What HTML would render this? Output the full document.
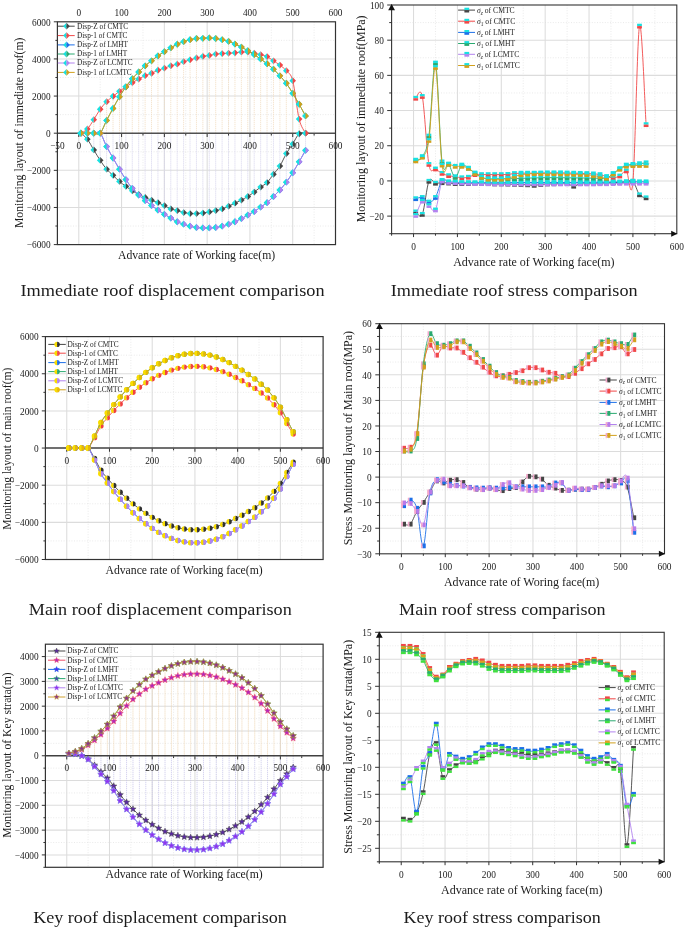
<!DOCTYPE html>
<html><head><meta charset="utf-8"><style>
html,body{margin:0;padding:0;background:#fff;}
svg{display:block;filter:blur(0.35px);}
text{font-family:"Liberation Serif",serif;fill:#1c1c1c;}
</style></head><body>
<svg width="685" height="929" viewBox="0 0 685 929">
<rect width="685" height="929" fill="#fff"/>
<line x1="100.18" y1="21.8" x2="100.18" y2="244.6" stroke="#e4e4e4" stroke-width="0.8" stroke-dasharray="1 1.6"/>
<line x1="142.97" y1="21.8" x2="142.97" y2="244.6" stroke="#e4e4e4" stroke-width="0.8" stroke-dasharray="1 1.6"/>
<line x1="185.75" y1="21.8" x2="185.75" y2="244.6" stroke="#e4e4e4" stroke-width="0.8" stroke-dasharray="1 1.6"/>
<line x1="228.54" y1="21.8" x2="228.54" y2="244.6" stroke="#e4e4e4" stroke-width="0.8" stroke-dasharray="1 1.6"/>
<line x1="271.32" y1="21.8" x2="271.32" y2="244.6" stroke="#e4e4e4" stroke-width="0.8" stroke-dasharray="1 1.6"/>
<line x1="314.11" y1="21.8" x2="314.11" y2="244.6" stroke="#e4e4e4" stroke-width="0.8" stroke-dasharray="1 1.6"/>
<line x1="57.4" y1="226.03" x2="335.5" y2="226.03" stroke="#e4e4e4" stroke-width="0.8" stroke-dasharray="1 1.6"/>
<line x1="57.4" y1="188.9" x2="335.5" y2="188.9" stroke="#e4e4e4" stroke-width="0.8" stroke-dasharray="1 1.6"/>
<line x1="57.4" y1="151.77" x2="335.5" y2="151.77" stroke="#e4e4e4" stroke-width="0.8" stroke-dasharray="1 1.6"/>
<line x1="57.4" y1="114.63" x2="335.5" y2="114.63" stroke="#e4e4e4" stroke-width="0.8" stroke-dasharray="1 1.6"/>
<line x1="57.4" y1="77.5" x2="335.5" y2="77.5" stroke="#e4e4e4" stroke-width="0.8" stroke-dasharray="1 1.6"/>
<line x1="57.4" y1="40.37" x2="335.5" y2="40.37" stroke="#e4e4e4" stroke-width="0.8" stroke-dasharray="1 1.6"/>
<line x1="78.79" y1="21.8" x2="78.79" y2="244.6" stroke="#dcdcdc" stroke-width="1.05"/>
<line x1="121.58" y1="21.8" x2="121.58" y2="244.6" stroke="#dcdcdc" stroke-width="1.05"/>
<line x1="164.36" y1="21.8" x2="164.36" y2="244.6" stroke="#dcdcdc" stroke-width="1.05"/>
<line x1="207.15" y1="21.8" x2="207.15" y2="244.6" stroke="#dcdcdc" stroke-width="1.05"/>
<line x1="249.93" y1="21.8" x2="249.93" y2="244.6" stroke="#dcdcdc" stroke-width="1.05"/>
<line x1="292.72" y1="21.8" x2="292.72" y2="244.6" stroke="#dcdcdc" stroke-width="1.05"/>
<line x1="57.4" y1="207.47" x2="335.5" y2="207.47" stroke="#dcdcdc" stroke-width="1.05"/>
<line x1="57.4" y1="170.33" x2="335.5" y2="170.33" stroke="#dcdcdc" stroke-width="1.05"/>
<line x1="57.4" y1="96.07" x2="335.5" y2="96.07" stroke="#dcdcdc" stroke-width="1.05"/>
<line x1="57.4" y1="58.93" x2="335.5" y2="58.93" stroke="#dcdcdc" stroke-width="1.05"/>
<path d="M80.93,133.2V133.2M87.35,133.2V129.02M93.77,133.2V119.65M100.18,133.2V109.25M106.6,133.2V101.73M113.02,133.2V96.25M119.44,133.2V91.33M125.86,133.2V86.78M132.27,133.2V78.71M138.69,133.2V72.02M145.11,133.2V65.8M151.53,133.2V60.79M157.94,133.2V55.78M164.36,133.2V51.69M170.78,133.2V47.79M177.2,133.2V44.27M183.61,133.2V41.67M190.03,133.2V39.72M196.45,133.2V38.51M202.87,133.2V38.32M209.29,133.2V37.95M215.7,133.2V38.51M222.12,133.2V39.72M228.54,133.2V41.3M234.96,133.2V44.08M241.37,133.2V47.05M247.79,133.2V50.76M254.21,133.2V53.18M260.63,133.2V54.66M267.04,133.2V56.61M273.46,133.2V60.79M279.88,133.2V65.06M286.3,133.2V70.72M292.72,133.2V80.66M299.13,133.2V104.24M305.55,133.2V115.93" stroke="#f2dcc0" stroke-width="0.75" stroke-dasharray="1.3 0.7" fill="none"/>
<path d="M80.93,133.2V133.2M87.35,133.2V139.2M93.77,133.2V149.91M100.18,133.2V160.31M106.6,133.2V169.22M113.02,133.2V175.35M119.44,133.2V181.47M125.86,133.2V186.3M132.27,133.2V190.76M138.69,133.2V195.03M145.11,133.2V200.6M151.53,133.2V205.61M157.94,133.2V210.07M164.36,133.2V214.34M170.78,133.2V218.05M177.2,133.2V221.76M183.61,133.2V224.18M190.03,133.2V226.22M196.45,133.2V227.52M202.87,133.2V227.89M209.29,133.2V227.89M215.7,133.2V227.52M222.12,133.2V226.22M228.54,133.2V224.18M234.96,133.2V221.76M241.37,133.2V218.61M247.79,133.2V215.08M254.21,133.2V211.55M260.63,133.2V207.1M267.04,133.2V202.64M273.46,133.2V196.51M279.88,133.2V190.01M286.3,133.2V182.22M292.72,133.2V172.75M299.13,133.2V161.79M305.55,133.2V150.28" stroke="#d4d2ec" stroke-width="0.75" stroke-dasharray="1.3 0.7" fill="none"/>
<line x1="57.4" y1="133.2" x2="335.5" y2="133.2" stroke="#505050" stroke-width="1.6"/>
<path d="M78.79,133.8V137M121.58,133.8V137M164.36,133.8V137M207.15,133.8V137M249.93,133.8V137M292.72,133.8V137M100.18,133.8V135.6M142.97,133.8V135.6M185.75,133.8V135.6M228.54,133.8V135.6M271.32,133.8V135.6M314.11,133.8V135.6" stroke="#333333" stroke-width="1"/>
<rect x="57.4" y="21.8" width="278.1" height="222.8" fill="none" stroke="#333333" stroke-width="1.2"/>
<path d="M53.8,244.6H57.4M53.8,207.47H57.4M53.8,170.33H57.4M53.8,133.2H57.4M53.8,96.07H57.4M53.8,58.93H57.4M53.8,21.8H57.4M55.4,226.03H57.4M55.4,188.9H57.4M55.4,151.77H57.4M55.4,114.63H57.4M55.4,77.5H57.4M55.4,40.37H57.4" stroke="#333333" stroke-width="1"/>
<text x="50.6" y="248.32" font-size="9.3" text-anchor="end">−6000</text>
<text x="50.6" y="211.19" font-size="9.3" text-anchor="end">−4000</text>
<text x="50.6" y="174.05" font-size="9.3" text-anchor="end">−2000</text>
<text x="50.6" y="136.92" font-size="9.3" text-anchor="end">0</text>
<text x="50.6" y="99.79" font-size="9.3" text-anchor="end">2000</text>
<text x="50.6" y="62.65" font-size="9.3" text-anchor="end">4000</text>
<text x="50.6" y="25.52" font-size="9.3" text-anchor="end">6000</text>
<text x="78.79" y="16" font-size="9.3" text-anchor="middle">0</text>
<text x="121.58" y="16" font-size="9.3" text-anchor="middle">100</text>
<text x="164.36" y="16" font-size="9.3" text-anchor="middle">200</text>
<text x="207.15" y="16" font-size="9.3" text-anchor="middle">300</text>
<text x="249.93" y="16" font-size="9.3" text-anchor="middle">400</text>
<text x="292.72" y="16" font-size="9.3" text-anchor="middle">500</text>
<text x="335.5" y="16" font-size="9.3" text-anchor="middle">600</text>
<text x="57.4" y="148.6" font-size="9.3" text-anchor="middle">−50</text>
<text x="78.79" y="148.6" font-size="9.3" text-anchor="middle">0</text>
<text x="121.58" y="148.6" font-size="9.3" text-anchor="middle">100</text>
<text x="164.36" y="148.6" font-size="9.3" text-anchor="middle">200</text>
<text x="207.15" y="148.6" font-size="9.3" text-anchor="middle">300</text>
<text x="249.93" y="148.6" font-size="9.3" text-anchor="middle">400</text>
<text x="292.72" y="148.6" font-size="9.3" text-anchor="middle">500</text>
<text x="335.5" y="148.6" font-size="9.3" text-anchor="middle">600</text>
<path d="M80.93,133.2C82,134.2 85.21,136.41 87.35,139.2C89.49,141.98 91.63,146.39 93.77,149.91C95.91,153.43 98.05,157.09 100.18,160.31C102.32,163.53 104.46,166.71 106.6,169.22C108.74,171.73 110.88,173.3 113.02,175.35C115.16,177.39 117.3,179.65 119.44,181.47C121.58,183.3 123.72,184.75 125.86,186.3C127.99,187.85 130.13,189.4 132.27,190.76C134.41,192.12 136.55,193.36 138.69,194.47C140.83,195.58 142.97,196.48 145.11,197.44C147.25,198.4 149.39,199.36 151.53,200.23C153.67,201.09 155.8,201.74 157.94,202.64C160.08,203.54 162.22,204.57 164.36,205.61C166.5,206.65 168.64,208.04 170.78,208.88C172.92,209.71 175.06,210.01 177.2,210.62C179.34,211.24 181.48,212.08 183.61,212.57C185.75,213.07 187.89,213.42 190.03,213.59C192.17,213.76 194.31,213.69 196.45,213.59C198.59,213.5 200.73,213.32 202.87,213.04C205.01,212.76 207.15,212.32 209.29,211.92C211.42,211.52 213.56,211.12 215.7,210.62C217.84,210.13 219.98,209.69 222.12,208.95C224.26,208.21 226.4,207.13 228.54,206.17C230.68,205.21 232.82,204.22 234.96,203.2C237.1,202.18 239.23,201.15 241.37,200.04C243.51,198.93 245.65,197.84 247.79,196.51C249.93,195.18 252.07,193.63 254.21,192.06C256.35,190.48 258.49,188.62 260.63,187.04C262.77,185.47 264.91,184.72 267.04,182.59C269.18,180.45 271.32,176.99 273.46,174.23C275.6,171.48 277.74,169.5 279.88,166.06C282.02,162.63 284.16,157.32 286.3,153.62C288.44,149.93 290.58,147.19 292.72,143.88C294.85,140.56 296.99,135.54 299.13,133.76C301.27,131.98 304.48,133.29 305.55,133.2" fill="none" stroke="#454545" stroke-width="0.9" stroke-linejoin="round"/>
<path d="M80.93,129.8L77.63,133.2L80.93,136.6Z" fill="#19e0e0"/><path d="M80.93,129.8L84.23,133.2L80.93,136.6Z" fill="#454545"/><path d="M87.35,135.8L84.05,139.2L87.35,142.6Z" fill="#19e0e0"/><path d="M87.35,135.8L90.65,139.2L87.35,142.6Z" fill="#454545"/><path d="M93.77,146.51L90.47,149.91L93.77,153.31Z" fill="#19e0e0"/><path d="M93.77,146.51L97.07,149.91L93.77,153.31Z" fill="#454545"/><path d="M100.18,156.91L96.88,160.31L100.18,163.71Z" fill="#19e0e0"/><path d="M100.18,156.91L103.48,160.31L100.18,163.71Z" fill="#454545"/><path d="M106.6,165.82L103.3,169.22L106.6,172.62Z" fill="#19e0e0"/><path d="M106.6,165.82L109.9,169.22L106.6,172.62Z" fill="#454545"/><path d="M113.02,171.95L109.72,175.35L113.02,178.75Z" fill="#19e0e0"/><path d="M113.02,171.95L116.32,175.35L113.02,178.75Z" fill="#454545"/><path d="M119.44,178.07L116.14,181.47L119.44,184.87Z" fill="#19e0e0"/><path d="M119.44,178.07L122.74,181.47L119.44,184.87Z" fill="#454545"/><path d="M125.86,182.9L122.56,186.3L125.86,189.7Z" fill="#19e0e0"/><path d="M125.86,182.9L129.16,186.3L125.86,189.7Z" fill="#454545"/><path d="M132.27,187.36L128.97,190.76L132.27,194.16Z" fill="#19e0e0"/><path d="M132.27,187.36L135.57,190.76L132.27,194.16Z" fill="#454545"/><path d="M138.69,191.07L135.39,194.47L138.69,197.87Z" fill="#19e0e0"/><path d="M138.69,191.07L141.99,194.47L138.69,197.87Z" fill="#454545"/><path d="M145.11,194.04L141.81,197.44L145.11,200.84Z" fill="#19e0e0"/><path d="M145.11,194.04L148.41,197.44L145.11,200.84Z" fill="#454545"/><path d="M151.53,196.83L148.23,200.23L151.53,203.63Z" fill="#19e0e0"/><path d="M151.53,196.83L154.83,200.23L151.53,203.63Z" fill="#454545"/><path d="M157.94,199.24L154.64,202.64L157.94,206.04Z" fill="#19e0e0"/><path d="M157.94,199.24L161.24,202.64L157.94,206.04Z" fill="#454545"/><path d="M164.36,202.21L161.06,205.61L164.36,209.01Z" fill="#19e0e0"/><path d="M164.36,202.21L167.66,205.61L164.36,209.01Z" fill="#454545"/><path d="M170.78,205.48L167.48,208.88L170.78,212.28Z" fill="#19e0e0"/><path d="M170.78,205.48L174.08,208.88L170.78,212.28Z" fill="#454545"/><path d="M177.2,207.22L173.9,210.62L177.2,214.02Z" fill="#19e0e0"/><path d="M177.2,207.22L180.5,210.62L177.2,214.02Z" fill="#454545"/><path d="M183.61,209.17L180.31,212.57L183.61,215.97Z" fill="#19e0e0"/><path d="M183.61,209.17L186.91,212.57L183.61,215.97Z" fill="#454545"/><path d="M190.03,210.19L186.73,213.59L190.03,216.99Z" fill="#19e0e0"/><path d="M190.03,210.19L193.33,213.59L190.03,216.99Z" fill="#454545"/><path d="M196.45,210.19L193.15,213.59L196.45,216.99Z" fill="#19e0e0"/><path d="M196.45,210.19L199.75,213.59L196.45,216.99Z" fill="#454545"/><path d="M202.87,209.64L199.57,213.04L202.87,216.44Z" fill="#19e0e0"/><path d="M202.87,209.64L206.17,213.04L202.87,216.44Z" fill="#454545"/><path d="M209.29,208.52L205.99,211.92L209.29,215.32Z" fill="#19e0e0"/><path d="M209.29,208.52L212.59,211.92L209.29,215.32Z" fill="#454545"/><path d="M215.7,207.22L212.4,210.62L215.7,214.02Z" fill="#19e0e0"/><path d="M215.7,207.22L219,210.62L215.7,214.02Z" fill="#454545"/><path d="M222.12,205.55L218.82,208.95L222.12,212.35Z" fill="#19e0e0"/><path d="M222.12,205.55L225.42,208.95L222.12,212.35Z" fill="#454545"/><path d="M228.54,202.77L225.24,206.17L228.54,209.57Z" fill="#19e0e0"/><path d="M228.54,202.77L231.84,206.17L228.54,209.57Z" fill="#454545"/><path d="M234.96,199.8L231.66,203.2L234.96,206.6Z" fill="#19e0e0"/><path d="M234.96,199.8L238.26,203.2L234.96,206.6Z" fill="#454545"/><path d="M241.37,196.64L238.07,200.04L241.37,203.44Z" fill="#19e0e0"/><path d="M241.37,196.64L244.67,200.04L241.37,203.44Z" fill="#454545"/><path d="M247.79,193.11L244.49,196.51L247.79,199.91Z" fill="#19e0e0"/><path d="M247.79,193.11L251.09,196.51L247.79,199.91Z" fill="#454545"/><path d="M254.21,188.66L250.91,192.06L254.21,195.46Z" fill="#19e0e0"/><path d="M254.21,188.66L257.51,192.06L254.21,195.46Z" fill="#454545"/><path d="M260.63,183.64L257.33,187.04L260.63,190.44Z" fill="#19e0e0"/><path d="M260.63,183.64L263.93,187.04L260.63,190.44Z" fill="#454545"/><path d="M267.04,179.19L263.74,182.59L267.04,185.99Z" fill="#19e0e0"/><path d="M267.04,179.19L270.34,182.59L267.04,185.99Z" fill="#454545"/><path d="M273.46,170.83L270.16,174.23L273.46,177.63Z" fill="#19e0e0"/><path d="M273.46,170.83L276.76,174.23L273.46,177.63Z" fill="#454545"/><path d="M279.88,162.66L276.58,166.06L279.88,169.46Z" fill="#19e0e0"/><path d="M279.88,162.66L283.18,166.06L279.88,169.46Z" fill="#454545"/><path d="M286.3,150.22L283,153.62L286.3,157.02Z" fill="#19e0e0"/><path d="M286.3,150.22L289.6,153.62L286.3,157.02Z" fill="#454545"/><path d="M292.72,140.48L289.42,143.88L292.72,147.28Z" fill="#19e0e0"/><path d="M292.72,140.48L296.02,143.88L292.72,147.28Z" fill="#454545"/><path d="M299.13,130.36L295.83,133.76L299.13,137.16Z" fill="#19e0e0"/><path d="M299.13,130.36L302.43,133.76L299.13,137.16Z" fill="#454545"/><path d="M305.55,129.8L302.25,133.2L305.55,136.6Z" fill="#19e0e0"/><path d="M305.55,129.8L308.85,133.2L305.55,136.6Z" fill="#454545"/>
<path d="M80.93,133.2C82,132.5 85.21,131.28 87.35,129.02C89.49,126.76 91.63,122.94 93.77,119.65C95.91,116.35 98.05,112.24 100.18,109.25C102.32,106.26 104.46,103.9 106.6,101.73C108.74,99.56 110.88,97.99 113.02,96.25C115.16,94.52 117.3,92.91 119.44,91.33C121.58,89.75 123.72,88.22 125.86,86.78C127.99,85.34 130.13,84 132.27,82.7C134.41,81.4 136.55,80.16 138.69,78.99C140.83,77.81 142.97,76.6 145.11,75.64C147.25,74.68 149.39,74.13 151.53,73.23C153.67,72.33 155.8,71.09 157.94,70.26C160.08,69.42 162.22,68.96 164.36,68.22C166.5,67.47 168.64,66.48 170.78,65.8C172.92,65.12 175.06,64.81 177.2,64.13C179.34,63.45 181.48,62.43 183.61,61.72C185.75,61.01 187.89,60.48 190.03,59.86C192.17,59.24 194.31,58.59 196.45,58C198.59,57.42 200.73,56.77 202.87,56.33C205.01,55.9 207.15,55.78 209.29,55.41C211.42,55.03 213.56,54.42 215.7,54.11C217.84,53.8 219.98,53.7 222.12,53.55C224.26,53.39 226.4,53.3 228.54,53.18C230.68,53.05 232.82,52.99 234.96,52.81C237.1,52.62 239.23,52.19 241.37,52.06C243.51,51.94 245.65,51.88 247.79,52.06C249.93,52.25 252.07,52.74 254.21,53.18C256.35,53.61 258.49,54.09 260.63,54.66C262.77,55.24 264.91,55.59 267.04,56.61C269.18,57.63 271.32,59.38 273.46,60.79C275.6,62.2 277.74,63.4 279.88,65.06C282.02,66.72 284.16,68.12 286.3,70.72C288.44,73.32 290.58,72.6 292.72,80.66C294.85,88.72 296.99,110.33 299.13,119.09C301.27,127.85 304.48,130.85 305.55,133.2" fill="none" stroke="#f04848" stroke-width="0.9" stroke-linejoin="round"/>
<path d="M80.93,129.8L77.63,133.2L80.93,136.6Z" fill="#19e0e0"/><path d="M80.93,129.8L84.23,133.2L80.93,136.6Z" fill="#f04848"/><path d="M87.35,125.62L84.05,129.02L87.35,132.42Z" fill="#19e0e0"/><path d="M87.35,125.62L90.65,129.02L87.35,132.42Z" fill="#f04848"/><path d="M93.77,116.25L90.47,119.65L93.77,123.05Z" fill="#19e0e0"/><path d="M93.77,116.25L97.07,119.65L93.77,123.05Z" fill="#f04848"/><path d="M100.18,105.85L96.88,109.25L100.18,112.65Z" fill="#19e0e0"/><path d="M100.18,105.85L103.48,109.25L100.18,112.65Z" fill="#f04848"/><path d="M106.6,98.33L103.3,101.73L106.6,105.13Z" fill="#19e0e0"/><path d="M106.6,98.33L109.9,101.73L106.6,105.13Z" fill="#f04848"/><path d="M113.02,92.85L109.72,96.25L113.02,99.65Z" fill="#19e0e0"/><path d="M113.02,92.85L116.32,96.25L113.02,99.65Z" fill="#f04848"/><path d="M119.44,87.93L116.14,91.33L119.44,94.73Z" fill="#19e0e0"/><path d="M119.44,87.93L122.74,91.33L119.44,94.73Z" fill="#f04848"/><path d="M125.86,83.38L122.56,86.78L125.86,90.18Z" fill="#19e0e0"/><path d="M125.86,83.38L129.16,86.78L125.86,90.18Z" fill="#f04848"/><path d="M132.27,79.3L128.97,82.7L132.27,86.1Z" fill="#19e0e0"/><path d="M132.27,79.3L135.57,82.7L132.27,86.1Z" fill="#f04848"/><path d="M138.69,75.59L135.39,78.99L138.69,82.39Z" fill="#19e0e0"/><path d="M138.69,75.59L141.99,78.99L138.69,82.39Z" fill="#f04848"/><path d="M145.11,72.24L141.81,75.64L145.11,79.04Z" fill="#19e0e0"/><path d="M145.11,72.24L148.41,75.64L145.11,79.04Z" fill="#f04848"/><path d="M151.53,69.83L148.23,73.23L151.53,76.63Z" fill="#19e0e0"/><path d="M151.53,69.83L154.83,73.23L151.53,76.63Z" fill="#f04848"/><path d="M157.94,66.86L154.64,70.26L157.94,73.66Z" fill="#19e0e0"/><path d="M157.94,66.86L161.24,70.26L157.94,73.66Z" fill="#f04848"/><path d="M164.36,64.82L161.06,68.22L164.36,71.62Z" fill="#19e0e0"/><path d="M164.36,64.82L167.66,68.22L164.36,71.62Z" fill="#f04848"/><path d="M170.78,62.4L167.48,65.8L170.78,69.2Z" fill="#19e0e0"/><path d="M170.78,62.4L174.08,65.8L170.78,69.2Z" fill="#f04848"/><path d="M177.2,60.73L173.9,64.13L177.2,67.53Z" fill="#19e0e0"/><path d="M177.2,60.73L180.5,64.13L177.2,67.53Z" fill="#f04848"/><path d="M183.61,58.32L180.31,61.72L183.61,65.12Z" fill="#19e0e0"/><path d="M183.61,58.32L186.91,61.72L183.61,65.12Z" fill="#f04848"/><path d="M190.03,56.46L186.73,59.86L190.03,63.26Z" fill="#19e0e0"/><path d="M190.03,56.46L193.33,59.86L190.03,63.26Z" fill="#f04848"/><path d="M196.45,54.6L193.15,58L196.45,61.4Z" fill="#19e0e0"/><path d="M196.45,54.6L199.75,58L196.45,61.4Z" fill="#f04848"/><path d="M202.87,52.93L199.57,56.33L202.87,59.73Z" fill="#19e0e0"/><path d="M202.87,52.93L206.17,56.33L202.87,59.73Z" fill="#f04848"/><path d="M209.29,52.01L205.99,55.41L209.29,58.81Z" fill="#19e0e0"/><path d="M209.29,52.01L212.59,55.41L209.29,58.81Z" fill="#f04848"/><path d="M215.7,50.71L212.4,54.11L215.7,57.51Z" fill="#19e0e0"/><path d="M215.7,50.71L219,54.11L215.7,57.51Z" fill="#f04848"/><path d="M222.12,50.15L218.82,53.55L222.12,56.95Z" fill="#19e0e0"/><path d="M222.12,50.15L225.42,53.55L222.12,56.95Z" fill="#f04848"/><path d="M228.54,49.78L225.24,53.18L228.54,56.58Z" fill="#19e0e0"/><path d="M228.54,49.78L231.84,53.18L228.54,56.58Z" fill="#f04848"/><path d="M234.96,49.41L231.66,52.81L234.96,56.21Z" fill="#19e0e0"/><path d="M234.96,49.41L238.26,52.81L234.96,56.21Z" fill="#f04848"/><path d="M241.37,48.66L238.07,52.06L241.37,55.46Z" fill="#19e0e0"/><path d="M241.37,48.66L244.67,52.06L241.37,55.46Z" fill="#f04848"/><path d="M247.79,48.66L244.49,52.06L247.79,55.46Z" fill="#19e0e0"/><path d="M247.79,48.66L251.09,52.06L247.79,55.46Z" fill="#f04848"/><path d="M254.21,49.78L250.91,53.18L254.21,56.58Z" fill="#19e0e0"/><path d="M254.21,49.78L257.51,53.18L254.21,56.58Z" fill="#f04848"/><path d="M260.63,51.26L257.33,54.66L260.63,58.06Z" fill="#19e0e0"/><path d="M260.63,51.26L263.93,54.66L260.63,58.06Z" fill="#f04848"/><path d="M267.04,53.21L263.74,56.61L267.04,60.01Z" fill="#19e0e0"/><path d="M267.04,53.21L270.34,56.61L267.04,60.01Z" fill="#f04848"/><path d="M273.46,57.39L270.16,60.79L273.46,64.19Z" fill="#19e0e0"/><path d="M273.46,57.39L276.76,60.79L273.46,64.19Z" fill="#f04848"/><path d="M279.88,61.66L276.58,65.06L279.88,68.46Z" fill="#19e0e0"/><path d="M279.88,61.66L283.18,65.06L279.88,68.46Z" fill="#f04848"/><path d="M286.3,67.32L283,70.72L286.3,74.12Z" fill="#19e0e0"/><path d="M286.3,67.32L289.6,70.72L286.3,74.12Z" fill="#f04848"/><path d="M292.72,77.26L289.42,80.66L292.72,84.06Z" fill="#19e0e0"/><path d="M292.72,77.26L296.02,80.66L292.72,84.06Z" fill="#f04848"/><path d="M299.13,115.69L295.83,119.09L299.13,122.49Z" fill="#19e0e0"/><path d="M299.13,115.69L302.43,119.09L299.13,122.49Z" fill="#f04848"/><path d="M305.55,129.8L302.25,133.2L305.55,136.6Z" fill="#19e0e0"/><path d="M305.55,129.8L308.85,133.2L305.55,136.6Z" fill="#f04848"/>
<path d="M80.93,133.2C82,133.2 85.21,133.2 87.35,133.2C89.49,133.2 91.63,133.2 93.77,133.2C95.91,133.2 98.05,130.97 100.18,133.2C102.32,135.43 104.46,142.44 106.6,146.57C108.74,150.7 110.88,154.21 113.02,157.99C115.16,161.76 117.3,165.61 119.44,169.22C121.58,172.82 123.72,176.43 125.86,179.62C127.99,182.8 130.13,185.77 132.27,188.34C134.41,190.91 136.55,192.98 138.69,195.03C140.83,197.07 142.97,198.83 145.11,200.6C147.25,202.36 149.39,204.03 151.53,205.61C153.67,207.19 155.8,208.61 157.94,210.07C160.08,211.52 162.22,213.01 164.36,214.34C166.5,215.67 168.64,216.81 170.78,218.05C172.92,219.29 175.06,220.74 177.2,221.76C179.34,222.78 181.48,223.43 183.61,224.18C185.75,224.92 187.89,225.66 190.03,226.22C192.17,226.78 194.31,227.24 196.45,227.52C198.59,227.8 200.73,227.83 202.87,227.89C205.01,227.95 207.15,227.95 209.29,227.89C211.42,227.83 213.56,227.8 215.7,227.52C217.84,227.24 219.98,226.78 222.12,226.22C224.26,225.66 226.4,224.92 228.54,224.18C230.68,223.43 232.82,222.69 234.96,221.76C237.1,220.83 239.23,219.72 241.37,218.61C243.51,217.49 245.65,216.25 247.79,215.08C249.93,213.9 252.07,212.88 254.21,211.55C256.35,210.22 258.49,208.58 260.63,207.1C262.77,205.61 264.91,204.4 267.04,202.64C269.18,200.88 271.32,198.62 273.46,196.51C275.6,194.41 277.74,192.4 279.88,190.01C282.02,187.63 284.16,185.09 286.3,182.22C288.44,179.34 290.58,176.15 292.72,172.75C294.85,169.34 296.99,165.54 299.13,161.79C301.27,158.05 304.48,152.2 305.55,150.28" fill="none" stroke="#1c6fe8" stroke-width="0.9" stroke-linejoin="round"/>
<path d="M80.93,129.8L77.63,133.2L80.93,136.6Z" fill="#19e0e0"/><path d="M80.93,129.8L84.23,133.2L80.93,136.6Z" fill="#1c6fe8"/><path d="M87.35,129.8L84.05,133.2L87.35,136.6Z" fill="#19e0e0"/><path d="M87.35,129.8L90.65,133.2L87.35,136.6Z" fill="#1c6fe8"/><path d="M93.77,129.8L90.47,133.2L93.77,136.6Z" fill="#19e0e0"/><path d="M93.77,129.8L97.07,133.2L93.77,136.6Z" fill="#1c6fe8"/><path d="M100.18,129.8L96.88,133.2L100.18,136.6Z" fill="#19e0e0"/><path d="M100.18,129.8L103.48,133.2L100.18,136.6Z" fill="#1c6fe8"/><path d="M106.6,143.17L103.3,146.57L106.6,149.97Z" fill="#19e0e0"/><path d="M106.6,143.17L109.9,146.57L106.6,149.97Z" fill="#1c6fe8"/><path d="M113.02,154.59L109.72,157.99L113.02,161.39Z" fill="#19e0e0"/><path d="M113.02,154.59L116.32,157.99L113.02,161.39Z" fill="#1c6fe8"/><path d="M119.44,165.82L116.14,169.22L119.44,172.62Z" fill="#19e0e0"/><path d="M119.44,165.82L122.74,169.22L119.44,172.62Z" fill="#1c6fe8"/><path d="M125.86,176.22L122.56,179.62L125.86,183.02Z" fill="#19e0e0"/><path d="M125.86,176.22L129.16,179.62L125.86,183.02Z" fill="#1c6fe8"/><path d="M132.27,184.94L128.97,188.34L132.27,191.74Z" fill="#19e0e0"/><path d="M132.27,184.94L135.57,188.34L132.27,191.74Z" fill="#1c6fe8"/><path d="M138.69,191.63L135.39,195.03L138.69,198.43Z" fill="#19e0e0"/><path d="M138.69,191.63L141.99,195.03L138.69,198.43Z" fill="#1c6fe8"/><path d="M145.11,197.2L141.81,200.6L145.11,204Z" fill="#19e0e0"/><path d="M145.11,197.2L148.41,200.6L145.11,204Z" fill="#1c6fe8"/><path d="M151.53,202.21L148.23,205.61L151.53,209.01Z" fill="#19e0e0"/><path d="M151.53,202.21L154.83,205.61L151.53,209.01Z" fill="#1c6fe8"/><path d="M157.94,206.67L154.64,210.07L157.94,213.47Z" fill="#19e0e0"/><path d="M157.94,206.67L161.24,210.07L157.94,213.47Z" fill="#1c6fe8"/><path d="M164.36,210.94L161.06,214.34L164.36,217.74Z" fill="#19e0e0"/><path d="M164.36,210.94L167.66,214.34L164.36,217.74Z" fill="#1c6fe8"/><path d="M170.78,214.65L167.48,218.05L170.78,221.45Z" fill="#19e0e0"/><path d="M170.78,214.65L174.08,218.05L170.78,221.45Z" fill="#1c6fe8"/><path d="M177.2,218.36L173.9,221.76L177.2,225.16Z" fill="#19e0e0"/><path d="M177.2,218.36L180.5,221.76L177.2,225.16Z" fill="#1c6fe8"/><path d="M183.61,220.78L180.31,224.18L183.61,227.58Z" fill="#19e0e0"/><path d="M183.61,220.78L186.91,224.18L183.61,227.58Z" fill="#1c6fe8"/><path d="M190.03,222.82L186.73,226.22L190.03,229.62Z" fill="#19e0e0"/><path d="M190.03,222.82L193.33,226.22L190.03,229.62Z" fill="#1c6fe8"/><path d="M196.45,224.12L193.15,227.52L196.45,230.92Z" fill="#19e0e0"/><path d="M196.45,224.12L199.75,227.52L196.45,230.92Z" fill="#1c6fe8"/><path d="M202.87,224.49L199.57,227.89L202.87,231.29Z" fill="#19e0e0"/><path d="M202.87,224.49L206.17,227.89L202.87,231.29Z" fill="#1c6fe8"/><path d="M209.29,224.49L205.99,227.89L209.29,231.29Z" fill="#19e0e0"/><path d="M209.29,224.49L212.59,227.89L209.29,231.29Z" fill="#1c6fe8"/><path d="M215.7,224.12L212.4,227.52L215.7,230.92Z" fill="#19e0e0"/><path d="M215.7,224.12L219,227.52L215.7,230.92Z" fill="#1c6fe8"/><path d="M222.12,222.82L218.82,226.22L222.12,229.62Z" fill="#19e0e0"/><path d="M222.12,222.82L225.42,226.22L222.12,229.62Z" fill="#1c6fe8"/><path d="M228.54,220.78L225.24,224.18L228.54,227.58Z" fill="#19e0e0"/><path d="M228.54,220.78L231.84,224.18L228.54,227.58Z" fill="#1c6fe8"/><path d="M234.96,218.36L231.66,221.76L234.96,225.16Z" fill="#19e0e0"/><path d="M234.96,218.36L238.26,221.76L234.96,225.16Z" fill="#1c6fe8"/><path d="M241.37,215.21L238.07,218.61L241.37,222.01Z" fill="#19e0e0"/><path d="M241.37,215.21L244.67,218.61L241.37,222.01Z" fill="#1c6fe8"/><path d="M247.79,211.68L244.49,215.08L247.79,218.48Z" fill="#19e0e0"/><path d="M247.79,211.68L251.09,215.08L247.79,218.48Z" fill="#1c6fe8"/><path d="M254.21,208.15L250.91,211.55L254.21,214.95Z" fill="#19e0e0"/><path d="M254.21,208.15L257.51,211.55L254.21,214.95Z" fill="#1c6fe8"/><path d="M260.63,203.7L257.33,207.1L260.63,210.5Z" fill="#19e0e0"/><path d="M260.63,203.7L263.93,207.1L260.63,210.5Z" fill="#1c6fe8"/><path d="M267.04,199.24L263.74,202.64L267.04,206.04Z" fill="#19e0e0"/><path d="M267.04,199.24L270.34,202.64L267.04,206.04Z" fill="#1c6fe8"/><path d="M273.46,193.11L270.16,196.51L273.46,199.91Z" fill="#19e0e0"/><path d="M273.46,193.11L276.76,196.51L273.46,199.91Z" fill="#1c6fe8"/><path d="M279.88,186.61L276.58,190.01L279.88,193.41Z" fill="#19e0e0"/><path d="M279.88,186.61L283.18,190.01L279.88,193.41Z" fill="#1c6fe8"/><path d="M286.3,178.82L283,182.22L286.3,185.62Z" fill="#19e0e0"/><path d="M286.3,178.82L289.6,182.22L286.3,185.62Z" fill="#1c6fe8"/><path d="M292.72,169.35L289.42,172.75L292.72,176.15Z" fill="#19e0e0"/><path d="M292.72,169.35L296.02,172.75L292.72,176.15Z" fill="#1c6fe8"/><path d="M299.13,158.39L295.83,161.79L299.13,165.19Z" fill="#19e0e0"/><path d="M299.13,158.39L302.43,161.79L299.13,165.19Z" fill="#1c6fe8"/><path d="M305.55,146.88L302.25,150.28L305.55,153.68Z" fill="#19e0e0"/><path d="M305.55,146.88L308.85,150.28L305.55,153.68Z" fill="#1c6fe8"/>
<path d="M80.93,133.2C82,133.2 85.21,133.2 87.35,133.2C89.49,133.2 91.63,133.2 93.77,133.2C95.91,133.2 98.05,135.34 100.18,133.2C102.32,131.06 104.46,124.52 106.6,120.39C108.74,116.26 110.88,112.34 113.02,108.41C115.16,104.48 117.3,100.41 119.44,96.81C121.58,93.2 123.72,89.8 125.86,86.78C127.99,83.77 130.13,81.17 132.27,78.71C134.41,76.25 136.55,74.17 138.69,72.02C140.83,69.87 142.97,67.68 145.11,65.8C147.25,63.93 149.39,62.46 151.53,60.79C153.67,59.12 155.8,57.29 157.94,55.78C160.08,54.26 162.22,53.02 164.36,51.69C166.5,50.36 168.64,49.03 170.78,47.79C172.92,46.56 175.06,45.29 177.2,44.27C179.34,43.24 181.48,42.42 183.61,41.67C185.75,40.91 187.89,40.24 190.03,39.72C192.17,39.19 194.31,38.74 196.45,38.51C198.59,38.28 200.73,38.42 202.87,38.32C205.01,38.23 207.15,37.92 209.29,37.95C211.42,37.98 213.56,38.22 215.7,38.51C217.84,38.8 219.98,39.25 222.12,39.72C224.26,40.18 226.4,40.57 228.54,41.3C230.68,42.02 232.82,43.12 234.96,44.08C237.1,45.04 239.23,45.94 241.37,47.05C243.51,48.16 245.65,49.5 247.79,50.76C249.93,52.03 252.07,53.3 254.21,54.66C256.35,56.02 258.49,57.42 260.63,58.93C262.77,60.45 264.91,62.06 267.04,63.76C269.18,65.46 271.32,67.13 273.46,69.15C275.6,71.16 277.74,73.48 279.88,75.83C282.02,78.18 284.16,80.35 286.3,83.26C288.44,86.16 290.58,89.78 292.72,93.28C294.85,96.78 296.99,100.46 299.13,104.24C301.27,108.01 304.48,113.98 305.55,115.93" fill="none" stroke="#2aaa70" stroke-width="0.9" stroke-linejoin="round"/>
<path d="M80.93,129.8L77.63,133.2L80.93,136.6Z" fill="#19e0e0"/><path d="M80.93,129.8L84.23,133.2L80.93,136.6Z" fill="#2aaa70"/><path d="M87.35,129.8L84.05,133.2L87.35,136.6Z" fill="#19e0e0"/><path d="M87.35,129.8L90.65,133.2L87.35,136.6Z" fill="#2aaa70"/><path d="M93.77,129.8L90.47,133.2L93.77,136.6Z" fill="#19e0e0"/><path d="M93.77,129.8L97.07,133.2L93.77,136.6Z" fill="#2aaa70"/><path d="M100.18,129.8L96.88,133.2L100.18,136.6Z" fill="#19e0e0"/><path d="M100.18,129.8L103.48,133.2L100.18,136.6Z" fill="#2aaa70"/><path d="M106.6,116.99L103.3,120.39L106.6,123.79Z" fill="#19e0e0"/><path d="M106.6,116.99L109.9,120.39L106.6,123.79Z" fill="#2aaa70"/><path d="M113.02,105.01L109.72,108.41L113.02,111.81Z" fill="#19e0e0"/><path d="M113.02,105.01L116.32,108.41L113.02,111.81Z" fill="#2aaa70"/><path d="M119.44,93.41L116.14,96.81L119.44,100.21Z" fill="#19e0e0"/><path d="M119.44,93.41L122.74,96.81L119.44,100.21Z" fill="#2aaa70"/><path d="M125.86,83.38L122.56,86.78L125.86,90.18Z" fill="#19e0e0"/><path d="M125.86,83.38L129.16,86.78L125.86,90.18Z" fill="#2aaa70"/><path d="M132.27,75.31L128.97,78.71L132.27,82.11Z" fill="#19e0e0"/><path d="M132.27,75.31L135.57,78.71L132.27,82.11Z" fill="#2aaa70"/><path d="M138.69,68.62L135.39,72.02L138.69,75.42Z" fill="#19e0e0"/><path d="M138.69,68.62L141.99,72.02L138.69,75.42Z" fill="#2aaa70"/><path d="M145.11,62.4L141.81,65.8L145.11,69.2Z" fill="#19e0e0"/><path d="M145.11,62.4L148.41,65.8L145.11,69.2Z" fill="#2aaa70"/><path d="M151.53,57.39L148.23,60.79L151.53,64.19Z" fill="#19e0e0"/><path d="M151.53,57.39L154.83,60.79L151.53,64.19Z" fill="#2aaa70"/><path d="M157.94,52.38L154.64,55.78L157.94,59.18Z" fill="#19e0e0"/><path d="M157.94,52.38L161.24,55.78L157.94,59.18Z" fill="#2aaa70"/><path d="M164.36,48.29L161.06,51.69L164.36,55.09Z" fill="#19e0e0"/><path d="M164.36,48.29L167.66,51.69L164.36,55.09Z" fill="#2aaa70"/><path d="M170.78,44.39L167.48,47.79L170.78,51.19Z" fill="#19e0e0"/><path d="M170.78,44.39L174.08,47.79L170.78,51.19Z" fill="#2aaa70"/><path d="M177.2,40.87L173.9,44.27L177.2,47.67Z" fill="#19e0e0"/><path d="M177.2,40.87L180.5,44.27L177.2,47.67Z" fill="#2aaa70"/><path d="M183.61,38.27L180.31,41.67L183.61,45.07Z" fill="#19e0e0"/><path d="M183.61,38.27L186.91,41.67L183.61,45.07Z" fill="#2aaa70"/><path d="M190.03,36.32L186.73,39.72L190.03,43.12Z" fill="#19e0e0"/><path d="M190.03,36.32L193.33,39.72L190.03,43.12Z" fill="#2aaa70"/><path d="M196.45,35.11L193.15,38.51L196.45,41.91Z" fill="#19e0e0"/><path d="M196.45,35.11L199.75,38.51L196.45,41.91Z" fill="#2aaa70"/><path d="M202.87,34.92L199.57,38.32L202.87,41.72Z" fill="#19e0e0"/><path d="M202.87,34.92L206.17,38.32L202.87,41.72Z" fill="#2aaa70"/><path d="M209.29,34.55L205.99,37.95L209.29,41.35Z" fill="#19e0e0"/><path d="M209.29,34.55L212.59,37.95L209.29,41.35Z" fill="#2aaa70"/><path d="M215.7,35.11L212.4,38.51L215.7,41.91Z" fill="#19e0e0"/><path d="M215.7,35.11L219,38.51L215.7,41.91Z" fill="#2aaa70"/><path d="M222.12,36.32L218.82,39.72L222.12,43.12Z" fill="#19e0e0"/><path d="M222.12,36.32L225.42,39.72L222.12,43.12Z" fill="#2aaa70"/><path d="M228.54,37.9L225.24,41.3L228.54,44.7Z" fill="#19e0e0"/><path d="M228.54,37.9L231.84,41.3L228.54,44.7Z" fill="#2aaa70"/><path d="M234.96,40.68L231.66,44.08L234.96,47.48Z" fill="#19e0e0"/><path d="M234.96,40.68L238.26,44.08L234.96,47.48Z" fill="#2aaa70"/><path d="M241.37,43.65L238.07,47.05L241.37,50.45Z" fill="#19e0e0"/><path d="M241.37,43.65L244.67,47.05L241.37,50.45Z" fill="#2aaa70"/><path d="M247.79,47.36L244.49,50.76L247.79,54.16Z" fill="#19e0e0"/><path d="M247.79,47.36L251.09,50.76L247.79,54.16Z" fill="#2aaa70"/><path d="M254.21,51.26L250.91,54.66L254.21,58.06Z" fill="#19e0e0"/><path d="M254.21,51.26L257.51,54.66L254.21,58.06Z" fill="#2aaa70"/><path d="M260.63,55.53L257.33,58.93L260.63,62.33Z" fill="#19e0e0"/><path d="M260.63,55.53L263.93,58.93L260.63,62.33Z" fill="#2aaa70"/><path d="M267.04,60.36L263.74,63.76L267.04,67.16Z" fill="#19e0e0"/><path d="M267.04,60.36L270.34,63.76L267.04,67.16Z" fill="#2aaa70"/><path d="M273.46,65.75L270.16,69.15L273.46,72.55Z" fill="#19e0e0"/><path d="M273.46,65.75L276.76,69.15L273.46,72.55Z" fill="#2aaa70"/><path d="M279.88,72.43L276.58,75.83L279.88,79.23Z" fill="#19e0e0"/><path d="M279.88,72.43L283.18,75.83L279.88,79.23Z" fill="#2aaa70"/><path d="M286.3,79.86L283,83.26L286.3,86.66Z" fill="#19e0e0"/><path d="M286.3,79.86L289.6,83.26L286.3,86.66Z" fill="#2aaa70"/><path d="M292.72,89.88L289.42,93.28L292.72,96.68Z" fill="#19e0e0"/><path d="M292.72,89.88L296.02,93.28L292.72,96.68Z" fill="#2aaa70"/><path d="M299.13,100.84L295.83,104.24L299.13,107.64Z" fill="#19e0e0"/><path d="M299.13,100.84L302.43,104.24L299.13,107.64Z" fill="#2aaa70"/><path d="M305.55,112.53L302.25,115.93L305.55,119.33Z" fill="#19e0e0"/><path d="M305.55,112.53L308.85,115.93L305.55,119.33Z" fill="#2aaa70"/>
<path d="M80.93,133.2C82,133.2 85.21,133.2 87.35,133.2C89.49,133.2 91.63,133.2 93.77,133.2C95.91,133.2 98.05,130.97 100.18,133.2C102.32,135.43 104.46,142.44 106.6,146.57C108.74,150.7 110.88,154.21 113.02,157.99C115.16,161.76 117.3,165.61 119.44,169.22C121.58,172.82 123.72,176.43 125.86,179.62C127.99,182.8 130.13,185.77 132.27,188.34C134.41,190.91 136.55,192.98 138.69,195.03C140.83,197.07 142.97,198.83 145.11,200.6C147.25,202.36 149.39,204.03 151.53,205.61C153.67,207.19 155.8,208.61 157.94,210.07C160.08,211.52 162.22,213.01 164.36,214.34C166.5,215.67 168.64,216.81 170.78,218.05C172.92,219.29 175.06,220.74 177.2,221.76C179.34,222.78 181.48,223.43 183.61,224.18C185.75,224.92 187.89,225.66 190.03,226.22C192.17,226.78 194.31,227.24 196.45,227.52C198.59,227.8 200.73,227.83 202.87,227.89C205.01,227.95 207.15,227.95 209.29,227.89C211.42,227.83 213.56,227.8 215.7,227.52C217.84,227.24 219.98,226.78 222.12,226.22C224.26,225.66 226.4,224.92 228.54,224.18C230.68,223.43 232.82,222.69 234.96,221.76C237.1,220.83 239.23,219.72 241.37,218.61C243.51,217.49 245.65,216.25 247.79,215.08C249.93,213.9 252.07,212.88 254.21,211.55C256.35,210.22 258.49,208.58 260.63,207.1C262.77,205.61 264.91,204.4 267.04,202.64C269.18,200.88 271.32,198.62 273.46,196.51C275.6,194.41 277.74,192.4 279.88,190.01C282.02,187.63 284.16,185.09 286.3,182.22C288.44,179.34 290.58,176.15 292.72,172.75C294.85,169.34 296.99,165.54 299.13,161.79C301.27,158.05 304.48,152.2 305.55,150.28" fill="none" stroke="#b283ee" stroke-width="0.9" stroke-linejoin="round"/>
<path d="M80.93,129.8L77.63,133.2L80.93,136.6Z" fill="#19e0e0"/><path d="M80.93,129.8L84.23,133.2L80.93,136.6Z" fill="#b283ee"/><path d="M87.35,129.8L84.05,133.2L87.35,136.6Z" fill="#19e0e0"/><path d="M87.35,129.8L90.65,133.2L87.35,136.6Z" fill="#b283ee"/><path d="M93.77,129.8L90.47,133.2L93.77,136.6Z" fill="#19e0e0"/><path d="M93.77,129.8L97.07,133.2L93.77,136.6Z" fill="#b283ee"/><path d="M100.18,129.8L96.88,133.2L100.18,136.6Z" fill="#19e0e0"/><path d="M100.18,129.8L103.48,133.2L100.18,136.6Z" fill="#b283ee"/><path d="M106.6,143.17L103.3,146.57L106.6,149.97Z" fill="#19e0e0"/><path d="M106.6,143.17L109.9,146.57L106.6,149.97Z" fill="#b283ee"/><path d="M113.02,154.59L109.72,157.99L113.02,161.39Z" fill="#19e0e0"/><path d="M113.02,154.59L116.32,157.99L113.02,161.39Z" fill="#b283ee"/><path d="M119.44,165.82L116.14,169.22L119.44,172.62Z" fill="#19e0e0"/><path d="M119.44,165.82L122.74,169.22L119.44,172.62Z" fill="#b283ee"/><path d="M125.86,176.22L122.56,179.62L125.86,183.02Z" fill="#19e0e0"/><path d="M125.86,176.22L129.16,179.62L125.86,183.02Z" fill="#b283ee"/><path d="M132.27,184.94L128.97,188.34L132.27,191.74Z" fill="#19e0e0"/><path d="M132.27,184.94L135.57,188.34L132.27,191.74Z" fill="#b283ee"/><path d="M138.69,191.63L135.39,195.03L138.69,198.43Z" fill="#19e0e0"/><path d="M138.69,191.63L141.99,195.03L138.69,198.43Z" fill="#b283ee"/><path d="M145.11,197.2L141.81,200.6L145.11,204Z" fill="#19e0e0"/><path d="M145.11,197.2L148.41,200.6L145.11,204Z" fill="#b283ee"/><path d="M151.53,202.21L148.23,205.61L151.53,209.01Z" fill="#19e0e0"/><path d="M151.53,202.21L154.83,205.61L151.53,209.01Z" fill="#b283ee"/><path d="M157.94,206.67L154.64,210.07L157.94,213.47Z" fill="#19e0e0"/><path d="M157.94,206.67L161.24,210.07L157.94,213.47Z" fill="#b283ee"/><path d="M164.36,210.94L161.06,214.34L164.36,217.74Z" fill="#19e0e0"/><path d="M164.36,210.94L167.66,214.34L164.36,217.74Z" fill="#b283ee"/><path d="M170.78,214.65L167.48,218.05L170.78,221.45Z" fill="#19e0e0"/><path d="M170.78,214.65L174.08,218.05L170.78,221.45Z" fill="#b283ee"/><path d="M177.2,218.36L173.9,221.76L177.2,225.16Z" fill="#19e0e0"/><path d="M177.2,218.36L180.5,221.76L177.2,225.16Z" fill="#b283ee"/><path d="M183.61,220.78L180.31,224.18L183.61,227.58Z" fill="#19e0e0"/><path d="M183.61,220.78L186.91,224.18L183.61,227.58Z" fill="#b283ee"/><path d="M190.03,222.82L186.73,226.22L190.03,229.62Z" fill="#19e0e0"/><path d="M190.03,222.82L193.33,226.22L190.03,229.62Z" fill="#b283ee"/><path d="M196.45,224.12L193.15,227.52L196.45,230.92Z" fill="#19e0e0"/><path d="M196.45,224.12L199.75,227.52L196.45,230.92Z" fill="#b283ee"/><path d="M202.87,224.49L199.57,227.89L202.87,231.29Z" fill="#19e0e0"/><path d="M202.87,224.49L206.17,227.89L202.87,231.29Z" fill="#b283ee"/><path d="M209.29,224.49L205.99,227.89L209.29,231.29Z" fill="#19e0e0"/><path d="M209.29,224.49L212.59,227.89L209.29,231.29Z" fill="#b283ee"/><path d="M215.7,224.12L212.4,227.52L215.7,230.92Z" fill="#19e0e0"/><path d="M215.7,224.12L219,227.52L215.7,230.92Z" fill="#b283ee"/><path d="M222.12,222.82L218.82,226.22L222.12,229.62Z" fill="#19e0e0"/><path d="M222.12,222.82L225.42,226.22L222.12,229.62Z" fill="#b283ee"/><path d="M228.54,220.78L225.24,224.18L228.54,227.58Z" fill="#19e0e0"/><path d="M228.54,220.78L231.84,224.18L228.54,227.58Z" fill="#b283ee"/><path d="M234.96,218.36L231.66,221.76L234.96,225.16Z" fill="#19e0e0"/><path d="M234.96,218.36L238.26,221.76L234.96,225.16Z" fill="#b283ee"/><path d="M241.37,215.21L238.07,218.61L241.37,222.01Z" fill="#19e0e0"/><path d="M241.37,215.21L244.67,218.61L241.37,222.01Z" fill="#b283ee"/><path d="M247.79,211.68L244.49,215.08L247.79,218.48Z" fill="#19e0e0"/><path d="M247.79,211.68L251.09,215.08L247.79,218.48Z" fill="#b283ee"/><path d="M254.21,208.15L250.91,211.55L254.21,214.95Z" fill="#19e0e0"/><path d="M254.21,208.15L257.51,211.55L254.21,214.95Z" fill="#b283ee"/><path d="M260.63,203.7L257.33,207.1L260.63,210.5Z" fill="#19e0e0"/><path d="M260.63,203.7L263.93,207.1L260.63,210.5Z" fill="#b283ee"/><path d="M267.04,199.24L263.74,202.64L267.04,206.04Z" fill="#19e0e0"/><path d="M267.04,199.24L270.34,202.64L267.04,206.04Z" fill="#b283ee"/><path d="M273.46,193.11L270.16,196.51L273.46,199.91Z" fill="#19e0e0"/><path d="M273.46,193.11L276.76,196.51L273.46,199.91Z" fill="#b283ee"/><path d="M279.88,186.61L276.58,190.01L279.88,193.41Z" fill="#19e0e0"/><path d="M279.88,186.61L283.18,190.01L279.88,193.41Z" fill="#b283ee"/><path d="M286.3,178.82L283,182.22L286.3,185.62Z" fill="#19e0e0"/><path d="M286.3,178.82L289.6,182.22L286.3,185.62Z" fill="#b283ee"/><path d="M292.72,169.35L289.42,172.75L292.72,176.15Z" fill="#19e0e0"/><path d="M292.72,169.35L296.02,172.75L292.72,176.15Z" fill="#b283ee"/><path d="M299.13,158.39L295.83,161.79L299.13,165.19Z" fill="#19e0e0"/><path d="M299.13,158.39L302.43,161.79L299.13,165.19Z" fill="#b283ee"/><path d="M305.55,146.88L302.25,150.28L305.55,153.68Z" fill="#19e0e0"/><path d="M305.55,146.88L308.85,150.28L305.55,153.68Z" fill="#b283ee"/>
<path d="M80.93,133.2C82,133.2 85.21,133.2 87.35,133.2C89.49,133.2 91.63,133.2 93.77,133.2C95.91,133.2 98.05,135.34 100.18,133.2C102.32,131.06 104.46,124.52 106.6,120.39C108.74,116.26 110.88,112.34 113.02,108.41C115.16,104.48 117.3,100.41 119.44,96.81C121.58,93.2 123.72,89.8 125.86,86.78C127.99,83.77 130.13,81.17 132.27,78.71C134.41,76.25 136.55,74.17 138.69,72.02C140.83,69.87 142.97,67.68 145.11,65.8C147.25,63.93 149.39,62.46 151.53,60.79C153.67,59.12 155.8,57.29 157.94,55.78C160.08,54.26 162.22,53.02 164.36,51.69C166.5,50.36 168.64,49.03 170.78,47.79C172.92,46.56 175.06,45.29 177.2,44.27C179.34,43.24 181.48,42.42 183.61,41.67C185.75,40.91 187.89,40.24 190.03,39.72C192.17,39.19 194.31,38.74 196.45,38.51C198.59,38.28 200.73,38.42 202.87,38.32C205.01,38.23 207.15,37.92 209.29,37.95C211.42,37.98 213.56,38.22 215.7,38.51C217.84,38.8 219.98,39.25 222.12,39.72C224.26,40.18 226.4,40.57 228.54,41.3C230.68,42.02 232.82,43.12 234.96,44.08C237.1,45.04 239.23,45.94 241.37,47.05C243.51,48.16 245.65,49.5 247.79,50.76C249.93,52.03 252.07,53.3 254.21,54.66C256.35,56.02 258.49,57.42 260.63,58.93C262.77,60.45 264.91,62.06 267.04,63.76C269.18,65.46 271.32,67.13 273.46,69.15C275.6,71.16 277.74,73.48 279.88,75.83C282.02,78.18 284.16,80.35 286.3,83.26C288.44,86.16 290.58,89.78 292.72,93.28C294.85,96.78 296.99,100.46 299.13,104.24C301.27,108.01 304.48,113.98 305.55,115.93" fill="none" stroke="#d2a01c" stroke-width="0.9" stroke-linejoin="round"/>
<path d="M80.93,129.8L77.63,133.2L80.93,136.6Z" fill="#19e0e0"/><path d="M80.93,129.8L84.23,133.2L80.93,136.6Z" fill="#d2a01c"/><path d="M87.35,129.8L84.05,133.2L87.35,136.6Z" fill="#19e0e0"/><path d="M87.35,129.8L90.65,133.2L87.35,136.6Z" fill="#d2a01c"/><path d="M93.77,129.8L90.47,133.2L93.77,136.6Z" fill="#19e0e0"/><path d="M93.77,129.8L97.07,133.2L93.77,136.6Z" fill="#d2a01c"/><path d="M100.18,129.8L96.88,133.2L100.18,136.6Z" fill="#19e0e0"/><path d="M100.18,129.8L103.48,133.2L100.18,136.6Z" fill="#d2a01c"/><path d="M106.6,116.99L103.3,120.39L106.6,123.79Z" fill="#19e0e0"/><path d="M106.6,116.99L109.9,120.39L106.6,123.79Z" fill="#d2a01c"/><path d="M113.02,105.01L109.72,108.41L113.02,111.81Z" fill="#19e0e0"/><path d="M113.02,105.01L116.32,108.41L113.02,111.81Z" fill="#d2a01c"/><path d="M119.44,93.41L116.14,96.81L119.44,100.21Z" fill="#19e0e0"/><path d="M119.44,93.41L122.74,96.81L119.44,100.21Z" fill="#d2a01c"/><path d="M125.86,83.38L122.56,86.78L125.86,90.18Z" fill="#19e0e0"/><path d="M125.86,83.38L129.16,86.78L125.86,90.18Z" fill="#d2a01c"/><path d="M132.27,75.31L128.97,78.71L132.27,82.11Z" fill="#19e0e0"/><path d="M132.27,75.31L135.57,78.71L132.27,82.11Z" fill="#d2a01c"/><path d="M138.69,68.62L135.39,72.02L138.69,75.42Z" fill="#19e0e0"/><path d="M138.69,68.62L141.99,72.02L138.69,75.42Z" fill="#d2a01c"/><path d="M145.11,62.4L141.81,65.8L145.11,69.2Z" fill="#19e0e0"/><path d="M145.11,62.4L148.41,65.8L145.11,69.2Z" fill="#d2a01c"/><path d="M151.53,57.39L148.23,60.79L151.53,64.19Z" fill="#19e0e0"/><path d="M151.53,57.39L154.83,60.79L151.53,64.19Z" fill="#d2a01c"/><path d="M157.94,52.38L154.64,55.78L157.94,59.18Z" fill="#19e0e0"/><path d="M157.94,52.38L161.24,55.78L157.94,59.18Z" fill="#d2a01c"/><path d="M164.36,48.29L161.06,51.69L164.36,55.09Z" fill="#19e0e0"/><path d="M164.36,48.29L167.66,51.69L164.36,55.09Z" fill="#d2a01c"/><path d="M170.78,44.39L167.48,47.79L170.78,51.19Z" fill="#19e0e0"/><path d="M170.78,44.39L174.08,47.79L170.78,51.19Z" fill="#d2a01c"/><path d="M177.2,40.87L173.9,44.27L177.2,47.67Z" fill="#19e0e0"/><path d="M177.2,40.87L180.5,44.27L177.2,47.67Z" fill="#d2a01c"/><path d="M183.61,38.27L180.31,41.67L183.61,45.07Z" fill="#19e0e0"/><path d="M183.61,38.27L186.91,41.67L183.61,45.07Z" fill="#d2a01c"/><path d="M190.03,36.32L186.73,39.72L190.03,43.12Z" fill="#19e0e0"/><path d="M190.03,36.32L193.33,39.72L190.03,43.12Z" fill="#d2a01c"/><path d="M196.45,35.11L193.15,38.51L196.45,41.91Z" fill="#19e0e0"/><path d="M196.45,35.11L199.75,38.51L196.45,41.91Z" fill="#d2a01c"/><path d="M202.87,34.92L199.57,38.32L202.87,41.72Z" fill="#19e0e0"/><path d="M202.87,34.92L206.17,38.32L202.87,41.72Z" fill="#d2a01c"/><path d="M209.29,34.55L205.99,37.95L209.29,41.35Z" fill="#19e0e0"/><path d="M209.29,34.55L212.59,37.95L209.29,41.35Z" fill="#d2a01c"/><path d="M215.7,35.11L212.4,38.51L215.7,41.91Z" fill="#19e0e0"/><path d="M215.7,35.11L219,38.51L215.7,41.91Z" fill="#d2a01c"/><path d="M222.12,36.32L218.82,39.72L222.12,43.12Z" fill="#19e0e0"/><path d="M222.12,36.32L225.42,39.72L222.12,43.12Z" fill="#d2a01c"/><path d="M228.54,37.9L225.24,41.3L228.54,44.7Z" fill="#19e0e0"/><path d="M228.54,37.9L231.84,41.3L228.54,44.7Z" fill="#d2a01c"/><path d="M234.96,40.68L231.66,44.08L234.96,47.48Z" fill="#19e0e0"/><path d="M234.96,40.68L238.26,44.08L234.96,47.48Z" fill="#d2a01c"/><path d="M241.37,43.65L238.07,47.05L241.37,50.45Z" fill="#19e0e0"/><path d="M241.37,43.65L244.67,47.05L241.37,50.45Z" fill="#d2a01c"/><path d="M247.79,47.36L244.49,50.76L247.79,54.16Z" fill="#19e0e0"/><path d="M247.79,47.36L251.09,50.76L247.79,54.16Z" fill="#d2a01c"/><path d="M254.21,51.26L250.91,54.66L254.21,58.06Z" fill="#19e0e0"/><path d="M254.21,51.26L257.51,54.66L254.21,58.06Z" fill="#d2a01c"/><path d="M260.63,55.53L257.33,58.93L260.63,62.33Z" fill="#19e0e0"/><path d="M260.63,55.53L263.93,58.93L260.63,62.33Z" fill="#d2a01c"/><path d="M267.04,60.36L263.74,63.76L267.04,67.16Z" fill="#19e0e0"/><path d="M267.04,60.36L270.34,63.76L267.04,67.16Z" fill="#d2a01c"/><path d="M273.46,65.75L270.16,69.15L273.46,72.55Z" fill="#19e0e0"/><path d="M273.46,65.75L276.76,69.15L273.46,72.55Z" fill="#d2a01c"/><path d="M279.88,72.43L276.58,75.83L279.88,79.23Z" fill="#19e0e0"/><path d="M279.88,72.43L283.18,75.83L279.88,79.23Z" fill="#d2a01c"/><path d="M286.3,79.86L283,83.26L286.3,86.66Z" fill="#19e0e0"/><path d="M286.3,79.86L289.6,83.26L286.3,86.66Z" fill="#d2a01c"/><path d="M292.72,89.88L289.42,93.28L292.72,96.68Z" fill="#19e0e0"/><path d="M292.72,89.88L296.02,93.28L292.72,96.68Z" fill="#d2a01c"/><path d="M299.13,100.84L295.83,104.24L299.13,107.64Z" fill="#19e0e0"/><path d="M299.13,100.84L302.43,104.24L299.13,107.64Z" fill="#d2a01c"/><path d="M305.55,112.53L302.25,115.93L305.55,119.33Z" fill="#19e0e0"/><path d="M305.55,112.53L308.85,115.93L305.55,119.33Z" fill="#d2a01c"/>
<line x1="57.8" y1="26.2" x2="74.7" y2="26.2" stroke="#454545" stroke-width="1.0"/>
<path d="M66.5,22.8L63.2,26.2L66.5,29.6Z" fill="#19e0e0"/><path d="M66.5,22.8L69.8,26.2L66.5,29.6Z" fill="#454545"/>
<text x="77" y="28.68" font-size="7.3">Disp-Z of CMTC</text>
<line x1="57.8" y1="35.6" x2="74.7" y2="35.6" stroke="#f04848" stroke-width="1.0"/>
<path d="M66.5,32.2L63.2,35.6L66.5,39Z" fill="#19e0e0"/><path d="M66.5,32.2L69.8,35.6L66.5,39Z" fill="#f04848"/>
<text x="77" y="38.08" font-size="7.3">Disp-1 of CMTC</text>
<line x1="57.8" y1="44.9" x2="74.7" y2="44.9" stroke="#1c6fe8" stroke-width="1.0"/>
<path d="M66.5,41.5L63.2,44.9L66.5,48.3Z" fill="#19e0e0"/><path d="M66.5,41.5L69.8,44.9L66.5,48.3Z" fill="#1c6fe8"/>
<text x="77" y="47.38" font-size="7.3">Disp-Z of LMHT</text>
<line x1="57.8" y1="54" x2="74.7" y2="54" stroke="#2aaa70" stroke-width="1.0"/>
<path d="M66.5,50.6L63.2,54L66.5,57.4Z" fill="#19e0e0"/><path d="M66.5,50.6L69.8,54L66.5,57.4Z" fill="#2aaa70"/>
<text x="77" y="56.48" font-size="7.3">Disp-1 of LMHT</text>
<line x1="57.8" y1="63" x2="74.7" y2="63" stroke="#b283ee" stroke-width="1.0"/>
<path d="M66.5,59.6L63.2,63L66.5,66.4Z" fill="#19e0e0"/><path d="M66.5,59.6L69.8,63L66.5,66.4Z" fill="#b283ee"/>
<text x="77" y="65.48" font-size="7.3">Disp-Z of LCMTC</text>
<line x1="57.8" y1="72.4" x2="74.7" y2="72.4" stroke="#d2a01c" stroke-width="1.0"/>
<path d="M66.5,69L63.2,72.4L66.5,75.8Z" fill="#19e0e0"/><path d="M66.5,69L69.8,72.4L66.5,75.8Z" fill="#d2a01c"/>
<text x="77" y="74.88" font-size="7.3">Disp-1 of LCMTC</text>
<text x="196.6" y="259.3" font-size="11.7" text-anchor="middle" >Advance rate of Working face(m)</text>
<text transform="translate(22.6,132.8) rotate(-90)" font-size="11.75" text-anchor="middle">Monitoring layout of immediate roof(m)</text>
<text x="20.5" y="295.6" font-size="17.3" textLength="304.1" lengthAdjust="spacingAndGlyphs" fill="#000">Immediate roof displacement comparison</text>
<line x1="435.48" y1="5" x2="435.48" y2="233.7" stroke="#e4e4e4" stroke-width="0.8" stroke-dasharray="1 1.6"/>
<line x1="479.35" y1="5" x2="479.35" y2="233.7" stroke="#e4e4e4" stroke-width="0.8" stroke-dasharray="1 1.6"/>
<line x1="523.23" y1="5" x2="523.23" y2="233.7" stroke="#e4e4e4" stroke-width="0.8" stroke-dasharray="1 1.6"/>
<line x1="567.11" y1="5" x2="567.11" y2="233.7" stroke="#e4e4e4" stroke-width="0.8" stroke-dasharray="1 1.6"/>
<line x1="610.98" y1="5" x2="610.98" y2="233.7" stroke="#e4e4e4" stroke-width="0.8" stroke-dasharray="1 1.6"/>
<line x1="654.86" y1="5" x2="654.86" y2="233.7" stroke="#e4e4e4" stroke-width="0.8" stroke-dasharray="1 1.6"/>
<line x1="391.6" y1="198.52" x2="676.8" y2="198.52" stroke="#e4e4e4" stroke-width="0.8" stroke-dasharray="1 1.6"/>
<line x1="391.6" y1="163.33" x2="676.8" y2="163.33" stroke="#e4e4e4" stroke-width="0.8" stroke-dasharray="1 1.6"/>
<line x1="391.6" y1="128.15" x2="676.8" y2="128.15" stroke="#e4e4e4" stroke-width="0.8" stroke-dasharray="1 1.6"/>
<line x1="391.6" y1="92.96" x2="676.8" y2="92.96" stroke="#e4e4e4" stroke-width="0.8" stroke-dasharray="1 1.6"/>
<line x1="391.6" y1="57.78" x2="676.8" y2="57.78" stroke="#e4e4e4" stroke-width="0.8" stroke-dasharray="1 1.6"/>
<line x1="391.6" y1="22.59" x2="676.8" y2="22.59" stroke="#e4e4e4" stroke-width="0.8" stroke-dasharray="1 1.6"/>
<line x1="413.54" y1="5" x2="413.54" y2="233.7" stroke="#dcdcdc" stroke-width="1.05"/>
<line x1="457.42" y1="5" x2="457.42" y2="233.7" stroke="#dcdcdc" stroke-width="1.05"/>
<line x1="501.29" y1="5" x2="501.29" y2="233.7" stroke="#dcdcdc" stroke-width="1.05"/>
<line x1="545.17" y1="5" x2="545.17" y2="233.7" stroke="#dcdcdc" stroke-width="1.05"/>
<line x1="589.05" y1="5" x2="589.05" y2="233.7" stroke="#dcdcdc" stroke-width="1.05"/>
<line x1="632.92" y1="5" x2="632.92" y2="233.7" stroke="#dcdcdc" stroke-width="1.05"/>
<line x1="391.6" y1="216.11" x2="676.8" y2="216.11" stroke="#dcdcdc" stroke-width="1.05"/>
<line x1="391.6" y1="180.92" x2="676.8" y2="180.92" stroke="#dcdcdc" stroke-width="1.05"/>
<line x1="391.6" y1="145.74" x2="676.8" y2="145.74" stroke="#dcdcdc" stroke-width="1.05"/>
<line x1="391.6" y1="110.55" x2="676.8" y2="110.55" stroke="#dcdcdc" stroke-width="1.05"/>
<line x1="391.6" y1="75.37" x2="676.8" y2="75.37" stroke="#dcdcdc" stroke-width="1.05"/>
<line x1="391.6" y1="40.18" x2="676.8" y2="40.18" stroke="#dcdcdc" stroke-width="1.05"/>
<rect x="391.6" y="5" width="285.2" height="228.7" fill="none" stroke="#333333" stroke-width="1.1"/>
<path d="M387.2,216.11H391.6M387.2,180.92H391.6M387.2,145.74H391.6M387.2,110.55H391.6M387.2,75.37H391.6M387.2,40.18H391.6M387.2,5H391.6M389.2,233.7H391.6M389.2,198.52H391.6M389.2,163.33H391.6M389.2,128.15H391.6M389.2,92.96H391.6M389.2,57.78H391.6M389.2,22.59H391.6" stroke="#333333" stroke-width="1"/>
<text x="383.9" y="219.83" font-size="9.3" text-anchor="end">−20</text>
<text x="383.9" y="184.64" font-size="9.3" text-anchor="end">0</text>
<text x="383.9" y="149.46" font-size="9.3" text-anchor="end">20</text>
<text x="383.9" y="114.27" font-size="9.3" text-anchor="end">40</text>
<text x="383.9" y="79.09" font-size="9.3" text-anchor="end">60</text>
<text x="383.9" y="43.9" font-size="9.3" text-anchor="end">80</text>
<text x="383.9" y="8.72" font-size="9.3" text-anchor="end">100</text>
<path d="M413.54,233.7V237.1M457.42,233.7V237.1M501.29,233.7V237.1M545.17,233.7V237.1M589.05,233.7V237.1M632.92,233.7V237.1M391.6,233.7V235.7M435.48,233.7V235.7M479.35,233.7V235.7M523.23,233.7V235.7M567.11,233.7V235.7M610.98,233.7V235.7M654.86,233.7V235.7" stroke="#333333" stroke-width="1"/>
<path d="M391.6,4 L388.2,10.2 L395,10.2Z" fill="#111"/>
<path d="M677.4,233.7 L671.2,230.7 L671.2,236.7Z" fill="#111"/>
<text x="413.54" y="249.8" font-size="9.4" text-anchor="middle">0</text>
<text x="457.42" y="249.8" font-size="9.4" text-anchor="middle">100</text>
<text x="501.29" y="249.8" font-size="9.4" text-anchor="middle">200</text>
<text x="545.17" y="249.8" font-size="9.4" text-anchor="middle">300</text>
<text x="589.05" y="249.8" font-size="9.4" text-anchor="middle">400</text>
<text x="632.92" y="249.8" font-size="9.4" text-anchor="middle">500</text>
<text x="676.8" y="249.8" font-size="9.4" text-anchor="middle">600</text>
<path d="M415.73,211.89C416.83,212.3 420.12,219.45 422.31,214.35C424.51,209.25 426.7,186.46 428.9,181.27C431.09,176.09 433.28,182.98 435.48,183.21C437.67,183.44 439.86,182.71 442.06,182.68C444.25,182.65 446.45,182.89 448.64,183.03C450.83,183.18 453.03,183.47 455.22,183.56C457.42,183.65 459.61,183.56 461.8,183.56C464,183.56 466.19,183.56 468.38,183.56C470.58,183.56 472.77,183.56 474.97,183.56C477.16,183.56 479.35,183.56 481.55,183.56C483.74,183.56 485.94,183.5 488.13,183.56C490.32,183.62 492.52,183.86 494.71,183.91C496.9,183.97 499.1,183.88 501.29,183.91C503.49,183.94 505.68,184.03 507.87,184.09C510.07,184.15 512.26,184.21 514.46,184.27C516.65,184.32 518.84,184.35 521.04,184.44C523.23,184.53 525.42,184.65 527.62,184.79C529.81,184.94 532.01,185.38 534.2,185.32C536.39,185.26 538.59,184.68 540.78,184.44C542.98,184.21 545.17,184.03 547.36,183.91C549.56,183.8 551.75,183.8 553.94,183.74C556.14,183.68 558.33,183.59 560.53,183.56C562.72,183.53 564.91,183.12 567.11,183.56C569.3,184 571.5,186.2 573.69,186.2C575.88,186.2 578.08,184.06 580.27,183.56C582.46,183.06 584.66,183.27 586.85,183.21C589.05,183.15 591.24,183.21 593.43,183.21C595.63,183.21 597.82,183.24 600.02,183.21C602.21,183.18 604.4,183.12 606.6,183.03C608.79,182.95 610.98,182.8 613.18,182.68C615.37,182.57 617.57,182.45 619.76,182.33C621.95,182.21 624.15,182.18 626.34,181.98C628.54,181.77 630.73,178.96 632.92,181.1C635.12,183.24 637.31,192.04 639.5,194.82C641.7,197.61 644.99,197.31 646.09,197.81" fill="none" stroke="#454545" stroke-width="0.9" stroke-linejoin="round"/>
<rect x="413.33" y="209.49" width="4.8" height="2.4" fill="#19e0e0"/><rect x="413.33" y="211.89" width="4.8" height="2.4" fill="#454545"/><rect x="419.91" y="211.95" width="4.8" height="2.4" fill="#19e0e0"/><rect x="419.91" y="214.35" width="4.8" height="2.4" fill="#454545"/><rect x="426.5" y="178.87" width="4.8" height="2.4" fill="#19e0e0"/><rect x="426.5" y="181.27" width="4.8" height="2.4" fill="#454545"/><rect x="433.08" y="180.81" width="4.8" height="2.4" fill="#19e0e0"/><rect x="433.08" y="183.21" width="4.8" height="2.4" fill="#454545"/><rect x="439.66" y="180.28" width="4.8" height="2.4" fill="#19e0e0"/><rect x="439.66" y="182.68" width="4.8" height="2.4" fill="#454545"/><rect x="446.24" y="180.63" width="4.8" height="2.4" fill="#19e0e0"/><rect x="446.24" y="183.03" width="4.8" height="2.4" fill="#454545"/><rect x="452.82" y="181.16" width="4.8" height="2.4" fill="#19e0e0"/><rect x="452.82" y="183.56" width="4.8" height="2.4" fill="#454545"/><rect x="459.4" y="181.16" width="4.8" height="2.4" fill="#19e0e0"/><rect x="459.4" y="183.56" width="4.8" height="2.4" fill="#454545"/><rect x="465.98" y="181.16" width="4.8" height="2.4" fill="#19e0e0"/><rect x="465.98" y="183.56" width="4.8" height="2.4" fill="#454545"/><rect x="472.57" y="181.16" width="4.8" height="2.4" fill="#19e0e0"/><rect x="472.57" y="183.56" width="4.8" height="2.4" fill="#454545"/><rect x="479.15" y="181.16" width="4.8" height="2.4" fill="#19e0e0"/><rect x="479.15" y="183.56" width="4.8" height="2.4" fill="#454545"/><rect x="485.73" y="181.16" width="4.8" height="2.4" fill="#19e0e0"/><rect x="485.73" y="183.56" width="4.8" height="2.4" fill="#454545"/><rect x="492.31" y="181.51" width="4.8" height="2.4" fill="#19e0e0"/><rect x="492.31" y="183.91" width="4.8" height="2.4" fill="#454545"/><rect x="498.89" y="181.51" width="4.8" height="2.4" fill="#19e0e0"/><rect x="498.89" y="183.91" width="4.8" height="2.4" fill="#454545"/><rect x="505.47" y="181.69" width="4.8" height="2.4" fill="#19e0e0"/><rect x="505.47" y="184.09" width="4.8" height="2.4" fill="#454545"/><rect x="512.06" y="181.87" width="4.8" height="2.4" fill="#19e0e0"/><rect x="512.06" y="184.27" width="4.8" height="2.4" fill="#454545"/><rect x="518.64" y="182.04" width="4.8" height="2.4" fill="#19e0e0"/><rect x="518.64" y="184.44" width="4.8" height="2.4" fill="#454545"/><rect x="525.22" y="182.39" width="4.8" height="2.4" fill="#19e0e0"/><rect x="525.22" y="184.79" width="4.8" height="2.4" fill="#454545"/><rect x="531.8" y="182.92" width="4.8" height="2.4" fill="#19e0e0"/><rect x="531.8" y="185.32" width="4.8" height="2.4" fill="#454545"/><rect x="538.38" y="182.04" width="4.8" height="2.4" fill="#19e0e0"/><rect x="538.38" y="184.44" width="4.8" height="2.4" fill="#454545"/><rect x="544.96" y="181.51" width="4.8" height="2.4" fill="#19e0e0"/><rect x="544.96" y="183.91" width="4.8" height="2.4" fill="#454545"/><rect x="551.54" y="181.34" width="4.8" height="2.4" fill="#19e0e0"/><rect x="551.54" y="183.74" width="4.8" height="2.4" fill="#454545"/><rect x="558.13" y="181.16" width="4.8" height="2.4" fill="#19e0e0"/><rect x="558.13" y="183.56" width="4.8" height="2.4" fill="#454545"/><rect x="564.71" y="181.16" width="4.8" height="2.4" fill="#19e0e0"/><rect x="564.71" y="183.56" width="4.8" height="2.4" fill="#454545"/><rect x="571.29" y="183.8" width="4.8" height="2.4" fill="#19e0e0"/><rect x="571.29" y="186.2" width="4.8" height="2.4" fill="#454545"/><rect x="577.87" y="181.16" width="4.8" height="2.4" fill="#19e0e0"/><rect x="577.87" y="183.56" width="4.8" height="2.4" fill="#454545"/><rect x="584.45" y="180.81" width="4.8" height="2.4" fill="#19e0e0"/><rect x="584.45" y="183.21" width="4.8" height="2.4" fill="#454545"/><rect x="591.03" y="180.81" width="4.8" height="2.4" fill="#19e0e0"/><rect x="591.03" y="183.21" width="4.8" height="2.4" fill="#454545"/><rect x="597.62" y="180.81" width="4.8" height="2.4" fill="#19e0e0"/><rect x="597.62" y="183.21" width="4.8" height="2.4" fill="#454545"/><rect x="604.2" y="180.63" width="4.8" height="2.4" fill="#19e0e0"/><rect x="604.2" y="183.03" width="4.8" height="2.4" fill="#454545"/><rect x="610.78" y="180.28" width="4.8" height="2.4" fill="#19e0e0"/><rect x="610.78" y="182.68" width="4.8" height="2.4" fill="#454545"/><rect x="617.36" y="179.93" width="4.8" height="2.4" fill="#19e0e0"/><rect x="617.36" y="182.33" width="4.8" height="2.4" fill="#454545"/><rect x="623.94" y="179.58" width="4.8" height="2.4" fill="#19e0e0"/><rect x="623.94" y="181.98" width="4.8" height="2.4" fill="#454545"/><rect x="630.52" y="178.7" width="4.8" height="2.4" fill="#19e0e0"/><rect x="630.52" y="181.1" width="4.8" height="2.4" fill="#454545"/><rect x="637.1" y="192.42" width="4.8" height="2.4" fill="#19e0e0"/><rect x="637.1" y="194.82" width="4.8" height="2.4" fill="#454545"/><rect x="643.69" y="195.41" width="4.8" height="2.4" fill="#19e0e0"/><rect x="643.69" y="197.81" width="4.8" height="2.4" fill="#454545"/>
<path d="M415.73,98.24C416.83,97.95 420.12,85.46 422.31,96.48C424.51,107.5 426.7,152.31 428.9,164.39C431.09,176.47 433.28,167.46 435.48,168.96C437.67,170.46 439.86,172.24 442.06,173.36C444.25,174.47 446.45,175.09 448.64,175.65C450.83,176.2 453.03,176.35 455.22,176.7C457.42,177.05 459.61,177.67 461.8,177.76C464,177.84 466.19,177.76 468.38,177.23C470.58,176.7 472.77,175.03 474.97,174.59C477.16,174.15 479.35,174.59 481.55,174.59C483.74,174.59 485.94,174.59 488.13,174.59C490.32,174.59 492.52,174.59 494.71,174.59C496.9,174.59 499.1,174.62 501.29,174.59C503.49,174.56 505.68,174.59 507.87,174.41C510.07,174.24 512.26,173.74 514.46,173.53C516.65,173.33 518.84,173.24 521.04,173.18C523.23,173.12 525.42,173.18 527.62,173.18C529.81,173.18 532.01,173.21 534.2,173.18C536.39,173.15 538.59,173.07 540.78,173.01C542.98,172.95 545.17,172.86 547.36,172.83C549.56,172.8 551.75,172.83 553.94,172.83C556.14,172.83 558.33,172.8 560.53,172.83C562.72,172.86 564.91,172.95 567.11,173.01C569.3,173.07 571.5,173.12 573.69,173.18C575.88,173.24 578.08,173.3 580.27,173.36C582.46,173.42 584.66,173.45 586.85,173.53C589.05,173.62 591.24,173.71 593.43,173.89C595.63,174.06 597.82,174.15 600.02,174.59C602.21,175.03 604.4,176 606.6,176.52C608.79,177.05 610.98,177.84 613.18,177.76C615.37,177.67 617.57,177.14 619.76,176C621.95,174.85 624.15,169.99 626.34,170.9C628.54,171.8 630.73,205.58 632.92,181.45C635.12,157.32 637.31,35.58 639.5,26.11C641.7,16.64 644.99,108.21 646.09,124.63" fill="none" stroke="#f04848" stroke-width="0.9" stroke-linejoin="round"/>
<rect x="413.33" y="95.84" width="4.8" height="2.4" fill="#19e0e0"/><rect x="413.33" y="98.24" width="4.8" height="2.4" fill="#f04848"/><rect x="419.91" y="94.08" width="4.8" height="2.4" fill="#19e0e0"/><rect x="419.91" y="96.48" width="4.8" height="2.4" fill="#f04848"/><rect x="426.5" y="161.99" width="4.8" height="2.4" fill="#19e0e0"/><rect x="426.5" y="164.39" width="4.8" height="2.4" fill="#f04848"/><rect x="433.08" y="166.56" width="4.8" height="2.4" fill="#19e0e0"/><rect x="433.08" y="168.96" width="4.8" height="2.4" fill="#f04848"/><rect x="439.66" y="170.96" width="4.8" height="2.4" fill="#19e0e0"/><rect x="439.66" y="173.36" width="4.8" height="2.4" fill="#f04848"/><rect x="446.24" y="173.25" width="4.8" height="2.4" fill="#19e0e0"/><rect x="446.24" y="175.65" width="4.8" height="2.4" fill="#f04848"/><rect x="452.82" y="174.3" width="4.8" height="2.4" fill="#19e0e0"/><rect x="452.82" y="176.7" width="4.8" height="2.4" fill="#f04848"/><rect x="459.4" y="175.36" width="4.8" height="2.4" fill="#19e0e0"/><rect x="459.4" y="177.76" width="4.8" height="2.4" fill="#f04848"/><rect x="465.98" y="174.83" width="4.8" height="2.4" fill="#19e0e0"/><rect x="465.98" y="177.23" width="4.8" height="2.4" fill="#f04848"/><rect x="472.57" y="172.19" width="4.8" height="2.4" fill="#19e0e0"/><rect x="472.57" y="174.59" width="4.8" height="2.4" fill="#f04848"/><rect x="479.15" y="172.19" width="4.8" height="2.4" fill="#19e0e0"/><rect x="479.15" y="174.59" width="4.8" height="2.4" fill="#f04848"/><rect x="485.73" y="172.19" width="4.8" height="2.4" fill="#19e0e0"/><rect x="485.73" y="174.59" width="4.8" height="2.4" fill="#f04848"/><rect x="492.31" y="172.19" width="4.8" height="2.4" fill="#19e0e0"/><rect x="492.31" y="174.59" width="4.8" height="2.4" fill="#f04848"/><rect x="498.89" y="172.19" width="4.8" height="2.4" fill="#19e0e0"/><rect x="498.89" y="174.59" width="4.8" height="2.4" fill="#f04848"/><rect x="505.47" y="172.01" width="4.8" height="2.4" fill="#19e0e0"/><rect x="505.47" y="174.41" width="4.8" height="2.4" fill="#f04848"/><rect x="512.06" y="171.13" width="4.8" height="2.4" fill="#19e0e0"/><rect x="512.06" y="173.53" width="4.8" height="2.4" fill="#f04848"/><rect x="518.64" y="170.78" width="4.8" height="2.4" fill="#19e0e0"/><rect x="518.64" y="173.18" width="4.8" height="2.4" fill="#f04848"/><rect x="525.22" y="170.78" width="4.8" height="2.4" fill="#19e0e0"/><rect x="525.22" y="173.18" width="4.8" height="2.4" fill="#f04848"/><rect x="531.8" y="170.78" width="4.8" height="2.4" fill="#19e0e0"/><rect x="531.8" y="173.18" width="4.8" height="2.4" fill="#f04848"/><rect x="538.38" y="170.61" width="4.8" height="2.4" fill="#19e0e0"/><rect x="538.38" y="173.01" width="4.8" height="2.4" fill="#f04848"/><rect x="544.96" y="170.43" width="4.8" height="2.4" fill="#19e0e0"/><rect x="544.96" y="172.83" width="4.8" height="2.4" fill="#f04848"/><rect x="551.54" y="170.43" width="4.8" height="2.4" fill="#19e0e0"/><rect x="551.54" y="172.83" width="4.8" height="2.4" fill="#f04848"/><rect x="558.13" y="170.43" width="4.8" height="2.4" fill="#19e0e0"/><rect x="558.13" y="172.83" width="4.8" height="2.4" fill="#f04848"/><rect x="564.71" y="170.61" width="4.8" height="2.4" fill="#19e0e0"/><rect x="564.71" y="173.01" width="4.8" height="2.4" fill="#f04848"/><rect x="571.29" y="170.78" width="4.8" height="2.4" fill="#19e0e0"/><rect x="571.29" y="173.18" width="4.8" height="2.4" fill="#f04848"/><rect x="577.87" y="170.96" width="4.8" height="2.4" fill="#19e0e0"/><rect x="577.87" y="173.36" width="4.8" height="2.4" fill="#f04848"/><rect x="584.45" y="171.13" width="4.8" height="2.4" fill="#19e0e0"/><rect x="584.45" y="173.53" width="4.8" height="2.4" fill="#f04848"/><rect x="591.03" y="171.49" width="4.8" height="2.4" fill="#19e0e0"/><rect x="591.03" y="173.89" width="4.8" height="2.4" fill="#f04848"/><rect x="597.62" y="172.19" width="4.8" height="2.4" fill="#19e0e0"/><rect x="597.62" y="174.59" width="4.8" height="2.4" fill="#f04848"/><rect x="604.2" y="174.12" width="4.8" height="2.4" fill="#19e0e0"/><rect x="604.2" y="176.52" width="4.8" height="2.4" fill="#f04848"/><rect x="610.78" y="175.36" width="4.8" height="2.4" fill="#19e0e0"/><rect x="610.78" y="177.76" width="4.8" height="2.4" fill="#f04848"/><rect x="617.36" y="173.6" width="4.8" height="2.4" fill="#19e0e0"/><rect x="617.36" y="176" width="4.8" height="2.4" fill="#f04848"/><rect x="623.94" y="168.5" width="4.8" height="2.4" fill="#19e0e0"/><rect x="623.94" y="170.9" width="4.8" height="2.4" fill="#f04848"/><rect x="630.52" y="179.05" width="4.8" height="2.4" fill="#19e0e0"/><rect x="630.52" y="181.45" width="4.8" height="2.4" fill="#f04848"/><rect x="637.1" y="23.71" width="4.8" height="2.4" fill="#19e0e0"/><rect x="637.1" y="26.11" width="4.8" height="2.4" fill="#f04848"/><rect x="643.69" y="122.23" width="4.8" height="2.4" fill="#19e0e0"/><rect x="643.69" y="124.63" width="4.8" height="2.4" fill="#f04848"/>
<path d="M415.73,198.69C416.83,198.49 420.12,196.9 422.31,197.46C424.51,198.02 426.7,202.03 428.9,202.03C431.09,202.03 433.28,201.07 435.48,197.46C437.67,193.85 439.86,183 442.06,180.4C444.25,177.79 446.45,181.48 448.64,181.8C450.83,182.13 453.03,182.18 455.22,182.33C457.42,182.48 459.61,182.62 461.8,182.68C464,182.74 466.19,182.68 468.38,182.68C470.58,182.68 472.77,182.68 474.97,182.68C477.16,182.68 479.35,182.68 481.55,182.68C483.74,182.68 485.94,182.68 488.13,182.68C490.32,182.68 492.52,182.68 494.71,182.68C496.9,182.68 499.1,182.68 501.29,182.68C503.49,182.68 505.68,182.71 507.87,182.68C510.07,182.65 512.26,182.54 514.46,182.51C516.65,182.48 518.84,182.51 521.04,182.51C523.23,182.51 525.42,182.51 527.62,182.51C529.81,182.51 532.01,182.51 534.2,182.51C536.39,182.51 538.59,182.51 540.78,182.51C542.98,182.51 545.17,182.51 547.36,182.51C549.56,182.51 551.75,182.51 553.94,182.51C556.14,182.51 558.33,182.51 560.53,182.51C562.72,182.51 564.91,182.51 567.11,182.51C569.3,182.51 571.5,182.54 573.69,182.51C575.88,182.48 578.08,182.36 580.27,182.33C582.46,182.3 584.66,182.33 586.85,182.33C589.05,182.33 591.24,182.36 593.43,182.33C595.63,182.3 597.82,182.18 600.02,182.15C602.21,182.13 604.4,182.18 606.6,182.15C608.79,182.13 610.98,182.01 613.18,181.98C615.37,181.95 617.57,182.01 619.76,181.98C621.95,181.95 624.15,181.83 626.34,181.8C628.54,181.77 630.73,181.8 632.92,181.8C635.12,181.8 637.31,181.8 639.5,181.8C641.7,181.8 644.99,181.8 646.09,181.8" fill="none" stroke="#1c6fe8" stroke-width="0.9" stroke-linejoin="round"/>
<rect x="413.33" y="196.29" width="4.8" height="2.4" fill="#19e0e0"/><rect x="413.33" y="198.69" width="4.8" height="2.4" fill="#1c6fe8"/><rect x="419.91" y="195.06" width="4.8" height="2.4" fill="#19e0e0"/><rect x="419.91" y="197.46" width="4.8" height="2.4" fill="#1c6fe8"/><rect x="426.5" y="199.63" width="4.8" height="2.4" fill="#19e0e0"/><rect x="426.5" y="202.03" width="4.8" height="2.4" fill="#1c6fe8"/><rect x="433.08" y="195.06" width="4.8" height="2.4" fill="#19e0e0"/><rect x="433.08" y="197.46" width="4.8" height="2.4" fill="#1c6fe8"/><rect x="439.66" y="178" width="4.8" height="2.4" fill="#19e0e0"/><rect x="439.66" y="180.4" width="4.8" height="2.4" fill="#1c6fe8"/><rect x="446.24" y="179.4" width="4.8" height="2.4" fill="#19e0e0"/><rect x="446.24" y="181.8" width="4.8" height="2.4" fill="#1c6fe8"/><rect x="452.82" y="179.93" width="4.8" height="2.4" fill="#19e0e0"/><rect x="452.82" y="182.33" width="4.8" height="2.4" fill="#1c6fe8"/><rect x="459.4" y="180.28" width="4.8" height="2.4" fill="#19e0e0"/><rect x="459.4" y="182.68" width="4.8" height="2.4" fill="#1c6fe8"/><rect x="465.98" y="180.28" width="4.8" height="2.4" fill="#19e0e0"/><rect x="465.98" y="182.68" width="4.8" height="2.4" fill="#1c6fe8"/><rect x="472.57" y="180.28" width="4.8" height="2.4" fill="#19e0e0"/><rect x="472.57" y="182.68" width="4.8" height="2.4" fill="#1c6fe8"/><rect x="479.15" y="180.28" width="4.8" height="2.4" fill="#19e0e0"/><rect x="479.15" y="182.68" width="4.8" height="2.4" fill="#1c6fe8"/><rect x="485.73" y="180.28" width="4.8" height="2.4" fill="#19e0e0"/><rect x="485.73" y="182.68" width="4.8" height="2.4" fill="#1c6fe8"/><rect x="492.31" y="180.28" width="4.8" height="2.4" fill="#19e0e0"/><rect x="492.31" y="182.68" width="4.8" height="2.4" fill="#1c6fe8"/><rect x="498.89" y="180.28" width="4.8" height="2.4" fill="#19e0e0"/><rect x="498.89" y="182.68" width="4.8" height="2.4" fill="#1c6fe8"/><rect x="505.47" y="180.28" width="4.8" height="2.4" fill="#19e0e0"/><rect x="505.47" y="182.68" width="4.8" height="2.4" fill="#1c6fe8"/><rect x="512.06" y="180.11" width="4.8" height="2.4" fill="#19e0e0"/><rect x="512.06" y="182.51" width="4.8" height="2.4" fill="#1c6fe8"/><rect x="518.64" y="180.11" width="4.8" height="2.4" fill="#19e0e0"/><rect x="518.64" y="182.51" width="4.8" height="2.4" fill="#1c6fe8"/><rect x="525.22" y="180.11" width="4.8" height="2.4" fill="#19e0e0"/><rect x="525.22" y="182.51" width="4.8" height="2.4" fill="#1c6fe8"/><rect x="531.8" y="180.11" width="4.8" height="2.4" fill="#19e0e0"/><rect x="531.8" y="182.51" width="4.8" height="2.4" fill="#1c6fe8"/><rect x="538.38" y="180.11" width="4.8" height="2.4" fill="#19e0e0"/><rect x="538.38" y="182.51" width="4.8" height="2.4" fill="#1c6fe8"/><rect x="544.96" y="180.11" width="4.8" height="2.4" fill="#19e0e0"/><rect x="544.96" y="182.51" width="4.8" height="2.4" fill="#1c6fe8"/><rect x="551.54" y="180.11" width="4.8" height="2.4" fill="#19e0e0"/><rect x="551.54" y="182.51" width="4.8" height="2.4" fill="#1c6fe8"/><rect x="558.13" y="180.11" width="4.8" height="2.4" fill="#19e0e0"/><rect x="558.13" y="182.51" width="4.8" height="2.4" fill="#1c6fe8"/><rect x="564.71" y="180.11" width="4.8" height="2.4" fill="#19e0e0"/><rect x="564.71" y="182.51" width="4.8" height="2.4" fill="#1c6fe8"/><rect x="571.29" y="180.11" width="4.8" height="2.4" fill="#19e0e0"/><rect x="571.29" y="182.51" width="4.8" height="2.4" fill="#1c6fe8"/><rect x="577.87" y="179.93" width="4.8" height="2.4" fill="#19e0e0"/><rect x="577.87" y="182.33" width="4.8" height="2.4" fill="#1c6fe8"/><rect x="584.45" y="179.93" width="4.8" height="2.4" fill="#19e0e0"/><rect x="584.45" y="182.33" width="4.8" height="2.4" fill="#1c6fe8"/><rect x="591.03" y="179.93" width="4.8" height="2.4" fill="#19e0e0"/><rect x="591.03" y="182.33" width="4.8" height="2.4" fill="#1c6fe8"/><rect x="597.62" y="179.75" width="4.8" height="2.4" fill="#19e0e0"/><rect x="597.62" y="182.15" width="4.8" height="2.4" fill="#1c6fe8"/><rect x="604.2" y="179.75" width="4.8" height="2.4" fill="#19e0e0"/><rect x="604.2" y="182.15" width="4.8" height="2.4" fill="#1c6fe8"/><rect x="610.78" y="179.58" width="4.8" height="2.4" fill="#19e0e0"/><rect x="610.78" y="181.98" width="4.8" height="2.4" fill="#1c6fe8"/><rect x="617.36" y="179.58" width="4.8" height="2.4" fill="#19e0e0"/><rect x="617.36" y="181.98" width="4.8" height="2.4" fill="#1c6fe8"/><rect x="623.94" y="179.4" width="4.8" height="2.4" fill="#19e0e0"/><rect x="623.94" y="181.8" width="4.8" height="2.4" fill="#1c6fe8"/><rect x="630.52" y="179.4" width="4.8" height="2.4" fill="#19e0e0"/><rect x="630.52" y="181.8" width="4.8" height="2.4" fill="#1c6fe8"/><rect x="637.1" y="179.4" width="4.8" height="2.4" fill="#19e0e0"/><rect x="637.1" y="181.8" width="4.8" height="2.4" fill="#1c6fe8"/><rect x="643.69" y="179.4" width="4.8" height="2.4" fill="#19e0e0"/><rect x="643.69" y="181.8" width="4.8" height="2.4" fill="#1c6fe8"/>
<path d="M415.73,160.16C416.83,159.58 420.12,160.66 422.31,156.65C424.51,152.63 426.7,151.66 428.9,136.06C431.09,120.46 433.28,58.74 435.48,63.05C437.67,67.36 439.86,145.06 442.06,161.92C444.25,178.78 446.45,161.63 448.64,164.21C450.83,166.79 453.03,177.26 455.22,177.4C457.42,177.55 459.61,166.61 461.8,165.09C464,163.57 466.19,166.94 468.38,168.26C470.58,169.58 472.77,171.48 474.97,173.01C477.16,174.53 479.35,176.44 481.55,177.4C483.74,178.37 485.94,178.58 488.13,178.81C490.32,179.05 492.52,178.81 494.71,178.81C496.9,178.81 499.1,178.81 501.29,178.81C503.49,178.81 505.68,178.84 507.87,178.81C510.07,178.78 512.26,178.69 514.46,178.64C516.65,178.58 518.84,178.55 521.04,178.46C523.23,178.37 525.42,178.2 527.62,178.11C529.81,178.02 532.01,177.99 534.2,177.93C536.39,177.87 538.59,177.8 540.78,177.76C542.98,177.71 545.17,177.68 547.36,177.67C549.56,177.65 551.75,177.65 553.94,177.67C556.14,177.68 558.33,177.74 560.53,177.76C562.72,177.77 564.91,177.73 567.11,177.76C569.3,177.79 571.5,177.9 573.69,177.93C575.88,177.96 578.08,177.9 580.27,177.93C582.46,177.96 584.66,178.08 586.85,178.11C589.05,178.14 591.24,178.08 593.43,178.11C595.63,178.14 597.82,178.25 600.02,178.28C602.21,178.31 604.4,179.08 606.6,178.28C608.79,177.49 610.98,175.15 613.18,173.53C615.37,171.92 617.57,170.02 619.76,168.61C621.95,167.2 624.15,165.79 626.34,165.09C628.54,164.39 630.73,164.62 632.92,164.39C635.12,164.15 637.31,163.95 639.5,163.68C641.7,163.42 644.99,162.95 646.09,162.8" fill="none" stroke="#2aaa70" stroke-width="0.9" stroke-linejoin="round"/>
<rect x="413.33" y="157.76" width="4.8" height="2.4" fill="#19e0e0"/><rect x="413.33" y="160.16" width="4.8" height="2.4" fill="#2aaa70"/><rect x="419.91" y="154.25" width="4.8" height="2.4" fill="#19e0e0"/><rect x="419.91" y="156.65" width="4.8" height="2.4" fill="#2aaa70"/><rect x="426.5" y="133.66" width="4.8" height="2.4" fill="#19e0e0"/><rect x="426.5" y="136.06" width="4.8" height="2.4" fill="#2aaa70"/><rect x="433.08" y="60.65" width="4.8" height="2.4" fill="#19e0e0"/><rect x="433.08" y="63.05" width="4.8" height="2.4" fill="#2aaa70"/><rect x="439.66" y="159.52" width="4.8" height="2.4" fill="#19e0e0"/><rect x="439.66" y="161.92" width="4.8" height="2.4" fill="#2aaa70"/><rect x="446.24" y="161.81" width="4.8" height="2.4" fill="#19e0e0"/><rect x="446.24" y="164.21" width="4.8" height="2.4" fill="#2aaa70"/><rect x="452.82" y="175" width="4.8" height="2.4" fill="#19e0e0"/><rect x="452.82" y="177.4" width="4.8" height="2.4" fill="#2aaa70"/><rect x="459.4" y="162.69" width="4.8" height="2.4" fill="#19e0e0"/><rect x="459.4" y="165.09" width="4.8" height="2.4" fill="#2aaa70"/><rect x="465.98" y="165.86" width="4.8" height="2.4" fill="#19e0e0"/><rect x="465.98" y="168.26" width="4.8" height="2.4" fill="#2aaa70"/><rect x="472.57" y="170.61" width="4.8" height="2.4" fill="#19e0e0"/><rect x="472.57" y="173.01" width="4.8" height="2.4" fill="#2aaa70"/><rect x="479.15" y="175" width="4.8" height="2.4" fill="#19e0e0"/><rect x="479.15" y="177.4" width="4.8" height="2.4" fill="#2aaa70"/><rect x="485.73" y="176.41" width="4.8" height="2.4" fill="#19e0e0"/><rect x="485.73" y="178.81" width="4.8" height="2.4" fill="#2aaa70"/><rect x="492.31" y="176.41" width="4.8" height="2.4" fill="#19e0e0"/><rect x="492.31" y="178.81" width="4.8" height="2.4" fill="#2aaa70"/><rect x="498.89" y="176.41" width="4.8" height="2.4" fill="#19e0e0"/><rect x="498.89" y="178.81" width="4.8" height="2.4" fill="#2aaa70"/><rect x="505.47" y="176.41" width="4.8" height="2.4" fill="#19e0e0"/><rect x="505.47" y="178.81" width="4.8" height="2.4" fill="#2aaa70"/><rect x="512.06" y="176.24" width="4.8" height="2.4" fill="#19e0e0"/><rect x="512.06" y="178.64" width="4.8" height="2.4" fill="#2aaa70"/><rect x="518.64" y="176.06" width="4.8" height="2.4" fill="#19e0e0"/><rect x="518.64" y="178.46" width="4.8" height="2.4" fill="#2aaa70"/><rect x="525.22" y="175.71" width="4.8" height="2.4" fill="#19e0e0"/><rect x="525.22" y="178.11" width="4.8" height="2.4" fill="#2aaa70"/><rect x="531.8" y="175.53" width="4.8" height="2.4" fill="#19e0e0"/><rect x="531.8" y="177.93" width="4.8" height="2.4" fill="#2aaa70"/><rect x="538.38" y="175.36" width="4.8" height="2.4" fill="#19e0e0"/><rect x="538.38" y="177.76" width="4.8" height="2.4" fill="#2aaa70"/><rect x="544.96" y="175.27" width="4.8" height="2.4" fill="#19e0e0"/><rect x="544.96" y="177.67" width="4.8" height="2.4" fill="#2aaa70"/><rect x="551.54" y="175.27" width="4.8" height="2.4" fill="#19e0e0"/><rect x="551.54" y="177.67" width="4.8" height="2.4" fill="#2aaa70"/><rect x="558.13" y="175.36" width="4.8" height="2.4" fill="#19e0e0"/><rect x="558.13" y="177.76" width="4.8" height="2.4" fill="#2aaa70"/><rect x="564.71" y="175.36" width="4.8" height="2.4" fill="#19e0e0"/><rect x="564.71" y="177.76" width="4.8" height="2.4" fill="#2aaa70"/><rect x="571.29" y="175.53" width="4.8" height="2.4" fill="#19e0e0"/><rect x="571.29" y="177.93" width="4.8" height="2.4" fill="#2aaa70"/><rect x="577.87" y="175.53" width="4.8" height="2.4" fill="#19e0e0"/><rect x="577.87" y="177.93" width="4.8" height="2.4" fill="#2aaa70"/><rect x="584.45" y="175.71" width="4.8" height="2.4" fill="#19e0e0"/><rect x="584.45" y="178.11" width="4.8" height="2.4" fill="#2aaa70"/><rect x="591.03" y="175.71" width="4.8" height="2.4" fill="#19e0e0"/><rect x="591.03" y="178.11" width="4.8" height="2.4" fill="#2aaa70"/><rect x="597.62" y="175.88" width="4.8" height="2.4" fill="#19e0e0"/><rect x="597.62" y="178.28" width="4.8" height="2.4" fill="#2aaa70"/><rect x="604.2" y="175.88" width="4.8" height="2.4" fill="#19e0e0"/><rect x="604.2" y="178.28" width="4.8" height="2.4" fill="#2aaa70"/><rect x="610.78" y="171.13" width="4.8" height="2.4" fill="#19e0e0"/><rect x="610.78" y="173.53" width="4.8" height="2.4" fill="#2aaa70"/><rect x="617.36" y="166.21" width="4.8" height="2.4" fill="#19e0e0"/><rect x="617.36" y="168.61" width="4.8" height="2.4" fill="#2aaa70"/><rect x="623.94" y="162.69" width="4.8" height="2.4" fill="#19e0e0"/><rect x="623.94" y="165.09" width="4.8" height="2.4" fill="#2aaa70"/><rect x="630.52" y="161.99" width="4.8" height="2.4" fill="#19e0e0"/><rect x="630.52" y="164.39" width="4.8" height="2.4" fill="#2aaa70"/><rect x="637.1" y="161.28" width="4.8" height="2.4" fill="#19e0e0"/><rect x="637.1" y="163.68" width="4.8" height="2.4" fill="#2aaa70"/><rect x="643.69" y="160.4" width="4.8" height="2.4" fill="#19e0e0"/><rect x="643.69" y="162.8" width="4.8" height="2.4" fill="#2aaa70"/>
<path d="M415.73,215.4C416.83,213.03 420.12,202.8 422.31,201.15C424.51,199.51 426.7,204.09 428.9,205.55C431.09,207.02 433.28,214.06 435.48,209.95C437.67,205.85 439.86,185.53 442.06,180.92C444.25,176.32 446.45,182.04 448.64,182.33C450.83,182.62 453.03,182.57 455.22,182.68C457.42,182.8 459.61,182.95 461.8,183.03C464,183.12 466.19,183.12 468.38,183.21C470.58,183.3 472.77,183.5 474.97,183.56C477.16,183.62 479.35,183.53 481.55,183.56C483.74,183.59 485.94,183.68 488.13,183.74C490.32,183.8 492.52,183.88 494.71,183.91C496.9,183.94 499.1,183.91 501.29,183.91C503.49,183.91 505.68,183.91 507.87,183.91C510.07,183.91 512.26,183.91 514.46,183.91C516.65,183.91 518.84,183.91 521.04,183.91C523.23,183.91 525.42,183.91 527.62,183.91C529.81,183.91 532.01,183.91 534.2,183.91C536.39,183.91 538.59,183.91 540.78,183.91C542.98,183.91 545.17,183.91 547.36,183.91C549.56,183.91 551.75,183.91 553.94,183.91C556.14,183.91 558.33,183.91 560.53,183.91C562.72,183.91 564.91,183.91 567.11,183.91C569.3,183.91 571.5,183.91 573.69,183.91C575.88,183.91 578.08,183.91 580.27,183.91C582.46,183.91 584.66,183.91 586.85,183.91C589.05,183.91 591.24,183.94 593.43,183.91C595.63,183.88 597.82,183.77 600.02,183.74C602.21,183.71 604.4,183.77 606.6,183.74C608.79,183.71 610.98,183.62 613.18,183.56C615.37,183.5 617.57,183.44 619.76,183.39C621.95,183.33 624.15,183.24 626.34,183.21C628.54,183.18 630.73,183.21 632.92,183.21C635.12,183.21 637.31,183.21 639.5,183.21C641.7,183.21 644.99,183.21 646.09,183.21" fill="none" stroke="#b283ee" stroke-width="0.9" stroke-linejoin="round"/>
<rect x="413.33" y="213" width="4.8" height="2.4" fill="#19e0e0"/><rect x="413.33" y="215.4" width="4.8" height="2.4" fill="#b283ee"/><rect x="419.91" y="198.75" width="4.8" height="2.4" fill="#19e0e0"/><rect x="419.91" y="201.15" width="4.8" height="2.4" fill="#b283ee"/><rect x="426.5" y="203.15" width="4.8" height="2.4" fill="#19e0e0"/><rect x="426.5" y="205.55" width="4.8" height="2.4" fill="#b283ee"/><rect x="433.08" y="207.55" width="4.8" height="2.4" fill="#19e0e0"/><rect x="433.08" y="209.95" width="4.8" height="2.4" fill="#b283ee"/><rect x="439.66" y="178.52" width="4.8" height="2.4" fill="#19e0e0"/><rect x="439.66" y="180.92" width="4.8" height="2.4" fill="#b283ee"/><rect x="446.24" y="179.93" width="4.8" height="2.4" fill="#19e0e0"/><rect x="446.24" y="182.33" width="4.8" height="2.4" fill="#b283ee"/><rect x="452.82" y="180.28" width="4.8" height="2.4" fill="#19e0e0"/><rect x="452.82" y="182.68" width="4.8" height="2.4" fill="#b283ee"/><rect x="459.4" y="180.63" width="4.8" height="2.4" fill="#19e0e0"/><rect x="459.4" y="183.03" width="4.8" height="2.4" fill="#b283ee"/><rect x="465.98" y="180.81" width="4.8" height="2.4" fill="#19e0e0"/><rect x="465.98" y="183.21" width="4.8" height="2.4" fill="#b283ee"/><rect x="472.57" y="181.16" width="4.8" height="2.4" fill="#19e0e0"/><rect x="472.57" y="183.56" width="4.8" height="2.4" fill="#b283ee"/><rect x="479.15" y="181.16" width="4.8" height="2.4" fill="#19e0e0"/><rect x="479.15" y="183.56" width="4.8" height="2.4" fill="#b283ee"/><rect x="485.73" y="181.34" width="4.8" height="2.4" fill="#19e0e0"/><rect x="485.73" y="183.74" width="4.8" height="2.4" fill="#b283ee"/><rect x="492.31" y="181.51" width="4.8" height="2.4" fill="#19e0e0"/><rect x="492.31" y="183.91" width="4.8" height="2.4" fill="#b283ee"/><rect x="498.89" y="181.51" width="4.8" height="2.4" fill="#19e0e0"/><rect x="498.89" y="183.91" width="4.8" height="2.4" fill="#b283ee"/><rect x="505.47" y="181.51" width="4.8" height="2.4" fill="#19e0e0"/><rect x="505.47" y="183.91" width="4.8" height="2.4" fill="#b283ee"/><rect x="512.06" y="181.51" width="4.8" height="2.4" fill="#19e0e0"/><rect x="512.06" y="183.91" width="4.8" height="2.4" fill="#b283ee"/><rect x="518.64" y="181.51" width="4.8" height="2.4" fill="#19e0e0"/><rect x="518.64" y="183.91" width="4.8" height="2.4" fill="#b283ee"/><rect x="525.22" y="181.51" width="4.8" height="2.4" fill="#19e0e0"/><rect x="525.22" y="183.91" width="4.8" height="2.4" fill="#b283ee"/><rect x="531.8" y="181.51" width="4.8" height="2.4" fill="#19e0e0"/><rect x="531.8" y="183.91" width="4.8" height="2.4" fill="#b283ee"/><rect x="538.38" y="181.51" width="4.8" height="2.4" fill="#19e0e0"/><rect x="538.38" y="183.91" width="4.8" height="2.4" fill="#b283ee"/><rect x="544.96" y="181.51" width="4.8" height="2.4" fill="#19e0e0"/><rect x="544.96" y="183.91" width="4.8" height="2.4" fill="#b283ee"/><rect x="551.54" y="181.51" width="4.8" height="2.4" fill="#19e0e0"/><rect x="551.54" y="183.91" width="4.8" height="2.4" fill="#b283ee"/><rect x="558.13" y="181.51" width="4.8" height="2.4" fill="#19e0e0"/><rect x="558.13" y="183.91" width="4.8" height="2.4" fill="#b283ee"/><rect x="564.71" y="181.51" width="4.8" height="2.4" fill="#19e0e0"/><rect x="564.71" y="183.91" width="4.8" height="2.4" fill="#b283ee"/><rect x="571.29" y="181.51" width="4.8" height="2.4" fill="#19e0e0"/><rect x="571.29" y="183.91" width="4.8" height="2.4" fill="#b283ee"/><rect x="577.87" y="181.51" width="4.8" height="2.4" fill="#19e0e0"/><rect x="577.87" y="183.91" width="4.8" height="2.4" fill="#b283ee"/><rect x="584.45" y="181.51" width="4.8" height="2.4" fill="#19e0e0"/><rect x="584.45" y="183.91" width="4.8" height="2.4" fill="#b283ee"/><rect x="591.03" y="181.51" width="4.8" height="2.4" fill="#19e0e0"/><rect x="591.03" y="183.91" width="4.8" height="2.4" fill="#b283ee"/><rect x="597.62" y="181.34" width="4.8" height="2.4" fill="#19e0e0"/><rect x="597.62" y="183.74" width="4.8" height="2.4" fill="#b283ee"/><rect x="604.2" y="181.34" width="4.8" height="2.4" fill="#19e0e0"/><rect x="604.2" y="183.74" width="4.8" height="2.4" fill="#b283ee"/><rect x="610.78" y="181.16" width="4.8" height="2.4" fill="#19e0e0"/><rect x="610.78" y="183.56" width="4.8" height="2.4" fill="#b283ee"/><rect x="617.36" y="180.99" width="4.8" height="2.4" fill="#19e0e0"/><rect x="617.36" y="183.39" width="4.8" height="2.4" fill="#b283ee"/><rect x="623.94" y="180.81" width="4.8" height="2.4" fill="#19e0e0"/><rect x="623.94" y="183.21" width="4.8" height="2.4" fill="#b283ee"/><rect x="630.52" y="180.81" width="4.8" height="2.4" fill="#19e0e0"/><rect x="630.52" y="183.21" width="4.8" height="2.4" fill="#b283ee"/><rect x="637.1" y="180.81" width="4.8" height="2.4" fill="#19e0e0"/><rect x="637.1" y="183.21" width="4.8" height="2.4" fill="#b283ee"/><rect x="643.69" y="180.81" width="4.8" height="2.4" fill="#19e0e0"/><rect x="643.69" y="183.21" width="4.8" height="2.4" fill="#b283ee"/>
<path d="M415.73,160.87C416.83,160.25 420.12,160.57 422.31,157.17C424.51,153.77 426.7,155.41 428.9,140.46C431.09,125.51 433.28,63.35 435.48,67.45C437.67,71.56 439.86,148.96 442.06,165.09C444.25,181.22 446.45,164.01 448.64,164.21C450.83,164.42 453.03,165.97 455.22,166.32C457.42,166.67 459.61,166 461.8,166.32C464,166.64 466.19,167.05 468.38,168.26C470.58,169.46 472.77,172.04 474.97,173.53C477.16,175.03 479.35,176.29 481.55,177.23C483.74,178.17 485.94,178.84 488.13,179.16C490.32,179.49 492.52,179.16 494.71,179.16C496.9,179.16 499.1,179.34 501.29,179.16C503.49,178.99 505.68,178.58 507.87,178.11C510.07,177.64 512.26,176.91 514.46,176.35C516.65,175.79 518.84,175.18 521.04,174.77C523.23,174.36 525.42,174.09 527.62,173.89C529.81,173.68 532.01,173.59 534.2,173.53C536.39,173.48 538.59,173.5 540.78,173.53C542.98,173.56 545.17,173.68 547.36,173.71C549.56,173.74 551.75,173.68 553.94,173.71C556.14,173.74 558.33,173.86 560.53,173.89C562.72,173.92 564.91,173.83 567.11,173.89C569.3,173.94 571.5,174.15 573.69,174.24C575.88,174.33 578.08,174.36 580.27,174.41C582.46,174.47 584.66,174.38 586.85,174.59C589.05,174.8 591.24,175.32 593.43,175.65C595.63,175.97 597.82,176.11 600.02,176.52C602.21,176.94 604.4,178.52 606.6,178.11C608.79,177.7 610.98,175.53 613.18,174.06C615.37,172.6 617.57,170.63 619.76,169.31C621.95,167.99 624.15,166.76 626.34,166.15C628.54,165.53 630.73,165.74 632.92,165.62C635.12,165.5 637.31,165.47 639.5,165.44C641.7,165.41 644.99,165.44 646.09,165.44" fill="none" stroke="#d2a01c" stroke-width="0.9" stroke-linejoin="round"/>
<rect x="413.33" y="158.47" width="4.8" height="2.4" fill="#19e0e0"/><rect x="413.33" y="160.87" width="4.8" height="2.4" fill="#d2a01c"/><rect x="419.91" y="154.77" width="4.8" height="2.4" fill="#19e0e0"/><rect x="419.91" y="157.17" width="4.8" height="2.4" fill="#d2a01c"/><rect x="426.5" y="138.06" width="4.8" height="2.4" fill="#19e0e0"/><rect x="426.5" y="140.46" width="4.8" height="2.4" fill="#d2a01c"/><rect x="433.08" y="65.05" width="4.8" height="2.4" fill="#19e0e0"/><rect x="433.08" y="67.45" width="4.8" height="2.4" fill="#d2a01c"/><rect x="439.66" y="162.69" width="4.8" height="2.4" fill="#19e0e0"/><rect x="439.66" y="165.09" width="4.8" height="2.4" fill="#d2a01c"/><rect x="446.24" y="161.81" width="4.8" height="2.4" fill="#19e0e0"/><rect x="446.24" y="164.21" width="4.8" height="2.4" fill="#d2a01c"/><rect x="452.82" y="163.92" width="4.8" height="2.4" fill="#19e0e0"/><rect x="452.82" y="166.32" width="4.8" height="2.4" fill="#d2a01c"/><rect x="459.4" y="163.92" width="4.8" height="2.4" fill="#19e0e0"/><rect x="459.4" y="166.32" width="4.8" height="2.4" fill="#d2a01c"/><rect x="465.98" y="165.86" width="4.8" height="2.4" fill="#19e0e0"/><rect x="465.98" y="168.26" width="4.8" height="2.4" fill="#d2a01c"/><rect x="472.57" y="171.13" width="4.8" height="2.4" fill="#19e0e0"/><rect x="472.57" y="173.53" width="4.8" height="2.4" fill="#d2a01c"/><rect x="479.15" y="174.83" width="4.8" height="2.4" fill="#19e0e0"/><rect x="479.15" y="177.23" width="4.8" height="2.4" fill="#d2a01c"/><rect x="485.73" y="176.76" width="4.8" height="2.4" fill="#19e0e0"/><rect x="485.73" y="179.16" width="4.8" height="2.4" fill="#d2a01c"/><rect x="492.31" y="176.76" width="4.8" height="2.4" fill="#19e0e0"/><rect x="492.31" y="179.16" width="4.8" height="2.4" fill="#d2a01c"/><rect x="498.89" y="176.76" width="4.8" height="2.4" fill="#19e0e0"/><rect x="498.89" y="179.16" width="4.8" height="2.4" fill="#d2a01c"/><rect x="505.47" y="175.71" width="4.8" height="2.4" fill="#19e0e0"/><rect x="505.47" y="178.11" width="4.8" height="2.4" fill="#d2a01c"/><rect x="512.06" y="173.95" width="4.8" height="2.4" fill="#19e0e0"/><rect x="512.06" y="176.35" width="4.8" height="2.4" fill="#d2a01c"/><rect x="518.64" y="172.37" width="4.8" height="2.4" fill="#19e0e0"/><rect x="518.64" y="174.77" width="4.8" height="2.4" fill="#d2a01c"/><rect x="525.22" y="171.49" width="4.8" height="2.4" fill="#19e0e0"/><rect x="525.22" y="173.89" width="4.8" height="2.4" fill="#d2a01c"/><rect x="531.8" y="171.13" width="4.8" height="2.4" fill="#19e0e0"/><rect x="531.8" y="173.53" width="4.8" height="2.4" fill="#d2a01c"/><rect x="538.38" y="171.13" width="4.8" height="2.4" fill="#19e0e0"/><rect x="538.38" y="173.53" width="4.8" height="2.4" fill="#d2a01c"/><rect x="544.96" y="171.31" width="4.8" height="2.4" fill="#19e0e0"/><rect x="544.96" y="173.71" width="4.8" height="2.4" fill="#d2a01c"/><rect x="551.54" y="171.31" width="4.8" height="2.4" fill="#19e0e0"/><rect x="551.54" y="173.71" width="4.8" height="2.4" fill="#d2a01c"/><rect x="558.13" y="171.49" width="4.8" height="2.4" fill="#19e0e0"/><rect x="558.13" y="173.89" width="4.8" height="2.4" fill="#d2a01c"/><rect x="564.71" y="171.49" width="4.8" height="2.4" fill="#19e0e0"/><rect x="564.71" y="173.89" width="4.8" height="2.4" fill="#d2a01c"/><rect x="571.29" y="171.84" width="4.8" height="2.4" fill="#19e0e0"/><rect x="571.29" y="174.24" width="4.8" height="2.4" fill="#d2a01c"/><rect x="577.87" y="172.01" width="4.8" height="2.4" fill="#19e0e0"/><rect x="577.87" y="174.41" width="4.8" height="2.4" fill="#d2a01c"/><rect x="584.45" y="172.19" width="4.8" height="2.4" fill="#19e0e0"/><rect x="584.45" y="174.59" width="4.8" height="2.4" fill="#d2a01c"/><rect x="591.03" y="173.25" width="4.8" height="2.4" fill="#19e0e0"/><rect x="591.03" y="175.65" width="4.8" height="2.4" fill="#d2a01c"/><rect x="597.62" y="174.12" width="4.8" height="2.4" fill="#19e0e0"/><rect x="597.62" y="176.52" width="4.8" height="2.4" fill="#d2a01c"/><rect x="604.2" y="175.71" width="4.8" height="2.4" fill="#19e0e0"/><rect x="604.2" y="178.11" width="4.8" height="2.4" fill="#d2a01c"/><rect x="610.78" y="171.66" width="4.8" height="2.4" fill="#19e0e0"/><rect x="610.78" y="174.06" width="4.8" height="2.4" fill="#d2a01c"/><rect x="617.36" y="166.91" width="4.8" height="2.4" fill="#19e0e0"/><rect x="617.36" y="169.31" width="4.8" height="2.4" fill="#d2a01c"/><rect x="623.94" y="163.75" width="4.8" height="2.4" fill="#19e0e0"/><rect x="623.94" y="166.15" width="4.8" height="2.4" fill="#d2a01c"/><rect x="630.52" y="163.22" width="4.8" height="2.4" fill="#19e0e0"/><rect x="630.52" y="165.62" width="4.8" height="2.4" fill="#d2a01c"/><rect x="637.1" y="163.04" width="4.8" height="2.4" fill="#19e0e0"/><rect x="637.1" y="165.44" width="4.8" height="2.4" fill="#d2a01c"/><rect x="643.69" y="163.04" width="4.8" height="2.4" fill="#19e0e0"/><rect x="643.69" y="165.44" width="4.8" height="2.4" fill="#d2a01c"/>
<line x1="458.1" y1="10.1" x2="475" y2="10.1" stroke="#454545" stroke-width="1.0"/>
<rect x="464.4" y="7.7" width="4.8" height="2.4" fill="#19e0e0"/><rect x="464.4" y="10.1" width="4.8" height="2.4" fill="#454545"/>
<text x="477" y="12.7" font-size="7.65"><tspan font-style="italic">σ</tspan><tspan font-size="70%" dy="1.8" font-style="italic">z</tspan><tspan dy="-1.8"> of CMTC</tspan></text>
<line x1="458.1" y1="21.2" x2="475" y2="21.2" stroke="#f04848" stroke-width="1.0"/>
<rect x="464.4" y="18.8" width="4.8" height="2.4" fill="#19e0e0"/><rect x="464.4" y="21.2" width="4.8" height="2.4" fill="#f04848"/>
<text x="477" y="23.8" font-size="7.65"><tspan font-style="italic">σ</tspan><tspan font-size="70%" dy="1.8">1</tspan><tspan dy="-1.8"> of CMTC</tspan></text>
<line x1="458.1" y1="32.4" x2="475" y2="32.4" stroke="#1c6fe8" stroke-width="1.0"/>
<rect x="464.4" y="30" width="4.8" height="2.4" fill="#19e0e0"/><rect x="464.4" y="32.4" width="4.8" height="2.4" fill="#1c6fe8"/>
<text x="477" y="35" font-size="7.65"><tspan font-style="italic">σ</tspan><tspan font-size="70%" dy="1.8" font-style="italic">z</tspan><tspan dy="-1.8"> of LMHT</tspan></text>
<line x1="458.1" y1="43.5" x2="475" y2="43.5" stroke="#2aaa70" stroke-width="1.0"/>
<rect x="464.4" y="41.1" width="4.8" height="2.4" fill="#19e0e0"/><rect x="464.4" y="43.5" width="4.8" height="2.4" fill="#2aaa70"/>
<text x="477" y="46.1" font-size="7.65"><tspan font-style="italic">σ</tspan><tspan font-size="70%" dy="1.8">1</tspan><tspan dy="-1.8"> of LMHT</tspan></text>
<line x1="458.1" y1="54.3" x2="475" y2="54.3" stroke="#b283ee" stroke-width="1.0"/>
<rect x="464.4" y="51.9" width="4.8" height="2.4" fill="#19e0e0"/><rect x="464.4" y="54.3" width="4.8" height="2.4" fill="#b283ee"/>
<text x="477" y="56.9" font-size="7.65"><tspan font-style="italic">σ</tspan><tspan font-size="70%" dy="1.8" font-style="italic">z</tspan><tspan dy="-1.8"> of LCMTC</tspan></text>
<line x1="458.1" y1="65.5" x2="475" y2="65.5" stroke="#d2a01c" stroke-width="1.0"/>
<rect x="464.4" y="63.1" width="4.8" height="2.4" fill="#19e0e0"/><rect x="464.4" y="65.5" width="4.8" height="2.4" fill="#d2a01c"/>
<text x="477" y="68.1" font-size="7.65"><tspan font-style="italic">σ</tspan><tspan font-size="70%" dy="1.8">1</tspan><tspan dy="-1.8"> of LCMTC</tspan></text>
<text x="533.9" y="266" font-size="12.0" text-anchor="middle" >Advance rate of Working face(m)</text>
<text transform="translate(365,118.9) rotate(-90)" font-size="11.95" text-anchor="middle">Monitoring layout of immediate roof(MPa)</text>
<text x="390.8" y="295.5" font-size="17.3" textLength="246.8" lengthAdjust="spacingAndGlyphs" fill="#000">Immediate roof stress comparison</text>
<line x1="88.12" y1="336.6" x2="88.12" y2="559.5" stroke="#e4e4e4" stroke-width="0.8" stroke-dasharray="1 1.6"/>
<line x1="130.85" y1="336.6" x2="130.85" y2="559.5" stroke="#e4e4e4" stroke-width="0.8" stroke-dasharray="1 1.6"/>
<line x1="173.57" y1="336.6" x2="173.57" y2="559.5" stroke="#e4e4e4" stroke-width="0.8" stroke-dasharray="1 1.6"/>
<line x1="216.29" y1="336.6" x2="216.29" y2="559.5" stroke="#e4e4e4" stroke-width="0.8" stroke-dasharray="1 1.6"/>
<line x1="259.02" y1="336.6" x2="259.02" y2="559.5" stroke="#e4e4e4" stroke-width="0.8" stroke-dasharray="1 1.6"/>
<line x1="301.74" y1="336.6" x2="301.74" y2="559.5" stroke="#e4e4e4" stroke-width="0.8" stroke-dasharray="1 1.6"/>
<line x1="45.4" y1="540.92" x2="323.1" y2="540.92" stroke="#e4e4e4" stroke-width="0.8" stroke-dasharray="1 1.6"/>
<line x1="45.4" y1="503.77" x2="323.1" y2="503.77" stroke="#e4e4e4" stroke-width="0.8" stroke-dasharray="1 1.6"/>
<line x1="45.4" y1="466.62" x2="323.1" y2="466.62" stroke="#e4e4e4" stroke-width="0.8" stroke-dasharray="1 1.6"/>
<line x1="45.4" y1="429.48" x2="323.1" y2="429.48" stroke="#e4e4e4" stroke-width="0.8" stroke-dasharray="1 1.6"/>
<line x1="45.4" y1="392.33" x2="323.1" y2="392.33" stroke="#e4e4e4" stroke-width="0.8" stroke-dasharray="1 1.6"/>
<line x1="45.4" y1="355.18" x2="323.1" y2="355.18" stroke="#e4e4e4" stroke-width="0.8" stroke-dasharray="1 1.6"/>
<line x1="66.76" y1="336.6" x2="66.76" y2="559.5" stroke="#dcdcdc" stroke-width="1.05"/>
<line x1="109.48" y1="336.6" x2="109.48" y2="559.5" stroke="#dcdcdc" stroke-width="1.05"/>
<line x1="152.21" y1="336.6" x2="152.21" y2="559.5" stroke="#dcdcdc" stroke-width="1.05"/>
<line x1="194.93" y1="336.6" x2="194.93" y2="559.5" stroke="#dcdcdc" stroke-width="1.05"/>
<line x1="237.65" y1="336.6" x2="237.65" y2="559.5" stroke="#dcdcdc" stroke-width="1.05"/>
<line x1="280.38" y1="336.6" x2="280.38" y2="559.5" stroke="#dcdcdc" stroke-width="1.05"/>
<line x1="45.4" y1="522.35" x2="323.1" y2="522.35" stroke="#dcdcdc" stroke-width="1.05"/>
<line x1="45.4" y1="485.2" x2="323.1" y2="485.2" stroke="#dcdcdc" stroke-width="1.05"/>
<line x1="45.4" y1="410.9" x2="323.1" y2="410.9" stroke="#dcdcdc" stroke-width="1.05"/>
<line x1="45.4" y1="373.75" x2="323.1" y2="373.75" stroke="#dcdcdc" stroke-width="1.05"/>
<line x1="45.4" y1="448.05" x2="323.1" y2="448.05" stroke="#404040" stroke-width="1.4"/>
<path d="M66.76,448.55V451.75M109.48,448.55V451.75M152.21,448.55V451.75M194.93,448.55V451.75M237.65,448.55V451.75M280.38,448.55V451.75M88.12,448.55V450.35M130.85,448.55V450.35M173.57,448.55V450.35M216.29,448.55V450.35M259.02,448.55V450.35M301.74,448.55V450.35" stroke="#333333" stroke-width="1"/>
<rect x="45.4" y="336.6" width="277.7" height="222.9" fill="none" stroke="#333333" stroke-width="1.2"/>
<path d="M41.8,559.5H45.4M41.8,522.35H45.4M41.8,485.2H45.4M41.8,448.05H45.4M41.8,410.9H45.4M41.8,373.75H45.4M41.8,336.6H45.4M43.4,540.92H45.4M43.4,503.77H45.4M43.4,466.62H45.4M43.4,429.48H45.4M43.4,392.33H45.4M43.4,355.18H45.4" stroke="#333333" stroke-width="1"/>
<text x="38.6" y="563.22" font-size="9.3" text-anchor="end">−6000</text>
<text x="38.6" y="526.07" font-size="9.3" text-anchor="end">−4000</text>
<text x="38.6" y="488.92" font-size="9.3" text-anchor="end">−2000</text>
<text x="38.6" y="451.77" font-size="9.3" text-anchor="end">0</text>
<text x="38.6" y="414.62" font-size="9.3" text-anchor="end">2000</text>
<text x="38.6" y="377.47" font-size="9.3" text-anchor="end">4000</text>
<text x="38.6" y="340.32" font-size="9.3" text-anchor="end">6000</text>
<text x="66.76" y="463.6" font-size="9.3" text-anchor="middle">0</text>
<text x="109.48" y="463.6" font-size="9.3" text-anchor="middle">100</text>
<text x="152.21" y="463.6" font-size="9.3" text-anchor="middle">200</text>
<text x="194.93" y="463.6" font-size="9.3" text-anchor="middle">300</text>
<text x="237.65" y="463.6" font-size="9.3" text-anchor="middle">400</text>
<text x="280.38" y="463.6" font-size="9.3" text-anchor="middle">500</text>
<text x="323.1" y="463.6" font-size="9.3" text-anchor="middle">600</text>
<path d="M68.9,448.05C69.97,448.05 73.17,448.05 75.31,448.05C77.44,448.05 79.58,448.05 81.71,448.05C83.85,448.05 85.99,446.32 88.12,448.05C90.26,449.78 92.4,454.74 94.53,458.43C96.67,462.12 98.8,466.88 100.94,470.19C103.08,473.49 105.21,475.69 107.35,478.25C109.48,480.8 111.62,483.21 113.76,485.53C115.89,487.86 118.03,490.07 120.17,492.19C122.3,494.32 124.44,496.35 126.57,498.29C128.71,500.23 130.85,502.08 132.98,503.84C135.12,505.6 137.25,507.28 139.39,508.86C141.53,510.45 143.66,511.95 145.8,513.36C147.94,514.77 150.07,516.09 152.21,517.33C154.34,518.56 156.48,519.7 158.62,520.76C160.75,521.81 162.89,522.78 165.02,523.65C167.16,524.52 169.3,525.3 171.43,525.99C173.57,526.67 175.71,527.27 177.84,527.77C179.98,528.27 182.11,528.68 184.25,528.99C186.39,529.31 188.52,529.53 190.66,529.65C192.79,529.78 194.93,529.81 197.07,529.75C199.2,529.69 201.34,529.53 203.48,529.28C205.61,529.03 207.75,528.68 209.88,528.24C212.02,527.8 214.16,527.27 216.29,526.64C218.43,526.02 220.56,525.3 222.7,524.49C224.84,523.68 226.97,522.77 229.11,521.78C231.25,520.79 233.38,519.61 235.52,518.53C237.65,517.45 239.79,516.49 241.93,515.31C244.06,514.14 246.2,512.74 248.33,511.47C250.47,510.21 252.61,509.12 254.74,507.71C256.88,506.31 259.02,504.66 261.15,503.05C263.29,501.45 265.42,500.02 267.56,498.07C269.7,496.12 271.83,493.82 273.97,491.37C276.1,488.91 278.24,486.49 280.38,483.36C282.51,480.22 284.65,476.11 286.79,472.57C288.92,469.03 292.13,463.85 293.19,462.11" fill="none" stroke="#454545" stroke-width="0.9" stroke-linejoin="round"/>
<path d="M68.9,445.35A2.7,2.7 0 0 0 68.9,450.75Z" fill="#f8dc00"/><path d="M68.9,445.35A2.7,2.7 0 0 1 68.9,450.75Z" fill="#303030"/><path d="M75.31,445.35A2.7,2.7 0 0 0 75.31,450.75Z" fill="#f8dc00"/><path d="M75.31,445.35A2.7,2.7 0 0 1 75.31,450.75Z" fill="#303030"/><path d="M81.71,445.35A2.7,2.7 0 0 0 81.71,450.75Z" fill="#f8dc00"/><path d="M81.71,445.35A2.7,2.7 0 0 1 81.71,450.75Z" fill="#303030"/><path d="M88.12,445.35A2.7,2.7 0 0 0 88.12,450.75Z" fill="#f8dc00"/><path d="M88.12,445.35A2.7,2.7 0 0 1 88.12,450.75Z" fill="#303030"/><path d="M94.53,455.73A2.7,2.7 0 0 0 94.53,461.13Z" fill="#f8dc00"/><path d="M94.53,455.73A2.7,2.7 0 0 1 94.53,461.13Z" fill="#303030"/><path d="M100.94,467.49A2.7,2.7 0 0 0 100.94,472.89Z" fill="#f8dc00"/><path d="M100.94,467.49A2.7,2.7 0 0 1 100.94,472.89Z" fill="#303030"/><path d="M107.35,475.55A2.7,2.7 0 0 0 107.35,480.95Z" fill="#f8dc00"/><path d="M107.35,475.55A2.7,2.7 0 0 1 107.35,480.95Z" fill="#303030"/><path d="M113.76,482.83A2.7,2.7 0 0 0 113.76,488.23Z" fill="#f8dc00"/><path d="M113.76,482.83A2.7,2.7 0 0 1 113.76,488.23Z" fill="#303030"/><path d="M120.17,489.49A2.7,2.7 0 0 0 120.17,494.89Z" fill="#f8dc00"/><path d="M120.17,489.49A2.7,2.7 0 0 1 120.17,494.89Z" fill="#303030"/><path d="M126.57,495.59A2.7,2.7 0 0 0 126.57,500.99Z" fill="#f8dc00"/><path d="M126.57,495.59A2.7,2.7 0 0 1 126.57,500.99Z" fill="#303030"/><path d="M132.98,501.14A2.7,2.7 0 0 0 132.98,506.54Z" fill="#f8dc00"/><path d="M132.98,501.14A2.7,2.7 0 0 1 132.98,506.54Z" fill="#303030"/><path d="M139.39,506.16A2.7,2.7 0 0 0 139.39,511.56Z" fill="#f8dc00"/><path d="M139.39,506.16A2.7,2.7 0 0 1 139.39,511.56Z" fill="#303030"/><path d="M145.8,510.66A2.7,2.7 0 0 0 145.8,516.06Z" fill="#f8dc00"/><path d="M145.8,510.66A2.7,2.7 0 0 1 145.8,516.06Z" fill="#303030"/><path d="M152.21,514.63A2.7,2.7 0 0 0 152.21,520.03Z" fill="#f8dc00"/><path d="M152.21,514.63A2.7,2.7 0 0 1 152.21,520.03Z" fill="#303030"/><path d="M158.62,518.06A2.7,2.7 0 0 0 158.62,523.46Z" fill="#f8dc00"/><path d="M158.62,518.06A2.7,2.7 0 0 1 158.62,523.46Z" fill="#303030"/><path d="M165.02,520.95A2.7,2.7 0 0 0 165.02,526.35Z" fill="#f8dc00"/><path d="M165.02,520.95A2.7,2.7 0 0 1 165.02,526.35Z" fill="#303030"/><path d="M171.43,523.29A2.7,2.7 0 0 0 171.43,528.69Z" fill="#f8dc00"/><path d="M171.43,523.29A2.7,2.7 0 0 1 171.43,528.69Z" fill="#303030"/><path d="M177.84,525.07A2.7,2.7 0 0 0 177.84,530.47Z" fill="#f8dc00"/><path d="M177.84,525.07A2.7,2.7 0 0 1 177.84,530.47Z" fill="#303030"/><path d="M184.25,526.29A2.7,2.7 0 0 0 184.25,531.69Z" fill="#f8dc00"/><path d="M184.25,526.29A2.7,2.7 0 0 1 184.25,531.69Z" fill="#303030"/><path d="M190.66,526.95A2.7,2.7 0 0 0 190.66,532.35Z" fill="#f8dc00"/><path d="M190.66,526.95A2.7,2.7 0 0 1 190.66,532.35Z" fill="#303030"/><path d="M197.07,527.05A2.7,2.7 0 0 0 197.07,532.45Z" fill="#f8dc00"/><path d="M197.07,527.05A2.7,2.7 0 0 1 197.07,532.45Z" fill="#303030"/><path d="M203.48,526.58A2.7,2.7 0 0 0 203.48,531.98Z" fill="#f8dc00"/><path d="M203.48,526.58A2.7,2.7 0 0 1 203.48,531.98Z" fill="#303030"/><path d="M209.88,525.54A2.7,2.7 0 0 0 209.88,530.94Z" fill="#f8dc00"/><path d="M209.88,525.54A2.7,2.7 0 0 1 209.88,530.94Z" fill="#303030"/><path d="M216.29,523.94A2.7,2.7 0 0 0 216.29,529.34Z" fill="#f8dc00"/><path d="M216.29,523.94A2.7,2.7 0 0 1 216.29,529.34Z" fill="#303030"/><path d="M222.7,521.79A2.7,2.7 0 0 0 222.7,527.19Z" fill="#f8dc00"/><path d="M222.7,521.79A2.7,2.7 0 0 1 222.7,527.19Z" fill="#303030"/><path d="M229.11,519.08A2.7,2.7 0 0 0 229.11,524.48Z" fill="#f8dc00"/><path d="M229.11,519.08A2.7,2.7 0 0 1 229.11,524.48Z" fill="#303030"/><path d="M235.52,515.83A2.7,2.7 0 0 0 235.52,521.23Z" fill="#f8dc00"/><path d="M235.52,515.83A2.7,2.7 0 0 1 235.52,521.23Z" fill="#303030"/><path d="M241.93,512.61A2.7,2.7 0 0 0 241.93,518.01Z" fill="#f8dc00"/><path d="M241.93,512.61A2.7,2.7 0 0 1 241.93,518.01Z" fill="#303030"/><path d="M248.33,508.77A2.7,2.7 0 0 0 248.33,514.17Z" fill="#f8dc00"/><path d="M248.33,508.77A2.7,2.7 0 0 1 248.33,514.17Z" fill="#303030"/><path d="M254.74,505.01A2.7,2.7 0 0 0 254.74,510.41Z" fill="#f8dc00"/><path d="M254.74,505.01A2.7,2.7 0 0 1 254.74,510.41Z" fill="#303030"/><path d="M261.15,500.35A2.7,2.7 0 0 0 261.15,505.75Z" fill="#f8dc00"/><path d="M261.15,500.35A2.7,2.7 0 0 1 261.15,505.75Z" fill="#303030"/><path d="M267.56,495.37A2.7,2.7 0 0 0 267.56,500.77Z" fill="#f8dc00"/><path d="M267.56,495.37A2.7,2.7 0 0 1 267.56,500.77Z" fill="#303030"/><path d="M273.97,488.67A2.7,2.7 0 0 0 273.97,494.07Z" fill="#f8dc00"/><path d="M273.97,488.67A2.7,2.7 0 0 1 273.97,494.07Z" fill="#303030"/><path d="M280.38,480.66A2.7,2.7 0 0 0 280.38,486.06Z" fill="#f8dc00"/><path d="M280.38,480.66A2.7,2.7 0 0 1 280.38,486.06Z" fill="#303030"/><path d="M286.79,469.87A2.7,2.7 0 0 0 286.79,475.27Z" fill="#f8dc00"/><path d="M286.79,469.87A2.7,2.7 0 0 1 286.79,475.27Z" fill="#303030"/><path d="M293.19,459.41A2.7,2.7 0 0 0 293.19,464.81Z" fill="#f8dc00"/><path d="M293.19,459.41A2.7,2.7 0 0 1 293.19,464.81Z" fill="#303030"/>
<path d="M68.9,448.05C69.97,448.05 73.17,448.05 75.31,448.05C77.44,448.05 79.58,448.05 81.71,448.05C83.85,448.05 85.99,449.78 88.12,448.05C90.26,446.32 92.4,441.36 94.53,437.67C96.67,433.98 98.8,429.22 100.94,425.91C103.08,422.61 105.21,420.41 107.35,417.85C109.48,415.3 111.62,412.89 113.76,410.57C115.89,408.24 118.03,406.03 120.17,403.91C122.3,401.78 124.44,399.75 126.57,397.81C128.71,395.87 130.85,394.02 132.98,392.26C135.12,390.5 137.25,388.82 139.39,387.24C141.53,385.65 143.66,384.15 145.8,382.74C147.94,381.33 150.07,380.01 152.21,378.77C154.34,377.54 156.48,376.4 158.62,375.34C160.75,374.29 162.89,373.32 165.02,372.45C167.16,371.58 169.3,370.8 171.43,370.11C173.57,369.43 175.71,368.83 177.84,368.33C179.98,367.83 182.11,367.42 184.25,367.11C186.39,366.79 188.52,366.57 190.66,366.45C192.79,366.32 194.93,366.29 197.07,366.35C199.2,366.41 201.34,366.57 203.48,366.82C205.61,367.07 207.75,367.42 209.88,367.86C212.02,368.3 214.16,368.83 216.29,369.46C218.43,370.08 220.56,370.8 222.7,371.61C224.84,372.42 226.97,373.33 229.11,374.32C231.25,375.31 233.38,376.49 235.52,377.57C237.65,378.65 239.79,379.61 241.93,380.79C244.06,381.96 246.2,383.36 248.33,384.63C250.47,385.89 252.61,386.98 254.74,388.39C256.88,389.79 259.02,391.44 261.15,393.05C263.29,394.65 265.42,396.08 267.56,398.03C269.7,399.98 271.83,402.28 273.97,404.73C276.1,407.19 278.24,409.61 280.38,412.74C282.51,415.88 284.65,419.99 286.79,423.53C288.92,427.07 292.13,432.25 293.19,433.99" fill="none" stroke="#f04848" stroke-width="0.9" stroke-linejoin="round"/>
<path d="M68.9,445.35A2.7,2.7 0 0 0 68.9,450.75Z" fill="#f8dc00"/><path d="M68.9,445.35A2.7,2.7 0 0 1 68.9,450.75Z" fill="#f04040"/><path d="M75.31,445.35A2.7,2.7 0 0 0 75.31,450.75Z" fill="#f8dc00"/><path d="M75.31,445.35A2.7,2.7 0 0 1 75.31,450.75Z" fill="#f04040"/><path d="M81.71,445.35A2.7,2.7 0 0 0 81.71,450.75Z" fill="#f8dc00"/><path d="M81.71,445.35A2.7,2.7 0 0 1 81.71,450.75Z" fill="#f04040"/><path d="M88.12,445.35A2.7,2.7 0 0 0 88.12,450.75Z" fill="#f8dc00"/><path d="M88.12,445.35A2.7,2.7 0 0 1 88.12,450.75Z" fill="#f04040"/><path d="M94.53,434.97A2.7,2.7 0 0 0 94.53,440.37Z" fill="#f8dc00"/><path d="M94.53,434.97A2.7,2.7 0 0 1 94.53,440.37Z" fill="#f04040"/><path d="M100.94,423.21A2.7,2.7 0 0 0 100.94,428.61Z" fill="#f8dc00"/><path d="M100.94,423.21A2.7,2.7 0 0 1 100.94,428.61Z" fill="#f04040"/><path d="M107.35,415.15A2.7,2.7 0 0 0 107.35,420.55Z" fill="#f8dc00"/><path d="M107.35,415.15A2.7,2.7 0 0 1 107.35,420.55Z" fill="#f04040"/><path d="M113.76,407.87A2.7,2.7 0 0 0 113.76,413.27Z" fill="#f8dc00"/><path d="M113.76,407.87A2.7,2.7 0 0 1 113.76,413.27Z" fill="#f04040"/><path d="M120.17,401.21A2.7,2.7 0 0 0 120.17,406.61Z" fill="#f8dc00"/><path d="M120.17,401.21A2.7,2.7 0 0 1 120.17,406.61Z" fill="#f04040"/><path d="M126.57,395.11A2.7,2.7 0 0 0 126.57,400.51Z" fill="#f8dc00"/><path d="M126.57,395.11A2.7,2.7 0 0 1 126.57,400.51Z" fill="#f04040"/><path d="M132.98,389.56A2.7,2.7 0 0 0 132.98,394.96Z" fill="#f8dc00"/><path d="M132.98,389.56A2.7,2.7 0 0 1 132.98,394.96Z" fill="#f04040"/><path d="M139.39,384.54A2.7,2.7 0 0 0 139.39,389.94Z" fill="#f8dc00"/><path d="M139.39,384.54A2.7,2.7 0 0 1 139.39,389.94Z" fill="#f04040"/><path d="M145.8,380.04A2.7,2.7 0 0 0 145.8,385.44Z" fill="#f8dc00"/><path d="M145.8,380.04A2.7,2.7 0 0 1 145.8,385.44Z" fill="#f04040"/><path d="M152.21,376.07A2.7,2.7 0 0 0 152.21,381.47Z" fill="#f8dc00"/><path d="M152.21,376.07A2.7,2.7 0 0 1 152.21,381.47Z" fill="#f04040"/><path d="M158.62,372.64A2.7,2.7 0 0 0 158.62,378.04Z" fill="#f8dc00"/><path d="M158.62,372.64A2.7,2.7 0 0 1 158.62,378.04Z" fill="#f04040"/><path d="M165.02,369.75A2.7,2.7 0 0 0 165.02,375.15Z" fill="#f8dc00"/><path d="M165.02,369.75A2.7,2.7 0 0 1 165.02,375.15Z" fill="#f04040"/><path d="M171.43,367.41A2.7,2.7 0 0 0 171.43,372.81Z" fill="#f8dc00"/><path d="M171.43,367.41A2.7,2.7 0 0 1 171.43,372.81Z" fill="#f04040"/><path d="M177.84,365.63A2.7,2.7 0 0 0 177.84,371.03Z" fill="#f8dc00"/><path d="M177.84,365.63A2.7,2.7 0 0 1 177.84,371.03Z" fill="#f04040"/><path d="M184.25,364.41A2.7,2.7 0 0 0 184.25,369.81Z" fill="#f8dc00"/><path d="M184.25,364.41A2.7,2.7 0 0 1 184.25,369.81Z" fill="#f04040"/><path d="M190.66,363.75A2.7,2.7 0 0 0 190.66,369.15Z" fill="#f8dc00"/><path d="M190.66,363.75A2.7,2.7 0 0 1 190.66,369.15Z" fill="#f04040"/><path d="M197.07,363.65A2.7,2.7 0 0 0 197.07,369.05Z" fill="#f8dc00"/><path d="M197.07,363.65A2.7,2.7 0 0 1 197.07,369.05Z" fill="#f04040"/><path d="M203.48,364.12A2.7,2.7 0 0 0 203.48,369.52Z" fill="#f8dc00"/><path d="M203.48,364.12A2.7,2.7 0 0 1 203.48,369.52Z" fill="#f04040"/><path d="M209.88,365.16A2.7,2.7 0 0 0 209.88,370.56Z" fill="#f8dc00"/><path d="M209.88,365.16A2.7,2.7 0 0 1 209.88,370.56Z" fill="#f04040"/><path d="M216.29,366.76A2.7,2.7 0 0 0 216.29,372.16Z" fill="#f8dc00"/><path d="M216.29,366.76A2.7,2.7 0 0 1 216.29,372.16Z" fill="#f04040"/><path d="M222.7,368.91A2.7,2.7 0 0 0 222.7,374.31Z" fill="#f8dc00"/><path d="M222.7,368.91A2.7,2.7 0 0 1 222.7,374.31Z" fill="#f04040"/><path d="M229.11,371.62A2.7,2.7 0 0 0 229.11,377.02Z" fill="#f8dc00"/><path d="M229.11,371.62A2.7,2.7 0 0 1 229.11,377.02Z" fill="#f04040"/><path d="M235.52,374.87A2.7,2.7 0 0 0 235.52,380.27Z" fill="#f8dc00"/><path d="M235.52,374.87A2.7,2.7 0 0 1 235.52,380.27Z" fill="#f04040"/><path d="M241.93,378.09A2.7,2.7 0 0 0 241.93,383.49Z" fill="#f8dc00"/><path d="M241.93,378.09A2.7,2.7 0 0 1 241.93,383.49Z" fill="#f04040"/><path d="M248.33,381.93A2.7,2.7 0 0 0 248.33,387.33Z" fill="#f8dc00"/><path d="M248.33,381.93A2.7,2.7 0 0 1 248.33,387.33Z" fill="#f04040"/><path d="M254.74,385.69A2.7,2.7 0 0 0 254.74,391.09Z" fill="#f8dc00"/><path d="M254.74,385.69A2.7,2.7 0 0 1 254.74,391.09Z" fill="#f04040"/><path d="M261.15,390.35A2.7,2.7 0 0 0 261.15,395.75Z" fill="#f8dc00"/><path d="M261.15,390.35A2.7,2.7 0 0 1 261.15,395.75Z" fill="#f04040"/><path d="M267.56,395.33A2.7,2.7 0 0 0 267.56,400.73Z" fill="#f8dc00"/><path d="M267.56,395.33A2.7,2.7 0 0 1 267.56,400.73Z" fill="#f04040"/><path d="M273.97,402.03A2.7,2.7 0 0 0 273.97,407.43Z" fill="#f8dc00"/><path d="M273.97,402.03A2.7,2.7 0 0 1 273.97,407.43Z" fill="#f04040"/><path d="M280.38,410.04A2.7,2.7 0 0 0 280.38,415.44Z" fill="#f8dc00"/><path d="M280.38,410.04A2.7,2.7 0 0 1 280.38,415.44Z" fill="#f04040"/><path d="M286.79,420.83A2.7,2.7 0 0 0 286.79,426.23Z" fill="#f8dc00"/><path d="M286.79,420.83A2.7,2.7 0 0 1 286.79,426.23Z" fill="#f04040"/><path d="M293.19,431.29A2.7,2.7 0 0 0 293.19,436.69Z" fill="#f8dc00"/><path d="M293.19,431.29A2.7,2.7 0 0 1 293.19,436.69Z" fill="#f04040"/>
<path d="M68.9,448.05C69.97,448.05 73.17,448.05 75.31,448.05C77.44,448.05 79.58,448.05 81.71,448.05C83.85,448.05 85.99,446.04 88.12,448.05C90.26,450.06 92.4,455.8 94.53,460.08C96.67,464.36 98.8,469.88 100.94,473.71C103.08,477.54 105.21,480.08 107.35,483.05C109.48,486.01 111.62,488.8 113.76,491.5C115.89,494.19 118.03,496.75 120.17,499.22C122.3,501.68 124.44,504.03 126.57,506.28C128.71,508.53 130.85,510.67 132.98,512.71C135.12,514.76 137.25,516.7 139.39,518.54C141.53,520.38 143.66,522.12 145.8,523.75C147.94,525.39 150.07,526.92 152.21,528.35C154.34,529.78 156.48,531.1 158.62,532.33C160.75,533.55 162.89,534.66 165.02,535.67C167.16,536.68 169.3,537.59 171.43,538.38C173.57,539.18 175.71,539.87 177.84,540.45C179.98,541.03 182.11,541.51 184.25,541.87C186.39,542.24 188.52,542.49 190.66,542.64C192.79,542.78 194.93,542.82 197.07,542.75C199.2,542.67 201.34,542.49 203.48,542.2C205.61,541.91 207.75,541.51 209.88,541C212.02,540.49 214.16,539.87 216.29,539.15C218.43,538.42 220.56,537.59 222.7,536.65C224.84,535.71 226.97,534.66 229.11,533.51C231.25,532.36 233.38,530.99 235.52,529.74C237.65,528.49 239.79,527.38 241.93,526.01C244.06,524.65 246.2,523.03 248.33,521.56C250.47,520.09 252.61,518.83 254.74,517.2C256.88,515.58 259.02,513.67 261.15,511.8C263.29,509.94 265.42,508.28 267.56,506.03C269.7,503.77 271.83,501.1 273.97,498.26C276.1,495.42 278.24,492.61 280.38,488.97C282.51,485.34 284.65,480.57 286.79,476.47C288.92,472.36 292.13,466.36 293.19,464.34" fill="none" stroke="#1c6fe8" stroke-width="0.9" stroke-linejoin="round"/>
<path d="M68.9,445.35A2.7,2.7 0 0 0 68.9,450.75Z" fill="#f8dc00"/><path d="M68.9,445.35A2.7,2.7 0 0 1 68.9,450.75Z" fill="#1c6fe8"/><path d="M75.31,445.35A2.7,2.7 0 0 0 75.31,450.75Z" fill="#f8dc00"/><path d="M75.31,445.35A2.7,2.7 0 0 1 75.31,450.75Z" fill="#1c6fe8"/><path d="M81.71,445.35A2.7,2.7 0 0 0 81.71,450.75Z" fill="#f8dc00"/><path d="M81.71,445.35A2.7,2.7 0 0 1 81.71,450.75Z" fill="#1c6fe8"/><path d="M88.12,445.35A2.7,2.7 0 0 0 88.12,450.75Z" fill="#f8dc00"/><path d="M88.12,445.35A2.7,2.7 0 0 1 88.12,450.75Z" fill="#1c6fe8"/><path d="M94.53,457.38A2.7,2.7 0 0 0 94.53,462.78Z" fill="#f8dc00"/><path d="M94.53,457.38A2.7,2.7 0 0 1 94.53,462.78Z" fill="#1c6fe8"/><path d="M100.94,471.01A2.7,2.7 0 0 0 100.94,476.41Z" fill="#f8dc00"/><path d="M100.94,471.01A2.7,2.7 0 0 1 100.94,476.41Z" fill="#1c6fe8"/><path d="M107.35,480.35A2.7,2.7 0 0 0 107.35,485.75Z" fill="#f8dc00"/><path d="M107.35,480.35A2.7,2.7 0 0 1 107.35,485.75Z" fill="#1c6fe8"/><path d="M113.76,488.8A2.7,2.7 0 0 0 113.76,494.2Z" fill="#f8dc00"/><path d="M113.76,488.8A2.7,2.7 0 0 1 113.76,494.2Z" fill="#1c6fe8"/><path d="M120.17,496.52A2.7,2.7 0 0 0 120.17,501.92Z" fill="#f8dc00"/><path d="M120.17,496.52A2.7,2.7 0 0 1 120.17,501.92Z" fill="#1c6fe8"/><path d="M126.57,503.58A2.7,2.7 0 0 0 126.57,508.98Z" fill="#f8dc00"/><path d="M126.57,503.58A2.7,2.7 0 0 1 126.57,508.98Z" fill="#1c6fe8"/><path d="M132.98,510.01A2.7,2.7 0 0 0 132.98,515.41Z" fill="#f8dc00"/><path d="M132.98,510.01A2.7,2.7 0 0 1 132.98,515.41Z" fill="#1c6fe8"/><path d="M139.39,515.84A2.7,2.7 0 0 0 139.39,521.24Z" fill="#f8dc00"/><path d="M139.39,515.84A2.7,2.7 0 0 1 139.39,521.24Z" fill="#1c6fe8"/><path d="M145.8,521.05A2.7,2.7 0 0 0 145.8,526.45Z" fill="#f8dc00"/><path d="M145.8,521.05A2.7,2.7 0 0 1 145.8,526.45Z" fill="#1c6fe8"/><path d="M152.21,525.65A2.7,2.7 0 0 0 152.21,531.05Z" fill="#f8dc00"/><path d="M152.21,525.65A2.7,2.7 0 0 1 152.21,531.05Z" fill="#1c6fe8"/><path d="M158.62,529.63A2.7,2.7 0 0 0 158.62,535.03Z" fill="#f8dc00"/><path d="M158.62,529.63A2.7,2.7 0 0 1 158.62,535.03Z" fill="#1c6fe8"/><path d="M165.02,532.97A2.7,2.7 0 0 0 165.02,538.37Z" fill="#f8dc00"/><path d="M165.02,532.97A2.7,2.7 0 0 1 165.02,538.37Z" fill="#1c6fe8"/><path d="M171.43,535.68A2.7,2.7 0 0 0 171.43,541.08Z" fill="#f8dc00"/><path d="M171.43,535.68A2.7,2.7 0 0 1 171.43,541.08Z" fill="#1c6fe8"/><path d="M177.84,537.75A2.7,2.7 0 0 0 177.84,543.15Z" fill="#f8dc00"/><path d="M177.84,537.75A2.7,2.7 0 0 1 177.84,543.15Z" fill="#1c6fe8"/><path d="M184.25,539.17A2.7,2.7 0 0 0 184.25,544.57Z" fill="#f8dc00"/><path d="M184.25,539.17A2.7,2.7 0 0 1 184.25,544.57Z" fill="#1c6fe8"/><path d="M190.66,539.94A2.7,2.7 0 0 0 190.66,545.34Z" fill="#f8dc00"/><path d="M190.66,539.94A2.7,2.7 0 0 1 190.66,545.34Z" fill="#1c6fe8"/><path d="M197.07,540.05A2.7,2.7 0 0 0 197.07,545.45Z" fill="#f8dc00"/><path d="M197.07,540.05A2.7,2.7 0 0 1 197.07,545.45Z" fill="#1c6fe8"/><path d="M203.48,539.5A2.7,2.7 0 0 0 203.48,544.9Z" fill="#f8dc00"/><path d="M203.48,539.5A2.7,2.7 0 0 1 203.48,544.9Z" fill="#1c6fe8"/><path d="M209.88,538.3A2.7,2.7 0 0 0 209.88,543.7Z" fill="#f8dc00"/><path d="M209.88,538.3A2.7,2.7 0 0 1 209.88,543.7Z" fill="#1c6fe8"/><path d="M216.29,536.45A2.7,2.7 0 0 0 216.29,541.85Z" fill="#f8dc00"/><path d="M216.29,536.45A2.7,2.7 0 0 1 216.29,541.85Z" fill="#1c6fe8"/><path d="M222.7,533.95A2.7,2.7 0 0 0 222.7,539.35Z" fill="#f8dc00"/><path d="M222.7,533.95A2.7,2.7 0 0 1 222.7,539.35Z" fill="#1c6fe8"/><path d="M229.11,530.81A2.7,2.7 0 0 0 229.11,536.21Z" fill="#f8dc00"/><path d="M229.11,530.81A2.7,2.7 0 0 1 229.11,536.21Z" fill="#1c6fe8"/><path d="M235.52,527.04A2.7,2.7 0 0 0 235.52,532.44Z" fill="#f8dc00"/><path d="M235.52,527.04A2.7,2.7 0 0 1 235.52,532.44Z" fill="#1c6fe8"/><path d="M241.93,523.31A2.7,2.7 0 0 0 241.93,528.71Z" fill="#f8dc00"/><path d="M241.93,523.31A2.7,2.7 0 0 1 241.93,528.71Z" fill="#1c6fe8"/><path d="M248.33,518.86A2.7,2.7 0 0 0 248.33,524.26Z" fill="#f8dc00"/><path d="M248.33,518.86A2.7,2.7 0 0 1 248.33,524.26Z" fill="#1c6fe8"/><path d="M254.74,514.5A2.7,2.7 0 0 0 254.74,519.9Z" fill="#f8dc00"/><path d="M254.74,514.5A2.7,2.7 0 0 1 254.74,519.9Z" fill="#1c6fe8"/><path d="M261.15,509.1A2.7,2.7 0 0 0 261.15,514.5Z" fill="#f8dc00"/><path d="M261.15,509.1A2.7,2.7 0 0 1 261.15,514.5Z" fill="#1c6fe8"/><path d="M267.56,503.33A2.7,2.7 0 0 0 267.56,508.73Z" fill="#f8dc00"/><path d="M267.56,503.33A2.7,2.7 0 0 1 267.56,508.73Z" fill="#1c6fe8"/><path d="M273.97,495.56A2.7,2.7 0 0 0 273.97,500.96Z" fill="#f8dc00"/><path d="M273.97,495.56A2.7,2.7 0 0 1 273.97,500.96Z" fill="#1c6fe8"/><path d="M280.38,486.27A2.7,2.7 0 0 0 280.38,491.67Z" fill="#f8dc00"/><path d="M280.38,486.27A2.7,2.7 0 0 1 280.38,491.67Z" fill="#1c6fe8"/><path d="M286.79,473.77A2.7,2.7 0 0 0 286.79,479.17Z" fill="#f8dc00"/><path d="M286.79,473.77A2.7,2.7 0 0 1 286.79,479.17Z" fill="#1c6fe8"/><path d="M293.19,461.64A2.7,2.7 0 0 0 293.19,467.04Z" fill="#f8dc00"/><path d="M293.19,461.64A2.7,2.7 0 0 1 293.19,467.04Z" fill="#1c6fe8"/>
<path d="M68.9,448.05C69.97,448.05 73.17,448.05 75.31,448.05C77.44,448.05 79.58,448.05 81.71,448.05C83.85,448.05 85.99,450.06 88.12,448.05C90.26,446.04 92.4,440.3 94.53,436.02C96.67,431.74 98.8,426.22 100.94,422.39C103.08,418.56 105.21,416.02 107.35,413.05C109.48,410.09 111.62,407.3 113.76,404.6C115.89,401.91 118.03,399.35 120.17,396.88C122.3,394.42 124.44,392.07 126.57,389.82C128.71,387.57 130.85,385.43 132.98,383.39C135.12,381.34 137.25,379.4 139.39,377.56C141.53,375.72 143.66,373.98 145.8,372.35C147.94,370.71 150.07,369.18 152.21,367.75C154.34,366.32 156.48,365 158.62,363.77C160.75,362.55 162.89,361.44 165.02,360.43C167.16,359.42 169.3,358.51 171.43,357.72C173.57,356.92 175.71,356.23 177.84,355.65C179.98,355.07 182.11,354.59 184.25,354.23C186.39,353.86 188.52,353.61 190.66,353.46C192.79,353.32 194.93,353.28 197.07,353.35C199.2,353.43 201.34,353.61 203.48,353.9C205.61,354.19 207.75,354.59 209.88,355.1C212.02,355.61 214.16,356.23 216.29,356.95C218.43,357.68 220.56,358.51 222.7,359.45C224.84,360.39 226.97,361.44 229.11,362.59C231.25,363.74 233.38,365.11 235.52,366.36C237.65,367.61 239.79,368.72 241.93,370.09C244.06,371.45 246.2,373.07 248.33,374.54C250.47,376.01 252.61,377.27 254.74,378.9C256.88,380.52 259.02,382.43 261.15,384.3C263.29,386.16 265.42,387.82 267.56,390.07C269.7,392.33 271.83,395 273.97,397.84C276.1,400.68 278.24,403.49 280.38,407.13C282.51,410.76 284.65,415.53 286.79,419.63C288.92,423.74 292.13,429.74 293.19,431.76" fill="none" stroke="#2aaa70" stroke-width="0.9" stroke-linejoin="round"/>
<path d="M68.9,445.35A2.7,2.7 0 0 0 68.9,450.75Z" fill="#f8dc00"/><path d="M68.9,445.35A2.7,2.7 0 0 1 68.9,450.75Z" fill="#2aaa70"/><path d="M75.31,445.35A2.7,2.7 0 0 0 75.31,450.75Z" fill="#f8dc00"/><path d="M75.31,445.35A2.7,2.7 0 0 1 75.31,450.75Z" fill="#2aaa70"/><path d="M81.71,445.35A2.7,2.7 0 0 0 81.71,450.75Z" fill="#f8dc00"/><path d="M81.71,445.35A2.7,2.7 0 0 1 81.71,450.75Z" fill="#2aaa70"/><path d="M88.12,445.35A2.7,2.7 0 0 0 88.12,450.75Z" fill="#f8dc00"/><path d="M88.12,445.35A2.7,2.7 0 0 1 88.12,450.75Z" fill="#2aaa70"/><path d="M94.53,433.32A2.7,2.7 0 0 0 94.53,438.72Z" fill="#f8dc00"/><path d="M94.53,433.32A2.7,2.7 0 0 1 94.53,438.72Z" fill="#2aaa70"/><path d="M100.94,419.69A2.7,2.7 0 0 0 100.94,425.09Z" fill="#f8dc00"/><path d="M100.94,419.69A2.7,2.7 0 0 1 100.94,425.09Z" fill="#2aaa70"/><path d="M107.35,410.35A2.7,2.7 0 0 0 107.35,415.75Z" fill="#f8dc00"/><path d="M107.35,410.35A2.7,2.7 0 0 1 107.35,415.75Z" fill="#2aaa70"/><path d="M113.76,401.9A2.7,2.7 0 0 0 113.76,407.3Z" fill="#f8dc00"/><path d="M113.76,401.9A2.7,2.7 0 0 1 113.76,407.3Z" fill="#2aaa70"/><path d="M120.17,394.18A2.7,2.7 0 0 0 120.17,399.58Z" fill="#f8dc00"/><path d="M120.17,394.18A2.7,2.7 0 0 1 120.17,399.58Z" fill="#2aaa70"/><path d="M126.57,387.12A2.7,2.7 0 0 0 126.57,392.52Z" fill="#f8dc00"/><path d="M126.57,387.12A2.7,2.7 0 0 1 126.57,392.52Z" fill="#2aaa70"/><path d="M132.98,380.69A2.7,2.7 0 0 0 132.98,386.09Z" fill="#f8dc00"/><path d="M132.98,380.69A2.7,2.7 0 0 1 132.98,386.09Z" fill="#2aaa70"/><path d="M139.39,374.86A2.7,2.7 0 0 0 139.39,380.26Z" fill="#f8dc00"/><path d="M139.39,374.86A2.7,2.7 0 0 1 139.39,380.26Z" fill="#2aaa70"/><path d="M145.8,369.65A2.7,2.7 0 0 0 145.8,375.05Z" fill="#f8dc00"/><path d="M145.8,369.65A2.7,2.7 0 0 1 145.8,375.05Z" fill="#2aaa70"/><path d="M152.21,365.05A2.7,2.7 0 0 0 152.21,370.45Z" fill="#f8dc00"/><path d="M152.21,365.05A2.7,2.7 0 0 1 152.21,370.45Z" fill="#2aaa70"/><path d="M158.62,361.07A2.7,2.7 0 0 0 158.62,366.47Z" fill="#f8dc00"/><path d="M158.62,361.07A2.7,2.7 0 0 1 158.62,366.47Z" fill="#2aaa70"/><path d="M165.02,357.73A2.7,2.7 0 0 0 165.02,363.13Z" fill="#f8dc00"/><path d="M165.02,357.73A2.7,2.7 0 0 1 165.02,363.13Z" fill="#2aaa70"/><path d="M171.43,355.02A2.7,2.7 0 0 0 171.43,360.42Z" fill="#f8dc00"/><path d="M171.43,355.02A2.7,2.7 0 0 1 171.43,360.42Z" fill="#2aaa70"/><path d="M177.84,352.95A2.7,2.7 0 0 0 177.84,358.35Z" fill="#f8dc00"/><path d="M177.84,352.95A2.7,2.7 0 0 1 177.84,358.35Z" fill="#2aaa70"/><path d="M184.25,351.53A2.7,2.7 0 0 0 184.25,356.93Z" fill="#f8dc00"/><path d="M184.25,351.53A2.7,2.7 0 0 1 184.25,356.93Z" fill="#2aaa70"/><path d="M190.66,350.76A2.7,2.7 0 0 0 190.66,356.16Z" fill="#f8dc00"/><path d="M190.66,350.76A2.7,2.7 0 0 1 190.66,356.16Z" fill="#2aaa70"/><path d="M197.07,350.65A2.7,2.7 0 0 0 197.07,356.05Z" fill="#f8dc00"/><path d="M197.07,350.65A2.7,2.7 0 0 1 197.07,356.05Z" fill="#2aaa70"/><path d="M203.48,351.2A2.7,2.7 0 0 0 203.48,356.6Z" fill="#f8dc00"/><path d="M203.48,351.2A2.7,2.7 0 0 1 203.48,356.6Z" fill="#2aaa70"/><path d="M209.88,352.4A2.7,2.7 0 0 0 209.88,357.8Z" fill="#f8dc00"/><path d="M209.88,352.4A2.7,2.7 0 0 1 209.88,357.8Z" fill="#2aaa70"/><path d="M216.29,354.25A2.7,2.7 0 0 0 216.29,359.65Z" fill="#f8dc00"/><path d="M216.29,354.25A2.7,2.7 0 0 1 216.29,359.65Z" fill="#2aaa70"/><path d="M222.7,356.75A2.7,2.7 0 0 0 222.7,362.15Z" fill="#f8dc00"/><path d="M222.7,356.75A2.7,2.7 0 0 1 222.7,362.15Z" fill="#2aaa70"/><path d="M229.11,359.89A2.7,2.7 0 0 0 229.11,365.29Z" fill="#f8dc00"/><path d="M229.11,359.89A2.7,2.7 0 0 1 229.11,365.29Z" fill="#2aaa70"/><path d="M235.52,363.66A2.7,2.7 0 0 0 235.52,369.06Z" fill="#f8dc00"/><path d="M235.52,363.66A2.7,2.7 0 0 1 235.52,369.06Z" fill="#2aaa70"/><path d="M241.93,367.39A2.7,2.7 0 0 0 241.93,372.79Z" fill="#f8dc00"/><path d="M241.93,367.39A2.7,2.7 0 0 1 241.93,372.79Z" fill="#2aaa70"/><path d="M248.33,371.84A2.7,2.7 0 0 0 248.33,377.24Z" fill="#f8dc00"/><path d="M248.33,371.84A2.7,2.7 0 0 1 248.33,377.24Z" fill="#2aaa70"/><path d="M254.74,376.2A2.7,2.7 0 0 0 254.74,381.6Z" fill="#f8dc00"/><path d="M254.74,376.2A2.7,2.7 0 0 1 254.74,381.6Z" fill="#2aaa70"/><path d="M261.15,381.6A2.7,2.7 0 0 0 261.15,387Z" fill="#f8dc00"/><path d="M261.15,381.6A2.7,2.7 0 0 1 261.15,387Z" fill="#2aaa70"/><path d="M267.56,387.37A2.7,2.7 0 0 0 267.56,392.77Z" fill="#f8dc00"/><path d="M267.56,387.37A2.7,2.7 0 0 1 267.56,392.77Z" fill="#2aaa70"/><path d="M273.97,395.14A2.7,2.7 0 0 0 273.97,400.54Z" fill="#f8dc00"/><path d="M273.97,395.14A2.7,2.7 0 0 1 273.97,400.54Z" fill="#2aaa70"/><path d="M280.38,404.43A2.7,2.7 0 0 0 280.38,409.83Z" fill="#f8dc00"/><path d="M280.38,404.43A2.7,2.7 0 0 1 280.38,409.83Z" fill="#2aaa70"/><path d="M286.79,416.93A2.7,2.7 0 0 0 286.79,422.33Z" fill="#f8dc00"/><path d="M286.79,416.93A2.7,2.7 0 0 1 286.79,422.33Z" fill="#2aaa70"/><path d="M293.19,429.06A2.7,2.7 0 0 0 293.19,434.46Z" fill="#f8dc00"/><path d="M293.19,429.06A2.7,2.7 0 0 1 293.19,434.46Z" fill="#2aaa70"/>
<path d="M68.9,448.05C69.97,448.05 73.17,448.05 75.31,448.05C77.44,448.05 79.58,448.05 81.71,448.05C83.85,448.05 85.99,446.04 88.12,448.05C90.26,450.06 92.4,455.8 94.53,460.08C96.67,464.36 98.8,469.88 100.94,473.71C103.08,477.54 105.21,480.08 107.35,483.05C109.48,486.01 111.62,488.8 113.76,491.5C115.89,494.19 118.03,496.75 120.17,499.22C122.3,501.68 124.44,504.03 126.57,506.28C128.71,508.53 130.85,510.67 132.98,512.71C135.12,514.76 137.25,516.7 139.39,518.54C141.53,520.38 143.66,522.12 145.8,523.75C147.94,525.39 150.07,526.92 152.21,528.35C154.34,529.78 156.48,531.1 158.62,532.33C160.75,533.55 162.89,534.66 165.02,535.67C167.16,536.68 169.3,537.59 171.43,538.38C173.57,539.18 175.71,539.87 177.84,540.45C179.98,541.03 182.11,541.51 184.25,541.87C186.39,542.24 188.52,542.49 190.66,542.64C192.79,542.78 194.93,542.82 197.07,542.75C199.2,542.67 201.34,542.49 203.48,542.2C205.61,541.91 207.75,541.51 209.88,541C212.02,540.49 214.16,539.87 216.29,539.15C218.43,538.42 220.56,537.59 222.7,536.65C224.84,535.71 226.97,534.66 229.11,533.51C231.25,532.36 233.38,530.99 235.52,529.74C237.65,528.49 239.79,527.38 241.93,526.01C244.06,524.65 246.2,523.03 248.33,521.56C250.47,520.09 252.61,518.83 254.74,517.2C256.88,515.58 259.02,513.67 261.15,511.8C263.29,509.94 265.42,508.28 267.56,506.03C269.7,503.77 271.83,501.1 273.97,498.26C276.1,495.42 278.24,492.61 280.38,488.97C282.51,485.34 284.65,480.57 286.79,476.47C288.92,472.36 292.13,466.36 293.19,464.34" fill="none" stroke="#b283ee" stroke-width="0.9" stroke-linejoin="round"/>
<path d="M68.9,445.35A2.7,2.7 0 0 0 68.9,450.75Z" fill="#f8dc00"/><path d="M68.9,445.35A2.7,2.7 0 0 1 68.9,450.75Z" fill="#b283ee"/><path d="M75.31,445.35A2.7,2.7 0 0 0 75.31,450.75Z" fill="#f8dc00"/><path d="M75.31,445.35A2.7,2.7 0 0 1 75.31,450.75Z" fill="#b283ee"/><path d="M81.71,445.35A2.7,2.7 0 0 0 81.71,450.75Z" fill="#f8dc00"/><path d="M81.71,445.35A2.7,2.7 0 0 1 81.71,450.75Z" fill="#b283ee"/><path d="M88.12,445.35A2.7,2.7 0 0 0 88.12,450.75Z" fill="#f8dc00"/><path d="M88.12,445.35A2.7,2.7 0 0 1 88.12,450.75Z" fill="#b283ee"/><path d="M94.53,457.38A2.7,2.7 0 0 0 94.53,462.78Z" fill="#f8dc00"/><path d="M94.53,457.38A2.7,2.7 0 0 1 94.53,462.78Z" fill="#b283ee"/><path d="M100.94,471.01A2.7,2.7 0 0 0 100.94,476.41Z" fill="#f8dc00"/><path d="M100.94,471.01A2.7,2.7 0 0 1 100.94,476.41Z" fill="#b283ee"/><path d="M107.35,480.35A2.7,2.7 0 0 0 107.35,485.75Z" fill="#f8dc00"/><path d="M107.35,480.35A2.7,2.7 0 0 1 107.35,485.75Z" fill="#b283ee"/><path d="M113.76,488.8A2.7,2.7 0 0 0 113.76,494.2Z" fill="#f8dc00"/><path d="M113.76,488.8A2.7,2.7 0 0 1 113.76,494.2Z" fill="#b283ee"/><path d="M120.17,496.52A2.7,2.7 0 0 0 120.17,501.92Z" fill="#f8dc00"/><path d="M120.17,496.52A2.7,2.7 0 0 1 120.17,501.92Z" fill="#b283ee"/><path d="M126.57,503.58A2.7,2.7 0 0 0 126.57,508.98Z" fill="#f8dc00"/><path d="M126.57,503.58A2.7,2.7 0 0 1 126.57,508.98Z" fill="#b283ee"/><path d="M132.98,510.01A2.7,2.7 0 0 0 132.98,515.41Z" fill="#f8dc00"/><path d="M132.98,510.01A2.7,2.7 0 0 1 132.98,515.41Z" fill="#b283ee"/><path d="M139.39,515.84A2.7,2.7 0 0 0 139.39,521.24Z" fill="#f8dc00"/><path d="M139.39,515.84A2.7,2.7 0 0 1 139.39,521.24Z" fill="#b283ee"/><path d="M145.8,521.05A2.7,2.7 0 0 0 145.8,526.45Z" fill="#f8dc00"/><path d="M145.8,521.05A2.7,2.7 0 0 1 145.8,526.45Z" fill="#b283ee"/><path d="M152.21,525.65A2.7,2.7 0 0 0 152.21,531.05Z" fill="#f8dc00"/><path d="M152.21,525.65A2.7,2.7 0 0 1 152.21,531.05Z" fill="#b283ee"/><path d="M158.62,529.63A2.7,2.7 0 0 0 158.62,535.03Z" fill="#f8dc00"/><path d="M158.62,529.63A2.7,2.7 0 0 1 158.62,535.03Z" fill="#b283ee"/><path d="M165.02,532.97A2.7,2.7 0 0 0 165.02,538.37Z" fill="#f8dc00"/><path d="M165.02,532.97A2.7,2.7 0 0 1 165.02,538.37Z" fill="#b283ee"/><path d="M171.43,535.68A2.7,2.7 0 0 0 171.43,541.08Z" fill="#f8dc00"/><path d="M171.43,535.68A2.7,2.7 0 0 1 171.43,541.08Z" fill="#b283ee"/><path d="M177.84,537.75A2.7,2.7 0 0 0 177.84,543.15Z" fill="#f8dc00"/><path d="M177.84,537.75A2.7,2.7 0 0 1 177.84,543.15Z" fill="#b283ee"/><path d="M184.25,539.17A2.7,2.7 0 0 0 184.25,544.57Z" fill="#f8dc00"/><path d="M184.25,539.17A2.7,2.7 0 0 1 184.25,544.57Z" fill="#b283ee"/><path d="M190.66,539.94A2.7,2.7 0 0 0 190.66,545.34Z" fill="#f8dc00"/><path d="M190.66,539.94A2.7,2.7 0 0 1 190.66,545.34Z" fill="#b283ee"/><path d="M197.07,540.05A2.7,2.7 0 0 0 197.07,545.45Z" fill="#f8dc00"/><path d="M197.07,540.05A2.7,2.7 0 0 1 197.07,545.45Z" fill="#b283ee"/><path d="M203.48,539.5A2.7,2.7 0 0 0 203.48,544.9Z" fill="#f8dc00"/><path d="M203.48,539.5A2.7,2.7 0 0 1 203.48,544.9Z" fill="#b283ee"/><path d="M209.88,538.3A2.7,2.7 0 0 0 209.88,543.7Z" fill="#f8dc00"/><path d="M209.88,538.3A2.7,2.7 0 0 1 209.88,543.7Z" fill="#b283ee"/><path d="M216.29,536.45A2.7,2.7 0 0 0 216.29,541.85Z" fill="#f8dc00"/><path d="M216.29,536.45A2.7,2.7 0 0 1 216.29,541.85Z" fill="#b283ee"/><path d="M222.7,533.95A2.7,2.7 0 0 0 222.7,539.35Z" fill="#f8dc00"/><path d="M222.7,533.95A2.7,2.7 0 0 1 222.7,539.35Z" fill="#b283ee"/><path d="M229.11,530.81A2.7,2.7 0 0 0 229.11,536.21Z" fill="#f8dc00"/><path d="M229.11,530.81A2.7,2.7 0 0 1 229.11,536.21Z" fill="#b283ee"/><path d="M235.52,527.04A2.7,2.7 0 0 0 235.52,532.44Z" fill="#f8dc00"/><path d="M235.52,527.04A2.7,2.7 0 0 1 235.52,532.44Z" fill="#b283ee"/><path d="M241.93,523.31A2.7,2.7 0 0 0 241.93,528.71Z" fill="#f8dc00"/><path d="M241.93,523.31A2.7,2.7 0 0 1 241.93,528.71Z" fill="#b283ee"/><path d="M248.33,518.86A2.7,2.7 0 0 0 248.33,524.26Z" fill="#f8dc00"/><path d="M248.33,518.86A2.7,2.7 0 0 1 248.33,524.26Z" fill="#b283ee"/><path d="M254.74,514.5A2.7,2.7 0 0 0 254.74,519.9Z" fill="#f8dc00"/><path d="M254.74,514.5A2.7,2.7 0 0 1 254.74,519.9Z" fill="#b283ee"/><path d="M261.15,509.1A2.7,2.7 0 0 0 261.15,514.5Z" fill="#f8dc00"/><path d="M261.15,509.1A2.7,2.7 0 0 1 261.15,514.5Z" fill="#b283ee"/><path d="M267.56,503.33A2.7,2.7 0 0 0 267.56,508.73Z" fill="#f8dc00"/><path d="M267.56,503.33A2.7,2.7 0 0 1 267.56,508.73Z" fill="#b283ee"/><path d="M273.97,495.56A2.7,2.7 0 0 0 273.97,500.96Z" fill="#f8dc00"/><path d="M273.97,495.56A2.7,2.7 0 0 1 273.97,500.96Z" fill="#b283ee"/><path d="M280.38,486.27A2.7,2.7 0 0 0 280.38,491.67Z" fill="#f8dc00"/><path d="M280.38,486.27A2.7,2.7 0 0 1 280.38,491.67Z" fill="#b283ee"/><path d="M286.79,473.77A2.7,2.7 0 0 0 286.79,479.17Z" fill="#f8dc00"/><path d="M286.79,473.77A2.7,2.7 0 0 1 286.79,479.17Z" fill="#b283ee"/><path d="M293.19,461.64A2.7,2.7 0 0 0 293.19,467.04Z" fill="#f8dc00"/><path d="M293.19,461.64A2.7,2.7 0 0 1 293.19,467.04Z" fill="#b283ee"/>
<path d="M68.9,448.05C69.97,448.05 73.17,448.05 75.31,448.05C77.44,448.05 79.58,448.05 81.71,448.05C83.85,448.05 85.99,450.06 88.12,448.05C90.26,446.04 92.4,440.3 94.53,436.02C96.67,431.74 98.8,426.22 100.94,422.39C103.08,418.56 105.21,416.02 107.35,413.05C109.48,410.09 111.62,407.3 113.76,404.6C115.89,401.91 118.03,399.35 120.17,396.88C122.3,394.42 124.44,392.07 126.57,389.82C128.71,387.57 130.85,385.43 132.98,383.39C135.12,381.34 137.25,379.4 139.39,377.56C141.53,375.72 143.66,373.98 145.8,372.35C147.94,370.71 150.07,369.18 152.21,367.75C154.34,366.32 156.48,365 158.62,363.77C160.75,362.55 162.89,361.44 165.02,360.43C167.16,359.42 169.3,358.51 171.43,357.72C173.57,356.92 175.71,356.23 177.84,355.65C179.98,355.07 182.11,354.59 184.25,354.23C186.39,353.86 188.52,353.61 190.66,353.46C192.79,353.32 194.93,353.28 197.07,353.35C199.2,353.43 201.34,353.61 203.48,353.9C205.61,354.19 207.75,354.59 209.88,355.1C212.02,355.61 214.16,356.23 216.29,356.95C218.43,357.68 220.56,358.51 222.7,359.45C224.84,360.39 226.97,361.44 229.11,362.59C231.25,363.74 233.38,365.11 235.52,366.36C237.65,367.61 239.79,368.72 241.93,370.09C244.06,371.45 246.2,373.07 248.33,374.54C250.47,376.01 252.61,377.27 254.74,378.9C256.88,380.52 259.02,382.43 261.15,384.3C263.29,386.16 265.42,387.82 267.56,390.07C269.7,392.33 271.83,395 273.97,397.84C276.1,400.68 278.24,403.49 280.38,407.13C282.51,410.76 284.65,415.53 286.79,419.63C288.92,423.74 292.13,429.74 293.19,431.76" fill="none" stroke="#d2a01c" stroke-width="0.9" stroke-linejoin="round"/>
<path d="M68.9,445.35A2.7,2.7 0 0 0 68.9,450.75Z" fill="#f8dc00"/><path d="M68.9,445.35A2.7,2.7 0 0 1 68.9,450.75Z" fill="#e8b800"/><path d="M75.31,445.35A2.7,2.7 0 0 0 75.31,450.75Z" fill="#f8dc00"/><path d="M75.31,445.35A2.7,2.7 0 0 1 75.31,450.75Z" fill="#e8b800"/><path d="M81.71,445.35A2.7,2.7 0 0 0 81.71,450.75Z" fill="#f8dc00"/><path d="M81.71,445.35A2.7,2.7 0 0 1 81.71,450.75Z" fill="#e8b800"/><path d="M88.12,445.35A2.7,2.7 0 0 0 88.12,450.75Z" fill="#f8dc00"/><path d="M88.12,445.35A2.7,2.7 0 0 1 88.12,450.75Z" fill="#e8b800"/><path d="M94.53,433.32A2.7,2.7 0 0 0 94.53,438.72Z" fill="#f8dc00"/><path d="M94.53,433.32A2.7,2.7 0 0 1 94.53,438.72Z" fill="#e8b800"/><path d="M100.94,419.69A2.7,2.7 0 0 0 100.94,425.09Z" fill="#f8dc00"/><path d="M100.94,419.69A2.7,2.7 0 0 1 100.94,425.09Z" fill="#e8b800"/><path d="M107.35,410.35A2.7,2.7 0 0 0 107.35,415.75Z" fill="#f8dc00"/><path d="M107.35,410.35A2.7,2.7 0 0 1 107.35,415.75Z" fill="#e8b800"/><path d="M113.76,401.9A2.7,2.7 0 0 0 113.76,407.3Z" fill="#f8dc00"/><path d="M113.76,401.9A2.7,2.7 0 0 1 113.76,407.3Z" fill="#e8b800"/><path d="M120.17,394.18A2.7,2.7 0 0 0 120.17,399.58Z" fill="#f8dc00"/><path d="M120.17,394.18A2.7,2.7 0 0 1 120.17,399.58Z" fill="#e8b800"/><path d="M126.57,387.12A2.7,2.7 0 0 0 126.57,392.52Z" fill="#f8dc00"/><path d="M126.57,387.12A2.7,2.7 0 0 1 126.57,392.52Z" fill="#e8b800"/><path d="M132.98,380.69A2.7,2.7 0 0 0 132.98,386.09Z" fill="#f8dc00"/><path d="M132.98,380.69A2.7,2.7 0 0 1 132.98,386.09Z" fill="#e8b800"/><path d="M139.39,374.86A2.7,2.7 0 0 0 139.39,380.26Z" fill="#f8dc00"/><path d="M139.39,374.86A2.7,2.7 0 0 1 139.39,380.26Z" fill="#e8b800"/><path d="M145.8,369.65A2.7,2.7 0 0 0 145.8,375.05Z" fill="#f8dc00"/><path d="M145.8,369.65A2.7,2.7 0 0 1 145.8,375.05Z" fill="#e8b800"/><path d="M152.21,365.05A2.7,2.7 0 0 0 152.21,370.45Z" fill="#f8dc00"/><path d="M152.21,365.05A2.7,2.7 0 0 1 152.21,370.45Z" fill="#e8b800"/><path d="M158.62,361.07A2.7,2.7 0 0 0 158.62,366.47Z" fill="#f8dc00"/><path d="M158.62,361.07A2.7,2.7 0 0 1 158.62,366.47Z" fill="#e8b800"/><path d="M165.02,357.73A2.7,2.7 0 0 0 165.02,363.13Z" fill="#f8dc00"/><path d="M165.02,357.73A2.7,2.7 0 0 1 165.02,363.13Z" fill="#e8b800"/><path d="M171.43,355.02A2.7,2.7 0 0 0 171.43,360.42Z" fill="#f8dc00"/><path d="M171.43,355.02A2.7,2.7 0 0 1 171.43,360.42Z" fill="#e8b800"/><path d="M177.84,352.95A2.7,2.7 0 0 0 177.84,358.35Z" fill="#f8dc00"/><path d="M177.84,352.95A2.7,2.7 0 0 1 177.84,358.35Z" fill="#e8b800"/><path d="M184.25,351.53A2.7,2.7 0 0 0 184.25,356.93Z" fill="#f8dc00"/><path d="M184.25,351.53A2.7,2.7 0 0 1 184.25,356.93Z" fill="#e8b800"/><path d="M190.66,350.76A2.7,2.7 0 0 0 190.66,356.16Z" fill="#f8dc00"/><path d="M190.66,350.76A2.7,2.7 0 0 1 190.66,356.16Z" fill="#e8b800"/><path d="M197.07,350.65A2.7,2.7 0 0 0 197.07,356.05Z" fill="#f8dc00"/><path d="M197.07,350.65A2.7,2.7 0 0 1 197.07,356.05Z" fill="#e8b800"/><path d="M203.48,351.2A2.7,2.7 0 0 0 203.48,356.6Z" fill="#f8dc00"/><path d="M203.48,351.2A2.7,2.7 0 0 1 203.48,356.6Z" fill="#e8b800"/><path d="M209.88,352.4A2.7,2.7 0 0 0 209.88,357.8Z" fill="#f8dc00"/><path d="M209.88,352.4A2.7,2.7 0 0 1 209.88,357.8Z" fill="#e8b800"/><path d="M216.29,354.25A2.7,2.7 0 0 0 216.29,359.65Z" fill="#f8dc00"/><path d="M216.29,354.25A2.7,2.7 0 0 1 216.29,359.65Z" fill="#e8b800"/><path d="M222.7,356.75A2.7,2.7 0 0 0 222.7,362.15Z" fill="#f8dc00"/><path d="M222.7,356.75A2.7,2.7 0 0 1 222.7,362.15Z" fill="#e8b800"/><path d="M229.11,359.89A2.7,2.7 0 0 0 229.11,365.29Z" fill="#f8dc00"/><path d="M229.11,359.89A2.7,2.7 0 0 1 229.11,365.29Z" fill="#e8b800"/><path d="M235.52,363.66A2.7,2.7 0 0 0 235.52,369.06Z" fill="#f8dc00"/><path d="M235.52,363.66A2.7,2.7 0 0 1 235.52,369.06Z" fill="#e8b800"/><path d="M241.93,367.39A2.7,2.7 0 0 0 241.93,372.79Z" fill="#f8dc00"/><path d="M241.93,367.39A2.7,2.7 0 0 1 241.93,372.79Z" fill="#e8b800"/><path d="M248.33,371.84A2.7,2.7 0 0 0 248.33,377.24Z" fill="#f8dc00"/><path d="M248.33,371.84A2.7,2.7 0 0 1 248.33,377.24Z" fill="#e8b800"/><path d="M254.74,376.2A2.7,2.7 0 0 0 254.74,381.6Z" fill="#f8dc00"/><path d="M254.74,376.2A2.7,2.7 0 0 1 254.74,381.6Z" fill="#e8b800"/><path d="M261.15,381.6A2.7,2.7 0 0 0 261.15,387Z" fill="#f8dc00"/><path d="M261.15,381.6A2.7,2.7 0 0 1 261.15,387Z" fill="#e8b800"/><path d="M267.56,387.37A2.7,2.7 0 0 0 267.56,392.77Z" fill="#f8dc00"/><path d="M267.56,387.37A2.7,2.7 0 0 1 267.56,392.77Z" fill="#e8b800"/><path d="M273.97,395.14A2.7,2.7 0 0 0 273.97,400.54Z" fill="#f8dc00"/><path d="M273.97,395.14A2.7,2.7 0 0 1 273.97,400.54Z" fill="#e8b800"/><path d="M280.38,404.43A2.7,2.7 0 0 0 280.38,409.83Z" fill="#f8dc00"/><path d="M280.38,404.43A2.7,2.7 0 0 1 280.38,409.83Z" fill="#e8b800"/><path d="M286.79,416.93A2.7,2.7 0 0 0 286.79,422.33Z" fill="#f8dc00"/><path d="M286.79,416.93A2.7,2.7 0 0 1 286.79,422.33Z" fill="#e8b800"/><path d="M293.19,429.06A2.7,2.7 0 0 0 293.19,434.46Z" fill="#f8dc00"/><path d="M293.19,429.06A2.7,2.7 0 0 1 293.19,434.46Z" fill="#e8b800"/>
<line x1="48.3" y1="344.4" x2="65.8" y2="344.4" stroke="#454545" stroke-width="1.0"/>
<path d="M57.1,341.7A2.7,2.7 0 0 0 57.1,347.1Z" fill="#f8dc00"/><path d="M57.1,341.7A2.7,2.7 0 0 1 57.1,347.1Z" fill="#303030"/>
<text x="67.6" y="346.88" font-size="7.3">Disp-Z of CMTC</text>
<line x1="48.3" y1="353.2" x2="65.8" y2="353.2" stroke="#f04848" stroke-width="1.0"/>
<path d="M57.1,350.5A2.7,2.7 0 0 0 57.1,355.9Z" fill="#f8dc00"/><path d="M57.1,350.5A2.7,2.7 0 0 1 57.1,355.9Z" fill="#f04848"/>
<text x="67.6" y="355.68" font-size="7.3">Disp-1 of CMTC</text>
<line x1="48.3" y1="362.6" x2="65.8" y2="362.6" stroke="#1c6fe8" stroke-width="1.0"/>
<path d="M57.1,359.9A2.7,2.7 0 0 0 57.1,365.3Z" fill="#f8dc00"/><path d="M57.1,359.9A2.7,2.7 0 0 1 57.1,365.3Z" fill="#1c6fe8"/>
<text x="67.6" y="365.08" font-size="7.3">Disp-Z of LMHT</text>
<line x1="48.3" y1="371.6" x2="65.8" y2="371.6" stroke="#2aaa70" stroke-width="1.0"/>
<path d="M57.1,368.9A2.7,2.7 0 0 0 57.1,374.3Z" fill="#f8dc00"/><path d="M57.1,368.9A2.7,2.7 0 0 1 57.1,374.3Z" fill="#2aaa70"/>
<text x="67.6" y="374.08" font-size="7.3">Disp-1 of LMHT</text>
<line x1="48.3" y1="380.8" x2="65.8" y2="380.8" stroke="#b283ee" stroke-width="1.0"/>
<path d="M57.1,378.1A2.7,2.7 0 0 0 57.1,383.5Z" fill="#f8dc00"/><path d="M57.1,378.1A2.7,2.7 0 0 1 57.1,383.5Z" fill="#b283ee"/>
<text x="67.6" y="383.28" font-size="7.3">Disp-Z of LCMTC</text>
<line x1="48.3" y1="389.8" x2="65.8" y2="389.8" stroke="#d2a01c" stroke-width="1.0"/>
<path d="M57.1,387.1A2.7,2.7 0 0 0 57.1,392.5Z" fill="#f8dc00"/><path d="M57.1,387.1A2.7,2.7 0 0 1 57.1,392.5Z" fill="#e8b800"/>
<text x="67.6" y="392.28" font-size="7.3">Disp-1 of LCMTC</text>
<text x="184.1" y="573.5" font-size="11.7" text-anchor="middle" >Advance rate of Working face(m)</text>
<text transform="translate(10.6,448.7) rotate(-90)" font-size="11.6" text-anchor="middle">Monitoring layout of main roof(m)</text>
<text x="28.8" y="614.9" font-size="17.3" textLength="263" lengthAdjust="spacingAndGlyphs" fill="#000">Main roof displacement comparison</text>
<line x1="423.35" y1="323.7" x2="423.35" y2="553.8" stroke="#e4e4e4" stroke-width="0.8" stroke-dasharray="1 1.6"/>
<line x1="467.19" y1="323.7" x2="467.19" y2="553.8" stroke="#e4e4e4" stroke-width="0.8" stroke-dasharray="1 1.6"/>
<line x1="511.04" y1="323.7" x2="511.04" y2="553.8" stroke="#e4e4e4" stroke-width="0.8" stroke-dasharray="1 1.6"/>
<line x1="554.88" y1="323.7" x2="554.88" y2="553.8" stroke="#e4e4e4" stroke-width="0.8" stroke-dasharray="1 1.6"/>
<line x1="598.73" y1="323.7" x2="598.73" y2="553.8" stroke="#e4e4e4" stroke-width="0.8" stroke-dasharray="1 1.6"/>
<line x1="642.58" y1="323.7" x2="642.58" y2="553.8" stroke="#e4e4e4" stroke-width="0.8" stroke-dasharray="1 1.6"/>
<line x1="379.5" y1="541.02" x2="664.5" y2="541.02" stroke="#e4e4e4" stroke-width="0.8" stroke-dasharray="1 1.6"/>
<line x1="379.5" y1="515.45" x2="664.5" y2="515.45" stroke="#e4e4e4" stroke-width="0.8" stroke-dasharray="1 1.6"/>
<line x1="379.5" y1="489.88" x2="664.5" y2="489.88" stroke="#e4e4e4" stroke-width="0.8" stroke-dasharray="1 1.6"/>
<line x1="379.5" y1="464.32" x2="664.5" y2="464.32" stroke="#e4e4e4" stroke-width="0.8" stroke-dasharray="1 1.6"/>
<line x1="379.5" y1="438.75" x2="664.5" y2="438.75" stroke="#e4e4e4" stroke-width="0.8" stroke-dasharray="1 1.6"/>
<line x1="379.5" y1="413.18" x2="664.5" y2="413.18" stroke="#e4e4e4" stroke-width="0.8" stroke-dasharray="1 1.6"/>
<line x1="379.5" y1="387.62" x2="664.5" y2="387.62" stroke="#e4e4e4" stroke-width="0.8" stroke-dasharray="1 1.6"/>
<line x1="379.5" y1="362.05" x2="664.5" y2="362.05" stroke="#e4e4e4" stroke-width="0.8" stroke-dasharray="1 1.6"/>
<line x1="379.5" y1="336.48" x2="664.5" y2="336.48" stroke="#e4e4e4" stroke-width="0.8" stroke-dasharray="1 1.6"/>
<line x1="401.42" y1="323.7" x2="401.42" y2="553.8" stroke="#dcdcdc" stroke-width="1.05"/>
<line x1="445.27" y1="323.7" x2="445.27" y2="553.8" stroke="#dcdcdc" stroke-width="1.05"/>
<line x1="489.12" y1="323.7" x2="489.12" y2="553.8" stroke="#dcdcdc" stroke-width="1.05"/>
<line x1="532.96" y1="323.7" x2="532.96" y2="553.8" stroke="#dcdcdc" stroke-width="1.05"/>
<line x1="576.81" y1="323.7" x2="576.81" y2="553.8" stroke="#dcdcdc" stroke-width="1.05"/>
<line x1="620.65" y1="323.7" x2="620.65" y2="553.8" stroke="#dcdcdc" stroke-width="1.05"/>
<line x1="379.5" y1="528.23" x2="664.5" y2="528.23" stroke="#dcdcdc" stroke-width="1.05"/>
<line x1="379.5" y1="502.67" x2="664.5" y2="502.67" stroke="#dcdcdc" stroke-width="1.05"/>
<line x1="379.5" y1="477.1" x2="664.5" y2="477.1" stroke="#dcdcdc" stroke-width="1.05"/>
<line x1="379.5" y1="451.53" x2="664.5" y2="451.53" stroke="#dcdcdc" stroke-width="1.05"/>
<line x1="379.5" y1="425.97" x2="664.5" y2="425.97" stroke="#dcdcdc" stroke-width="1.05"/>
<line x1="379.5" y1="400.4" x2="664.5" y2="400.4" stroke="#dcdcdc" stroke-width="1.05"/>
<line x1="379.5" y1="374.83" x2="664.5" y2="374.83" stroke="#dcdcdc" stroke-width="1.05"/>
<line x1="379.5" y1="349.27" x2="664.5" y2="349.27" stroke="#dcdcdc" stroke-width="1.05"/>
<rect x="379.5" y="323.7" width="285" height="230.1" fill="none" stroke="#333333" stroke-width="1.1"/>
<path d="M375.3,553.8H379.5M375.3,528.23H379.5M375.3,502.67H379.5M375.3,477.1H379.5M375.3,451.53H379.5M375.3,425.97H379.5M375.3,400.4H379.5M375.3,374.83H379.5M375.3,349.27H379.5M375.3,323.7H379.5M377.1,541.02H379.5M377.1,515.45H379.5M377.1,489.88H379.5M377.1,464.32H379.5M377.1,438.75H379.5M377.1,413.18H379.5M377.1,387.62H379.5M377.1,362.05H379.5M377.1,336.48H379.5" stroke="#333333" stroke-width="1"/>
<text x="371.6" y="557.52" font-size="9.3" text-anchor="end">−30</text>
<text x="371.6" y="531.95" font-size="9.3" text-anchor="end">−20</text>
<text x="371.6" y="506.39" font-size="9.3" text-anchor="end">−10</text>
<text x="371.6" y="480.82" font-size="9.3" text-anchor="end">0</text>
<text x="371.6" y="455.25" font-size="9.3" text-anchor="end">10</text>
<text x="371.6" y="429.69" font-size="9.3" text-anchor="end">20</text>
<text x="371.6" y="404.12" font-size="9.3" text-anchor="end">30</text>
<text x="371.6" y="378.55" font-size="9.3" text-anchor="end">40</text>
<text x="371.6" y="352.99" font-size="9.3" text-anchor="end">50</text>
<text x="371.6" y="327.42" font-size="9.3" text-anchor="end">60</text>
<path d="M401.42,553.8V557.2M445.27,553.8V557.2M489.12,553.8V557.2M532.96,553.8V557.2M576.81,553.8V557.2M620.65,553.8V557.2M379.5,553.8V555.8M423.35,553.8V555.8M467.19,553.8V555.8M511.04,553.8V555.8M554.88,553.8V555.8M598.73,553.8V555.8M642.58,553.8V555.8" stroke="#333333" stroke-width="1"/>
<path d="M379.5,322.9 L376.1,329.1 L382.9,329.1Z" fill="#111"/>
<path d="M665.1,553.8 L658.9,550.8 L658.9,556.8Z" fill="#111"/>
<text x="401.42" y="569.5" font-size="9.4" text-anchor="middle">0</text>
<text x="445.27" y="569.5" font-size="9.4" text-anchor="middle">100</text>
<text x="489.12" y="569.5" font-size="9.4" text-anchor="middle">200</text>
<text x="532.96" y="569.5" font-size="9.4" text-anchor="middle">300</text>
<text x="576.81" y="569.5" font-size="9.4" text-anchor="middle">400</text>
<text x="620.65" y="569.5" font-size="9.4" text-anchor="middle">500</text>
<text x="664.5" y="569.5" font-size="9.4" text-anchor="middle">600</text>
<path d="M403.62,524.14C404.71,524.14 408,526.23 410.19,524.14C412.38,522.05 414.58,515.24 416.77,511.61C418.96,507.99 421.15,505.69 423.35,502.41C425.54,499.13 427.73,495.51 429.92,491.93C432.12,488.35 434.31,482.43 436.5,480.93C438.69,479.44 440.88,483.11 443.08,482.98C445.27,482.85 447.46,480.72 449.65,480.17C451.85,479.61 454.04,479.27 456.23,479.66C458.42,480.04 460.62,481.15 462.81,482.47C465,483.79 467.19,486.47 469.38,487.58C471.58,488.69 473.77,488.78 475.96,489.12C478.15,489.46 480.35,489.8 482.54,489.63C484.73,489.46 486.92,488.09 489.12,488.09C491.31,488.09 493.5,489.2 495.69,489.63C497.88,490.05 500.08,490.82 502.27,490.65C504.46,490.48 506.65,489.12 508.85,488.6C511.04,488.09 513.23,488.69 515.42,487.58C517.62,486.47 519.81,483.83 522,481.96C524.19,480.08 526.38,477.19 528.58,476.33C530.77,475.48 532.96,476.38 535.15,476.84C537.35,477.31 539.54,477.74 541.73,479.15C543.92,480.55 546.12,483.79 548.31,485.28C550.5,486.77 552.69,487.24 554.88,488.09C557.08,488.95 559.27,490.05 561.46,490.39C563.65,490.74 565.85,490.35 568.04,490.14C570.23,489.93 572.42,489.29 574.62,489.12C576.81,488.95 579,489.12 581.19,489.12C583.38,489.12 585.58,489.37 587.77,489.12C589.96,488.86 592.15,488.39 594.35,487.58C596.54,486.77 598.73,485.37 600.92,484.26C603.12,483.15 605.31,481.7 607.5,480.93C609.69,480.17 611.88,479.74 614.08,479.66C616.27,479.57 618.46,479.19 620.65,480.42C622.85,481.66 625.04,480.85 627.23,487.07C629.42,493.29 632.71,512.64 633.81,517.75" fill="none" stroke="#454545" stroke-width="0.9" stroke-linejoin="round"/>
<rect x="401.22" y="521.74" width="1.73" height="4.8" fill="#f4a8cc"/><rect x="402.94" y="521.74" width="3.07" height="4.8" fill="#454545"/><rect x="407.79" y="521.74" width="1.73" height="4.8" fill="#f4a8cc"/><rect x="409.52" y="521.74" width="3.07" height="4.8" fill="#454545"/><rect x="414.37" y="509.21" width="1.73" height="4.8" fill="#f4a8cc"/><rect x="416.1" y="509.21" width="3.07" height="4.8" fill="#454545"/><rect x="420.95" y="500.01" width="1.73" height="4.8" fill="#f4a8cc"/><rect x="422.67" y="500.01" width="3.07" height="4.8" fill="#454545"/><rect x="427.52" y="489.53" width="1.73" height="4.8" fill="#f4a8cc"/><rect x="429.25" y="489.53" width="3.07" height="4.8" fill="#454545"/><rect x="434.1" y="478.53" width="1.73" height="4.8" fill="#f4a8cc"/><rect x="435.83" y="478.53" width="3.07" height="4.8" fill="#454545"/><rect x="440.68" y="480.58" width="1.73" height="4.8" fill="#f4a8cc"/><rect x="442.4" y="480.58" width="3.07" height="4.8" fill="#454545"/><rect x="447.25" y="477.77" width="1.73" height="4.8" fill="#f4a8cc"/><rect x="448.98" y="477.77" width="3.07" height="4.8" fill="#454545"/><rect x="453.83" y="477.26" width="1.73" height="4.8" fill="#f4a8cc"/><rect x="455.56" y="477.26" width="3.07" height="4.8" fill="#454545"/><rect x="460.41" y="480.07" width="1.73" height="4.8" fill="#f4a8cc"/><rect x="462.14" y="480.07" width="3.07" height="4.8" fill="#454545"/><rect x="466.98" y="485.18" width="1.73" height="4.8" fill="#f4a8cc"/><rect x="468.71" y="485.18" width="3.07" height="4.8" fill="#454545"/><rect x="473.56" y="486.72" width="1.73" height="4.8" fill="#f4a8cc"/><rect x="475.29" y="486.72" width="3.07" height="4.8" fill="#454545"/><rect x="480.14" y="487.23" width="1.73" height="4.8" fill="#f4a8cc"/><rect x="481.87" y="487.23" width="3.07" height="4.8" fill="#454545"/><rect x="486.72" y="485.69" width="1.73" height="4.8" fill="#f4a8cc"/><rect x="488.44" y="485.69" width="3.07" height="4.8" fill="#454545"/><rect x="493.29" y="487.23" width="1.73" height="4.8" fill="#f4a8cc"/><rect x="495.02" y="487.23" width="3.07" height="4.8" fill="#454545"/><rect x="499.87" y="488.25" width="1.73" height="4.8" fill="#f4a8cc"/><rect x="501.6" y="488.25" width="3.07" height="4.8" fill="#454545"/><rect x="506.45" y="486.2" width="1.73" height="4.8" fill="#f4a8cc"/><rect x="508.17" y="486.2" width="3.07" height="4.8" fill="#454545"/><rect x="513.02" y="485.18" width="1.73" height="4.8" fill="#f4a8cc"/><rect x="514.75" y="485.18" width="3.07" height="4.8" fill="#454545"/><rect x="519.6" y="479.56" width="1.73" height="4.8" fill="#f4a8cc"/><rect x="521.33" y="479.56" width="3.07" height="4.8" fill="#454545"/><rect x="526.18" y="473.93" width="1.73" height="4.8" fill="#f4a8cc"/><rect x="527.9" y="473.93" width="3.07" height="4.8" fill="#454545"/><rect x="532.75" y="474.44" width="1.73" height="4.8" fill="#f4a8cc"/><rect x="534.48" y="474.44" width="3.07" height="4.8" fill="#454545"/><rect x="539.33" y="476.75" width="1.73" height="4.8" fill="#f4a8cc"/><rect x="541.06" y="476.75" width="3.07" height="4.8" fill="#454545"/><rect x="545.91" y="482.88" width="1.73" height="4.8" fill="#f4a8cc"/><rect x="547.64" y="482.88" width="3.07" height="4.8" fill="#454545"/><rect x="552.48" y="485.69" width="1.73" height="4.8" fill="#f4a8cc"/><rect x="554.21" y="485.69" width="3.07" height="4.8" fill="#454545"/><rect x="559.06" y="487.99" width="1.73" height="4.8" fill="#f4a8cc"/><rect x="560.79" y="487.99" width="3.07" height="4.8" fill="#454545"/><rect x="565.64" y="487.74" width="1.73" height="4.8" fill="#f4a8cc"/><rect x="567.37" y="487.74" width="3.07" height="4.8" fill="#454545"/><rect x="572.22" y="486.72" width="1.73" height="4.8" fill="#f4a8cc"/><rect x="573.94" y="486.72" width="3.07" height="4.8" fill="#454545"/><rect x="578.79" y="486.72" width="1.73" height="4.8" fill="#f4a8cc"/><rect x="580.52" y="486.72" width="3.07" height="4.8" fill="#454545"/><rect x="585.37" y="486.72" width="1.73" height="4.8" fill="#f4a8cc"/><rect x="587.1" y="486.72" width="3.07" height="4.8" fill="#454545"/><rect x="591.95" y="485.18" width="1.73" height="4.8" fill="#f4a8cc"/><rect x="593.67" y="485.18" width="3.07" height="4.8" fill="#454545"/><rect x="598.52" y="481.86" width="1.73" height="4.8" fill="#f4a8cc"/><rect x="600.25" y="481.86" width="3.07" height="4.8" fill="#454545"/><rect x="605.1" y="478.53" width="1.73" height="4.8" fill="#f4a8cc"/><rect x="606.83" y="478.53" width="3.07" height="4.8" fill="#454545"/><rect x="611.68" y="477.26" width="1.73" height="4.8" fill="#f4a8cc"/><rect x="613.4" y="477.26" width="3.07" height="4.8" fill="#454545"/><rect x="618.25" y="478.02" width="1.73" height="4.8" fill="#f4a8cc"/><rect x="619.98" y="478.02" width="3.07" height="4.8" fill="#454545"/><rect x="624.83" y="484.67" width="1.73" height="4.8" fill="#f4a8cc"/><rect x="626.56" y="484.67" width="3.07" height="4.8" fill="#454545"/><rect x="631.41" y="515.35" width="1.73" height="4.8" fill="#f4a8cc"/><rect x="633.14" y="515.35" width="3.07" height="4.8" fill="#454545"/>
<path d="M403.62,448.21C404.71,448.04 408,449.57 410.19,447.19C412.38,444.8 414.58,447.4 416.77,433.89C418.96,420.38 421.15,380.93 423.35,366.14C425.54,351.35 427.73,347.01 429.92,345.18C432.12,343.34 434.31,354.98 436.5,355.15C438.69,355.32 440.88,347.39 443.08,346.2C445.27,345.01 447.46,347.69 449.65,347.99C451.85,348.29 454.04,347.26 456.23,347.99C458.42,348.71 460.62,350.72 462.81,352.33C465,353.95 467.19,356.04 469.38,357.7C471.58,359.37 473.77,360.73 475.96,362.31C478.15,363.88 480.35,365.5 482.54,367.16C484.73,368.83 486.92,370.83 489.12,372.28C491.31,373.73 493.5,375.26 495.69,375.86C497.88,376.45 500.08,376.11 502.27,375.86C504.46,375.6 506.65,374.88 508.85,374.32C511.04,373.77 513.23,373.13 515.42,372.53C517.62,371.94 519.81,371.55 522,370.74C524.19,369.93 526.38,368.19 528.58,367.67C530.77,367.16 532.96,367.29 535.15,367.67C537.35,368.06 539.54,369.21 541.73,369.98C543.92,370.74 546.12,371.72 548.31,372.28C550.5,372.83 552.69,372.53 554.88,373.3C557.08,374.07 559.27,376.32 561.46,376.88C563.65,377.43 565.85,377.22 568.04,376.62C570.23,376.03 572.42,374.62 574.62,373.3C576.81,371.98 579,370.27 581.19,368.7C583.38,367.12 585.58,365.37 587.77,363.84C589.96,362.31 592.15,361.16 594.35,359.49C596.54,357.83 598.73,355.7 600.92,353.87C603.12,352.04 605.31,349.52 607.5,348.5C609.69,347.48 611.88,348.03 614.08,347.73C616.27,347.43 618.46,345.69 620.65,346.71C622.85,347.73 625.04,353.4 627.23,353.87C629.42,354.34 632.71,350.25 633.81,349.52" fill="none" stroke="#f04848" stroke-width="0.9" stroke-linejoin="round"/>
<rect x="401.22" y="445.81" width="1.73" height="4.8" fill="#f4a8cc"/><rect x="402.94" y="445.81" width="3.07" height="4.8" fill="#f04848"/><rect x="407.79" y="444.79" width="1.73" height="4.8" fill="#f4a8cc"/><rect x="409.52" y="444.79" width="3.07" height="4.8" fill="#f04848"/><rect x="414.37" y="431.49" width="1.73" height="4.8" fill="#f4a8cc"/><rect x="416.1" y="431.49" width="3.07" height="4.8" fill="#f04848"/><rect x="420.95" y="363.74" width="1.73" height="4.8" fill="#f4a8cc"/><rect x="422.67" y="363.74" width="3.07" height="4.8" fill="#f04848"/><rect x="427.52" y="342.78" width="1.73" height="4.8" fill="#f4a8cc"/><rect x="429.25" y="342.78" width="3.07" height="4.8" fill="#f04848"/><rect x="434.1" y="352.75" width="1.73" height="4.8" fill="#f4a8cc"/><rect x="435.83" y="352.75" width="3.07" height="4.8" fill="#f04848"/><rect x="440.68" y="343.8" width="1.73" height="4.8" fill="#f4a8cc"/><rect x="442.4" y="343.8" width="3.07" height="4.8" fill="#f04848"/><rect x="447.25" y="345.59" width="1.73" height="4.8" fill="#f4a8cc"/><rect x="448.98" y="345.59" width="3.07" height="4.8" fill="#f04848"/><rect x="453.83" y="345.59" width="1.73" height="4.8" fill="#f4a8cc"/><rect x="455.56" y="345.59" width="3.07" height="4.8" fill="#f04848"/><rect x="460.41" y="349.93" width="1.73" height="4.8" fill="#f4a8cc"/><rect x="462.14" y="349.93" width="3.07" height="4.8" fill="#f04848"/><rect x="466.98" y="355.3" width="1.73" height="4.8" fill="#f4a8cc"/><rect x="468.71" y="355.3" width="3.07" height="4.8" fill="#f04848"/><rect x="473.56" y="359.91" width="1.73" height="4.8" fill="#f4a8cc"/><rect x="475.29" y="359.91" width="3.07" height="4.8" fill="#f04848"/><rect x="480.14" y="364.76" width="1.73" height="4.8" fill="#f4a8cc"/><rect x="481.87" y="364.76" width="3.07" height="4.8" fill="#f04848"/><rect x="486.72" y="369.88" width="1.73" height="4.8" fill="#f4a8cc"/><rect x="488.44" y="369.88" width="3.07" height="4.8" fill="#f04848"/><rect x="493.29" y="373.46" width="1.73" height="4.8" fill="#f4a8cc"/><rect x="495.02" y="373.46" width="3.07" height="4.8" fill="#f04848"/><rect x="499.87" y="373.46" width="1.73" height="4.8" fill="#f4a8cc"/><rect x="501.6" y="373.46" width="3.07" height="4.8" fill="#f04848"/><rect x="506.45" y="371.92" width="1.73" height="4.8" fill="#f4a8cc"/><rect x="508.17" y="371.92" width="3.07" height="4.8" fill="#f04848"/><rect x="513.02" y="370.13" width="1.73" height="4.8" fill="#f4a8cc"/><rect x="514.75" y="370.13" width="3.07" height="4.8" fill="#f04848"/><rect x="519.6" y="368.34" width="1.73" height="4.8" fill="#f4a8cc"/><rect x="521.33" y="368.34" width="3.07" height="4.8" fill="#f04848"/><rect x="526.18" y="365.27" width="1.73" height="4.8" fill="#f4a8cc"/><rect x="527.9" y="365.27" width="3.07" height="4.8" fill="#f04848"/><rect x="532.75" y="365.27" width="1.73" height="4.8" fill="#f4a8cc"/><rect x="534.48" y="365.27" width="3.07" height="4.8" fill="#f04848"/><rect x="539.33" y="367.58" width="1.73" height="4.8" fill="#f4a8cc"/><rect x="541.06" y="367.58" width="3.07" height="4.8" fill="#f04848"/><rect x="545.91" y="369.88" width="1.73" height="4.8" fill="#f4a8cc"/><rect x="547.64" y="369.88" width="3.07" height="4.8" fill="#f04848"/><rect x="552.48" y="370.9" width="1.73" height="4.8" fill="#f4a8cc"/><rect x="554.21" y="370.9" width="3.07" height="4.8" fill="#f04848"/><rect x="559.06" y="374.48" width="1.73" height="4.8" fill="#f4a8cc"/><rect x="560.79" y="374.48" width="3.07" height="4.8" fill="#f04848"/><rect x="565.64" y="374.22" width="1.73" height="4.8" fill="#f4a8cc"/><rect x="567.37" y="374.22" width="3.07" height="4.8" fill="#f04848"/><rect x="572.22" y="370.9" width="1.73" height="4.8" fill="#f4a8cc"/><rect x="573.94" y="370.9" width="3.07" height="4.8" fill="#f04848"/><rect x="578.79" y="366.3" width="1.73" height="4.8" fill="#f4a8cc"/><rect x="580.52" y="366.3" width="3.07" height="4.8" fill="#f04848"/><rect x="585.37" y="361.44" width="1.73" height="4.8" fill="#f4a8cc"/><rect x="587.1" y="361.44" width="3.07" height="4.8" fill="#f04848"/><rect x="591.95" y="357.09" width="1.73" height="4.8" fill="#f4a8cc"/><rect x="593.67" y="357.09" width="3.07" height="4.8" fill="#f04848"/><rect x="598.52" y="351.47" width="1.73" height="4.8" fill="#f4a8cc"/><rect x="600.25" y="351.47" width="3.07" height="4.8" fill="#f04848"/><rect x="605.1" y="346.1" width="1.73" height="4.8" fill="#f4a8cc"/><rect x="606.83" y="346.1" width="3.07" height="4.8" fill="#f04848"/><rect x="611.68" y="345.33" width="1.73" height="4.8" fill="#f4a8cc"/><rect x="613.4" y="345.33" width="3.07" height="4.8" fill="#f04848"/><rect x="618.25" y="344.31" width="1.73" height="4.8" fill="#f4a8cc"/><rect x="619.98" y="344.31" width="3.07" height="4.8" fill="#f04848"/><rect x="624.83" y="351.47" width="1.73" height="4.8" fill="#f4a8cc"/><rect x="626.56" y="351.47" width="3.07" height="4.8" fill="#f04848"/><rect x="631.41" y="347.12" width="1.73" height="4.8" fill="#f4a8cc"/><rect x="633.14" y="347.12" width="3.07" height="4.8" fill="#f04848"/>
<path d="M403.62,505.73C404.71,504.8 408,499.68 410.19,500.11C412.38,500.54 414.58,500.66 416.77,508.29C418.96,515.92 421.15,548.43 423.35,545.87C425.54,543.32 427.73,503.99 429.92,492.95C432.12,481.92 434.31,481.49 436.5,479.66C438.69,477.82 440.88,481.19 443.08,481.96C445.27,482.72 447.46,483.7 449.65,484.26C451.85,484.81 454.04,484.98 456.23,485.28C458.42,485.58 460.62,485.71 462.81,486.05C465,486.39 467.19,487.03 469.38,487.33C471.58,487.62 473.77,487.71 475.96,487.84C478.15,487.97 480.35,488.09 482.54,488.09C484.73,488.09 486.92,487.84 489.12,487.84C491.31,487.84 493.5,488.09 495.69,488.09C497.88,488.09 500.08,487.92 502.27,487.84C504.46,487.75 506.65,487.75 508.85,487.58C511.04,487.41 513.23,486.94 515.42,486.82C517.62,486.69 519.81,486.82 522,486.82C524.19,486.82 526.38,486.82 528.58,486.82C530.77,486.82 532.96,486.82 535.15,486.82C537.35,486.82 539.54,486.82 541.73,486.82C543.92,486.82 546.12,487.45 548.31,486.82C550.5,486.18 552.69,483.62 554.88,482.98C557.08,482.34 559.27,481.74 561.46,482.98C563.65,484.22 565.85,489.37 568.04,490.39C570.23,491.42 572.42,489.24 574.62,489.12C576.81,488.99 579,489.54 581.19,489.63C583.38,489.71 585.58,489.97 587.77,489.63C589.96,489.29 592.15,488.18 594.35,487.58C596.54,486.99 598.73,486.18 600.92,486.05C603.12,485.92 605.31,486.86 607.5,486.82C609.69,486.77 611.88,486.43 614.08,485.79C616.27,485.15 618.46,483.79 620.65,482.98C622.85,482.17 625.04,472.71 627.23,480.93C629.42,489.16 632.71,523.76 633.81,532.32" fill="none" stroke="#1c6fe8" stroke-width="0.9" stroke-linejoin="round"/>
<rect x="401.22" y="503.33" width="1.73" height="4.8" fill="#f4a8cc"/><rect x="402.94" y="503.33" width="3.07" height="4.8" fill="#1c6fe8"/><rect x="407.79" y="497.71" width="1.73" height="4.8" fill="#f4a8cc"/><rect x="409.52" y="497.71" width="3.07" height="4.8" fill="#1c6fe8"/><rect x="414.37" y="505.89" width="1.73" height="4.8" fill="#f4a8cc"/><rect x="416.1" y="505.89" width="3.07" height="4.8" fill="#1c6fe8"/><rect x="420.95" y="543.47" width="1.73" height="4.8" fill="#f4a8cc"/><rect x="422.67" y="543.47" width="3.07" height="4.8" fill="#1c6fe8"/><rect x="427.52" y="490.55" width="1.73" height="4.8" fill="#f4a8cc"/><rect x="429.25" y="490.55" width="3.07" height="4.8" fill="#1c6fe8"/><rect x="434.1" y="477.26" width="1.73" height="4.8" fill="#f4a8cc"/><rect x="435.83" y="477.26" width="3.07" height="4.8" fill="#1c6fe8"/><rect x="440.68" y="479.56" width="1.73" height="4.8" fill="#f4a8cc"/><rect x="442.4" y="479.56" width="3.07" height="4.8" fill="#1c6fe8"/><rect x="447.25" y="481.86" width="1.73" height="4.8" fill="#f4a8cc"/><rect x="448.98" y="481.86" width="3.07" height="4.8" fill="#1c6fe8"/><rect x="453.83" y="482.88" width="1.73" height="4.8" fill="#f4a8cc"/><rect x="455.56" y="482.88" width="3.07" height="4.8" fill="#1c6fe8"/><rect x="460.41" y="483.65" width="1.73" height="4.8" fill="#f4a8cc"/><rect x="462.14" y="483.65" width="3.07" height="4.8" fill="#1c6fe8"/><rect x="466.98" y="484.93" width="1.73" height="4.8" fill="#f4a8cc"/><rect x="468.71" y="484.93" width="3.07" height="4.8" fill="#1c6fe8"/><rect x="473.56" y="485.44" width="1.73" height="4.8" fill="#f4a8cc"/><rect x="475.29" y="485.44" width="3.07" height="4.8" fill="#1c6fe8"/><rect x="480.14" y="485.69" width="1.73" height="4.8" fill="#f4a8cc"/><rect x="481.87" y="485.69" width="3.07" height="4.8" fill="#1c6fe8"/><rect x="486.72" y="485.44" width="1.73" height="4.8" fill="#f4a8cc"/><rect x="488.44" y="485.44" width="3.07" height="4.8" fill="#1c6fe8"/><rect x="493.29" y="485.69" width="1.73" height="4.8" fill="#f4a8cc"/><rect x="495.02" y="485.69" width="3.07" height="4.8" fill="#1c6fe8"/><rect x="499.87" y="485.44" width="1.73" height="4.8" fill="#f4a8cc"/><rect x="501.6" y="485.44" width="3.07" height="4.8" fill="#1c6fe8"/><rect x="506.45" y="485.18" width="1.73" height="4.8" fill="#f4a8cc"/><rect x="508.17" y="485.18" width="3.07" height="4.8" fill="#1c6fe8"/><rect x="513.02" y="484.42" width="1.73" height="4.8" fill="#f4a8cc"/><rect x="514.75" y="484.42" width="3.07" height="4.8" fill="#1c6fe8"/><rect x="519.6" y="484.42" width="1.73" height="4.8" fill="#f4a8cc"/><rect x="521.33" y="484.42" width="3.07" height="4.8" fill="#1c6fe8"/><rect x="526.18" y="484.42" width="1.73" height="4.8" fill="#f4a8cc"/><rect x="527.9" y="484.42" width="3.07" height="4.8" fill="#1c6fe8"/><rect x="532.75" y="484.42" width="1.73" height="4.8" fill="#f4a8cc"/><rect x="534.48" y="484.42" width="3.07" height="4.8" fill="#1c6fe8"/><rect x="539.33" y="484.42" width="1.73" height="4.8" fill="#f4a8cc"/><rect x="541.06" y="484.42" width="3.07" height="4.8" fill="#1c6fe8"/><rect x="545.91" y="484.42" width="1.73" height="4.8" fill="#f4a8cc"/><rect x="547.64" y="484.42" width="3.07" height="4.8" fill="#1c6fe8"/><rect x="552.48" y="480.58" width="1.73" height="4.8" fill="#f4a8cc"/><rect x="554.21" y="480.58" width="3.07" height="4.8" fill="#1c6fe8"/><rect x="559.06" y="480.58" width="1.73" height="4.8" fill="#f4a8cc"/><rect x="560.79" y="480.58" width="3.07" height="4.8" fill="#1c6fe8"/><rect x="565.64" y="487.99" width="1.73" height="4.8" fill="#f4a8cc"/><rect x="567.37" y="487.99" width="3.07" height="4.8" fill="#1c6fe8"/><rect x="572.22" y="486.72" width="1.73" height="4.8" fill="#f4a8cc"/><rect x="573.94" y="486.72" width="3.07" height="4.8" fill="#1c6fe8"/><rect x="578.79" y="487.23" width="1.73" height="4.8" fill="#f4a8cc"/><rect x="580.52" y="487.23" width="3.07" height="4.8" fill="#1c6fe8"/><rect x="585.37" y="487.23" width="1.73" height="4.8" fill="#f4a8cc"/><rect x="587.1" y="487.23" width="3.07" height="4.8" fill="#1c6fe8"/><rect x="591.95" y="485.18" width="1.73" height="4.8" fill="#f4a8cc"/><rect x="593.67" y="485.18" width="3.07" height="4.8" fill="#1c6fe8"/><rect x="598.52" y="483.65" width="1.73" height="4.8" fill="#f4a8cc"/><rect x="600.25" y="483.65" width="3.07" height="4.8" fill="#1c6fe8"/><rect x="605.1" y="484.42" width="1.73" height="4.8" fill="#f4a8cc"/><rect x="606.83" y="484.42" width="3.07" height="4.8" fill="#1c6fe8"/><rect x="611.68" y="483.39" width="1.73" height="4.8" fill="#f4a8cc"/><rect x="613.4" y="483.39" width="3.07" height="4.8" fill="#1c6fe8"/><rect x="618.25" y="480.58" width="1.73" height="4.8" fill="#f4a8cc"/><rect x="619.98" y="480.58" width="3.07" height="4.8" fill="#1c6fe8"/><rect x="624.83" y="478.53" width="1.73" height="4.8" fill="#f4a8cc"/><rect x="626.56" y="478.53" width="3.07" height="4.8" fill="#1c6fe8"/><rect x="631.41" y="529.92" width="1.73" height="4.8" fill="#f4a8cc"/><rect x="633.14" y="529.92" width="3.07" height="4.8" fill="#1c6fe8"/>
<path d="M403.62,451.02C404.71,451.02 408,453.11 410.19,451.02C412.38,448.93 414.58,453.02 416.77,438.49C418.96,423.96 421.15,381.31 423.35,363.84C425.54,346.37 427.73,337.04 429.92,333.67C432.12,330.3 434.31,341.72 436.5,343.64C438.69,345.56 440.88,345.18 443.08,345.18C445.27,345.18 447.46,344.37 449.65,343.64C451.85,342.92 454.04,341.3 456.23,340.83C458.42,340.36 460.62,339.93 462.81,340.83C465,341.72 467.19,344.2 469.38,346.2C471.58,348.2 473.77,350.63 475.96,352.85C478.15,355.06 480.35,357.28 482.54,359.49C484.73,361.71 486.92,363.97 489.12,366.14C491.31,368.31 493.5,370.91 495.69,372.53C497.88,374.15 500.08,375.05 502.27,375.86C504.46,376.67 506.65,376.62 508.85,377.39C511.04,378.16 513.23,379.78 515.42,380.46C517.62,381.14 519.81,381.18 522,381.48C524.19,381.78 526.38,382.12 528.58,382.25C530.77,382.38 532.96,382.42 535.15,382.25C537.35,382.08 539.54,381.61 541.73,381.22C543.92,380.84 546.12,380.42 548.31,379.95C550.5,379.48 552.69,378.97 554.88,378.41C557.08,377.86 559.27,377.22 561.46,376.62C563.65,376.03 565.85,376.24 568.04,374.83C570.23,373.43 572.42,370.4 574.62,368.19C576.81,365.97 579,363.8 581.19,361.54C583.38,359.28 585.58,356.81 587.77,354.64C589.96,352.46 592.15,350.63 594.35,348.5C596.54,346.37 598.73,343.26 600.92,341.85C603.12,340.45 605.31,340.06 607.5,340.06C609.69,340.06 611.88,341.26 614.08,341.85C616.27,342.45 618.46,343.22 620.65,343.64C622.85,344.07 625.04,345.86 627.23,344.41C629.42,342.96 632.71,336.53 633.81,334.95" fill="none" stroke="#2aaa70" stroke-width="0.9" stroke-linejoin="round"/>
<rect x="401.22" y="448.62" width="1.73" height="4.8" fill="#f4a8cc"/><rect x="402.94" y="448.62" width="3.07" height="4.8" fill="#2aaa70"/><rect x="407.79" y="448.62" width="1.73" height="4.8" fill="#f4a8cc"/><rect x="409.52" y="448.62" width="3.07" height="4.8" fill="#2aaa70"/><rect x="414.37" y="436.09" width="1.73" height="4.8" fill="#f4a8cc"/><rect x="416.1" y="436.09" width="3.07" height="4.8" fill="#2aaa70"/><rect x="420.95" y="361.44" width="1.73" height="4.8" fill="#f4a8cc"/><rect x="422.67" y="361.44" width="3.07" height="4.8" fill="#2aaa70"/><rect x="427.52" y="331.27" width="1.73" height="4.8" fill="#f4a8cc"/><rect x="429.25" y="331.27" width="3.07" height="4.8" fill="#2aaa70"/><rect x="434.1" y="341.24" width="1.73" height="4.8" fill="#f4a8cc"/><rect x="435.83" y="341.24" width="3.07" height="4.8" fill="#2aaa70"/><rect x="440.68" y="342.78" width="1.73" height="4.8" fill="#f4a8cc"/><rect x="442.4" y="342.78" width="3.07" height="4.8" fill="#2aaa70"/><rect x="447.25" y="341.24" width="1.73" height="4.8" fill="#f4a8cc"/><rect x="448.98" y="341.24" width="3.07" height="4.8" fill="#2aaa70"/><rect x="453.83" y="338.43" width="1.73" height="4.8" fill="#f4a8cc"/><rect x="455.56" y="338.43" width="3.07" height="4.8" fill="#2aaa70"/><rect x="460.41" y="338.43" width="1.73" height="4.8" fill="#f4a8cc"/><rect x="462.14" y="338.43" width="3.07" height="4.8" fill="#2aaa70"/><rect x="466.98" y="343.8" width="1.73" height="4.8" fill="#f4a8cc"/><rect x="468.71" y="343.8" width="3.07" height="4.8" fill="#2aaa70"/><rect x="473.56" y="350.45" width="1.73" height="4.8" fill="#f4a8cc"/><rect x="475.29" y="350.45" width="3.07" height="4.8" fill="#2aaa70"/><rect x="480.14" y="357.09" width="1.73" height="4.8" fill="#f4a8cc"/><rect x="481.87" y="357.09" width="3.07" height="4.8" fill="#2aaa70"/><rect x="486.72" y="363.74" width="1.73" height="4.8" fill="#f4a8cc"/><rect x="488.44" y="363.74" width="3.07" height="4.8" fill="#2aaa70"/><rect x="493.29" y="370.13" width="1.73" height="4.8" fill="#f4a8cc"/><rect x="495.02" y="370.13" width="3.07" height="4.8" fill="#2aaa70"/><rect x="499.87" y="373.46" width="1.73" height="4.8" fill="#f4a8cc"/><rect x="501.6" y="373.46" width="3.07" height="4.8" fill="#2aaa70"/><rect x="506.45" y="374.99" width="1.73" height="4.8" fill="#f4a8cc"/><rect x="508.17" y="374.99" width="3.07" height="4.8" fill="#2aaa70"/><rect x="513.02" y="378.06" width="1.73" height="4.8" fill="#f4a8cc"/><rect x="514.75" y="378.06" width="3.07" height="4.8" fill="#2aaa70"/><rect x="519.6" y="379.08" width="1.73" height="4.8" fill="#f4a8cc"/><rect x="521.33" y="379.08" width="3.07" height="4.8" fill="#2aaa70"/><rect x="526.18" y="379.85" width="1.73" height="4.8" fill="#f4a8cc"/><rect x="527.9" y="379.85" width="3.07" height="4.8" fill="#2aaa70"/><rect x="532.75" y="379.85" width="1.73" height="4.8" fill="#f4a8cc"/><rect x="534.48" y="379.85" width="3.07" height="4.8" fill="#2aaa70"/><rect x="539.33" y="378.82" width="1.73" height="4.8" fill="#f4a8cc"/><rect x="541.06" y="378.82" width="3.07" height="4.8" fill="#2aaa70"/><rect x="545.91" y="377.55" width="1.73" height="4.8" fill="#f4a8cc"/><rect x="547.64" y="377.55" width="3.07" height="4.8" fill="#2aaa70"/><rect x="552.48" y="376.01" width="1.73" height="4.8" fill="#f4a8cc"/><rect x="554.21" y="376.01" width="3.07" height="4.8" fill="#2aaa70"/><rect x="559.06" y="374.22" width="1.73" height="4.8" fill="#f4a8cc"/><rect x="560.79" y="374.22" width="3.07" height="4.8" fill="#2aaa70"/><rect x="565.64" y="372.43" width="1.73" height="4.8" fill="#f4a8cc"/><rect x="567.37" y="372.43" width="3.07" height="4.8" fill="#2aaa70"/><rect x="572.22" y="365.79" width="1.73" height="4.8" fill="#f4a8cc"/><rect x="573.94" y="365.79" width="3.07" height="4.8" fill="#2aaa70"/><rect x="578.79" y="359.14" width="1.73" height="4.8" fill="#f4a8cc"/><rect x="580.52" y="359.14" width="3.07" height="4.8" fill="#2aaa70"/><rect x="585.37" y="352.24" width="1.73" height="4.8" fill="#f4a8cc"/><rect x="587.1" y="352.24" width="3.07" height="4.8" fill="#2aaa70"/><rect x="591.95" y="346.1" width="1.73" height="4.8" fill="#f4a8cc"/><rect x="593.67" y="346.1" width="3.07" height="4.8" fill="#2aaa70"/><rect x="598.52" y="339.45" width="1.73" height="4.8" fill="#f4a8cc"/><rect x="600.25" y="339.45" width="3.07" height="4.8" fill="#2aaa70"/><rect x="605.1" y="337.66" width="1.73" height="4.8" fill="#f4a8cc"/><rect x="606.83" y="337.66" width="3.07" height="4.8" fill="#2aaa70"/><rect x="611.68" y="339.45" width="1.73" height="4.8" fill="#f4a8cc"/><rect x="613.4" y="339.45" width="3.07" height="4.8" fill="#2aaa70"/><rect x="618.25" y="341.24" width="1.73" height="4.8" fill="#f4a8cc"/><rect x="619.98" y="341.24" width="3.07" height="4.8" fill="#2aaa70"/><rect x="624.83" y="342.01" width="1.73" height="4.8" fill="#f4a8cc"/><rect x="626.56" y="342.01" width="3.07" height="4.8" fill="#2aaa70"/><rect x="631.41" y="332.55" width="1.73" height="4.8" fill="#f4a8cc"/><rect x="633.14" y="332.55" width="3.07" height="4.8" fill="#2aaa70"/>
<path d="M403.62,502.92C404.71,503.01 408,502.03 410.19,503.43C412.38,504.84 414.58,507.78 416.77,511.36C418.96,514.94 421.15,528.11 423.35,524.91C425.54,521.71 427.73,499.6 429.92,492.18C432.12,484.77 434.31,482.6 436.5,480.42C438.69,478.25 440.88,478.25 443.08,479.15C445.27,480.04 447.46,484.68 449.65,485.79C451.85,486.9 454.04,485.79 456.23,485.79C458.42,485.79 460.62,485.45 462.81,485.79C465,486.13 467.19,487.28 469.38,487.84C471.58,488.39 473.77,488.82 475.96,489.12C478.15,489.41 480.35,489.8 482.54,489.63C484.73,489.46 486.92,488.09 489.12,488.09C491.31,488.09 493.5,490.22 495.69,489.63C497.88,489.03 500.08,485.66 502.27,484.51C504.46,483.36 506.65,482.34 508.85,482.72C511.04,483.11 513.23,485.75 515.42,486.82C517.62,487.88 519.81,488.52 522,489.12C524.19,489.71 526.38,490.18 528.58,490.39C530.77,490.61 532.96,490.52 535.15,490.39C537.35,490.27 539.54,490.1 541.73,489.63C543.92,489.16 546.12,488.31 548.31,487.58C550.5,486.86 552.69,486.13 554.88,485.28C557.08,484.43 559.27,481.62 561.46,482.47C563.65,483.32 565.85,489.46 568.04,490.39C570.23,491.33 572.42,488.31 574.62,488.09C576.81,487.88 579,488.95 581.19,489.12C583.38,489.29 585.58,489.37 587.77,489.12C589.96,488.86 592.15,488.14 594.35,487.58C596.54,487.03 598.73,486.09 600.92,485.79C603.12,485.49 605.31,485.79 607.5,485.79C609.69,485.79 611.88,486.6 614.08,485.79C616.27,484.98 618.46,482.21 620.65,480.93C622.85,479.66 625.04,470.15 627.23,478.12C629.42,486.09 632.71,520.31 633.81,528.74" fill="none" stroke="#b283ee" stroke-width="0.9" stroke-linejoin="round"/>
<rect x="401.22" y="500.52" width="1.73" height="4.8" fill="#f4a8cc"/><rect x="402.94" y="500.52" width="3.07" height="4.8" fill="#b87ae8"/><rect x="407.79" y="501.03" width="1.73" height="4.8" fill="#f4a8cc"/><rect x="409.52" y="501.03" width="3.07" height="4.8" fill="#b87ae8"/><rect x="414.37" y="508.96" width="1.73" height="4.8" fill="#f4a8cc"/><rect x="416.1" y="508.96" width="3.07" height="4.8" fill="#b87ae8"/><rect x="420.95" y="522.51" width="1.73" height="4.8" fill="#f4a8cc"/><rect x="422.67" y="522.51" width="3.07" height="4.8" fill="#b87ae8"/><rect x="427.52" y="489.78" width="1.73" height="4.8" fill="#f4a8cc"/><rect x="429.25" y="489.78" width="3.07" height="4.8" fill="#b87ae8"/><rect x="434.1" y="478.02" width="1.73" height="4.8" fill="#f4a8cc"/><rect x="435.83" y="478.02" width="3.07" height="4.8" fill="#b87ae8"/><rect x="440.68" y="476.75" width="1.73" height="4.8" fill="#f4a8cc"/><rect x="442.4" y="476.75" width="3.07" height="4.8" fill="#b87ae8"/><rect x="447.25" y="483.39" width="1.73" height="4.8" fill="#f4a8cc"/><rect x="448.98" y="483.39" width="3.07" height="4.8" fill="#b87ae8"/><rect x="453.83" y="483.39" width="1.73" height="4.8" fill="#f4a8cc"/><rect x="455.56" y="483.39" width="3.07" height="4.8" fill="#b87ae8"/><rect x="460.41" y="483.39" width="1.73" height="4.8" fill="#f4a8cc"/><rect x="462.14" y="483.39" width="3.07" height="4.8" fill="#b87ae8"/><rect x="466.98" y="485.44" width="1.73" height="4.8" fill="#f4a8cc"/><rect x="468.71" y="485.44" width="3.07" height="4.8" fill="#b87ae8"/><rect x="473.56" y="486.72" width="1.73" height="4.8" fill="#f4a8cc"/><rect x="475.29" y="486.72" width="3.07" height="4.8" fill="#b87ae8"/><rect x="480.14" y="487.23" width="1.73" height="4.8" fill="#f4a8cc"/><rect x="481.87" y="487.23" width="3.07" height="4.8" fill="#b87ae8"/><rect x="486.72" y="485.69" width="1.73" height="4.8" fill="#f4a8cc"/><rect x="488.44" y="485.69" width="3.07" height="4.8" fill="#b87ae8"/><rect x="493.29" y="487.23" width="1.73" height="4.8" fill="#f4a8cc"/><rect x="495.02" y="487.23" width="3.07" height="4.8" fill="#b87ae8"/><rect x="499.87" y="482.11" width="1.73" height="4.8" fill="#f4a8cc"/><rect x="501.6" y="482.11" width="3.07" height="4.8" fill="#b87ae8"/><rect x="506.45" y="480.32" width="1.73" height="4.8" fill="#f4a8cc"/><rect x="508.17" y="480.32" width="3.07" height="4.8" fill="#b87ae8"/><rect x="513.02" y="484.42" width="1.73" height="4.8" fill="#f4a8cc"/><rect x="514.75" y="484.42" width="3.07" height="4.8" fill="#b87ae8"/><rect x="519.6" y="486.72" width="1.73" height="4.8" fill="#f4a8cc"/><rect x="521.33" y="486.72" width="3.07" height="4.8" fill="#b87ae8"/><rect x="526.18" y="487.99" width="1.73" height="4.8" fill="#f4a8cc"/><rect x="527.9" y="487.99" width="3.07" height="4.8" fill="#b87ae8"/><rect x="532.75" y="487.99" width="1.73" height="4.8" fill="#f4a8cc"/><rect x="534.48" y="487.99" width="3.07" height="4.8" fill="#b87ae8"/><rect x="539.33" y="487.23" width="1.73" height="4.8" fill="#f4a8cc"/><rect x="541.06" y="487.23" width="3.07" height="4.8" fill="#b87ae8"/><rect x="545.91" y="485.18" width="1.73" height="4.8" fill="#f4a8cc"/><rect x="547.64" y="485.18" width="3.07" height="4.8" fill="#b87ae8"/><rect x="552.48" y="482.88" width="1.73" height="4.8" fill="#f4a8cc"/><rect x="554.21" y="482.88" width="3.07" height="4.8" fill="#b87ae8"/><rect x="559.06" y="480.07" width="1.73" height="4.8" fill="#f4a8cc"/><rect x="560.79" y="480.07" width="3.07" height="4.8" fill="#b87ae8"/><rect x="565.64" y="487.99" width="1.73" height="4.8" fill="#f4a8cc"/><rect x="567.37" y="487.99" width="3.07" height="4.8" fill="#b87ae8"/><rect x="572.22" y="485.69" width="1.73" height="4.8" fill="#f4a8cc"/><rect x="573.94" y="485.69" width="3.07" height="4.8" fill="#b87ae8"/><rect x="578.79" y="486.72" width="1.73" height="4.8" fill="#f4a8cc"/><rect x="580.52" y="486.72" width="3.07" height="4.8" fill="#b87ae8"/><rect x="585.37" y="486.72" width="1.73" height="4.8" fill="#f4a8cc"/><rect x="587.1" y="486.72" width="3.07" height="4.8" fill="#b87ae8"/><rect x="591.95" y="485.18" width="1.73" height="4.8" fill="#f4a8cc"/><rect x="593.67" y="485.18" width="3.07" height="4.8" fill="#b87ae8"/><rect x="598.52" y="483.39" width="1.73" height="4.8" fill="#f4a8cc"/><rect x="600.25" y="483.39" width="3.07" height="4.8" fill="#b87ae8"/><rect x="605.1" y="483.39" width="1.73" height="4.8" fill="#f4a8cc"/><rect x="606.83" y="483.39" width="3.07" height="4.8" fill="#b87ae8"/><rect x="611.68" y="483.39" width="1.73" height="4.8" fill="#f4a8cc"/><rect x="613.4" y="483.39" width="3.07" height="4.8" fill="#b87ae8"/><rect x="618.25" y="478.53" width="1.73" height="4.8" fill="#f4a8cc"/><rect x="619.98" y="478.53" width="3.07" height="4.8" fill="#b87ae8"/><rect x="624.83" y="475.72" width="1.73" height="4.8" fill="#f4a8cc"/><rect x="626.56" y="475.72" width="3.07" height="4.8" fill="#b87ae8"/><rect x="631.41" y="526.34" width="1.73" height="4.8" fill="#f4a8cc"/><rect x="633.14" y="526.34" width="3.07" height="4.8" fill="#b87ae8"/>
<path d="M403.62,451.02C404.71,450.72 408,452.13 410.19,449.23C412.38,446.33 414.58,447.31 416.77,433.64C418.96,419.96 421.15,382.76 423.35,367.16C425.54,351.57 427.73,343.34 429.92,340.06C432.12,336.78 434.31,346.37 436.5,347.48C438.69,348.58 440.88,346.97 443.08,346.71C445.27,346.45 447.46,346.75 449.65,345.94C451.85,345.13 454.04,342.53 456.23,341.85C458.42,341.17 460.62,340.74 462.81,341.85C465,342.96 467.19,346.37 469.38,348.5C471.58,350.63 473.77,352.51 475.96,354.64C478.15,356.77 480.35,359.11 482.54,361.28C484.73,363.46 486.92,365.5 489.12,367.67C491.31,369.85 493.5,372.7 495.69,374.32C497.88,375.94 500.08,376.75 502.27,377.39C504.46,378.03 506.65,377.43 508.85,378.16C511.04,378.88 513.23,381.01 515.42,381.74C517.62,382.46 519.81,382.29 522,382.5C524.19,382.72 526.38,382.93 528.58,383.01C530.77,383.1 532.96,383.19 535.15,383.01C537.35,382.84 539.54,382.33 541.73,381.99C543.92,381.65 546.12,381.44 548.31,380.97C550.5,380.5 552.69,379.78 554.88,379.18C557.08,378.58 559.27,377.94 561.46,377.39C563.65,376.84 565.85,377.01 568.04,375.86C570.23,374.71 572.42,372.57 574.62,370.49C576.81,368.4 579,365.59 581.19,363.33C583.38,361.07 585.58,359.07 587.77,356.94C589.96,354.81 592.15,352.68 594.35,350.54C596.54,348.41 598.73,345.64 600.92,344.15C603.12,342.66 605.31,341.68 607.5,341.6C609.69,341.51 611.88,342.88 614.08,343.64C616.27,344.41 618.46,345.39 620.65,346.2C622.85,347.01 625.04,349.56 627.23,348.5C629.42,347.43 632.71,341.26 633.81,339.81" fill="none" stroke="#d2a01c" stroke-width="0.9" stroke-linejoin="round"/>
<rect x="401.22" y="448.62" width="1.73" height="4.8" fill="#f4a8cc"/><rect x="402.94" y="448.62" width="3.07" height="4.8" fill="#d2a01c"/><rect x="407.79" y="446.83" width="1.73" height="4.8" fill="#f4a8cc"/><rect x="409.52" y="446.83" width="3.07" height="4.8" fill="#d2a01c"/><rect x="414.37" y="431.24" width="1.73" height="4.8" fill="#f4a8cc"/><rect x="416.1" y="431.24" width="3.07" height="4.8" fill="#d2a01c"/><rect x="420.95" y="364.76" width="1.73" height="4.8" fill="#f4a8cc"/><rect x="422.67" y="364.76" width="3.07" height="4.8" fill="#d2a01c"/><rect x="427.52" y="337.66" width="1.73" height="4.8" fill="#f4a8cc"/><rect x="429.25" y="337.66" width="3.07" height="4.8" fill="#d2a01c"/><rect x="434.1" y="345.08" width="1.73" height="4.8" fill="#f4a8cc"/><rect x="435.83" y="345.08" width="3.07" height="4.8" fill="#d2a01c"/><rect x="440.68" y="344.31" width="1.73" height="4.8" fill="#f4a8cc"/><rect x="442.4" y="344.31" width="3.07" height="4.8" fill="#d2a01c"/><rect x="447.25" y="343.54" width="1.73" height="4.8" fill="#f4a8cc"/><rect x="448.98" y="343.54" width="3.07" height="4.8" fill="#d2a01c"/><rect x="453.83" y="339.45" width="1.73" height="4.8" fill="#f4a8cc"/><rect x="455.56" y="339.45" width="3.07" height="4.8" fill="#d2a01c"/><rect x="460.41" y="339.45" width="1.73" height="4.8" fill="#f4a8cc"/><rect x="462.14" y="339.45" width="3.07" height="4.8" fill="#d2a01c"/><rect x="466.98" y="346.1" width="1.73" height="4.8" fill="#f4a8cc"/><rect x="468.71" y="346.1" width="3.07" height="4.8" fill="#d2a01c"/><rect x="473.56" y="352.24" width="1.73" height="4.8" fill="#f4a8cc"/><rect x="475.29" y="352.24" width="3.07" height="4.8" fill="#d2a01c"/><rect x="480.14" y="358.88" width="1.73" height="4.8" fill="#f4a8cc"/><rect x="481.87" y="358.88" width="3.07" height="4.8" fill="#d2a01c"/><rect x="486.72" y="365.27" width="1.73" height="4.8" fill="#f4a8cc"/><rect x="488.44" y="365.27" width="3.07" height="4.8" fill="#d2a01c"/><rect x="493.29" y="371.92" width="1.73" height="4.8" fill="#f4a8cc"/><rect x="495.02" y="371.92" width="3.07" height="4.8" fill="#d2a01c"/><rect x="499.87" y="374.99" width="1.73" height="4.8" fill="#f4a8cc"/><rect x="501.6" y="374.99" width="3.07" height="4.8" fill="#d2a01c"/><rect x="506.45" y="375.76" width="1.73" height="4.8" fill="#f4a8cc"/><rect x="508.17" y="375.76" width="3.07" height="4.8" fill="#d2a01c"/><rect x="513.02" y="379.34" width="1.73" height="4.8" fill="#f4a8cc"/><rect x="514.75" y="379.34" width="3.07" height="4.8" fill="#d2a01c"/><rect x="519.6" y="380.1" width="1.73" height="4.8" fill="#f4a8cc"/><rect x="521.33" y="380.1" width="3.07" height="4.8" fill="#d2a01c"/><rect x="526.18" y="380.61" width="1.73" height="4.8" fill="#f4a8cc"/><rect x="527.9" y="380.61" width="3.07" height="4.8" fill="#d2a01c"/><rect x="532.75" y="380.61" width="1.73" height="4.8" fill="#f4a8cc"/><rect x="534.48" y="380.61" width="3.07" height="4.8" fill="#d2a01c"/><rect x="539.33" y="379.59" width="1.73" height="4.8" fill="#f4a8cc"/><rect x="541.06" y="379.59" width="3.07" height="4.8" fill="#d2a01c"/><rect x="545.91" y="378.57" width="1.73" height="4.8" fill="#f4a8cc"/><rect x="547.64" y="378.57" width="3.07" height="4.8" fill="#d2a01c"/><rect x="552.48" y="376.78" width="1.73" height="4.8" fill="#f4a8cc"/><rect x="554.21" y="376.78" width="3.07" height="4.8" fill="#d2a01c"/><rect x="559.06" y="374.99" width="1.73" height="4.8" fill="#f4a8cc"/><rect x="560.79" y="374.99" width="3.07" height="4.8" fill="#d2a01c"/><rect x="565.64" y="373.46" width="1.73" height="4.8" fill="#f4a8cc"/><rect x="567.37" y="373.46" width="3.07" height="4.8" fill="#d2a01c"/><rect x="572.22" y="368.09" width="1.73" height="4.8" fill="#f4a8cc"/><rect x="573.94" y="368.09" width="3.07" height="4.8" fill="#d2a01c"/><rect x="578.79" y="360.93" width="1.73" height="4.8" fill="#f4a8cc"/><rect x="580.52" y="360.93" width="3.07" height="4.8" fill="#d2a01c"/><rect x="585.37" y="354.54" width="1.73" height="4.8" fill="#f4a8cc"/><rect x="587.1" y="354.54" width="3.07" height="4.8" fill="#d2a01c"/><rect x="591.95" y="348.14" width="1.73" height="4.8" fill="#f4a8cc"/><rect x="593.67" y="348.14" width="3.07" height="4.8" fill="#d2a01c"/><rect x="598.52" y="341.75" width="1.73" height="4.8" fill="#f4a8cc"/><rect x="600.25" y="341.75" width="3.07" height="4.8" fill="#d2a01c"/><rect x="605.1" y="339.2" width="1.73" height="4.8" fill="#f4a8cc"/><rect x="606.83" y="339.2" width="3.07" height="4.8" fill="#d2a01c"/><rect x="611.68" y="341.24" width="1.73" height="4.8" fill="#f4a8cc"/><rect x="613.4" y="341.24" width="3.07" height="4.8" fill="#d2a01c"/><rect x="618.25" y="343.8" width="1.73" height="4.8" fill="#f4a8cc"/><rect x="619.98" y="343.8" width="3.07" height="4.8" fill="#d2a01c"/><rect x="624.83" y="346.1" width="1.73" height="4.8" fill="#f4a8cc"/><rect x="626.56" y="346.1" width="3.07" height="4.8" fill="#d2a01c"/><rect x="631.41" y="337.41" width="1.73" height="4.8" fill="#f4a8cc"/><rect x="633.14" y="337.41" width="3.07" height="4.8" fill="#d2a01c"/>
<line x1="599.5" y1="380" x2="616.8" y2="380" stroke="#454545" stroke-width="1.0"/>
<rect x="605.6" y="377.6" width="1.73" height="4.8" fill="#f4a8cc"/><rect x="607.33" y="377.6" width="3.07" height="4.8" fill="#454545"/>
<text x="619" y="382.58" font-size="7.6"><tspan font-style="italic">σ</tspan><tspan font-size="70%" dy="1.8" font-style="italic">z</tspan><tspan dy="-1.8"> of CMTC</tspan></text>
<line x1="599.5" y1="391.1" x2="616.8" y2="391.1" stroke="#f04848" stroke-width="1.0"/>
<rect x="605.6" y="388.7" width="1.73" height="4.8" fill="#f4a8cc"/><rect x="607.33" y="388.7" width="3.07" height="4.8" fill="#f04848"/>
<text x="619" y="393.68" font-size="7.6"><tspan font-style="italic">σ</tspan><tspan font-size="70%" dy="1.8">1</tspan><tspan dy="-1.8"> of LCMTC</tspan></text>
<line x1="599.5" y1="402.4" x2="616.8" y2="402.4" stroke="#1c6fe8" stroke-width="1.0"/>
<rect x="605.6" y="400" width="1.73" height="4.8" fill="#f4a8cc"/><rect x="607.33" y="400" width="3.07" height="4.8" fill="#1c6fe8"/>
<text x="619" y="404.98" font-size="7.6"><tspan font-style="italic">σ</tspan><tspan font-size="70%" dy="1.8" font-style="italic">z</tspan><tspan dy="-1.8"> of LMHT</tspan></text>
<line x1="599.5" y1="413.4" x2="616.8" y2="413.4" stroke="#2aaa70" stroke-width="1.0"/>
<rect x="605.6" y="411" width="1.73" height="4.8" fill="#f4a8cc"/><rect x="607.33" y="411" width="3.07" height="4.8" fill="#2aaa70"/>
<text x="619" y="415.98" font-size="7.6"><tspan font-style="italic">σ</tspan><tspan font-size="70%" dy="1.8">1</tspan><tspan dy="-1.8"> of LMHT</tspan></text>
<line x1="599.5" y1="424.5" x2="616.8" y2="424.5" stroke="#b283ee" stroke-width="1.0"/>
<rect x="605.6" y="422.1" width="1.73" height="4.8" fill="#f4a8cc"/><rect x="607.33" y="422.1" width="3.07" height="4.8" fill="#b87ae8"/>
<text x="619" y="427.08" font-size="7.6"><tspan font-style="italic">σ</tspan><tspan font-size="70%" dy="1.8" font-style="italic">z</tspan><tspan dy="-1.8"> of LCMTC</tspan></text>
<line x1="599.5" y1="435.4" x2="616.8" y2="435.4" stroke="#d2a01c" stroke-width="1.0"/>
<rect x="605.6" y="433" width="1.73" height="4.8" fill="#f4a8cc"/><rect x="607.33" y="433" width="3.07" height="4.8" fill="#d2a01c"/>
<text x="619" y="437.98" font-size="7.6"><tspan font-style="italic">σ</tspan><tspan font-size="70%" dy="1.8">1</tspan><tspan dy="-1.8"> of LCMTC</tspan></text>
<text x="521.6" y="586" font-size="12.0" text-anchor="middle" >Advance rate of Woring face(m)</text>
<text transform="translate(352,438.1) rotate(-90)" font-size="12.0" text-anchor="middle">Stress Monitoring layout of Main roof(MPa)</text>
<text x="399.1" y="614.9" font-size="17.3" textLength="206.5" lengthAdjust="spacingAndGlyphs" fill="#000">Main roof stress comparison</text>
<line x1="88.12" y1="644.2" x2="88.12" y2="867.3" stroke="#e4e4e4" stroke-width="0.8" stroke-dasharray="1 1.6"/>
<line x1="130.85" y1="644.2" x2="130.85" y2="867.3" stroke="#e4e4e4" stroke-width="0.8" stroke-dasharray="1 1.6"/>
<line x1="173.57" y1="644.2" x2="173.57" y2="867.3" stroke="#e4e4e4" stroke-width="0.8" stroke-dasharray="1 1.6"/>
<line x1="216.29" y1="644.2" x2="216.29" y2="867.3" stroke="#e4e4e4" stroke-width="0.8" stroke-dasharray="1 1.6"/>
<line x1="259.02" y1="644.2" x2="259.02" y2="867.3" stroke="#e4e4e4" stroke-width="0.8" stroke-dasharray="1 1.6"/>
<line x1="301.74" y1="644.2" x2="301.74" y2="867.3" stroke="#e4e4e4" stroke-width="0.8" stroke-dasharray="1 1.6"/>
<line x1="45.4" y1="842.51" x2="323.1" y2="842.51" stroke="#e4e4e4" stroke-width="0.8" stroke-dasharray="1 1.6"/>
<line x1="45.4" y1="817.72" x2="323.1" y2="817.72" stroke="#e4e4e4" stroke-width="0.8" stroke-dasharray="1 1.6"/>
<line x1="45.4" y1="792.93" x2="323.1" y2="792.93" stroke="#e4e4e4" stroke-width="0.8" stroke-dasharray="1 1.6"/>
<line x1="45.4" y1="768.14" x2="323.1" y2="768.14" stroke="#e4e4e4" stroke-width="0.8" stroke-dasharray="1 1.6"/>
<line x1="45.4" y1="743.36" x2="323.1" y2="743.36" stroke="#e4e4e4" stroke-width="0.8" stroke-dasharray="1 1.6"/>
<line x1="45.4" y1="718.57" x2="323.1" y2="718.57" stroke="#e4e4e4" stroke-width="0.8" stroke-dasharray="1 1.6"/>
<line x1="45.4" y1="693.78" x2="323.1" y2="693.78" stroke="#e4e4e4" stroke-width="0.8" stroke-dasharray="1 1.6"/>
<line x1="45.4" y1="668.99" x2="323.1" y2="668.99" stroke="#e4e4e4" stroke-width="0.8" stroke-dasharray="1 1.6"/>
<line x1="66.76" y1="644.2" x2="66.76" y2="867.3" stroke="#dcdcdc" stroke-width="1.05"/>
<line x1="109.48" y1="644.2" x2="109.48" y2="867.3" stroke="#dcdcdc" stroke-width="1.05"/>
<line x1="152.21" y1="644.2" x2="152.21" y2="867.3" stroke="#dcdcdc" stroke-width="1.05"/>
<line x1="194.93" y1="644.2" x2="194.93" y2="867.3" stroke="#dcdcdc" stroke-width="1.05"/>
<line x1="237.65" y1="644.2" x2="237.65" y2="867.3" stroke="#dcdcdc" stroke-width="1.05"/>
<line x1="280.38" y1="644.2" x2="280.38" y2="867.3" stroke="#dcdcdc" stroke-width="1.05"/>
<line x1="45.4" y1="854.91" x2="323.1" y2="854.91" stroke="#dcdcdc" stroke-width="1.05"/>
<line x1="45.4" y1="830.12" x2="323.1" y2="830.12" stroke="#dcdcdc" stroke-width="1.05"/>
<line x1="45.4" y1="805.33" x2="323.1" y2="805.33" stroke="#dcdcdc" stroke-width="1.05"/>
<line x1="45.4" y1="780.54" x2="323.1" y2="780.54" stroke="#dcdcdc" stroke-width="1.05"/>
<line x1="45.4" y1="730.96" x2="323.1" y2="730.96" stroke="#dcdcdc" stroke-width="1.05"/>
<line x1="45.4" y1="706.17" x2="323.1" y2="706.17" stroke="#dcdcdc" stroke-width="1.05"/>
<line x1="45.4" y1="681.38" x2="323.1" y2="681.38" stroke="#dcdcdc" stroke-width="1.05"/>
<line x1="45.4" y1="656.59" x2="323.1" y2="656.59" stroke="#dcdcdc" stroke-width="1.05"/>
<path d="M68.9,755.75V753.3M75.31,755.75V751.51M81.71,755.75V748.59M88.12,755.75V743.6M94.53,755.75V737.85M100.94,755.75V731.26M107.35,755.75V724.29M113.76,755.75V716.09M120.17,755.75V706.96M126.57,755.75V698.29M132.98,755.75V690.75M139.39,755.75V684.63M145.8,755.75V679.17M152.21,755.75V675.21M158.62,755.75V671.73M165.02,755.75V668.52M171.43,755.75V665.79M177.84,755.75V663.72M184.25,755.75V662.31M190.66,755.75V661.65M197.07,755.75V661.58M203.48,755.75V662.02M209.88,755.75V663.17M216.29,755.75V665.03M222.7,755.75V667.55M229.11,755.75V670.62M235.52,755.75V674.01M241.93,755.75V677.74M248.33,755.75V682.7M254.74,755.75V688.59M261.15,755.75V695.64M267.56,755.75V703.99M273.97,755.75V713.1M280.38,755.75V721.69M286.79,755.75V729.01M293.19,755.75V735.74" stroke="#eed4b0" stroke-width="0.75" stroke-dasharray="1.3 0.7" fill="none"/>
<path d="M68.9,755.75V753.87M75.31,755.75V753.87M81.71,755.75V755.75M88.12,755.75V759.42M94.53,755.75V766.58M100.94,755.75V774.31M107.35,755.75V781.47M113.76,755.75V790.7M120.17,755.75V800.68M126.57,755.75V809.25M132.98,755.75V817.17M139.39,755.75V824.14M145.8,755.75V830.07M152.21,755.75V834.97M158.62,755.75V839.21M165.02,755.75V842.98M171.43,755.75V845.71M177.84,755.75V847.78M184.25,755.75V849.19M190.66,755.75V849.85M197.07,755.75V849.92M203.48,755.75V849.48M209.88,755.75V848.33M216.29,755.75V846.47M222.7,755.75V843.98M229.11,755.75V840.54M235.52,755.75V836.45M241.93,755.75V831.8M248.33,755.75V826.23M254.74,755.75V819.6M261.15,755.75V811.98M267.56,755.75V803.66M273.97,755.75V794.02M280.38,755.75V784.34M286.79,755.75V776.67M293.19,755.75V769.14" stroke="#c8c6ea" stroke-width="0.75" stroke-dasharray="1.3 0.7" fill="none"/>
<line x1="45.4" y1="755.75" x2="323.1" y2="755.75" stroke="#404040" stroke-width="1.4"/>
<path d="M66.76,756.25V759.45M109.48,756.25V759.45M152.21,756.25V759.45M194.93,756.25V759.45M237.65,756.25V759.45M280.38,756.25V759.45M88.12,756.25V758.05M130.85,756.25V758.05M173.57,756.25V758.05M216.29,756.25V758.05M259.02,756.25V758.05M301.74,756.25V758.05" stroke="#333333" stroke-width="1"/>
<rect x="45.4" y="644.2" width="277.7" height="223.1" fill="none" stroke="#333333" stroke-width="1.2"/>
<path d="M41.8,854.91H45.4M41.8,830.12H45.4M41.8,805.33H45.4M41.8,780.54H45.4M41.8,755.75H45.4M41.8,730.96H45.4M41.8,706.17H45.4M41.8,681.38H45.4M41.8,656.59H45.4M43.4,867.3H45.4M43.4,842.51H45.4M43.4,817.72H45.4M43.4,792.93H45.4M43.4,768.14H45.4M43.4,743.36H45.4M43.4,718.57H45.4M43.4,693.78H45.4M43.4,668.99H45.4" stroke="#333333" stroke-width="1"/>
<text x="38.6" y="858.63" font-size="9.3" text-anchor="end">−4000</text>
<text x="38.6" y="833.84" font-size="9.3" text-anchor="end">−3000</text>
<text x="38.6" y="809.05" font-size="9.3" text-anchor="end">−2000</text>
<text x="38.6" y="784.26" font-size="9.3" text-anchor="end">−1000</text>
<text x="38.6" y="759.47" font-size="9.3" text-anchor="end">0</text>
<text x="38.6" y="734.68" font-size="9.3" text-anchor="end">1000</text>
<text x="38.6" y="709.89" font-size="9.3" text-anchor="end">2000</text>
<text x="38.6" y="685.1" font-size="9.3" text-anchor="end">3000</text>
<text x="38.6" y="660.31" font-size="9.3" text-anchor="end">4000</text>
<text x="66.76" y="771" font-size="9.3" text-anchor="middle">0</text>
<text x="109.48" y="771" font-size="9.3" text-anchor="middle">100</text>
<text x="152.21" y="771" font-size="9.3" text-anchor="middle">200</text>
<text x="194.93" y="771" font-size="9.3" text-anchor="middle">300</text>
<text x="237.65" y="771" font-size="9.3" text-anchor="middle">400</text>
<text x="280.38" y="771" font-size="9.3" text-anchor="middle">500</text>
<text x="323.1" y="771" font-size="9.3" text-anchor="middle">600</text>
<path d="M68.9,754.11C69.97,754.11 73.17,753.84 75.31,754.11C77.44,754.39 79.58,754.95 81.71,755.75C83.85,756.55 85.99,757.37 88.12,758.94C90.26,760.51 92.4,763 94.53,765.16C96.67,767.31 98.8,769.71 100.94,771.87C103.08,774.02 105.21,775.71 107.35,778.08C109.48,780.45 111.62,783.32 113.76,786.1C115.89,788.88 118.03,792.08 120.17,794.77C122.3,797.46 124.44,799.83 126.57,802.21C128.71,804.6 130.85,806.93 132.98,809.09C135.12,811.24 137.25,813.27 139.39,815.14C141.53,817.01 143.66,818.72 145.8,820.29C147.94,821.86 150.07,823.22 152.21,824.55C154.34,825.87 156.48,827.07 158.62,828.23C160.75,829.39 162.89,830.56 165.02,831.5C167.16,832.44 169.3,833.18 171.43,833.87C173.57,834.57 175.71,835.17 177.84,835.67C179.98,836.18 182.11,836.6 184.25,836.9C186.39,837.2 188.52,837.37 190.66,837.47C192.79,837.58 194.93,837.58 197.07,837.53C199.2,837.47 201.34,837.38 203.48,837.15C205.61,836.92 207.75,836.58 209.88,836.15C212.02,835.71 214.16,835.16 216.29,834.53C218.43,833.9 220.56,833.23 222.7,832.37C224.84,831.51 226.97,830.48 229.11,829.39C231.25,828.3 233.38,827.09 235.52,825.83C237.65,824.56 239.79,823.27 241.93,821.79C244.06,820.31 246.2,818.72 248.33,816.95C250.47,815.19 252.61,813.26 254.74,811.2C256.88,809.13 259.02,806.88 261.15,804.58C263.29,802.27 265.42,799.96 267.56,797.36C269.7,794.76 271.83,791.78 273.97,788.99C276.1,786.19 278.24,783.09 280.38,780.58C282.51,778.07 284.65,776.12 286.79,773.91C288.92,771.71 292.13,768.46 293.19,767.37" fill="none" stroke="#484848" stroke-width="0.9" stroke-linejoin="round"/>
<path d="M68.9,750.81L69.77,752.91L72.04,753.09L70.31,754.57L70.84,756.78L68.9,755.6L66.96,756.78L67.49,754.57L65.76,753.09L68.02,752.91Z" fill="#5a2aa0" stroke="#484848" stroke-width="0.5"/><path d="M75.31,750.81L76.18,752.91L78.44,753.09L76.72,754.57L77.25,756.78L75.31,755.6L73.37,756.78L73.89,754.57L72.17,753.09L74.43,752.91Z" fill="#5a2aa0" stroke="#484848" stroke-width="0.5"/><path d="M81.71,752.45L82.59,754.55L84.85,754.73L83.13,756.21L83.65,758.42L81.71,757.24L79.77,758.42L80.3,756.21L78.58,754.73L80.84,754.55Z" fill="#5a2aa0" stroke="#484848" stroke-width="0.5"/><path d="M88.12,755.64L89,757.74L91.26,757.92L89.54,759.4L90.06,761.61L88.12,760.43L86.18,761.61L86.71,759.4L84.98,757.92L87.25,757.74Z" fill="#5a2aa0" stroke="#484848" stroke-width="0.5"/><path d="M94.53,761.86L95.4,763.96L97.67,764.14L95.94,765.62L96.47,767.83L94.53,766.64L92.59,767.83L93.12,765.62L91.39,764.14L93.66,763.96Z" fill="#5a2aa0" stroke="#484848" stroke-width="0.5"/><path d="M100.94,768.57L101.81,770.66L104.08,770.85L102.35,772.32L102.88,774.54L100.94,773.35L99,774.54L99.53,772.32L97.8,770.85L100.07,770.66Z" fill="#5a2aa0" stroke="#484848" stroke-width="0.5"/><path d="M107.35,774.78L108.22,776.88L110.49,777.06L108.76,778.54L109.29,780.75L107.35,779.57L105.41,780.75L105.94,778.54L104.21,777.06L106.48,776.88Z" fill="#5a2aa0" stroke="#484848" stroke-width="0.5"/><path d="M113.76,782.8L114.63,784.9L116.9,785.08L115.17,786.56L115.7,788.77L113.76,787.58L111.82,788.77L112.34,786.56L110.62,785.08L112.88,784.9Z" fill="#5a2aa0" stroke="#484848" stroke-width="0.5"/><path d="M120.17,791.47L121.04,793.57L123.3,793.75L121.58,795.23L122.11,797.44L120.17,796.26L118.23,797.44L118.75,795.23L117.03,793.75L119.29,793.57Z" fill="#5a2aa0" stroke="#484848" stroke-width="0.5"/><path d="M126.57,798.91L127.45,801.01L129.71,801.19L127.99,802.67L128.51,804.88L126.57,803.7L124.63,804.88L125.16,802.67L123.44,801.19L125.7,801.01Z" fill="#5a2aa0" stroke="#484848" stroke-width="0.5"/><path d="M132.98,805.79L133.86,807.88L136.12,808.07L134.39,809.54L134.92,811.76L132.98,810.57L131.04,811.76L131.57,809.54L129.84,808.07L132.11,807.88Z" fill="#5a2aa0" stroke="#484848" stroke-width="0.5"/><path d="M139.39,811.84L140.26,813.94L142.53,814.12L140.8,815.6L141.33,817.81L139.39,816.62L137.45,817.81L137.98,815.6L136.25,814.12L138.52,813.94Z" fill="#5a2aa0" stroke="#484848" stroke-width="0.5"/><path d="M145.8,816.99L146.67,819.09L148.94,819.27L147.21,820.75L147.74,822.96L145.8,821.78L143.86,822.96L144.39,820.75L142.66,819.27L144.93,819.09Z" fill="#5a2aa0" stroke="#484848" stroke-width="0.5"/><path d="M152.21,821.25L153.08,823.35L155.35,823.53L153.62,825.01L154.15,827.22L152.21,826.03L150.27,827.22L150.8,825.01L149.07,823.53L151.33,823.35Z" fill="#5a2aa0" stroke="#484848" stroke-width="0.5"/><path d="M158.62,824.93L159.49,827.03L161.75,827.21L160.03,828.69L160.56,830.9L158.62,829.71L156.68,830.9L157.2,828.69L155.48,827.21L157.74,827.03Z" fill="#5a2aa0" stroke="#484848" stroke-width="0.5"/><path d="M165.02,828.2L165.9,830.3L168.16,830.48L166.44,831.96L166.96,834.17L165.02,832.98L163.08,834.17L163.61,831.96L161.89,830.48L164.15,830.3Z" fill="#5a2aa0" stroke="#484848" stroke-width="0.5"/><path d="M171.43,830.57L172.31,832.67L174.57,832.85L172.85,834.33L173.37,836.54L171.43,835.36L169.49,836.54L170.02,834.33L168.29,832.85L170.56,832.67Z" fill="#5a2aa0" stroke="#484848" stroke-width="0.5"/><path d="M177.84,832.37L178.71,834.47L180.98,834.65L179.25,836.13L179.78,838.34L177.84,837.16L175.9,838.34L176.43,836.13L174.7,834.65L176.97,834.47Z" fill="#5a2aa0" stroke="#484848" stroke-width="0.5"/><path d="M184.25,833.6L185.12,835.7L187.39,835.88L185.66,837.36L186.19,839.57L184.25,838.38L182.31,839.57L182.84,837.36L181.11,835.88L183.38,835.7Z" fill="#5a2aa0" stroke="#484848" stroke-width="0.5"/><path d="M190.66,834.17L191.53,836.27L193.8,836.45L192.07,837.93L192.6,840.14L190.66,838.96L188.72,840.14L189.25,837.93L187.52,836.45L189.79,836.27Z" fill="#5a2aa0" stroke="#484848" stroke-width="0.5"/><path d="M197.07,834.23L197.94,836.33L200.21,836.51L198.48,837.99L199.01,840.2L197.07,839.01L195.13,840.2L195.65,837.99L193.93,836.51L196.19,836.33Z" fill="#5a2aa0" stroke="#484848" stroke-width="0.5"/><path d="M203.48,833.85L204.35,835.95L206.61,836.13L204.89,837.61L205.42,839.82L203.48,838.63L201.54,839.82L202.06,837.61L200.34,836.13L202.6,835.95Z" fill="#5a2aa0" stroke="#484848" stroke-width="0.5"/><path d="M209.88,832.85L210.76,834.95L213.02,835.13L211.3,836.61L211.82,838.82L209.88,837.63L207.94,838.82L208.47,836.61L206.75,835.13L209.01,834.95Z" fill="#5a2aa0" stroke="#484848" stroke-width="0.5"/><path d="M216.29,831.23L217.17,833.33L219.43,833.51L217.7,834.99L218.23,837.2L216.29,836.02L214.35,837.2L214.88,834.99L213.15,833.51L215.42,833.33Z" fill="#5a2aa0" stroke="#484848" stroke-width="0.5"/><path d="M222.7,829.07L223.57,831.17L225.84,831.35L224.11,832.83L224.64,835.04L222.7,833.86L220.76,835.04L221.29,832.83L219.56,831.35L221.83,831.17Z" fill="#5a2aa0" stroke="#484848" stroke-width="0.5"/><path d="M229.11,826.09L229.98,828.18L232.25,828.37L230.52,829.84L231.05,832.06L229.11,830.87L227.17,832.06L227.7,829.84L225.97,828.37L228.24,828.18Z" fill="#5a2aa0" stroke="#484848" stroke-width="0.5"/><path d="M235.52,822.53L236.39,824.63L238.66,824.81L236.93,826.29L237.46,828.5L235.52,827.31L233.58,828.5L234.11,826.29L232.38,824.81L234.64,824.63Z" fill="#5a2aa0" stroke="#484848" stroke-width="0.5"/><path d="M241.93,818.49L242.8,820.59L245.06,820.77L243.34,822.25L243.87,824.46L241.93,823.28L239.99,824.46L240.51,822.25L238.79,820.77L241.05,820.59Z" fill="#5a2aa0" stroke="#484848" stroke-width="0.5"/><path d="M248.33,813.65L249.21,815.75L251.47,815.94L249.75,817.41L250.27,819.62L248.33,818.44L246.39,819.62L246.92,817.41L245.2,815.94L247.46,815.75Z" fill="#5a2aa0" stroke="#484848" stroke-width="0.5"/><path d="M254.74,807.9L255.62,809.99L257.88,810.18L256.16,811.66L256.68,813.87L254.74,812.68L252.8,813.87L253.33,811.66L251.6,810.18L253.87,809.99Z" fill="#5a2aa0" stroke="#484848" stroke-width="0.5"/><path d="M261.15,801.28L262.02,803.38L264.29,803.56L262.56,805.04L263.09,807.25L261.15,806.06L259.21,807.25L259.74,805.04L258.01,803.56L260.28,803.38Z" fill="#5a2aa0" stroke="#484848" stroke-width="0.5"/><path d="M267.56,794.06L268.43,796.16L270.7,796.34L268.97,797.82L269.5,800.03L267.56,798.84L265.62,800.03L266.15,797.82L264.42,796.34L266.69,796.16Z" fill="#5a2aa0" stroke="#484848" stroke-width="0.5"/><path d="M273.97,785.69L274.84,787.79L277.11,787.97L275.38,789.45L275.91,791.66L273.97,790.47L272.03,791.66L272.56,789.45L270.83,787.97L273.1,787.79Z" fill="#5a2aa0" stroke="#484848" stroke-width="0.5"/><path d="M280.38,777.28L281.25,779.38L283.52,779.56L281.79,781.04L282.32,783.25L280.38,782.07L278.44,783.25L278.96,781.04L277.24,779.56L279.5,779.38Z" fill="#5a2aa0" stroke="#484848" stroke-width="0.5"/><path d="M286.79,770.61L287.66,772.71L289.92,772.89L288.2,774.37L288.73,776.58L286.79,775.4L284.85,776.58L285.37,774.37L283.65,772.89L285.91,772.71Z" fill="#5a2aa0" stroke="#484848" stroke-width="0.5"/><path d="M293.19,764.07L294.07,766.17L296.33,766.35L294.61,767.83L295.13,770.04L293.19,768.86L291.25,770.04L291.78,767.83L290.06,766.35L292.32,766.17Z" fill="#5a2aa0" stroke="#484848" stroke-width="0.5"/>
<path d="M68.9,753.62C69.97,753.36 73.17,752.75 75.31,752.07C77.44,751.39 79.58,750.68 81.71,749.53C83.85,748.39 85.99,746.75 88.12,745.2C90.26,743.64 92.4,741.99 94.53,740.21C96.67,738.42 98.8,736.44 100.94,734.48C103.08,732.52 105.21,730.62 107.35,728.43C109.48,726.23 111.62,723.82 113.76,721.31C115.89,718.8 118.03,715.95 120.17,713.38C122.3,710.8 124.44,708.19 126.57,705.85C128.71,703.5 130.85,701.28 132.98,699.31C135.12,697.33 137.25,695.67 139.39,693.99C141.53,692.31 143.66,690.61 145.8,689.24C147.94,687.88 150.07,686.89 152.21,685.81C154.34,684.73 156.48,683.75 158.62,682.78C160.75,681.81 162.89,680.86 165.02,680C167.16,679.14 169.3,678.32 171.43,677.63C173.57,676.93 175.71,676.33 177.84,675.83C179.98,675.32 182.11,674.9 184.25,674.6C186.39,674.3 188.52,674.13 190.66,674.03C192.79,673.92 194.93,673.92 197.07,673.97C199.2,674.03 201.34,674.12 203.48,674.35C205.61,674.58 207.75,674.92 209.88,675.35C212.02,675.79 214.16,676.33 216.29,676.97C218.43,677.6 220.56,678.35 222.7,679.16C224.84,679.97 226.97,680.89 229.11,681.82C231.25,682.75 233.38,683.73 235.52,684.76C237.65,685.79 239.79,686.74 241.93,688C244.06,689.26 246.2,690.74 248.33,692.31C250.47,693.88 252.61,695.56 254.74,697.43C256.88,699.3 259.02,701.32 261.15,703.55C263.29,705.78 265.42,708.27 267.56,710.8C269.7,713.33 271.83,716.15 273.97,718.71C276.1,721.28 278.24,723.87 280.38,726.17C282.51,728.47 284.65,730.49 286.79,732.52C288.92,734.56 292.13,737.39 293.19,738.37" fill="none" stroke="#f0506a" stroke-width="0.9" stroke-linejoin="round"/>
<path d="M68.9,750.32L69.77,752.42L72.04,752.6L70.31,754.08L70.84,756.29L68.9,755.11L66.96,756.29L67.49,754.08L65.76,752.6L68.02,752.42Z" fill="#b428b8" stroke="#f0506a" stroke-width="0.5"/><path d="M75.31,748.77L76.18,750.87L78.44,751.05L76.72,752.53L77.25,754.74L75.31,753.55L73.37,754.74L73.89,752.53L72.17,751.05L74.43,750.87Z" fill="#b428b8" stroke="#f0506a" stroke-width="0.5"/><path d="M81.71,746.23L82.59,748.33L84.85,748.51L83.13,749.99L83.65,752.2L81.71,751.02L79.77,752.2L80.3,749.99L78.58,748.51L80.84,748.33Z" fill="#b428b8" stroke="#f0506a" stroke-width="0.5"/><path d="M88.12,741.9L89,744L91.26,744.18L89.54,745.66L90.06,747.87L88.12,746.68L86.18,747.87L86.71,745.66L84.98,744.18L87.25,744Z" fill="#b428b8" stroke="#f0506a" stroke-width="0.5"/><path d="M94.53,736.91L95.4,739.01L97.67,739.19L95.94,740.67L96.47,742.88L94.53,741.69L92.59,742.88L93.12,740.67L91.39,739.19L93.66,739.01Z" fill="#b428b8" stroke="#f0506a" stroke-width="0.5"/><path d="M100.94,731.18L101.81,733.28L104.08,733.46L102.35,734.94L102.88,737.15L100.94,735.97L99,737.15L99.53,734.94L97.8,733.46L100.07,733.28Z" fill="#b428b8" stroke="#f0506a" stroke-width="0.5"/><path d="M107.35,725.13L108.22,727.23L110.49,727.41L108.76,728.89L109.29,731.1L107.35,729.91L105.41,731.1L105.94,728.89L104.21,727.41L106.48,727.23Z" fill="#b428b8" stroke="#f0506a" stroke-width="0.5"/><path d="M113.76,718.01L114.63,720.11L116.9,720.29L115.17,721.77L115.7,723.98L113.76,722.8L111.82,723.98L112.34,721.77L110.62,720.29L112.88,720.11Z" fill="#b428b8" stroke="#f0506a" stroke-width="0.5"/><path d="M120.17,710.08L121.04,712.17L123.3,712.36L121.58,713.83L122.11,716.05L120.17,714.86L118.23,716.05L118.75,713.83L117.03,712.36L119.29,712.17Z" fill="#b428b8" stroke="#f0506a" stroke-width="0.5"/><path d="M126.57,702.55L127.45,704.65L129.71,704.83L127.99,706.31L128.51,708.52L126.57,707.33L124.63,708.52L125.16,706.31L123.44,704.83L125.7,704.65Z" fill="#b428b8" stroke="#f0506a" stroke-width="0.5"/><path d="M132.98,696.01L133.86,698.1L136.12,698.29L134.39,699.76L134.92,701.98L132.98,700.79L131.04,701.98L131.57,699.76L129.84,698.29L132.11,698.1Z" fill="#b428b8" stroke="#f0506a" stroke-width="0.5"/><path d="M139.39,690.69L140.26,692.79L142.53,692.97L140.8,694.45L141.33,696.66L139.39,695.47L137.45,696.66L137.98,694.45L136.25,692.97L138.52,692.79Z" fill="#b428b8" stroke="#f0506a" stroke-width="0.5"/><path d="M145.8,685.94L146.67,688.04L148.94,688.22L147.21,689.7L147.74,691.91L145.8,690.73L143.86,691.91L144.39,689.7L142.66,688.22L144.93,688.04Z" fill="#b428b8" stroke="#f0506a" stroke-width="0.5"/><path d="M152.21,682.51L153.08,684.61L155.35,684.79L153.62,686.27L154.15,688.48L152.21,687.29L150.27,688.48L150.8,686.27L149.07,684.79L151.33,684.61Z" fill="#b428b8" stroke="#f0506a" stroke-width="0.5"/><path d="M158.62,679.48L159.49,681.58L161.75,681.76L160.03,683.24L160.56,685.45L158.62,684.27L156.68,685.45L157.2,683.24L155.48,681.76L157.74,681.58Z" fill="#b428b8" stroke="#f0506a" stroke-width="0.5"/><path d="M165.02,676.7L165.9,678.8L168.16,678.98L166.44,680.46L166.96,682.67L165.02,681.49L163.08,682.67L163.61,680.46L161.89,678.98L164.15,678.8Z" fill="#b428b8" stroke="#f0506a" stroke-width="0.5"/><path d="M171.43,674.33L172.31,676.43L174.57,676.61L172.85,678.09L173.37,680.3L171.43,679.11L169.49,680.3L170.02,678.09L168.29,676.61L170.56,676.43Z" fill="#b428b8" stroke="#f0506a" stroke-width="0.5"/><path d="M177.84,672.53L178.71,674.63L180.98,674.81L179.25,676.29L179.78,678.5L177.84,677.31L175.9,678.5L176.43,676.29L174.7,674.81L176.97,674.63Z" fill="#b428b8" stroke="#f0506a" stroke-width="0.5"/><path d="M184.25,671.3L185.12,673.4L187.39,673.58L185.66,675.06L186.19,677.27L184.25,676.09L182.31,677.27L182.84,675.06L181.11,673.58L183.38,673.4Z" fill="#b428b8" stroke="#f0506a" stroke-width="0.5"/><path d="M190.66,670.73L191.53,672.83L193.8,673.01L192.07,674.49L192.6,676.7L190.66,675.51L188.72,676.7L189.25,674.49L187.52,673.01L189.79,672.83Z" fill="#b428b8" stroke="#f0506a" stroke-width="0.5"/><path d="M197.07,670.67L197.94,672.77L200.21,672.95L198.48,674.43L199.01,676.64L197.07,675.46L195.13,676.64L195.65,674.43L193.93,672.95L196.19,672.77Z" fill="#b428b8" stroke="#f0506a" stroke-width="0.5"/><path d="M203.48,671.05L204.35,673.15L206.61,673.33L204.89,674.81L205.42,677.02L203.48,675.84L201.54,677.02L202.06,674.81L200.34,673.33L202.6,673.15Z" fill="#b428b8" stroke="#f0506a" stroke-width="0.5"/><path d="M209.88,672.05L210.76,674.15L213.02,674.33L211.3,675.81L211.82,678.02L209.88,676.84L207.94,678.02L208.47,675.81L206.75,674.33L209.01,674.15Z" fill="#b428b8" stroke="#f0506a" stroke-width="0.5"/><path d="M216.29,673.67L217.17,675.76L219.43,675.95L217.7,677.43L218.23,679.64L216.29,678.45L214.35,679.64L214.88,677.43L213.15,675.95L215.42,675.76Z" fill="#b428b8" stroke="#f0506a" stroke-width="0.5"/><path d="M222.7,675.86L223.57,677.96L225.84,678.14L224.11,679.62L224.64,681.83L222.7,680.64L220.76,681.83L221.29,679.62L219.56,678.14L221.83,677.96Z" fill="#b428b8" stroke="#f0506a" stroke-width="0.5"/><path d="M229.11,678.52L229.98,680.62L232.25,680.8L230.52,682.28L231.05,684.49L229.11,683.31L227.17,684.49L227.7,682.28L225.97,680.8L228.24,680.62Z" fill="#b428b8" stroke="#f0506a" stroke-width="0.5"/><path d="M235.52,681.46L236.39,683.56L238.66,683.74L236.93,685.22L237.46,687.43L235.52,686.25L233.58,687.43L234.11,685.22L232.38,683.74L234.64,683.56Z" fill="#b428b8" stroke="#f0506a" stroke-width="0.5"/><path d="M241.93,684.7L242.8,686.8L245.06,686.98L243.34,688.46L243.87,690.67L241.93,689.49L239.99,690.67L240.51,688.46L238.79,686.98L241.05,686.8Z" fill="#b428b8" stroke="#f0506a" stroke-width="0.5"/><path d="M248.33,689.01L249.21,691.11L251.47,691.29L249.75,692.77L250.27,694.98L248.33,693.8L246.39,694.98L246.92,692.77L245.2,691.29L247.46,691.11Z" fill="#b428b8" stroke="#f0506a" stroke-width="0.5"/><path d="M254.74,694.13L255.62,696.23L257.88,696.41L256.16,697.89L256.68,700.1L254.74,698.91L252.8,700.1L253.33,697.89L251.6,696.41L253.87,696.23Z" fill="#b428b8" stroke="#f0506a" stroke-width="0.5"/><path d="M261.15,700.25L262.02,702.35L264.29,702.53L262.56,704.01L263.09,706.22L261.15,705.04L259.21,706.22L259.74,704.01L258.01,702.53L260.28,702.35Z" fill="#b428b8" stroke="#f0506a" stroke-width="0.5"/><path d="M267.56,707.5L268.43,709.6L270.7,709.78L268.97,711.26L269.5,713.47L267.56,712.28L265.62,713.47L266.15,711.26L264.42,709.78L266.69,709.6Z" fill="#b428b8" stroke="#f0506a" stroke-width="0.5"/><path d="M273.97,715.41L274.84,717.51L277.11,717.69L275.38,719.17L275.91,721.38L273.97,720.2L272.03,721.38L272.56,719.17L270.83,717.69L273.1,717.51Z" fill="#b428b8" stroke="#f0506a" stroke-width="0.5"/><path d="M280.38,722.87L281.25,724.97L283.52,725.15L281.79,726.63L282.32,728.84L280.38,727.65L278.44,728.84L278.96,726.63L277.24,725.15L279.5,724.97Z" fill="#b428b8" stroke="#f0506a" stroke-width="0.5"/><path d="M286.79,729.22L287.66,731.32L289.92,731.5L288.2,732.98L288.73,735.19L286.79,734.01L284.85,735.19L285.37,732.98L283.65,731.5L285.91,731.32Z" fill="#b428b8" stroke="#f0506a" stroke-width="0.5"/><path d="M293.19,735.07L294.07,737.17L296.33,737.35L294.61,738.83L295.13,741.04L293.19,739.85L291.25,741.04L291.78,738.83L290.06,737.35L292.32,737.17Z" fill="#b428b8" stroke="#f0506a" stroke-width="0.5"/>
<path d="M68.9,753.87C69.97,753.87 73.17,753.55 75.31,753.87C77.44,754.18 79.58,754.82 81.71,755.75C83.85,756.68 85.99,757.62 88.12,759.42C90.26,761.23 92.4,764.1 94.53,766.58C96.67,769.06 98.8,771.83 100.94,774.31C103.08,776.79 105.21,778.73 107.35,781.47C109.48,784.2 111.62,787.49 113.76,790.7C115.89,793.9 118.03,797.59 120.17,800.68C122.3,803.78 124.44,806.51 126.57,809.25C128.71,812 130.85,814.69 132.98,817.17C135.12,819.65 137.25,821.99 139.39,824.14C141.53,826.29 143.66,828.27 145.8,830.07C147.94,831.88 150.07,833.45 152.21,834.97C154.34,836.49 156.48,837.87 158.62,839.21C160.75,840.54 162.89,841.89 165.02,842.98C167.16,844.06 169.3,844.91 171.43,845.71C173.57,846.51 175.71,847.2 177.84,847.78C179.98,848.36 182.11,848.85 184.25,849.19C186.39,849.54 188.52,849.73 190.66,849.85C192.79,849.97 194.93,849.98 197.07,849.92C199.2,849.86 201.34,849.75 203.48,849.48C205.61,849.22 207.75,848.83 209.88,848.33C212.02,847.83 214.16,847.2 216.29,846.47C218.43,845.75 220.56,844.97 222.7,843.98C224.84,842.99 226.97,841.8 229.11,840.54C231.25,839.29 233.38,837.9 235.52,836.45C237.65,834.99 239.79,833.5 241.93,831.8C244.06,830.1 246.2,828.26 248.33,826.23C250.47,824.19 252.61,821.97 254.74,819.6C256.88,817.22 259.02,814.63 261.15,811.98C263.29,809.32 265.42,806.65 267.56,803.66C269.7,800.67 271.83,797.24 273.97,794.02C276.1,790.8 278.24,787.24 280.38,784.34C282.51,781.45 284.65,779.2 286.79,776.67C288.92,774.13 292.13,770.39 293.19,769.14" fill="none" stroke="#1c6fe8" stroke-width="0.9" stroke-linejoin="round"/>
<path d="M68.9,750.57L69.77,752.66L72.04,752.85L70.31,754.32L70.84,756.54L68.9,755.35L66.96,756.54L67.49,754.32L65.76,752.85L68.02,752.66Z" fill="#4a2cf0" stroke="#1c6fe8" stroke-width="0.5"/><path d="M75.31,750.57L76.18,752.66L78.44,752.85L76.72,754.32L77.25,756.54L75.31,755.35L73.37,756.54L73.89,754.32L72.17,752.85L74.43,752.66Z" fill="#4a2cf0" stroke="#1c6fe8" stroke-width="0.5"/><path d="M81.71,752.45L82.59,754.55L84.85,754.73L83.13,756.21L83.65,758.42L81.71,757.24L79.77,758.42L80.3,756.21L78.58,754.73L80.84,754.55Z" fill="#4a2cf0" stroke="#1c6fe8" stroke-width="0.5"/><path d="M88.12,756.12L89,758.22L91.26,758.4L89.54,759.88L90.06,762.09L88.12,760.91L86.18,762.09L86.71,759.88L84.98,758.4L87.25,758.22Z" fill="#4a2cf0" stroke="#1c6fe8" stroke-width="0.5"/><path d="M94.53,763.28L95.4,765.38L97.67,765.56L95.94,767.04L96.47,769.25L94.53,768.07L92.59,769.25L93.12,767.04L91.39,765.56L93.66,765.38Z" fill="#4a2cf0" stroke="#1c6fe8" stroke-width="0.5"/><path d="M100.94,771.01L101.81,773.11L104.08,773.29L102.35,774.77L102.88,776.98L100.94,775.79L99,776.98L99.53,774.77L97.8,773.29L100.07,773.11Z" fill="#4a2cf0" stroke="#1c6fe8" stroke-width="0.5"/><path d="M107.35,778.17L108.22,780.26L110.49,780.45L108.76,781.92L109.29,784.14L107.35,782.95L105.41,784.14L105.94,781.92L104.21,780.45L106.48,780.26Z" fill="#4a2cf0" stroke="#1c6fe8" stroke-width="0.5"/><path d="M113.76,787.4L114.63,789.5L116.9,789.68L115.17,791.16L115.7,793.37L113.76,792.18L111.82,793.37L112.34,791.16L110.62,789.68L112.88,789.5Z" fill="#4a2cf0" stroke="#1c6fe8" stroke-width="0.5"/><path d="M120.17,797.38L121.04,799.48L123.3,799.66L121.58,801.14L122.11,803.35L120.17,802.17L118.23,803.35L118.75,801.14L117.03,799.66L119.29,799.48Z" fill="#4a2cf0" stroke="#1c6fe8" stroke-width="0.5"/><path d="M126.57,805.95L127.45,808.05L129.71,808.23L127.99,809.71L128.51,811.92L126.57,810.74L124.63,811.92L125.16,809.71L123.44,808.23L125.7,808.05Z" fill="#4a2cf0" stroke="#1c6fe8" stroke-width="0.5"/><path d="M132.98,813.87L133.86,815.97L136.12,816.15L134.39,817.63L134.92,819.84L132.98,818.65L131.04,819.84L131.57,817.63L129.84,816.15L132.11,815.97Z" fill="#4a2cf0" stroke="#1c6fe8" stroke-width="0.5"/><path d="M139.39,820.84L140.26,822.94L142.53,823.12L140.8,824.6L141.33,826.81L139.39,825.62L137.45,826.81L137.98,824.6L136.25,823.12L138.52,822.94Z" fill="#4a2cf0" stroke="#1c6fe8" stroke-width="0.5"/><path d="M145.8,826.77L146.67,828.87L148.94,829.05L147.21,830.53L147.74,832.74L145.8,831.56L143.86,832.74L144.39,830.53L142.66,829.05L144.93,828.87Z" fill="#4a2cf0" stroke="#1c6fe8" stroke-width="0.5"/><path d="M152.21,831.67L153.08,833.77L155.35,833.95L153.62,835.43L154.15,837.64L152.21,836.46L150.27,837.64L150.8,835.43L149.07,833.95L151.33,833.77Z" fill="#4a2cf0" stroke="#1c6fe8" stroke-width="0.5"/><path d="M158.62,835.91L159.49,838.01L161.75,838.19L160.03,839.67L160.56,841.88L158.62,840.69L156.68,841.88L157.2,839.67L155.48,838.19L157.74,838.01Z" fill="#4a2cf0" stroke="#1c6fe8" stroke-width="0.5"/><path d="M165.02,839.68L165.9,841.78L168.16,841.96L166.44,843.44L166.96,845.65L165.02,844.46L163.08,845.65L163.61,843.44L161.89,841.96L164.15,841.78Z" fill="#4a2cf0" stroke="#1c6fe8" stroke-width="0.5"/><path d="M171.43,842.41L172.31,844.51L174.57,844.69L172.85,846.17L173.37,848.38L171.43,847.19L169.49,848.38L170.02,846.17L168.29,844.69L170.56,844.51Z" fill="#4a2cf0" stroke="#1c6fe8" stroke-width="0.5"/><path d="M177.84,844.48L178.71,846.58L180.98,846.76L179.25,848.24L179.78,850.45L177.84,849.27L175.9,850.45L176.43,848.24L174.7,846.76L176.97,846.58Z" fill="#4a2cf0" stroke="#1c6fe8" stroke-width="0.5"/><path d="M184.25,845.89L185.12,847.99L187.39,848.17L185.66,849.65L186.19,851.86L184.25,850.68L182.31,851.86L182.84,849.65L181.11,848.17L183.38,847.99Z" fill="#4a2cf0" stroke="#1c6fe8" stroke-width="0.5"/><path d="M190.66,846.55L191.53,848.65L193.8,848.83L192.07,850.31L192.6,852.52L190.66,851.34L188.72,852.52L189.25,850.31L187.52,848.83L189.79,848.65Z" fill="#4a2cf0" stroke="#1c6fe8" stroke-width="0.5"/><path d="M197.07,846.62L197.94,848.72L200.21,848.9L198.48,850.38L199.01,852.59L197.07,851.4L195.13,852.59L195.65,850.38L193.93,848.9L196.19,848.72Z" fill="#4a2cf0" stroke="#1c6fe8" stroke-width="0.5"/><path d="M203.48,846.18L204.35,848.28L206.61,848.46L204.89,849.94L205.42,852.15L203.48,850.97L201.54,852.15L202.06,849.94L200.34,848.46L202.6,848.28Z" fill="#4a2cf0" stroke="#1c6fe8" stroke-width="0.5"/><path d="M209.88,845.03L210.76,847.13L213.02,847.31L211.3,848.79L211.82,851L209.88,849.81L207.94,851L208.47,848.79L206.75,847.31L209.01,847.13Z" fill="#4a2cf0" stroke="#1c6fe8" stroke-width="0.5"/><path d="M216.29,843.17L217.17,845.27L219.43,845.45L217.7,846.93L218.23,849.14L216.29,847.96L214.35,849.14L214.88,846.93L213.15,845.45L215.42,845.27Z" fill="#4a2cf0" stroke="#1c6fe8" stroke-width="0.5"/><path d="M222.7,840.68L223.57,842.78L225.84,842.96L224.11,844.44L224.64,846.65L222.7,845.47L220.76,846.65L221.29,844.44L219.56,842.96L221.83,842.78Z" fill="#4a2cf0" stroke="#1c6fe8" stroke-width="0.5"/><path d="M229.11,837.24L229.98,839.34L232.25,839.52L230.52,841L231.05,843.21L229.11,842.03L227.17,843.21L227.7,841L225.97,839.52L228.24,839.34Z" fill="#4a2cf0" stroke="#1c6fe8" stroke-width="0.5"/><path d="M235.52,833.15L236.39,835.25L238.66,835.43L236.93,836.91L237.46,839.12L235.52,837.93L233.58,839.12L234.11,836.91L232.38,835.43L234.64,835.25Z" fill="#4a2cf0" stroke="#1c6fe8" stroke-width="0.5"/><path d="M241.93,828.5L242.8,830.6L245.06,830.78L243.34,832.26L243.87,834.47L241.93,833.29L239.99,834.47L240.51,832.26L238.79,830.78L241.05,830.6Z" fill="#4a2cf0" stroke="#1c6fe8" stroke-width="0.5"/><path d="M248.33,822.93L249.21,825.03L251.47,825.21L249.75,826.69L250.27,828.9L248.33,827.71L246.39,828.9L246.92,826.69L245.2,825.21L247.46,825.03Z" fill="#4a2cf0" stroke="#1c6fe8" stroke-width="0.5"/><path d="M254.74,816.3L255.62,818.4L257.88,818.58L256.16,820.06L256.68,822.27L254.74,821.08L252.8,822.27L253.33,820.06L251.6,818.58L253.87,818.4Z" fill="#4a2cf0" stroke="#1c6fe8" stroke-width="0.5"/><path d="M261.15,808.68L262.02,810.77L264.29,810.96L262.56,812.43L263.09,814.65L261.15,813.46L259.21,814.65L259.74,812.43L258.01,810.96L260.28,810.77Z" fill="#4a2cf0" stroke="#1c6fe8" stroke-width="0.5"/><path d="M267.56,800.36L268.43,802.46L270.7,802.64L268.97,804.12L269.5,806.33L267.56,805.15L265.62,806.33L266.15,804.12L264.42,802.64L266.69,802.46Z" fill="#4a2cf0" stroke="#1c6fe8" stroke-width="0.5"/><path d="M273.97,790.72L274.84,792.82L277.11,793L275.38,794.48L275.91,796.69L273.97,795.51L272.03,796.69L272.56,794.48L270.83,793L273.1,792.82Z" fill="#4a2cf0" stroke="#1c6fe8" stroke-width="0.5"/><path d="M280.38,781.04L281.25,783.14L283.52,783.32L281.79,784.8L282.32,787.01L280.38,785.83L278.44,787.01L278.96,784.8L277.24,783.32L279.5,783.14Z" fill="#4a2cf0" stroke="#1c6fe8" stroke-width="0.5"/><path d="M286.79,773.37L287.66,775.47L289.92,775.65L288.2,777.13L288.73,779.34L286.79,778.15L284.85,779.34L285.37,777.13L283.65,775.65L285.91,775.47Z" fill="#4a2cf0" stroke="#1c6fe8" stroke-width="0.5"/><path d="M293.19,765.84L294.07,767.93L296.33,768.12L294.61,769.59L295.13,771.81L293.19,770.62L291.25,771.81L291.78,769.59L290.06,768.12L292.32,767.93Z" fill="#4a2cf0" stroke="#1c6fe8" stroke-width="0.5"/>
<path d="M68.9,753.3C69.97,753 73.17,752.3 75.31,751.51C77.44,750.73 79.58,749.91 81.71,748.59C83.85,747.27 85.99,745.39 88.12,743.6C90.26,741.81 92.4,739.91 94.53,737.85C96.67,735.8 98.8,733.52 100.94,731.26C103.08,729 105.21,726.82 107.35,724.29C109.48,721.76 111.62,718.98 113.76,716.09C115.89,713.2 118.03,709.92 120.17,706.96C122.3,703.99 124.44,700.99 126.57,698.29C128.71,695.59 130.85,693.03 132.98,690.75C135.12,688.48 137.25,686.56 139.39,684.63C141.53,682.7 143.66,680.74 145.8,679.17C147.94,677.6 150.07,676.45 152.21,675.21C154.34,673.97 156.48,672.84 158.62,671.73C160.75,670.61 162.89,669.51 165.02,668.52C167.16,667.53 169.3,666.59 171.43,665.79C173.57,664.99 175.71,664.3 177.84,663.72C179.98,663.14 182.11,662.65 184.25,662.31C186.39,661.96 188.52,661.77 190.66,661.65C192.79,661.53 194.93,661.52 197.07,661.58C199.2,661.64 201.34,661.75 203.48,662.02C205.61,662.28 207.75,662.67 209.88,663.17C212.02,663.67 214.16,664.3 216.29,665.03C218.43,665.76 220.56,666.62 222.7,667.55C224.84,668.48 226.97,669.54 229.11,670.62C231.25,671.69 233.38,672.82 235.52,674.01C237.65,675.19 239.79,676.29 241.93,677.74C244.06,679.18 246.2,680.89 248.33,682.7C250.47,684.51 252.61,686.44 254.74,688.59C256.88,690.75 259.02,693.08 261.15,695.64C263.29,698.21 265.42,701.08 267.56,703.99C269.7,706.9 271.83,710.15 273.97,713.1C276.1,716.05 278.24,719.04 280.38,721.69C282.51,724.34 284.65,726.66 286.79,729.01C288.92,731.35 292.13,734.61 293.19,735.74" fill="none" stroke="#2aaa70" stroke-width="0.9" stroke-linejoin="round"/>
<path d="M68.9,750L69.77,752.1L72.04,752.28L70.31,753.76L70.84,755.97L68.9,754.79L66.96,755.97L67.49,753.76L65.76,752.28L68.02,752.1Z" fill="#4a44b0" stroke="#2aaa70" stroke-width="0.5"/><path d="M75.31,748.21L76.18,750.31L78.44,750.49L76.72,751.97L77.25,754.18L75.31,753L73.37,754.18L73.89,751.97L72.17,750.49L74.43,750.31Z" fill="#4a44b0" stroke="#2aaa70" stroke-width="0.5"/><path d="M81.71,745.29L82.59,747.39L84.85,747.57L83.13,749.05L83.65,751.26L81.71,750.08L79.77,751.26L80.3,749.05L78.58,747.57L80.84,747.39Z" fill="#4a44b0" stroke="#2aaa70" stroke-width="0.5"/><path d="M88.12,740.3L89,742.4L91.26,742.58L89.54,744.06L90.06,746.27L88.12,745.08L86.18,746.27L86.71,744.06L84.98,742.58L87.25,742.4Z" fill="#4a44b0" stroke="#2aaa70" stroke-width="0.5"/><path d="M94.53,734.55L95.4,736.65L97.67,736.83L95.94,738.31L96.47,740.52L94.53,739.34L92.59,740.52L93.12,738.31L91.39,736.83L93.66,736.65Z" fill="#4a44b0" stroke="#2aaa70" stroke-width="0.5"/><path d="M100.94,727.96L101.81,730.06L104.08,730.24L102.35,731.72L102.88,733.93L100.94,732.74L99,733.93L99.53,731.72L97.8,730.24L100.07,730.06Z" fill="#4a44b0" stroke="#2aaa70" stroke-width="0.5"/><path d="M107.35,720.99L108.22,723.09L110.49,723.27L108.76,724.75L109.29,726.96L107.35,725.77L105.41,726.96L105.94,724.75L104.21,723.27L106.48,723.09Z" fill="#4a44b0" stroke="#2aaa70" stroke-width="0.5"/><path d="M113.76,712.79L114.63,714.89L116.9,715.07L115.17,716.55L115.7,718.76L113.76,717.58L111.82,718.76L112.34,716.55L110.62,715.07L112.88,714.89Z" fill="#4a44b0" stroke="#2aaa70" stroke-width="0.5"/><path d="M120.17,703.66L121.04,705.75L123.3,705.94L121.58,707.41L122.11,709.63L120.17,708.44L118.23,709.63L118.75,707.41L117.03,705.94L119.29,705.75Z" fill="#4a44b0" stroke="#2aaa70" stroke-width="0.5"/><path d="M126.57,694.99L127.45,697.09L129.71,697.27L127.99,698.75L128.51,700.96L126.57,699.77L124.63,700.96L125.16,698.75L123.44,697.27L125.7,697.09Z" fill="#4a44b0" stroke="#2aaa70" stroke-width="0.5"/><path d="M132.98,687.45L133.86,689.55L136.12,689.73L134.39,691.21L134.92,693.42L132.98,692.24L131.04,693.42L131.57,691.21L129.84,689.73L132.11,689.55Z" fill="#4a44b0" stroke="#2aaa70" stroke-width="0.5"/><path d="M139.39,681.33L140.26,683.43L142.53,683.61L140.8,685.09L141.33,687.3L139.39,686.12L137.45,687.3L137.98,685.09L136.25,683.61L138.52,683.43Z" fill="#4a44b0" stroke="#2aaa70" stroke-width="0.5"/><path d="M145.8,675.87L146.67,677.97L148.94,678.15L147.21,679.63L147.74,681.84L145.8,680.65L143.86,681.84L144.39,679.63L142.66,678.15L144.93,677.97Z" fill="#4a44b0" stroke="#2aaa70" stroke-width="0.5"/><path d="M152.21,671.91L153.08,674.01L155.35,674.19L153.62,675.67L154.15,677.88L152.21,676.7L150.27,677.88L150.8,675.67L149.07,674.19L151.33,674.01Z" fill="#4a44b0" stroke="#2aaa70" stroke-width="0.5"/><path d="M158.62,668.43L159.49,670.52L161.75,670.71L160.03,672.18L160.56,674.4L158.62,673.21L156.68,674.4L157.2,672.18L155.48,670.71L157.74,670.52Z" fill="#4a44b0" stroke="#2aaa70" stroke-width="0.5"/><path d="M165.02,665.22L165.9,667.32L168.16,667.5L166.44,668.98L166.96,671.19L165.02,670.01L163.08,671.19L163.61,668.98L161.89,667.5L164.15,667.32Z" fill="#4a44b0" stroke="#2aaa70" stroke-width="0.5"/><path d="M171.43,662.49L172.31,664.59L174.57,664.77L172.85,666.25L173.37,668.46L171.43,667.28L169.49,668.46L170.02,666.25L168.29,664.77L170.56,664.59Z" fill="#4a44b0" stroke="#2aaa70" stroke-width="0.5"/><path d="M177.84,660.42L178.71,662.52L180.98,662.7L179.25,664.18L179.78,666.39L177.84,665.2L175.9,666.39L176.43,664.18L174.7,662.7L176.97,662.52Z" fill="#4a44b0" stroke="#2aaa70" stroke-width="0.5"/><path d="M184.25,659.01L185.12,661.1L187.39,661.29L185.66,662.76L186.19,664.98L184.25,663.79L182.31,664.98L182.84,662.76L181.11,661.29L183.38,661.1Z" fill="#4a44b0" stroke="#2aaa70" stroke-width="0.5"/><path d="M190.66,658.35L191.53,660.45L193.8,660.63L192.07,662.11L192.6,664.32L190.66,663.13L188.72,664.32L189.25,662.11L187.52,660.63L189.79,660.45Z" fill="#4a44b0" stroke="#2aaa70" stroke-width="0.5"/><path d="M197.07,658.28L197.94,660.38L200.21,660.56L198.48,662.04L199.01,664.25L197.07,663.07L195.13,664.25L195.65,662.04L193.93,660.56L196.19,660.38Z" fill="#4a44b0" stroke="#2aaa70" stroke-width="0.5"/><path d="M203.48,658.72L204.35,660.82L206.61,661L204.89,662.48L205.42,664.69L203.48,663.5L201.54,664.69L202.06,662.48L200.34,661L202.6,660.82Z" fill="#4a44b0" stroke="#2aaa70" stroke-width="0.5"/><path d="M209.88,659.87L210.76,661.97L213.02,662.15L211.3,663.63L211.82,665.84L209.88,664.66L207.94,665.84L208.47,663.63L206.75,662.15L209.01,661.97Z" fill="#4a44b0" stroke="#2aaa70" stroke-width="0.5"/><path d="M216.29,661.73L217.17,663.83L219.43,664.01L217.7,665.49L218.23,667.7L216.29,666.51L214.35,667.7L214.88,665.49L213.15,664.01L215.42,663.83Z" fill="#4a44b0" stroke="#2aaa70" stroke-width="0.5"/><path d="M222.7,664.25L223.57,666.35L225.84,666.53L224.11,668.01L224.64,670.22L222.7,669.04L220.76,670.22L221.29,668.01L219.56,666.53L221.83,666.35Z" fill="#4a44b0" stroke="#2aaa70" stroke-width="0.5"/><path d="M229.11,667.32L229.98,669.42L232.25,669.6L230.52,671.08L231.05,673.29L229.11,672.1L227.17,673.29L227.7,671.08L225.97,669.6L228.24,669.42Z" fill="#4a44b0" stroke="#2aaa70" stroke-width="0.5"/><path d="M235.52,670.71L236.39,672.8L238.66,672.99L236.93,674.46L237.46,676.68L235.52,675.49L233.58,676.68L234.11,674.46L232.38,672.99L234.64,672.8Z" fill="#4a44b0" stroke="#2aaa70" stroke-width="0.5"/><path d="M241.93,674.44L242.8,676.53L245.06,676.72L243.34,678.2L243.87,680.41L241.93,679.22L239.99,680.41L240.51,678.2L238.79,676.72L241.05,676.53Z" fill="#4a44b0" stroke="#2aaa70" stroke-width="0.5"/><path d="M248.33,679.4L249.21,681.5L251.47,681.68L249.75,683.16L250.27,685.37L248.33,684.18L246.39,685.37L246.92,683.16L245.2,681.68L247.46,681.5Z" fill="#4a44b0" stroke="#2aaa70" stroke-width="0.5"/><path d="M254.74,685.29L255.62,687.39L257.88,687.57L256.16,689.05L256.68,691.26L254.74,690.08L252.8,691.26L253.33,689.05L251.6,687.57L253.87,687.39Z" fill="#4a44b0" stroke="#2aaa70" stroke-width="0.5"/><path d="M261.15,692.34L262.02,694.44L264.29,694.62L262.56,696.1L263.09,698.31L261.15,697.13L259.21,698.31L259.74,696.1L258.01,694.62L260.28,694.44Z" fill="#4a44b0" stroke="#2aaa70" stroke-width="0.5"/><path d="M267.56,700.69L268.43,702.79L270.7,702.97L268.97,704.45L269.5,706.66L267.56,705.47L265.62,706.66L266.15,704.45L264.42,702.97L266.69,702.79Z" fill="#4a44b0" stroke="#2aaa70" stroke-width="0.5"/><path d="M273.97,709.8L274.84,711.9L277.11,712.08L275.38,713.56L275.91,715.77L273.97,714.59L272.03,715.77L272.56,713.56L270.83,712.08L273.1,711.9Z" fill="#4a44b0" stroke="#2aaa70" stroke-width="0.5"/><path d="M280.38,718.39L281.25,720.49L283.52,720.67L281.79,722.15L282.32,724.36L280.38,723.17L278.44,724.36L278.96,722.15L277.24,720.67L279.5,720.49Z" fill="#4a44b0" stroke="#2aaa70" stroke-width="0.5"/><path d="M286.79,725.71L287.66,727.8L289.92,727.99L288.2,729.46L288.73,731.68L286.79,730.49L284.85,731.68L285.37,729.46L283.65,727.99L285.91,727.8Z" fill="#4a44b0" stroke="#2aaa70" stroke-width="0.5"/><path d="M293.19,732.44L294.07,734.53L296.33,734.72L294.61,736.19L295.13,738.4L293.19,737.22L291.25,738.4L291.78,736.19L290.06,734.72L292.32,734.53Z" fill="#4a44b0" stroke="#2aaa70" stroke-width="0.5"/>
<path d="M68.9,753.87C69.97,753.87 73.17,753.55 75.31,753.87C77.44,754.18 79.58,754.82 81.71,755.75C83.85,756.68 85.99,757.62 88.12,759.42C90.26,761.23 92.4,764.1 94.53,766.58C96.67,769.06 98.8,771.83 100.94,774.31C103.08,776.79 105.21,778.73 107.35,781.47C109.48,784.2 111.62,787.49 113.76,790.7C115.89,793.9 118.03,797.59 120.17,800.68C122.3,803.78 124.44,806.51 126.57,809.25C128.71,812 130.85,814.69 132.98,817.17C135.12,819.65 137.25,821.99 139.39,824.14C141.53,826.29 143.66,828.27 145.8,830.07C147.94,831.88 150.07,833.45 152.21,834.97C154.34,836.49 156.48,837.87 158.62,839.21C160.75,840.54 162.89,841.89 165.02,842.98C167.16,844.06 169.3,844.91 171.43,845.71C173.57,846.51 175.71,847.2 177.84,847.78C179.98,848.36 182.11,848.85 184.25,849.19C186.39,849.54 188.52,849.73 190.66,849.85C192.79,849.97 194.93,849.98 197.07,849.92C199.2,849.86 201.34,849.75 203.48,849.48C205.61,849.22 207.75,848.83 209.88,848.33C212.02,847.83 214.16,847.2 216.29,846.47C218.43,845.75 220.56,844.97 222.7,843.98C224.84,842.99 226.97,841.8 229.11,840.54C231.25,839.29 233.38,837.9 235.52,836.45C237.65,834.99 239.79,833.5 241.93,831.8C244.06,830.1 246.2,828.26 248.33,826.23C250.47,824.19 252.61,821.97 254.74,819.6C256.88,817.22 259.02,814.63 261.15,811.98C263.29,809.32 265.42,806.65 267.56,803.66C269.7,800.67 271.83,797.24 273.97,794.02C276.1,790.8 278.24,787.24 280.38,784.34C282.51,781.45 284.65,779.2 286.79,776.67C288.92,774.13 292.13,770.39 293.19,769.14" fill="none" stroke="#b283ee" stroke-width="0.9" stroke-linejoin="round"/>
<path d="M68.9,750.57L69.77,752.66L72.04,752.85L70.31,754.32L70.84,756.54L68.9,755.35L66.96,756.54L67.49,754.32L65.76,752.85L68.02,752.66Z" fill="#8c34f0" stroke="#b283ee" stroke-width="0.5"/><path d="M75.31,750.57L76.18,752.66L78.44,752.85L76.72,754.32L77.25,756.54L75.31,755.35L73.37,756.54L73.89,754.32L72.17,752.85L74.43,752.66Z" fill="#8c34f0" stroke="#b283ee" stroke-width="0.5"/><path d="M81.71,752.45L82.59,754.55L84.85,754.73L83.13,756.21L83.65,758.42L81.71,757.24L79.77,758.42L80.3,756.21L78.58,754.73L80.84,754.55Z" fill="#8c34f0" stroke="#b283ee" stroke-width="0.5"/><path d="M88.12,756.12L89,758.22L91.26,758.4L89.54,759.88L90.06,762.09L88.12,760.91L86.18,762.09L86.71,759.88L84.98,758.4L87.25,758.22Z" fill="#8c34f0" stroke="#b283ee" stroke-width="0.5"/><path d="M94.53,763.28L95.4,765.38L97.67,765.56L95.94,767.04L96.47,769.25L94.53,768.07L92.59,769.25L93.12,767.04L91.39,765.56L93.66,765.38Z" fill="#8c34f0" stroke="#b283ee" stroke-width="0.5"/><path d="M100.94,771.01L101.81,773.11L104.08,773.29L102.35,774.77L102.88,776.98L100.94,775.79L99,776.98L99.53,774.77L97.8,773.29L100.07,773.11Z" fill="#8c34f0" stroke="#b283ee" stroke-width="0.5"/><path d="M107.35,778.17L108.22,780.26L110.49,780.45L108.76,781.92L109.29,784.14L107.35,782.95L105.41,784.14L105.94,781.92L104.21,780.45L106.48,780.26Z" fill="#8c34f0" stroke="#b283ee" stroke-width="0.5"/><path d="M113.76,787.4L114.63,789.5L116.9,789.68L115.17,791.16L115.7,793.37L113.76,792.18L111.82,793.37L112.34,791.16L110.62,789.68L112.88,789.5Z" fill="#8c34f0" stroke="#b283ee" stroke-width="0.5"/><path d="M120.17,797.38L121.04,799.48L123.3,799.66L121.58,801.14L122.11,803.35L120.17,802.17L118.23,803.35L118.75,801.14L117.03,799.66L119.29,799.48Z" fill="#8c34f0" stroke="#b283ee" stroke-width="0.5"/><path d="M126.57,805.95L127.45,808.05L129.71,808.23L127.99,809.71L128.51,811.92L126.57,810.74L124.63,811.92L125.16,809.71L123.44,808.23L125.7,808.05Z" fill="#8c34f0" stroke="#b283ee" stroke-width="0.5"/><path d="M132.98,813.87L133.86,815.97L136.12,816.15L134.39,817.63L134.92,819.84L132.98,818.65L131.04,819.84L131.57,817.63L129.84,816.15L132.11,815.97Z" fill="#8c34f0" stroke="#b283ee" stroke-width="0.5"/><path d="M139.39,820.84L140.26,822.94L142.53,823.12L140.8,824.6L141.33,826.81L139.39,825.62L137.45,826.81L137.98,824.6L136.25,823.12L138.52,822.94Z" fill="#8c34f0" stroke="#b283ee" stroke-width="0.5"/><path d="M145.8,826.77L146.67,828.87L148.94,829.05L147.21,830.53L147.74,832.74L145.8,831.56L143.86,832.74L144.39,830.53L142.66,829.05L144.93,828.87Z" fill="#8c34f0" stroke="#b283ee" stroke-width="0.5"/><path d="M152.21,831.67L153.08,833.77L155.35,833.95L153.62,835.43L154.15,837.64L152.21,836.46L150.27,837.64L150.8,835.43L149.07,833.95L151.33,833.77Z" fill="#8c34f0" stroke="#b283ee" stroke-width="0.5"/><path d="M158.62,835.91L159.49,838.01L161.75,838.19L160.03,839.67L160.56,841.88L158.62,840.69L156.68,841.88L157.2,839.67L155.48,838.19L157.74,838.01Z" fill="#8c34f0" stroke="#b283ee" stroke-width="0.5"/><path d="M165.02,839.68L165.9,841.78L168.16,841.96L166.44,843.44L166.96,845.65L165.02,844.46L163.08,845.65L163.61,843.44L161.89,841.96L164.15,841.78Z" fill="#8c34f0" stroke="#b283ee" stroke-width="0.5"/><path d="M171.43,842.41L172.31,844.51L174.57,844.69L172.85,846.17L173.37,848.38L171.43,847.19L169.49,848.38L170.02,846.17L168.29,844.69L170.56,844.51Z" fill="#8c34f0" stroke="#b283ee" stroke-width="0.5"/><path d="M177.84,844.48L178.71,846.58L180.98,846.76L179.25,848.24L179.78,850.45L177.84,849.27L175.9,850.45L176.43,848.24L174.7,846.76L176.97,846.58Z" fill="#8c34f0" stroke="#b283ee" stroke-width="0.5"/><path d="M184.25,845.89L185.12,847.99L187.39,848.17L185.66,849.65L186.19,851.86L184.25,850.68L182.31,851.86L182.84,849.65L181.11,848.17L183.38,847.99Z" fill="#8c34f0" stroke="#b283ee" stroke-width="0.5"/><path d="M190.66,846.55L191.53,848.65L193.8,848.83L192.07,850.31L192.6,852.52L190.66,851.34L188.72,852.52L189.25,850.31L187.52,848.83L189.79,848.65Z" fill="#8c34f0" stroke="#b283ee" stroke-width="0.5"/><path d="M197.07,846.62L197.94,848.72L200.21,848.9L198.48,850.38L199.01,852.59L197.07,851.4L195.13,852.59L195.65,850.38L193.93,848.9L196.19,848.72Z" fill="#8c34f0" stroke="#b283ee" stroke-width="0.5"/><path d="M203.48,846.18L204.35,848.28L206.61,848.46L204.89,849.94L205.42,852.15L203.48,850.97L201.54,852.15L202.06,849.94L200.34,848.46L202.6,848.28Z" fill="#8c34f0" stroke="#b283ee" stroke-width="0.5"/><path d="M209.88,845.03L210.76,847.13L213.02,847.31L211.3,848.79L211.82,851L209.88,849.81L207.94,851L208.47,848.79L206.75,847.31L209.01,847.13Z" fill="#8c34f0" stroke="#b283ee" stroke-width="0.5"/><path d="M216.29,843.17L217.17,845.27L219.43,845.45L217.7,846.93L218.23,849.14L216.29,847.96L214.35,849.14L214.88,846.93L213.15,845.45L215.42,845.27Z" fill="#8c34f0" stroke="#b283ee" stroke-width="0.5"/><path d="M222.7,840.68L223.57,842.78L225.84,842.96L224.11,844.44L224.64,846.65L222.7,845.47L220.76,846.65L221.29,844.44L219.56,842.96L221.83,842.78Z" fill="#8c34f0" stroke="#b283ee" stroke-width="0.5"/><path d="M229.11,837.24L229.98,839.34L232.25,839.52L230.52,841L231.05,843.21L229.11,842.03L227.17,843.21L227.7,841L225.97,839.52L228.24,839.34Z" fill="#8c34f0" stroke="#b283ee" stroke-width="0.5"/><path d="M235.52,833.15L236.39,835.25L238.66,835.43L236.93,836.91L237.46,839.12L235.52,837.93L233.58,839.12L234.11,836.91L232.38,835.43L234.64,835.25Z" fill="#8c34f0" stroke="#b283ee" stroke-width="0.5"/><path d="M241.93,828.5L242.8,830.6L245.06,830.78L243.34,832.26L243.87,834.47L241.93,833.29L239.99,834.47L240.51,832.26L238.79,830.78L241.05,830.6Z" fill="#8c34f0" stroke="#b283ee" stroke-width="0.5"/><path d="M248.33,822.93L249.21,825.03L251.47,825.21L249.75,826.69L250.27,828.9L248.33,827.71L246.39,828.9L246.92,826.69L245.2,825.21L247.46,825.03Z" fill="#8c34f0" stroke="#b283ee" stroke-width="0.5"/><path d="M254.74,816.3L255.62,818.4L257.88,818.58L256.16,820.06L256.68,822.27L254.74,821.08L252.8,822.27L253.33,820.06L251.6,818.58L253.87,818.4Z" fill="#8c34f0" stroke="#b283ee" stroke-width="0.5"/><path d="M261.15,808.68L262.02,810.77L264.29,810.96L262.56,812.43L263.09,814.65L261.15,813.46L259.21,814.65L259.74,812.43L258.01,810.96L260.28,810.77Z" fill="#8c34f0" stroke="#b283ee" stroke-width="0.5"/><path d="M267.56,800.36L268.43,802.46L270.7,802.64L268.97,804.12L269.5,806.33L267.56,805.15L265.62,806.33L266.15,804.12L264.42,802.64L266.69,802.46Z" fill="#8c34f0" stroke="#b283ee" stroke-width="0.5"/><path d="M273.97,790.72L274.84,792.82L277.11,793L275.38,794.48L275.91,796.69L273.97,795.51L272.03,796.69L272.56,794.48L270.83,793L273.1,792.82Z" fill="#8c34f0" stroke="#b283ee" stroke-width="0.5"/><path d="M280.38,781.04L281.25,783.14L283.52,783.32L281.79,784.8L282.32,787.01L280.38,785.83L278.44,787.01L278.96,784.8L277.24,783.32L279.5,783.14Z" fill="#8c34f0" stroke="#b283ee" stroke-width="0.5"/><path d="M286.79,773.37L287.66,775.47L289.92,775.65L288.2,777.13L288.73,779.34L286.79,778.15L284.85,779.34L285.37,777.13L283.65,775.65L285.91,775.47Z" fill="#8c34f0" stroke="#b283ee" stroke-width="0.5"/><path d="M293.19,765.84L294.07,767.93L296.33,768.12L294.61,769.59L295.13,771.81L293.19,770.62L291.25,771.81L291.78,769.59L290.06,768.12L292.32,767.93Z" fill="#8c34f0" stroke="#b283ee" stroke-width="0.5"/>
<path d="M68.9,753.3C69.97,753 73.17,752.3 75.31,751.51C77.44,750.73 79.58,749.91 81.71,748.59C83.85,747.27 85.99,745.39 88.12,743.6C90.26,741.81 92.4,739.91 94.53,737.85C96.67,735.8 98.8,733.52 100.94,731.26C103.08,729 105.21,726.82 107.35,724.29C109.48,721.76 111.62,718.98 113.76,716.09C115.89,713.2 118.03,709.92 120.17,706.96C122.3,703.99 124.44,700.99 126.57,698.29C128.71,695.59 130.85,693.03 132.98,690.75C135.12,688.48 137.25,686.56 139.39,684.63C141.53,682.7 143.66,680.74 145.8,679.17C147.94,677.6 150.07,676.45 152.21,675.21C154.34,673.97 156.48,672.84 158.62,671.73C160.75,670.61 162.89,669.51 165.02,668.52C167.16,667.53 169.3,666.59 171.43,665.79C173.57,664.99 175.71,664.3 177.84,663.72C179.98,663.14 182.11,662.65 184.25,662.31C186.39,661.96 188.52,661.77 190.66,661.65C192.79,661.53 194.93,661.52 197.07,661.58C199.2,661.64 201.34,661.75 203.48,662.02C205.61,662.28 207.75,662.67 209.88,663.17C212.02,663.67 214.16,664.3 216.29,665.03C218.43,665.76 220.56,666.62 222.7,667.55C224.84,668.48 226.97,669.54 229.11,670.62C231.25,671.69 233.38,672.82 235.52,674.01C237.65,675.19 239.79,676.29 241.93,677.74C244.06,679.18 246.2,680.89 248.33,682.7C250.47,684.51 252.61,686.44 254.74,688.59C256.88,690.75 259.02,693.08 261.15,695.64C263.29,698.21 265.42,701.08 267.56,703.99C269.7,706.9 271.83,710.15 273.97,713.1C276.1,716.05 278.24,719.04 280.38,721.69C282.51,724.34 284.65,726.66 286.79,729.01C288.92,731.35 292.13,734.61 293.19,735.74" fill="none" stroke="#cfa030" stroke-width="0.9" stroke-linejoin="round"/>
<path d="M68.9,750L69.77,752.1L72.04,752.28L70.31,753.76L70.84,755.97L68.9,754.79L66.96,755.97L67.49,753.76L65.76,752.28L68.02,752.1Z" fill="#8a3888" stroke="#cfa030" stroke-width="0.5"/><path d="M75.31,748.21L76.18,750.31L78.44,750.49L76.72,751.97L77.25,754.18L75.31,753L73.37,754.18L73.89,751.97L72.17,750.49L74.43,750.31Z" fill="#8a3888" stroke="#cfa030" stroke-width="0.5"/><path d="M81.71,745.29L82.59,747.39L84.85,747.57L83.13,749.05L83.65,751.26L81.71,750.08L79.77,751.26L80.3,749.05L78.58,747.57L80.84,747.39Z" fill="#8a3888" stroke="#cfa030" stroke-width="0.5"/><path d="M88.12,740.3L89,742.4L91.26,742.58L89.54,744.06L90.06,746.27L88.12,745.08L86.18,746.27L86.71,744.06L84.98,742.58L87.25,742.4Z" fill="#8a3888" stroke="#cfa030" stroke-width="0.5"/><path d="M94.53,734.55L95.4,736.65L97.67,736.83L95.94,738.31L96.47,740.52L94.53,739.34L92.59,740.52L93.12,738.31L91.39,736.83L93.66,736.65Z" fill="#8a3888" stroke="#cfa030" stroke-width="0.5"/><path d="M100.94,727.96L101.81,730.06L104.08,730.24L102.35,731.72L102.88,733.93L100.94,732.74L99,733.93L99.53,731.72L97.8,730.24L100.07,730.06Z" fill="#8a3888" stroke="#cfa030" stroke-width="0.5"/><path d="M107.35,720.99L108.22,723.09L110.49,723.27L108.76,724.75L109.29,726.96L107.35,725.77L105.41,726.96L105.94,724.75L104.21,723.27L106.48,723.09Z" fill="#8a3888" stroke="#cfa030" stroke-width="0.5"/><path d="M113.76,712.79L114.63,714.89L116.9,715.07L115.17,716.55L115.7,718.76L113.76,717.58L111.82,718.76L112.34,716.55L110.62,715.07L112.88,714.89Z" fill="#8a3888" stroke="#cfa030" stroke-width="0.5"/><path d="M120.17,703.66L121.04,705.75L123.3,705.94L121.58,707.41L122.11,709.63L120.17,708.44L118.23,709.63L118.75,707.41L117.03,705.94L119.29,705.75Z" fill="#8a3888" stroke="#cfa030" stroke-width="0.5"/><path d="M126.57,694.99L127.45,697.09L129.71,697.27L127.99,698.75L128.51,700.96L126.57,699.77L124.63,700.96L125.16,698.75L123.44,697.27L125.7,697.09Z" fill="#8a3888" stroke="#cfa030" stroke-width="0.5"/><path d="M132.98,687.45L133.86,689.55L136.12,689.73L134.39,691.21L134.92,693.42L132.98,692.24L131.04,693.42L131.57,691.21L129.84,689.73L132.11,689.55Z" fill="#8a3888" stroke="#cfa030" stroke-width="0.5"/><path d="M139.39,681.33L140.26,683.43L142.53,683.61L140.8,685.09L141.33,687.3L139.39,686.12L137.45,687.3L137.98,685.09L136.25,683.61L138.52,683.43Z" fill="#8a3888" stroke="#cfa030" stroke-width="0.5"/><path d="M145.8,675.87L146.67,677.97L148.94,678.15L147.21,679.63L147.74,681.84L145.8,680.65L143.86,681.84L144.39,679.63L142.66,678.15L144.93,677.97Z" fill="#8a3888" stroke="#cfa030" stroke-width="0.5"/><path d="M152.21,671.91L153.08,674.01L155.35,674.19L153.62,675.67L154.15,677.88L152.21,676.7L150.27,677.88L150.8,675.67L149.07,674.19L151.33,674.01Z" fill="#8a3888" stroke="#cfa030" stroke-width="0.5"/><path d="M158.62,668.43L159.49,670.52L161.75,670.71L160.03,672.18L160.56,674.4L158.62,673.21L156.68,674.4L157.2,672.18L155.48,670.71L157.74,670.52Z" fill="#8a3888" stroke="#cfa030" stroke-width="0.5"/><path d="M165.02,665.22L165.9,667.32L168.16,667.5L166.44,668.98L166.96,671.19L165.02,670.01L163.08,671.19L163.61,668.98L161.89,667.5L164.15,667.32Z" fill="#8a3888" stroke="#cfa030" stroke-width="0.5"/><path d="M171.43,662.49L172.31,664.59L174.57,664.77L172.85,666.25L173.37,668.46L171.43,667.28L169.49,668.46L170.02,666.25L168.29,664.77L170.56,664.59Z" fill="#8a3888" stroke="#cfa030" stroke-width="0.5"/><path d="M177.84,660.42L178.71,662.52L180.98,662.7L179.25,664.18L179.78,666.39L177.84,665.2L175.9,666.39L176.43,664.18L174.7,662.7L176.97,662.52Z" fill="#8a3888" stroke="#cfa030" stroke-width="0.5"/><path d="M184.25,659.01L185.12,661.1L187.39,661.29L185.66,662.76L186.19,664.98L184.25,663.79L182.31,664.98L182.84,662.76L181.11,661.29L183.38,661.1Z" fill="#8a3888" stroke="#cfa030" stroke-width="0.5"/><path d="M190.66,658.35L191.53,660.45L193.8,660.63L192.07,662.11L192.6,664.32L190.66,663.13L188.72,664.32L189.25,662.11L187.52,660.63L189.79,660.45Z" fill="#8a3888" stroke="#cfa030" stroke-width="0.5"/><path d="M197.07,658.28L197.94,660.38L200.21,660.56L198.48,662.04L199.01,664.25L197.07,663.07L195.13,664.25L195.65,662.04L193.93,660.56L196.19,660.38Z" fill="#8a3888" stroke="#cfa030" stroke-width="0.5"/><path d="M203.48,658.72L204.35,660.82L206.61,661L204.89,662.48L205.42,664.69L203.48,663.5L201.54,664.69L202.06,662.48L200.34,661L202.6,660.82Z" fill="#8a3888" stroke="#cfa030" stroke-width="0.5"/><path d="M209.88,659.87L210.76,661.97L213.02,662.15L211.3,663.63L211.82,665.84L209.88,664.66L207.94,665.84L208.47,663.63L206.75,662.15L209.01,661.97Z" fill="#8a3888" stroke="#cfa030" stroke-width="0.5"/><path d="M216.29,661.73L217.17,663.83L219.43,664.01L217.7,665.49L218.23,667.7L216.29,666.51L214.35,667.7L214.88,665.49L213.15,664.01L215.42,663.83Z" fill="#8a3888" stroke="#cfa030" stroke-width="0.5"/><path d="M222.7,664.25L223.57,666.35L225.84,666.53L224.11,668.01L224.64,670.22L222.7,669.04L220.76,670.22L221.29,668.01L219.56,666.53L221.83,666.35Z" fill="#8a3888" stroke="#cfa030" stroke-width="0.5"/><path d="M229.11,667.32L229.98,669.42L232.25,669.6L230.52,671.08L231.05,673.29L229.11,672.1L227.17,673.29L227.7,671.08L225.97,669.6L228.24,669.42Z" fill="#8a3888" stroke="#cfa030" stroke-width="0.5"/><path d="M235.52,670.71L236.39,672.8L238.66,672.99L236.93,674.46L237.46,676.68L235.52,675.49L233.58,676.68L234.11,674.46L232.38,672.99L234.64,672.8Z" fill="#8a3888" stroke="#cfa030" stroke-width="0.5"/><path d="M241.93,674.44L242.8,676.53L245.06,676.72L243.34,678.2L243.87,680.41L241.93,679.22L239.99,680.41L240.51,678.2L238.79,676.72L241.05,676.53Z" fill="#8a3888" stroke="#cfa030" stroke-width="0.5"/><path d="M248.33,679.4L249.21,681.5L251.47,681.68L249.75,683.16L250.27,685.37L248.33,684.18L246.39,685.37L246.92,683.16L245.2,681.68L247.46,681.5Z" fill="#8a3888" stroke="#cfa030" stroke-width="0.5"/><path d="M254.74,685.29L255.62,687.39L257.88,687.57L256.16,689.05L256.68,691.26L254.74,690.08L252.8,691.26L253.33,689.05L251.6,687.57L253.87,687.39Z" fill="#8a3888" stroke="#cfa030" stroke-width="0.5"/><path d="M261.15,692.34L262.02,694.44L264.29,694.62L262.56,696.1L263.09,698.31L261.15,697.13L259.21,698.31L259.74,696.1L258.01,694.62L260.28,694.44Z" fill="#8a3888" stroke="#cfa030" stroke-width="0.5"/><path d="M267.56,700.69L268.43,702.79L270.7,702.97L268.97,704.45L269.5,706.66L267.56,705.47L265.62,706.66L266.15,704.45L264.42,702.97L266.69,702.79Z" fill="#8a3888" stroke="#cfa030" stroke-width="0.5"/><path d="M273.97,709.8L274.84,711.9L277.11,712.08L275.38,713.56L275.91,715.77L273.97,714.59L272.03,715.77L272.56,713.56L270.83,712.08L273.1,711.9Z" fill="#8a3888" stroke="#cfa030" stroke-width="0.5"/><path d="M280.38,718.39L281.25,720.49L283.52,720.67L281.79,722.15L282.32,724.36L280.38,723.17L278.44,724.36L278.96,722.15L277.24,720.67L279.5,720.49Z" fill="#8a3888" stroke="#cfa030" stroke-width="0.5"/><path d="M286.79,725.71L287.66,727.8L289.92,727.99L288.2,729.46L288.73,731.68L286.79,730.49L284.85,731.68L285.37,729.46L283.65,727.99L285.91,727.8Z" fill="#8a3888" stroke="#cfa030" stroke-width="0.5"/><path d="M293.19,732.44L294.07,734.53L296.33,734.72L294.61,736.19L295.13,738.4L293.19,737.22L291.25,738.4L291.78,736.19L290.06,734.72L292.32,734.53Z" fill="#8a3888" stroke="#cfa030" stroke-width="0.5"/>
<line x1="48" y1="651" x2="65.4" y2="651" stroke="#484848" stroke-width="1.0"/>
<path d="M56.6,648.1L57.37,649.94L59.36,650.1L57.84,651.4L58.3,653.35L56.6,652.3L54.9,653.35L55.36,651.4L53.84,650.1L55.83,649.94Z" fill="#5a2aa0" stroke="#484848" stroke-width="0.5"/>
<text x="67.3" y="653.48" font-size="7.3">Disp-Z of CMTC</text>
<line x1="48" y1="660.2" x2="65.4" y2="660.2" stroke="#f0506a" stroke-width="1.0"/>
<path d="M56.6,657.3L57.37,659.14L59.36,659.3L57.84,660.6L58.3,662.55L56.6,661.5L54.9,662.55L55.36,660.6L53.84,659.3L55.83,659.14Z" fill="#b428b8" stroke="#f0506a" stroke-width="0.5"/>
<text x="67.3" y="662.68" font-size="7.3">Disp-1 of CMTC</text>
<line x1="48" y1="669.4" x2="65.4" y2="669.4" stroke="#1c6fe8" stroke-width="1.0"/>
<path d="M56.6,666.5L57.37,668.34L59.36,668.5L57.84,669.8L58.3,671.75L56.6,670.7L54.9,671.75L55.36,669.8L53.84,668.5L55.83,668.34Z" fill="#4a2cf0" stroke="#1c6fe8" stroke-width="0.5"/>
<text x="67.3" y="671.88" font-size="7.3">Disp-Z of LMHT</text>
<line x1="48" y1="678.6" x2="65.4" y2="678.6" stroke="#2aaa70" stroke-width="1.0"/>
<path d="M56.6,675.7L57.37,677.54L59.36,677.7L57.84,679L58.3,680.95L56.6,679.9L54.9,680.95L55.36,679L53.84,677.7L55.83,677.54Z" fill="#4a44b0" stroke="#2aaa70" stroke-width="0.5"/>
<text x="67.3" y="681.08" font-size="7.3">Disp-1 of LMHT</text>
<line x1="48" y1="687.8" x2="65.4" y2="687.8" stroke="#b283ee" stroke-width="1.0"/>
<path d="M56.6,684.9L57.37,686.74L59.36,686.9L57.84,688.2L58.3,690.15L56.6,689.1L54.9,690.15L55.36,688.2L53.84,686.9L55.83,686.74Z" fill="#8c34f0" stroke="#b283ee" stroke-width="0.5"/>
<text x="67.3" y="690.28" font-size="7.3">Disp-Z of LCMTC</text>
<line x1="48" y1="697" x2="65.4" y2="697" stroke="#cfa030" stroke-width="1.0"/>
<path d="M56.6,694.1L57.37,695.94L59.36,696.1L57.84,697.4L58.3,699.35L56.6,698.3L54.9,699.35L55.36,697.4L53.84,696.1L55.83,695.94Z" fill="#8a3888" stroke="#cfa030" stroke-width="0.5"/>
<text x="67.3" y="699.48" font-size="7.3">Disp-1 of LCMTC</text>
<text x="184.1" y="878.4" font-size="11.7" text-anchor="middle" >Advance rate of Working face(m)</text>
<text transform="translate(10.6,755.1) rotate(-90)" font-size="11.7" text-anchor="middle">Monitoring layout of Key strata(m)</text>
<text x="33.2" y="923.1" font-size="17.3" textLength="253.6" lengthAdjust="spacingAndGlyphs" fill="#000">Key roof displacement comparison</text>
<line x1="423.13" y1="632.3" x2="423.13" y2="861.8" stroke="#e4e4e4" stroke-width="0.8" stroke-dasharray="1 1.6"/>
<line x1="466.96" y1="632.3" x2="466.96" y2="861.8" stroke="#e4e4e4" stroke-width="0.8" stroke-dasharray="1 1.6"/>
<line x1="510.79" y1="632.3" x2="510.79" y2="861.8" stroke="#e4e4e4" stroke-width="0.8" stroke-dasharray="1 1.6"/>
<line x1="554.62" y1="632.3" x2="554.62" y2="861.8" stroke="#e4e4e4" stroke-width="0.8" stroke-dasharray="1 1.6"/>
<line x1="598.45" y1="632.3" x2="598.45" y2="861.8" stroke="#e4e4e4" stroke-width="0.8" stroke-dasharray="1 1.6"/>
<line x1="642.28" y1="632.3" x2="642.28" y2="861.8" stroke="#e4e4e4" stroke-width="0.8" stroke-dasharray="1 1.6"/>
<line x1="379.3" y1="834.8" x2="664.2" y2="834.8" stroke="#e4e4e4" stroke-width="0.8" stroke-dasharray="1 1.6"/>
<line x1="379.3" y1="807.8" x2="664.2" y2="807.8" stroke="#e4e4e4" stroke-width="0.8" stroke-dasharray="1 1.6"/>
<line x1="379.3" y1="780.8" x2="664.2" y2="780.8" stroke="#e4e4e4" stroke-width="0.8" stroke-dasharray="1 1.6"/>
<line x1="379.3" y1="753.8" x2="664.2" y2="753.8" stroke="#e4e4e4" stroke-width="0.8" stroke-dasharray="1 1.6"/>
<line x1="379.3" y1="726.8" x2="664.2" y2="726.8" stroke="#e4e4e4" stroke-width="0.8" stroke-dasharray="1 1.6"/>
<line x1="379.3" y1="699.8" x2="664.2" y2="699.8" stroke="#e4e4e4" stroke-width="0.8" stroke-dasharray="1 1.6"/>
<line x1="379.3" y1="672.8" x2="664.2" y2="672.8" stroke="#e4e4e4" stroke-width="0.8" stroke-dasharray="1 1.6"/>
<line x1="379.3" y1="645.8" x2="664.2" y2="645.8" stroke="#e4e4e4" stroke-width="0.8" stroke-dasharray="1 1.6"/>
<line x1="401.22" y1="632.3" x2="401.22" y2="861.8" stroke="#dcdcdc" stroke-width="1.05"/>
<line x1="445.05" y1="632.3" x2="445.05" y2="861.8" stroke="#dcdcdc" stroke-width="1.05"/>
<line x1="488.88" y1="632.3" x2="488.88" y2="861.8" stroke="#dcdcdc" stroke-width="1.05"/>
<line x1="532.71" y1="632.3" x2="532.71" y2="861.8" stroke="#dcdcdc" stroke-width="1.05"/>
<line x1="576.54" y1="632.3" x2="576.54" y2="861.8" stroke="#dcdcdc" stroke-width="1.05"/>
<line x1="620.37" y1="632.3" x2="620.37" y2="861.8" stroke="#dcdcdc" stroke-width="1.05"/>
<line x1="379.3" y1="848.3" x2="664.2" y2="848.3" stroke="#dcdcdc" stroke-width="1.05"/>
<line x1="379.3" y1="821.3" x2="664.2" y2="821.3" stroke="#dcdcdc" stroke-width="1.05"/>
<line x1="379.3" y1="794.3" x2="664.2" y2="794.3" stroke="#dcdcdc" stroke-width="1.05"/>
<line x1="379.3" y1="767.3" x2="664.2" y2="767.3" stroke="#dcdcdc" stroke-width="1.05"/>
<line x1="379.3" y1="740.3" x2="664.2" y2="740.3" stroke="#dcdcdc" stroke-width="1.05"/>
<line x1="379.3" y1="713.3" x2="664.2" y2="713.3" stroke="#dcdcdc" stroke-width="1.05"/>
<line x1="379.3" y1="686.3" x2="664.2" y2="686.3" stroke="#dcdcdc" stroke-width="1.05"/>
<line x1="379.3" y1="659.3" x2="664.2" y2="659.3" stroke="#dcdcdc" stroke-width="1.05"/>
<rect x="379.3" y="632.3" width="284.9" height="229.5" fill="none" stroke="#333333" stroke-width="1.1"/>
<path d="M375.1,848.3H379.3M375.1,821.3H379.3M375.1,794.3H379.3M375.1,767.3H379.3M375.1,740.3H379.3M375.1,713.3H379.3M375.1,686.3H379.3M375.1,659.3H379.3M375.1,632.3H379.3M376.9,861.8H379.3M376.9,834.8H379.3M376.9,807.8H379.3M376.9,780.8H379.3M376.9,753.8H379.3M376.9,726.8H379.3M376.9,699.8H379.3M376.9,672.8H379.3M376.9,645.8H379.3" stroke="#333333" stroke-width="1"/>
<text x="371.6" y="852.02" font-size="9.3" text-anchor="end">−25</text>
<text x="371.6" y="825.02" font-size="9.3" text-anchor="end">−20</text>
<text x="371.6" y="798.02" font-size="9.3" text-anchor="end">−15</text>
<text x="371.6" y="771.02" font-size="9.3" text-anchor="end">−10</text>
<text x="371.6" y="744.02" font-size="9.3" text-anchor="end">−5</text>
<text x="371.6" y="717.02" font-size="9.3" text-anchor="end">0</text>
<text x="371.6" y="690.02" font-size="9.3" text-anchor="end">5</text>
<text x="371.6" y="663.02" font-size="9.3" text-anchor="end">10</text>
<text x="371.6" y="636.02" font-size="9.3" text-anchor="end">15</text>
<path d="M401.22,861.8V865.2M445.05,861.8V865.2M488.88,861.8V865.2M532.71,861.8V865.2M576.54,861.8V865.2M620.37,861.8V865.2M379.3,861.8V863.8M423.13,861.8V863.8M466.96,861.8V863.8M510.79,861.8V863.8M554.62,861.8V863.8M598.45,861.8V863.8M642.28,861.8V863.8" stroke="#333333" stroke-width="1"/>
<path d="M379.3,631.5 L375.9,637.7 L382.7,637.7Z" fill="#111"/>
<path d="M664.8,861.8 L658.6,858.8 L658.6,864.8Z" fill="#111"/>
<text x="401.22" y="877.6" font-size="9.4" text-anchor="middle">0</text>
<text x="445.05" y="877.6" font-size="9.4" text-anchor="middle">100</text>
<text x="488.88" y="877.6" font-size="9.4" text-anchor="middle">200</text>
<text x="532.71" y="877.6" font-size="9.4" text-anchor="middle">300</text>
<text x="576.54" y="877.6" font-size="9.4" text-anchor="middle">400</text>
<text x="620.37" y="877.6" font-size="9.4" text-anchor="middle">500</text>
<text x="664.2" y="877.6" font-size="9.4" text-anchor="middle">600</text>
<path d="M403.41,819.14C404.5,819.32 407.79,821.21 409.98,820.22C412.17,819.23 414.36,817.79 416.56,813.2C418.75,808.61 420.94,802.49 423.13,792.68C425.32,782.87 427.51,762.53 429.71,754.34C431.9,746.15 434.09,739.67 436.28,743.54C438.47,747.41 440.66,773.06 442.85,777.56C445.05,782.06 447.24,772.52 449.43,770.54C451.62,768.56 453.81,767.12 456,765.68C458.2,764.24 460.39,762.44 462.58,761.9C464.77,761.36 466.96,762.44 469.15,762.44C471.34,762.44 473.54,762.62 475.73,761.9C477.92,761.18 480.11,759.29 482.3,758.12C484.49,756.95 486.69,756.05 488.88,754.88C491.07,753.71 493.26,751.73 495.45,751.1C497.64,750.47 499.83,750.92 502.03,751.1C504.22,751.28 506.41,751.82 508.6,752.18C510.79,752.54 512.98,752.99 515.18,753.26C517.37,753.53 519.56,753.44 521.75,753.8C523.94,754.16 526.13,755.15 528.32,755.42C530.52,755.69 532.71,755.51 534.9,755.42C537.09,755.33 539.28,755.15 541.47,754.88C543.67,754.61 545.86,754.16 548.05,753.8C550.24,753.44 552.43,753.17 554.62,752.72C556.81,752.27 559.01,751.37 561.2,751.1C563.39,750.83 565.58,750.92 567.77,751.1C569.96,751.28 572.16,751.46 574.35,752.18C576.54,752.9 578.73,754.25 580.92,755.42C583.11,756.59 585.3,758.12 587.5,759.2C589.69,760.28 591.88,761.81 594.07,761.9C596.26,761.99 598.45,759.47 600.65,759.74C602.84,760.01 605.03,762.08 607.22,763.52C609.41,764.96 611.6,767.21 613.79,768.38C615.99,769.55 618.18,757.67 620.37,770.54C622.56,783.41 624.75,849.29 626.94,845.6C629.14,841.91 632.42,764.6 633.52,748.4" fill="none" stroke="#454545" stroke-width="0.9" stroke-linejoin="round"/>
<rect x="401.01" y="816.74" width="4.8" height="2.4" fill="#454545"/><rect x="401.01" y="819.14" width="4.8" height="2.4" fill="#40e040"/><rect x="407.58" y="817.82" width="4.8" height="2.4" fill="#454545"/><rect x="407.58" y="820.22" width="4.8" height="2.4" fill="#40e040"/><rect x="414.16" y="810.8" width="4.8" height="2.4" fill="#454545"/><rect x="414.16" y="813.2" width="4.8" height="2.4" fill="#40e040"/><rect x="420.73" y="790.28" width="4.8" height="2.4" fill="#454545"/><rect x="420.73" y="792.68" width="4.8" height="2.4" fill="#40e040"/><rect x="427.31" y="751.94" width="4.8" height="2.4" fill="#454545"/><rect x="427.31" y="754.34" width="4.8" height="2.4" fill="#40e040"/><rect x="433.88" y="741.14" width="4.8" height="2.4" fill="#454545"/><rect x="433.88" y="743.54" width="4.8" height="2.4" fill="#40e040"/><rect x="440.45" y="775.16" width="4.8" height="2.4" fill="#454545"/><rect x="440.45" y="777.56" width="4.8" height="2.4" fill="#40e040"/><rect x="447.03" y="768.14" width="4.8" height="2.4" fill="#454545"/><rect x="447.03" y="770.54" width="4.8" height="2.4" fill="#40e040"/><rect x="453.6" y="763.28" width="4.8" height="2.4" fill="#454545"/><rect x="453.6" y="765.68" width="4.8" height="2.4" fill="#40e040"/><rect x="460.18" y="759.5" width="4.8" height="2.4" fill="#454545"/><rect x="460.18" y="761.9" width="4.8" height="2.4" fill="#40e040"/><rect x="466.75" y="760.04" width="4.8" height="2.4" fill="#454545"/><rect x="466.75" y="762.44" width="4.8" height="2.4" fill="#40e040"/><rect x="473.33" y="759.5" width="4.8" height="2.4" fill="#454545"/><rect x="473.33" y="761.9" width="4.8" height="2.4" fill="#40e040"/><rect x="479.9" y="755.72" width="4.8" height="2.4" fill="#454545"/><rect x="479.9" y="758.12" width="4.8" height="2.4" fill="#40e040"/><rect x="486.48" y="752.48" width="4.8" height="2.4" fill="#454545"/><rect x="486.48" y="754.88" width="4.8" height="2.4" fill="#40e040"/><rect x="493.05" y="748.7" width="4.8" height="2.4" fill="#454545"/><rect x="493.05" y="751.1" width="4.8" height="2.4" fill="#40e040"/><rect x="499.63" y="748.7" width="4.8" height="2.4" fill="#454545"/><rect x="499.63" y="751.1" width="4.8" height="2.4" fill="#40e040"/><rect x="506.2" y="749.78" width="4.8" height="2.4" fill="#454545"/><rect x="506.2" y="752.18" width="4.8" height="2.4" fill="#40e040"/><rect x="512.78" y="750.86" width="4.8" height="2.4" fill="#454545"/><rect x="512.78" y="753.26" width="4.8" height="2.4" fill="#40e040"/><rect x="519.35" y="751.4" width="4.8" height="2.4" fill="#454545"/><rect x="519.35" y="753.8" width="4.8" height="2.4" fill="#40e040"/><rect x="525.92" y="753.02" width="4.8" height="2.4" fill="#454545"/><rect x="525.92" y="755.42" width="4.8" height="2.4" fill="#40e040"/><rect x="532.5" y="753.02" width="4.8" height="2.4" fill="#454545"/><rect x="532.5" y="755.42" width="4.8" height="2.4" fill="#40e040"/><rect x="539.07" y="752.48" width="4.8" height="2.4" fill="#454545"/><rect x="539.07" y="754.88" width="4.8" height="2.4" fill="#40e040"/><rect x="545.65" y="751.4" width="4.8" height="2.4" fill="#454545"/><rect x="545.65" y="753.8" width="4.8" height="2.4" fill="#40e040"/><rect x="552.22" y="750.32" width="4.8" height="2.4" fill="#454545"/><rect x="552.22" y="752.72" width="4.8" height="2.4" fill="#40e040"/><rect x="558.8" y="748.7" width="4.8" height="2.4" fill="#454545"/><rect x="558.8" y="751.1" width="4.8" height="2.4" fill="#40e040"/><rect x="565.37" y="748.7" width="4.8" height="2.4" fill="#454545"/><rect x="565.37" y="751.1" width="4.8" height="2.4" fill="#40e040"/><rect x="571.95" y="749.78" width="4.8" height="2.4" fill="#454545"/><rect x="571.95" y="752.18" width="4.8" height="2.4" fill="#40e040"/><rect x="578.52" y="753.02" width="4.8" height="2.4" fill="#454545"/><rect x="578.52" y="755.42" width="4.8" height="2.4" fill="#40e040"/><rect x="585.1" y="756.8" width="4.8" height="2.4" fill="#454545"/><rect x="585.1" y="759.2" width="4.8" height="2.4" fill="#40e040"/><rect x="591.67" y="759.5" width="4.8" height="2.4" fill="#454545"/><rect x="591.67" y="761.9" width="4.8" height="2.4" fill="#40e040"/><rect x="598.25" y="757.34" width="4.8" height="2.4" fill="#454545"/><rect x="598.25" y="759.74" width="4.8" height="2.4" fill="#40e040"/><rect x="604.82" y="761.12" width="4.8" height="2.4" fill="#454545"/><rect x="604.82" y="763.52" width="4.8" height="2.4" fill="#40e040"/><rect x="611.39" y="765.98" width="4.8" height="2.4" fill="#454545"/><rect x="611.39" y="768.38" width="4.8" height="2.4" fill="#40e040"/><rect x="617.97" y="768.14" width="4.8" height="2.4" fill="#454545"/><rect x="617.97" y="770.54" width="4.8" height="2.4" fill="#40e040"/><rect x="624.54" y="843.2" width="4.8" height="2.4" fill="#454545"/><rect x="624.54" y="845.6" width="4.8" height="2.4" fill="#40e040"/><rect x="631.12" y="746" width="4.8" height="2.4" fill="#454545"/><rect x="631.12" y="748.4" width="4.8" height="2.4" fill="#40e040"/>
<path d="M403.41,784.04C404.5,782.96 407.79,772.88 409.98,777.56C412.17,782.24 414.36,813.83 416.56,812.12C418.75,810.41 420.94,777.11 423.13,767.3C425.32,757.49 427.51,760.46 429.71,753.26C431.9,746.06 434.09,721.4 436.28,724.1C438.47,726.8 440.66,764.42 442.85,769.46C445.05,774.5 447.24,756.41 449.43,754.34C451.62,752.27 453.81,756.23 456,757.04C458.2,757.85 460.39,759.11 462.58,759.2C464.77,759.29 466.96,758.57 469.15,757.58C471.34,756.59 473.54,754.88 475.73,753.26C477.92,751.64 480.11,749.3 482.3,747.86C484.49,746.42 486.69,745.16 488.88,744.62C491.07,744.08 493.26,744.35 495.45,744.62C497.64,744.89 499.83,745.61 502.03,746.24C504.22,746.87 506.41,747.86 508.6,748.4C510.79,748.94 512.98,749.3 515.18,749.48C517.37,749.66 519.56,749.21 521.75,749.48C523.94,749.75 526.13,750.83 528.32,751.1C530.52,751.37 532.71,751.28 534.9,751.1C537.09,750.92 539.28,750.47 541.47,750.02C543.67,749.57 545.86,749.12 548.05,748.4C550.24,747.68 552.43,746.33 554.62,745.7C556.81,745.07 559.01,744.98 561.2,744.62C563.39,744.26 565.58,743.36 567.77,743.54C569.96,743.72 572.16,744.44 574.35,745.7C576.54,746.96 578.73,749.3 580.92,751.1C583.11,752.9 585.3,755.15 587.5,756.5C589.69,757.85 591.88,759.02 594.07,759.2C596.26,759.38 598.45,758.39 600.65,757.58C602.84,756.77 605.03,753.89 607.22,754.34C609.41,754.79 611.6,758.3 613.79,760.28C615.99,762.26 618.18,758.57 620.37,766.22C622.56,773.87 624.75,801.5 626.94,806.18C629.14,810.86 632.42,796.28 633.52,794.3" fill="none" stroke="#1c6fe8" stroke-width="0.9" stroke-linejoin="round"/>
<rect x="401.01" y="781.64" width="4.8" height="2.4" fill="#1c6fe8"/><rect x="401.01" y="784.04" width="4.8" height="2.4" fill="#40e040"/><rect x="407.58" y="775.16" width="4.8" height="2.4" fill="#1c6fe8"/><rect x="407.58" y="777.56" width="4.8" height="2.4" fill="#40e040"/><rect x="414.16" y="809.72" width="4.8" height="2.4" fill="#1c6fe8"/><rect x="414.16" y="812.12" width="4.8" height="2.4" fill="#40e040"/><rect x="420.73" y="764.9" width="4.8" height="2.4" fill="#1c6fe8"/><rect x="420.73" y="767.3" width="4.8" height="2.4" fill="#40e040"/><rect x="427.31" y="750.86" width="4.8" height="2.4" fill="#1c6fe8"/><rect x="427.31" y="753.26" width="4.8" height="2.4" fill="#40e040"/><rect x="433.88" y="721.7" width="4.8" height="2.4" fill="#1c6fe8"/><rect x="433.88" y="724.1" width="4.8" height="2.4" fill="#40e040"/><rect x="440.45" y="767.06" width="4.8" height="2.4" fill="#1c6fe8"/><rect x="440.45" y="769.46" width="4.8" height="2.4" fill="#40e040"/><rect x="447.03" y="751.94" width="4.8" height="2.4" fill="#1c6fe8"/><rect x="447.03" y="754.34" width="4.8" height="2.4" fill="#40e040"/><rect x="453.6" y="754.64" width="4.8" height="2.4" fill="#1c6fe8"/><rect x="453.6" y="757.04" width="4.8" height="2.4" fill="#40e040"/><rect x="460.18" y="756.8" width="4.8" height="2.4" fill="#1c6fe8"/><rect x="460.18" y="759.2" width="4.8" height="2.4" fill="#40e040"/><rect x="466.75" y="755.18" width="4.8" height="2.4" fill="#1c6fe8"/><rect x="466.75" y="757.58" width="4.8" height="2.4" fill="#40e040"/><rect x="473.33" y="750.86" width="4.8" height="2.4" fill="#1c6fe8"/><rect x="473.33" y="753.26" width="4.8" height="2.4" fill="#40e040"/><rect x="479.9" y="745.46" width="4.8" height="2.4" fill="#1c6fe8"/><rect x="479.9" y="747.86" width="4.8" height="2.4" fill="#40e040"/><rect x="486.48" y="742.22" width="4.8" height="2.4" fill="#1c6fe8"/><rect x="486.48" y="744.62" width="4.8" height="2.4" fill="#40e040"/><rect x="493.05" y="742.22" width="4.8" height="2.4" fill="#1c6fe8"/><rect x="493.05" y="744.62" width="4.8" height="2.4" fill="#40e040"/><rect x="499.63" y="743.84" width="4.8" height="2.4" fill="#1c6fe8"/><rect x="499.63" y="746.24" width="4.8" height="2.4" fill="#40e040"/><rect x="506.2" y="746" width="4.8" height="2.4" fill="#1c6fe8"/><rect x="506.2" y="748.4" width="4.8" height="2.4" fill="#40e040"/><rect x="512.78" y="747.08" width="4.8" height="2.4" fill="#1c6fe8"/><rect x="512.78" y="749.48" width="4.8" height="2.4" fill="#40e040"/><rect x="519.35" y="747.08" width="4.8" height="2.4" fill="#1c6fe8"/><rect x="519.35" y="749.48" width="4.8" height="2.4" fill="#40e040"/><rect x="525.92" y="748.7" width="4.8" height="2.4" fill="#1c6fe8"/><rect x="525.92" y="751.1" width="4.8" height="2.4" fill="#40e040"/><rect x="532.5" y="748.7" width="4.8" height="2.4" fill="#1c6fe8"/><rect x="532.5" y="751.1" width="4.8" height="2.4" fill="#40e040"/><rect x="539.07" y="747.62" width="4.8" height="2.4" fill="#1c6fe8"/><rect x="539.07" y="750.02" width="4.8" height="2.4" fill="#40e040"/><rect x="545.65" y="746" width="4.8" height="2.4" fill="#1c6fe8"/><rect x="545.65" y="748.4" width="4.8" height="2.4" fill="#40e040"/><rect x="552.22" y="743.3" width="4.8" height="2.4" fill="#1c6fe8"/><rect x="552.22" y="745.7" width="4.8" height="2.4" fill="#40e040"/><rect x="558.8" y="742.22" width="4.8" height="2.4" fill="#1c6fe8"/><rect x="558.8" y="744.62" width="4.8" height="2.4" fill="#40e040"/><rect x="565.37" y="741.14" width="4.8" height="2.4" fill="#1c6fe8"/><rect x="565.37" y="743.54" width="4.8" height="2.4" fill="#40e040"/><rect x="571.95" y="743.3" width="4.8" height="2.4" fill="#1c6fe8"/><rect x="571.95" y="745.7" width="4.8" height="2.4" fill="#40e040"/><rect x="578.52" y="748.7" width="4.8" height="2.4" fill="#1c6fe8"/><rect x="578.52" y="751.1" width="4.8" height="2.4" fill="#40e040"/><rect x="585.1" y="754.1" width="4.8" height="2.4" fill="#1c6fe8"/><rect x="585.1" y="756.5" width="4.8" height="2.4" fill="#40e040"/><rect x="591.67" y="756.8" width="4.8" height="2.4" fill="#1c6fe8"/><rect x="591.67" y="759.2" width="4.8" height="2.4" fill="#40e040"/><rect x="598.25" y="755.18" width="4.8" height="2.4" fill="#1c6fe8"/><rect x="598.25" y="757.58" width="4.8" height="2.4" fill="#40e040"/><rect x="604.82" y="751.94" width="4.8" height="2.4" fill="#1c6fe8"/><rect x="604.82" y="754.34" width="4.8" height="2.4" fill="#40e040"/><rect x="611.39" y="757.88" width="4.8" height="2.4" fill="#1c6fe8"/><rect x="611.39" y="760.28" width="4.8" height="2.4" fill="#40e040"/><rect x="617.97" y="763.82" width="4.8" height="2.4" fill="#1c6fe8"/><rect x="617.97" y="766.22" width="4.8" height="2.4" fill="#40e040"/><rect x="624.54" y="803.78" width="4.8" height="2.4" fill="#1c6fe8"/><rect x="624.54" y="806.18" width="4.8" height="2.4" fill="#40e040"/><rect x="631.12" y="791.9" width="4.8" height="2.4" fill="#1c6fe8"/><rect x="631.12" y="794.3" width="4.8" height="2.4" fill="#40e040"/>
<path d="M403.41,787.82C404.5,786.65 407.79,784.04 409.98,780.8C412.17,777.56 414.36,771.53 416.56,768.38C418.75,765.23 420.94,765.23 423.13,761.9C425.32,758.57 427.51,750.47 429.71,748.4C431.9,746.33 434.09,746.15 436.28,749.48C438.47,752.81 440.66,765.95 442.85,768.38C445.05,770.81 447.24,765.68 449.43,764.06C451.62,762.44 453.81,759.02 456,758.66C458.2,758.3 460.39,761.27 462.58,761.9C464.77,762.53 466.96,762.71 469.15,762.44C471.34,762.17 473.54,761.63 475.73,760.28C477.92,758.93 480.11,755.69 482.3,754.34C484.49,752.99 486.69,752.63 488.88,752.18C491.07,751.73 493.26,751.55 495.45,751.64C497.64,751.73 499.83,752.36 502.03,752.72C504.22,753.08 506.41,753.44 508.6,753.8C510.79,754.16 512.98,754.43 515.18,754.88C517.37,755.33 519.56,756.05 521.75,756.5C523.94,756.95 526.13,757.4 528.32,757.58C530.52,757.76 532.71,757.85 534.9,757.58C537.09,757.31 539.28,756.41 541.47,755.96C543.67,755.51 545.86,755.33 548.05,754.88C550.24,754.43 552.43,753.89 554.62,753.26C556.81,752.63 559.01,751.55 561.2,751.1C563.39,750.65 565.58,750.38 567.77,750.56C569.96,750.74 572.16,751.19 574.35,752.18C576.54,753.17 578.73,754.97 580.92,756.5C583.11,758.03 585.3,760.19 587.5,761.36C589.69,762.53 591.88,763.52 594.07,763.52C596.26,763.52 598.45,762.53 600.65,761.36C602.84,760.19 605.03,756.5 607.22,756.5C609.41,756.5 611.6,759.56 613.79,761.36C615.99,763.16 618.18,760.01 620.37,767.3C622.56,774.59 624.75,792.68 626.94,805.1C629.14,817.52 632.42,835.7 633.52,841.82" fill="none" stroke="#b283ee" stroke-width="0.9" stroke-linejoin="round"/>
<rect x="401.01" y="785.42" width="4.8" height="2.4" fill="#b283ee"/><rect x="401.01" y="787.82" width="4.8" height="2.4" fill="#40e040"/><rect x="407.58" y="778.4" width="4.8" height="2.4" fill="#b283ee"/><rect x="407.58" y="780.8" width="4.8" height="2.4" fill="#40e040"/><rect x="414.16" y="765.98" width="4.8" height="2.4" fill="#b283ee"/><rect x="414.16" y="768.38" width="4.8" height="2.4" fill="#40e040"/><rect x="420.73" y="759.5" width="4.8" height="2.4" fill="#b283ee"/><rect x="420.73" y="761.9" width="4.8" height="2.4" fill="#40e040"/><rect x="427.31" y="746" width="4.8" height="2.4" fill="#b283ee"/><rect x="427.31" y="748.4" width="4.8" height="2.4" fill="#40e040"/><rect x="433.88" y="747.08" width="4.8" height="2.4" fill="#b283ee"/><rect x="433.88" y="749.48" width="4.8" height="2.4" fill="#40e040"/><rect x="440.45" y="765.98" width="4.8" height="2.4" fill="#b283ee"/><rect x="440.45" y="768.38" width="4.8" height="2.4" fill="#40e040"/><rect x="447.03" y="761.66" width="4.8" height="2.4" fill="#b283ee"/><rect x="447.03" y="764.06" width="4.8" height="2.4" fill="#40e040"/><rect x="453.6" y="756.26" width="4.8" height="2.4" fill="#b283ee"/><rect x="453.6" y="758.66" width="4.8" height="2.4" fill="#40e040"/><rect x="460.18" y="759.5" width="4.8" height="2.4" fill="#b283ee"/><rect x="460.18" y="761.9" width="4.8" height="2.4" fill="#40e040"/><rect x="466.75" y="760.04" width="4.8" height="2.4" fill="#b283ee"/><rect x="466.75" y="762.44" width="4.8" height="2.4" fill="#40e040"/><rect x="473.33" y="757.88" width="4.8" height="2.4" fill="#b283ee"/><rect x="473.33" y="760.28" width="4.8" height="2.4" fill="#40e040"/><rect x="479.9" y="751.94" width="4.8" height="2.4" fill="#b283ee"/><rect x="479.9" y="754.34" width="4.8" height="2.4" fill="#40e040"/><rect x="486.48" y="749.78" width="4.8" height="2.4" fill="#b283ee"/><rect x="486.48" y="752.18" width="4.8" height="2.4" fill="#40e040"/><rect x="493.05" y="749.24" width="4.8" height="2.4" fill="#b283ee"/><rect x="493.05" y="751.64" width="4.8" height="2.4" fill="#40e040"/><rect x="499.63" y="750.32" width="4.8" height="2.4" fill="#b283ee"/><rect x="499.63" y="752.72" width="4.8" height="2.4" fill="#40e040"/><rect x="506.2" y="751.4" width="4.8" height="2.4" fill="#b283ee"/><rect x="506.2" y="753.8" width="4.8" height="2.4" fill="#40e040"/><rect x="512.78" y="752.48" width="4.8" height="2.4" fill="#b283ee"/><rect x="512.78" y="754.88" width="4.8" height="2.4" fill="#40e040"/><rect x="519.35" y="754.1" width="4.8" height="2.4" fill="#b283ee"/><rect x="519.35" y="756.5" width="4.8" height="2.4" fill="#40e040"/><rect x="525.92" y="755.18" width="4.8" height="2.4" fill="#b283ee"/><rect x="525.92" y="757.58" width="4.8" height="2.4" fill="#40e040"/><rect x="532.5" y="755.18" width="4.8" height="2.4" fill="#b283ee"/><rect x="532.5" y="757.58" width="4.8" height="2.4" fill="#40e040"/><rect x="539.07" y="753.56" width="4.8" height="2.4" fill="#b283ee"/><rect x="539.07" y="755.96" width="4.8" height="2.4" fill="#40e040"/><rect x="545.65" y="752.48" width="4.8" height="2.4" fill="#b283ee"/><rect x="545.65" y="754.88" width="4.8" height="2.4" fill="#40e040"/><rect x="552.22" y="750.86" width="4.8" height="2.4" fill="#b283ee"/><rect x="552.22" y="753.26" width="4.8" height="2.4" fill="#40e040"/><rect x="558.8" y="748.7" width="4.8" height="2.4" fill="#b283ee"/><rect x="558.8" y="751.1" width="4.8" height="2.4" fill="#40e040"/><rect x="565.37" y="748.16" width="4.8" height="2.4" fill="#b283ee"/><rect x="565.37" y="750.56" width="4.8" height="2.4" fill="#40e040"/><rect x="571.95" y="749.78" width="4.8" height="2.4" fill="#b283ee"/><rect x="571.95" y="752.18" width="4.8" height="2.4" fill="#40e040"/><rect x="578.52" y="754.1" width="4.8" height="2.4" fill="#b283ee"/><rect x="578.52" y="756.5" width="4.8" height="2.4" fill="#40e040"/><rect x="585.1" y="758.96" width="4.8" height="2.4" fill="#b283ee"/><rect x="585.1" y="761.36" width="4.8" height="2.4" fill="#40e040"/><rect x="591.67" y="761.12" width="4.8" height="2.4" fill="#b283ee"/><rect x="591.67" y="763.52" width="4.8" height="2.4" fill="#40e040"/><rect x="598.25" y="758.96" width="4.8" height="2.4" fill="#b283ee"/><rect x="598.25" y="761.36" width="4.8" height="2.4" fill="#40e040"/><rect x="604.82" y="754.1" width="4.8" height="2.4" fill="#b283ee"/><rect x="604.82" y="756.5" width="4.8" height="2.4" fill="#40e040"/><rect x="611.39" y="758.96" width="4.8" height="2.4" fill="#b283ee"/><rect x="611.39" y="761.36" width="4.8" height="2.4" fill="#40e040"/><rect x="617.97" y="764.9" width="4.8" height="2.4" fill="#b283ee"/><rect x="617.97" y="767.3" width="4.8" height="2.4" fill="#40e040"/><rect x="624.54" y="802.7" width="4.8" height="2.4" fill="#b283ee"/><rect x="624.54" y="805.1" width="4.8" height="2.4" fill="#40e040"/><rect x="631.12" y="839.42" width="4.8" height="2.4" fill="#b283ee"/><rect x="631.12" y="841.82" width="4.8" height="2.4" fill="#40e040"/>
<path d="M403.41,646.34C404.5,646.34 407.79,646.16 409.98,646.34C412.17,646.52 414.36,646.07 416.56,647.42C418.75,648.77 420.94,650.93 423.13,654.44C425.32,657.95 427.51,664.7 429.71,668.48C431.9,672.26 434.09,676.04 436.28,677.12C438.47,678.2 440.66,676.58 442.85,674.96C445.05,673.34 447.24,669.2 449.43,667.4C451.62,665.6 453.81,665.15 456,664.16C458.2,663.17 460.39,662.09 462.58,661.46C464.77,660.83 466.96,660.74 469.15,660.38C471.34,660.02 473.54,659.21 475.73,659.3C477.92,659.39 480.11,660.29 482.3,660.92C484.49,661.55 486.69,662.36 488.88,663.08C491.07,663.8 493.26,664.7 495.45,665.24C497.64,665.78 499.83,666.14 502.03,666.32C504.22,666.5 506.41,666.32 508.6,666.32C510.79,666.32 512.98,666.32 515.18,666.32C517.37,666.32 519.56,666.41 521.75,666.32C523.94,666.23 526.13,665.87 528.32,665.78C530.52,665.69 532.71,665.69 534.9,665.78C537.09,665.87 539.28,666.23 541.47,666.32C543.67,666.41 545.86,666.32 548.05,666.32C550.24,666.32 552.43,666.32 554.62,666.32C556.81,666.32 559.01,666.5 561.2,666.32C563.39,666.14 565.58,665.69 567.77,665.24C569.96,664.79 572.16,664.25 574.35,663.62C576.54,662.99 578.73,662 580.92,661.46C583.11,660.92 585.3,660.74 587.5,660.38C589.69,660.02 591.88,659.12 594.07,659.3C596.26,659.48 598.45,660.65 600.65,661.46C602.84,662.27 605.03,663.17 607.22,664.16C609.41,665.15 611.6,666.05 613.79,667.4C615.99,668.75 618.18,670.55 620.37,672.26C622.56,673.97 624.75,677.57 626.94,677.66C629.14,677.75 632.42,673.61 633.52,672.8" fill="none" stroke="#f04848" stroke-width="0.9" stroke-linejoin="round"/>
<rect x="401.01" y="643.94" width="4.8" height="2.4" fill="#f04848"/><rect x="401.01" y="646.34" width="4.8" height="2.4" fill="#40e040"/><rect x="407.58" y="643.94" width="4.8" height="2.4" fill="#f04848"/><rect x="407.58" y="646.34" width="4.8" height="2.4" fill="#40e040"/><rect x="414.16" y="645.02" width="4.8" height="2.4" fill="#f04848"/><rect x="414.16" y="647.42" width="4.8" height="2.4" fill="#40e040"/><rect x="420.73" y="652.04" width="4.8" height="2.4" fill="#f04848"/><rect x="420.73" y="654.44" width="4.8" height="2.4" fill="#40e040"/><rect x="427.31" y="666.08" width="4.8" height="2.4" fill="#f04848"/><rect x="427.31" y="668.48" width="4.8" height="2.4" fill="#40e040"/><rect x="433.88" y="674.72" width="4.8" height="2.4" fill="#f04848"/><rect x="433.88" y="677.12" width="4.8" height="2.4" fill="#40e040"/><rect x="440.45" y="672.56" width="4.8" height="2.4" fill="#f04848"/><rect x="440.45" y="674.96" width="4.8" height="2.4" fill="#40e040"/><rect x="447.03" y="665" width="4.8" height="2.4" fill="#f04848"/><rect x="447.03" y="667.4" width="4.8" height="2.4" fill="#40e040"/><rect x="453.6" y="661.76" width="4.8" height="2.4" fill="#f04848"/><rect x="453.6" y="664.16" width="4.8" height="2.4" fill="#40e040"/><rect x="460.18" y="659.06" width="4.8" height="2.4" fill="#f04848"/><rect x="460.18" y="661.46" width="4.8" height="2.4" fill="#40e040"/><rect x="466.75" y="657.98" width="4.8" height="2.4" fill="#f04848"/><rect x="466.75" y="660.38" width="4.8" height="2.4" fill="#40e040"/><rect x="473.33" y="656.9" width="4.8" height="2.4" fill="#f04848"/><rect x="473.33" y="659.3" width="4.8" height="2.4" fill="#40e040"/><rect x="479.9" y="658.52" width="4.8" height="2.4" fill="#f04848"/><rect x="479.9" y="660.92" width="4.8" height="2.4" fill="#40e040"/><rect x="486.48" y="660.68" width="4.8" height="2.4" fill="#f04848"/><rect x="486.48" y="663.08" width="4.8" height="2.4" fill="#40e040"/><rect x="493.05" y="662.84" width="4.8" height="2.4" fill="#f04848"/><rect x="493.05" y="665.24" width="4.8" height="2.4" fill="#40e040"/><rect x="499.63" y="663.92" width="4.8" height="2.4" fill="#f04848"/><rect x="499.63" y="666.32" width="4.8" height="2.4" fill="#40e040"/><rect x="506.2" y="663.92" width="4.8" height="2.4" fill="#f04848"/><rect x="506.2" y="666.32" width="4.8" height="2.4" fill="#40e040"/><rect x="512.78" y="663.92" width="4.8" height="2.4" fill="#f04848"/><rect x="512.78" y="666.32" width="4.8" height="2.4" fill="#40e040"/><rect x="519.35" y="663.92" width="4.8" height="2.4" fill="#f04848"/><rect x="519.35" y="666.32" width="4.8" height="2.4" fill="#40e040"/><rect x="525.92" y="663.38" width="4.8" height="2.4" fill="#f04848"/><rect x="525.92" y="665.78" width="4.8" height="2.4" fill="#40e040"/><rect x="532.5" y="663.38" width="4.8" height="2.4" fill="#f04848"/><rect x="532.5" y="665.78" width="4.8" height="2.4" fill="#40e040"/><rect x="539.07" y="663.92" width="4.8" height="2.4" fill="#f04848"/><rect x="539.07" y="666.32" width="4.8" height="2.4" fill="#40e040"/><rect x="545.65" y="663.92" width="4.8" height="2.4" fill="#f04848"/><rect x="545.65" y="666.32" width="4.8" height="2.4" fill="#40e040"/><rect x="552.22" y="663.92" width="4.8" height="2.4" fill="#f04848"/><rect x="552.22" y="666.32" width="4.8" height="2.4" fill="#40e040"/><rect x="558.8" y="663.92" width="4.8" height="2.4" fill="#f04848"/><rect x="558.8" y="666.32" width="4.8" height="2.4" fill="#40e040"/><rect x="565.37" y="662.84" width="4.8" height="2.4" fill="#f04848"/><rect x="565.37" y="665.24" width="4.8" height="2.4" fill="#40e040"/><rect x="571.95" y="661.22" width="4.8" height="2.4" fill="#f04848"/><rect x="571.95" y="663.62" width="4.8" height="2.4" fill="#40e040"/><rect x="578.52" y="659.06" width="4.8" height="2.4" fill="#f04848"/><rect x="578.52" y="661.46" width="4.8" height="2.4" fill="#40e040"/><rect x="585.1" y="657.98" width="4.8" height="2.4" fill="#f04848"/><rect x="585.1" y="660.38" width="4.8" height="2.4" fill="#40e040"/><rect x="591.67" y="656.9" width="4.8" height="2.4" fill="#f04848"/><rect x="591.67" y="659.3" width="4.8" height="2.4" fill="#40e040"/><rect x="598.25" y="659.06" width="4.8" height="2.4" fill="#f04848"/><rect x="598.25" y="661.46" width="4.8" height="2.4" fill="#40e040"/><rect x="604.82" y="661.76" width="4.8" height="2.4" fill="#f04848"/><rect x="604.82" y="664.16" width="4.8" height="2.4" fill="#40e040"/><rect x="611.39" y="665" width="4.8" height="2.4" fill="#f04848"/><rect x="611.39" y="667.4" width="4.8" height="2.4" fill="#40e040"/><rect x="617.97" y="669.86" width="4.8" height="2.4" fill="#f04848"/><rect x="617.97" y="672.26" width="4.8" height="2.4" fill="#40e040"/><rect x="624.54" y="675.26" width="4.8" height="2.4" fill="#f04848"/><rect x="624.54" y="677.66" width="4.8" height="2.4" fill="#40e040"/><rect x="631.12" y="670.4" width="4.8" height="2.4" fill="#f04848"/><rect x="631.12" y="672.8" width="4.8" height="2.4" fill="#40e040"/>
<path d="M403.41,649.04C404.5,649.04 407.79,648.77 409.98,649.04C412.17,649.31 414.36,649.26 416.56,650.66C418.75,652.05 420.94,653.99 423.13,657.41C425.32,660.83 427.51,667.67 429.71,671.18C431.9,674.69 434.09,677.75 436.28,678.47C438.47,679.19 440.66,677.12 442.85,675.5C445.05,673.88 447.24,670.5 449.43,668.75C451.62,667 453.81,666.05 456,664.97C458.2,663.89 460.39,662.86 462.58,662.27C464.77,661.68 466.96,661.64 469.15,661.46C471.34,661.28 473.54,660.92 475.73,661.19C477.92,661.46 480.11,662.31 482.3,663.08C484.49,663.84 486.69,665.01 488.88,665.78C491.07,666.54 493.26,667.22 495.45,667.67C497.64,668.12 499.83,668.35 502.03,668.48C504.22,668.62 506.41,668.48 508.6,668.48C510.79,668.48 512.98,668.48 515.18,668.48C517.37,668.48 519.56,668.57 521.75,668.48C523.94,668.39 526.13,668.03 528.32,667.94C530.52,667.85 532.71,667.85 534.9,667.94C537.09,668.03 539.28,668.39 541.47,668.48C543.67,668.57 545.86,668.48 548.05,668.48C550.24,668.48 552.43,668.48 554.62,668.48C556.81,668.48 559.01,668.62 561.2,668.48C563.39,668.35 565.58,668.16 567.77,667.67C569.96,667.17 572.16,666.23 574.35,665.51C576.54,664.79 578.73,663.98 580.92,663.35C583.11,662.72 585.3,662.23 587.5,661.73C589.69,661.24 591.88,660.34 594.07,660.38C596.26,660.42 598.45,661.28 600.65,662C602.84,662.72 605.03,663.66 607.22,664.7C609.41,665.73 611.6,666.77 613.79,668.21C615.99,669.65 618.18,671.58 620.37,673.34C622.56,675.09 624.75,678.42 626.94,678.74C629.14,679.06 632.42,675.82 633.52,675.23" fill="none" stroke="#d2a01c" stroke-width="0.9" stroke-linejoin="round"/>
<rect x="401.01" y="646.64" width="4.8" height="2.4" fill="#e0a020"/><rect x="401.01" y="649.04" width="4.8" height="2.4" fill="#40e040"/><rect x="407.58" y="646.64" width="4.8" height="2.4" fill="#e0a020"/><rect x="407.58" y="649.04" width="4.8" height="2.4" fill="#40e040"/><rect x="414.16" y="648.26" width="4.8" height="2.4" fill="#e0a020"/><rect x="414.16" y="650.66" width="4.8" height="2.4" fill="#40e040"/><rect x="420.73" y="655.01" width="4.8" height="2.4" fill="#e0a020"/><rect x="420.73" y="657.41" width="4.8" height="2.4" fill="#40e040"/><rect x="427.31" y="668.78" width="4.8" height="2.4" fill="#e0a020"/><rect x="427.31" y="671.18" width="4.8" height="2.4" fill="#40e040"/><rect x="433.88" y="676.07" width="4.8" height="2.4" fill="#e0a020"/><rect x="433.88" y="678.47" width="4.8" height="2.4" fill="#40e040"/><rect x="440.45" y="673.1" width="4.8" height="2.4" fill="#e0a020"/><rect x="440.45" y="675.5" width="4.8" height="2.4" fill="#40e040"/><rect x="447.03" y="666.35" width="4.8" height="2.4" fill="#e0a020"/><rect x="447.03" y="668.75" width="4.8" height="2.4" fill="#40e040"/><rect x="453.6" y="662.57" width="4.8" height="2.4" fill="#e0a020"/><rect x="453.6" y="664.97" width="4.8" height="2.4" fill="#40e040"/><rect x="460.18" y="659.87" width="4.8" height="2.4" fill="#e0a020"/><rect x="460.18" y="662.27" width="4.8" height="2.4" fill="#40e040"/><rect x="466.75" y="659.06" width="4.8" height="2.4" fill="#e0a020"/><rect x="466.75" y="661.46" width="4.8" height="2.4" fill="#40e040"/><rect x="473.33" y="658.79" width="4.8" height="2.4" fill="#e0a020"/><rect x="473.33" y="661.19" width="4.8" height="2.4" fill="#40e040"/><rect x="479.9" y="660.68" width="4.8" height="2.4" fill="#e0a020"/><rect x="479.9" y="663.08" width="4.8" height="2.4" fill="#40e040"/><rect x="486.48" y="663.38" width="4.8" height="2.4" fill="#e0a020"/><rect x="486.48" y="665.78" width="4.8" height="2.4" fill="#40e040"/><rect x="493.05" y="665.27" width="4.8" height="2.4" fill="#e0a020"/><rect x="493.05" y="667.67" width="4.8" height="2.4" fill="#40e040"/><rect x="499.63" y="666.08" width="4.8" height="2.4" fill="#e0a020"/><rect x="499.63" y="668.48" width="4.8" height="2.4" fill="#40e040"/><rect x="506.2" y="666.08" width="4.8" height="2.4" fill="#e0a020"/><rect x="506.2" y="668.48" width="4.8" height="2.4" fill="#40e040"/><rect x="512.78" y="666.08" width="4.8" height="2.4" fill="#e0a020"/><rect x="512.78" y="668.48" width="4.8" height="2.4" fill="#40e040"/><rect x="519.35" y="666.08" width="4.8" height="2.4" fill="#e0a020"/><rect x="519.35" y="668.48" width="4.8" height="2.4" fill="#40e040"/><rect x="525.92" y="665.54" width="4.8" height="2.4" fill="#e0a020"/><rect x="525.92" y="667.94" width="4.8" height="2.4" fill="#40e040"/><rect x="532.5" y="665.54" width="4.8" height="2.4" fill="#e0a020"/><rect x="532.5" y="667.94" width="4.8" height="2.4" fill="#40e040"/><rect x="539.07" y="666.08" width="4.8" height="2.4" fill="#e0a020"/><rect x="539.07" y="668.48" width="4.8" height="2.4" fill="#40e040"/><rect x="545.65" y="666.08" width="4.8" height="2.4" fill="#e0a020"/><rect x="545.65" y="668.48" width="4.8" height="2.4" fill="#40e040"/><rect x="552.22" y="666.08" width="4.8" height="2.4" fill="#e0a020"/><rect x="552.22" y="668.48" width="4.8" height="2.4" fill="#40e040"/><rect x="558.8" y="666.08" width="4.8" height="2.4" fill="#e0a020"/><rect x="558.8" y="668.48" width="4.8" height="2.4" fill="#40e040"/><rect x="565.37" y="665.27" width="4.8" height="2.4" fill="#e0a020"/><rect x="565.37" y="667.67" width="4.8" height="2.4" fill="#40e040"/><rect x="571.95" y="663.11" width="4.8" height="2.4" fill="#e0a020"/><rect x="571.95" y="665.51" width="4.8" height="2.4" fill="#40e040"/><rect x="578.52" y="660.95" width="4.8" height="2.4" fill="#e0a020"/><rect x="578.52" y="663.35" width="4.8" height="2.4" fill="#40e040"/><rect x="585.1" y="659.33" width="4.8" height="2.4" fill="#e0a020"/><rect x="585.1" y="661.73" width="4.8" height="2.4" fill="#40e040"/><rect x="591.67" y="657.98" width="4.8" height="2.4" fill="#e0a020"/><rect x="591.67" y="660.38" width="4.8" height="2.4" fill="#40e040"/><rect x="598.25" y="659.6" width="4.8" height="2.4" fill="#e0a020"/><rect x="598.25" y="662" width="4.8" height="2.4" fill="#40e040"/><rect x="604.82" y="662.3" width="4.8" height="2.4" fill="#e0a020"/><rect x="604.82" y="664.7" width="4.8" height="2.4" fill="#40e040"/><rect x="611.39" y="665.81" width="4.8" height="2.4" fill="#e0a020"/><rect x="611.39" y="668.21" width="4.8" height="2.4" fill="#40e040"/><rect x="617.97" y="670.94" width="4.8" height="2.4" fill="#e0a020"/><rect x="617.97" y="673.34" width="4.8" height="2.4" fill="#40e040"/><rect x="624.54" y="676.34" width="4.8" height="2.4" fill="#e0a020"/><rect x="624.54" y="678.74" width="4.8" height="2.4" fill="#40e040"/><rect x="631.12" y="672.83" width="4.8" height="2.4" fill="#e0a020"/><rect x="631.12" y="675.23" width="4.8" height="2.4" fill="#40e040"/>
<path d="M403.41,651.74C404.5,651.74 407.79,651.38 409.98,651.74C412.17,652.1 414.36,652.46 416.56,653.9C418.75,655.34 420.94,657.05 423.13,660.38C425.32,663.71 427.51,670.64 429.71,673.88C431.9,677.12 434.09,679.46 436.28,679.82C438.47,680.18 440.66,677.66 442.85,676.04C445.05,674.42 447.24,671.81 449.43,670.1C451.62,668.39 453.81,666.95 456,665.78C458.2,664.61 460.39,663.62 462.58,663.08C464.77,662.54 466.96,662.54 469.15,662.54C471.34,662.54 473.54,662.63 475.73,663.08C477.92,663.53 480.11,664.34 482.3,665.24C484.49,666.14 486.69,667.67 488.88,668.48C491.07,669.29 493.26,669.74 495.45,670.1C497.64,670.46 499.83,670.55 502.03,670.64C504.22,670.73 506.41,670.64 508.6,670.64C510.79,670.64 512.98,670.64 515.18,670.64C517.37,670.64 519.56,670.73 521.75,670.64C523.94,670.55 526.13,670.19 528.32,670.1C530.52,670.01 532.71,670.01 534.9,670.1C537.09,670.19 539.28,670.55 541.47,670.64C543.67,670.73 545.86,670.64 548.05,670.64C550.24,670.64 552.43,670.64 554.62,670.64C556.81,670.64 559.01,670.73 561.2,670.64C563.39,670.55 565.58,670.64 567.77,670.1C569.96,669.56 572.16,668.21 574.35,667.4C576.54,666.59 578.73,665.96 580.92,665.24C583.11,664.52 585.3,663.71 587.5,663.08C589.69,662.45 591.88,661.55 594.07,661.46C596.26,661.37 598.45,661.91 600.65,662.54C602.84,663.17 605.03,664.16 607.22,665.24C609.41,666.32 611.6,667.49 613.79,669.02C615.99,670.55 618.18,672.62 620.37,674.42C622.56,676.22 624.75,679.28 626.94,679.82C629.14,680.36 632.42,678.02 633.52,677.66" fill="none" stroke="#2aaa70" stroke-width="0.9" stroke-linejoin="round"/>
<rect x="401.01" y="649.34" width="4.8" height="2.4" fill="#2aaa70"/><rect x="401.01" y="651.74" width="4.8" height="2.4" fill="#40e040"/><rect x="407.58" y="649.34" width="4.8" height="2.4" fill="#2aaa70"/><rect x="407.58" y="651.74" width="4.8" height="2.4" fill="#40e040"/><rect x="414.16" y="651.5" width="4.8" height="2.4" fill="#2aaa70"/><rect x="414.16" y="653.9" width="4.8" height="2.4" fill="#40e040"/><rect x="420.73" y="657.98" width="4.8" height="2.4" fill="#2aaa70"/><rect x="420.73" y="660.38" width="4.8" height="2.4" fill="#40e040"/><rect x="427.31" y="671.48" width="4.8" height="2.4" fill="#2aaa70"/><rect x="427.31" y="673.88" width="4.8" height="2.4" fill="#40e040"/><rect x="433.88" y="677.42" width="4.8" height="2.4" fill="#2aaa70"/><rect x="433.88" y="679.82" width="4.8" height="2.4" fill="#40e040"/><rect x="440.45" y="673.64" width="4.8" height="2.4" fill="#2aaa70"/><rect x="440.45" y="676.04" width="4.8" height="2.4" fill="#40e040"/><rect x="447.03" y="667.7" width="4.8" height="2.4" fill="#2aaa70"/><rect x="447.03" y="670.1" width="4.8" height="2.4" fill="#40e040"/><rect x="453.6" y="663.38" width="4.8" height="2.4" fill="#2aaa70"/><rect x="453.6" y="665.78" width="4.8" height="2.4" fill="#40e040"/><rect x="460.18" y="660.68" width="4.8" height="2.4" fill="#2aaa70"/><rect x="460.18" y="663.08" width="4.8" height="2.4" fill="#40e040"/><rect x="466.75" y="660.14" width="4.8" height="2.4" fill="#2aaa70"/><rect x="466.75" y="662.54" width="4.8" height="2.4" fill="#40e040"/><rect x="473.33" y="660.68" width="4.8" height="2.4" fill="#2aaa70"/><rect x="473.33" y="663.08" width="4.8" height="2.4" fill="#40e040"/><rect x="479.9" y="662.84" width="4.8" height="2.4" fill="#2aaa70"/><rect x="479.9" y="665.24" width="4.8" height="2.4" fill="#40e040"/><rect x="486.48" y="666.08" width="4.8" height="2.4" fill="#2aaa70"/><rect x="486.48" y="668.48" width="4.8" height="2.4" fill="#40e040"/><rect x="493.05" y="667.7" width="4.8" height="2.4" fill="#2aaa70"/><rect x="493.05" y="670.1" width="4.8" height="2.4" fill="#40e040"/><rect x="499.63" y="668.24" width="4.8" height="2.4" fill="#2aaa70"/><rect x="499.63" y="670.64" width="4.8" height="2.4" fill="#40e040"/><rect x="506.2" y="668.24" width="4.8" height="2.4" fill="#2aaa70"/><rect x="506.2" y="670.64" width="4.8" height="2.4" fill="#40e040"/><rect x="512.78" y="668.24" width="4.8" height="2.4" fill="#2aaa70"/><rect x="512.78" y="670.64" width="4.8" height="2.4" fill="#40e040"/><rect x="519.35" y="668.24" width="4.8" height="2.4" fill="#2aaa70"/><rect x="519.35" y="670.64" width="4.8" height="2.4" fill="#40e040"/><rect x="525.92" y="667.7" width="4.8" height="2.4" fill="#2aaa70"/><rect x="525.92" y="670.1" width="4.8" height="2.4" fill="#40e040"/><rect x="532.5" y="667.7" width="4.8" height="2.4" fill="#2aaa70"/><rect x="532.5" y="670.1" width="4.8" height="2.4" fill="#40e040"/><rect x="539.07" y="668.24" width="4.8" height="2.4" fill="#2aaa70"/><rect x="539.07" y="670.64" width="4.8" height="2.4" fill="#40e040"/><rect x="545.65" y="668.24" width="4.8" height="2.4" fill="#2aaa70"/><rect x="545.65" y="670.64" width="4.8" height="2.4" fill="#40e040"/><rect x="552.22" y="668.24" width="4.8" height="2.4" fill="#2aaa70"/><rect x="552.22" y="670.64" width="4.8" height="2.4" fill="#40e040"/><rect x="558.8" y="668.24" width="4.8" height="2.4" fill="#2aaa70"/><rect x="558.8" y="670.64" width="4.8" height="2.4" fill="#40e040"/><rect x="565.37" y="667.7" width="4.8" height="2.4" fill="#2aaa70"/><rect x="565.37" y="670.1" width="4.8" height="2.4" fill="#40e040"/><rect x="571.95" y="665" width="4.8" height="2.4" fill="#2aaa70"/><rect x="571.95" y="667.4" width="4.8" height="2.4" fill="#40e040"/><rect x="578.52" y="662.84" width="4.8" height="2.4" fill="#2aaa70"/><rect x="578.52" y="665.24" width="4.8" height="2.4" fill="#40e040"/><rect x="585.1" y="660.68" width="4.8" height="2.4" fill="#2aaa70"/><rect x="585.1" y="663.08" width="4.8" height="2.4" fill="#40e040"/><rect x="591.67" y="659.06" width="4.8" height="2.4" fill="#2aaa70"/><rect x="591.67" y="661.46" width="4.8" height="2.4" fill="#40e040"/><rect x="598.25" y="660.14" width="4.8" height="2.4" fill="#2aaa70"/><rect x="598.25" y="662.54" width="4.8" height="2.4" fill="#40e040"/><rect x="604.82" y="662.84" width="4.8" height="2.4" fill="#2aaa70"/><rect x="604.82" y="665.24" width="4.8" height="2.4" fill="#40e040"/><rect x="611.39" y="666.62" width="4.8" height="2.4" fill="#2aaa70"/><rect x="611.39" y="669.02" width="4.8" height="2.4" fill="#40e040"/><rect x="617.97" y="672.02" width="4.8" height="2.4" fill="#2aaa70"/><rect x="617.97" y="674.42" width="4.8" height="2.4" fill="#40e040"/><rect x="624.54" y="677.42" width="4.8" height="2.4" fill="#2aaa70"/><rect x="624.54" y="679.82" width="4.8" height="2.4" fill="#40e040"/><rect x="631.12" y="675.26" width="4.8" height="2.4" fill="#2aaa70"/><rect x="631.12" y="677.66" width="4.8" height="2.4" fill="#40e040"/>
<line x1="598.6" y1="687.6" x2="615.7" y2="687.6" stroke="#454545" stroke-width="1.0"/>
<rect x="605" y="685.2" width="4.8" height="2.4" fill="#454545"/><rect x="605" y="687.6" width="4.8" height="2.4" fill="#40e040"/>
<text x="617.6" y="690.18" font-size="7.6"><tspan font-style="italic">σ</tspan><tspan font-size="70%" dy="1.8" font-style="italic">z</tspan><tspan dy="-1.8"> of CMTC</tspan></text>
<line x1="598.6" y1="698.8" x2="615.7" y2="698.8" stroke="#f04848" stroke-width="1.0"/>
<rect x="605" y="696.4" width="4.8" height="2.4" fill="#f04848"/><rect x="605" y="698.8" width="4.8" height="2.4" fill="#40e040"/>
<text x="617.6" y="701.38" font-size="7.6"><tspan font-style="italic">σ</tspan><tspan font-size="70%" dy="1.8">1</tspan><tspan dy="-1.8"> of CMTC</tspan></text>
<line x1="598.6" y1="709.9" x2="615.7" y2="709.9" stroke="#1c6fe8" stroke-width="1.0"/>
<rect x="605" y="707.5" width="4.8" height="2.4" fill="#1c6fe8"/><rect x="605" y="709.9" width="4.8" height="2.4" fill="#40e040"/>
<text x="617.6" y="712.48" font-size="7.6"><tspan font-style="italic">σ</tspan><tspan font-size="70%" dy="1.8" font-style="italic">z</tspan><tspan dy="-1.8"> of LMHT</tspan></text>
<line x1="598.6" y1="720.8" x2="615.7" y2="720.8" stroke="#2aaa70" stroke-width="1.0"/>
<rect x="605" y="718.4" width="4.8" height="2.4" fill="#2aaa70"/><rect x="605" y="720.8" width="4.8" height="2.4" fill="#40e040"/>
<text x="617.6" y="723.38" font-size="7.6"><tspan font-style="italic">σ</tspan><tspan font-size="70%" dy="1.8">1</tspan><tspan dy="-1.8"> of LMHT</tspan></text>
<line x1="598.6" y1="731.9" x2="615.7" y2="731.9" stroke="#b283ee" stroke-width="1.0"/>
<rect x="605" y="729.5" width="4.8" height="2.4" fill="#b283ee"/><rect x="605" y="731.9" width="4.8" height="2.4" fill="#40e040"/>
<text x="617.6" y="734.48" font-size="7.6"><tspan font-style="italic">σ</tspan><tspan font-size="70%" dy="1.8" font-style="italic">z</tspan><tspan dy="-1.8"> of LCMTC</tspan></text>
<line x1="598.6" y1="742.9" x2="615.7" y2="742.9" stroke="#d2a01c" stroke-width="1.0"/>
<rect x="605" y="740.5" width="4.8" height="2.4" fill="#e0a020"/><rect x="605" y="742.9" width="4.8" height="2.4" fill="#40e040"/>
<text x="617.6" y="745.48" font-size="7.6"><tspan font-style="italic">σ</tspan><tspan font-size="70%" dy="1.8">1</tspan><tspan dy="-1.8"> of LCMTC</tspan></text>
<text x="521.8" y="894.4" font-size="12.0" text-anchor="middle" >Advance rate of Working face(m)</text>
<text transform="translate(352,746.8) rotate(-90)" font-size="11.95" text-anchor="middle">Stress Monitoring layout of Key strata(MPa)</text>
<text x="403.5" y="923.1" font-size="17.3" textLength="197.3" lengthAdjust="spacingAndGlyphs" fill="#000">Key roof stress comparison</text>
</svg></body></html>
